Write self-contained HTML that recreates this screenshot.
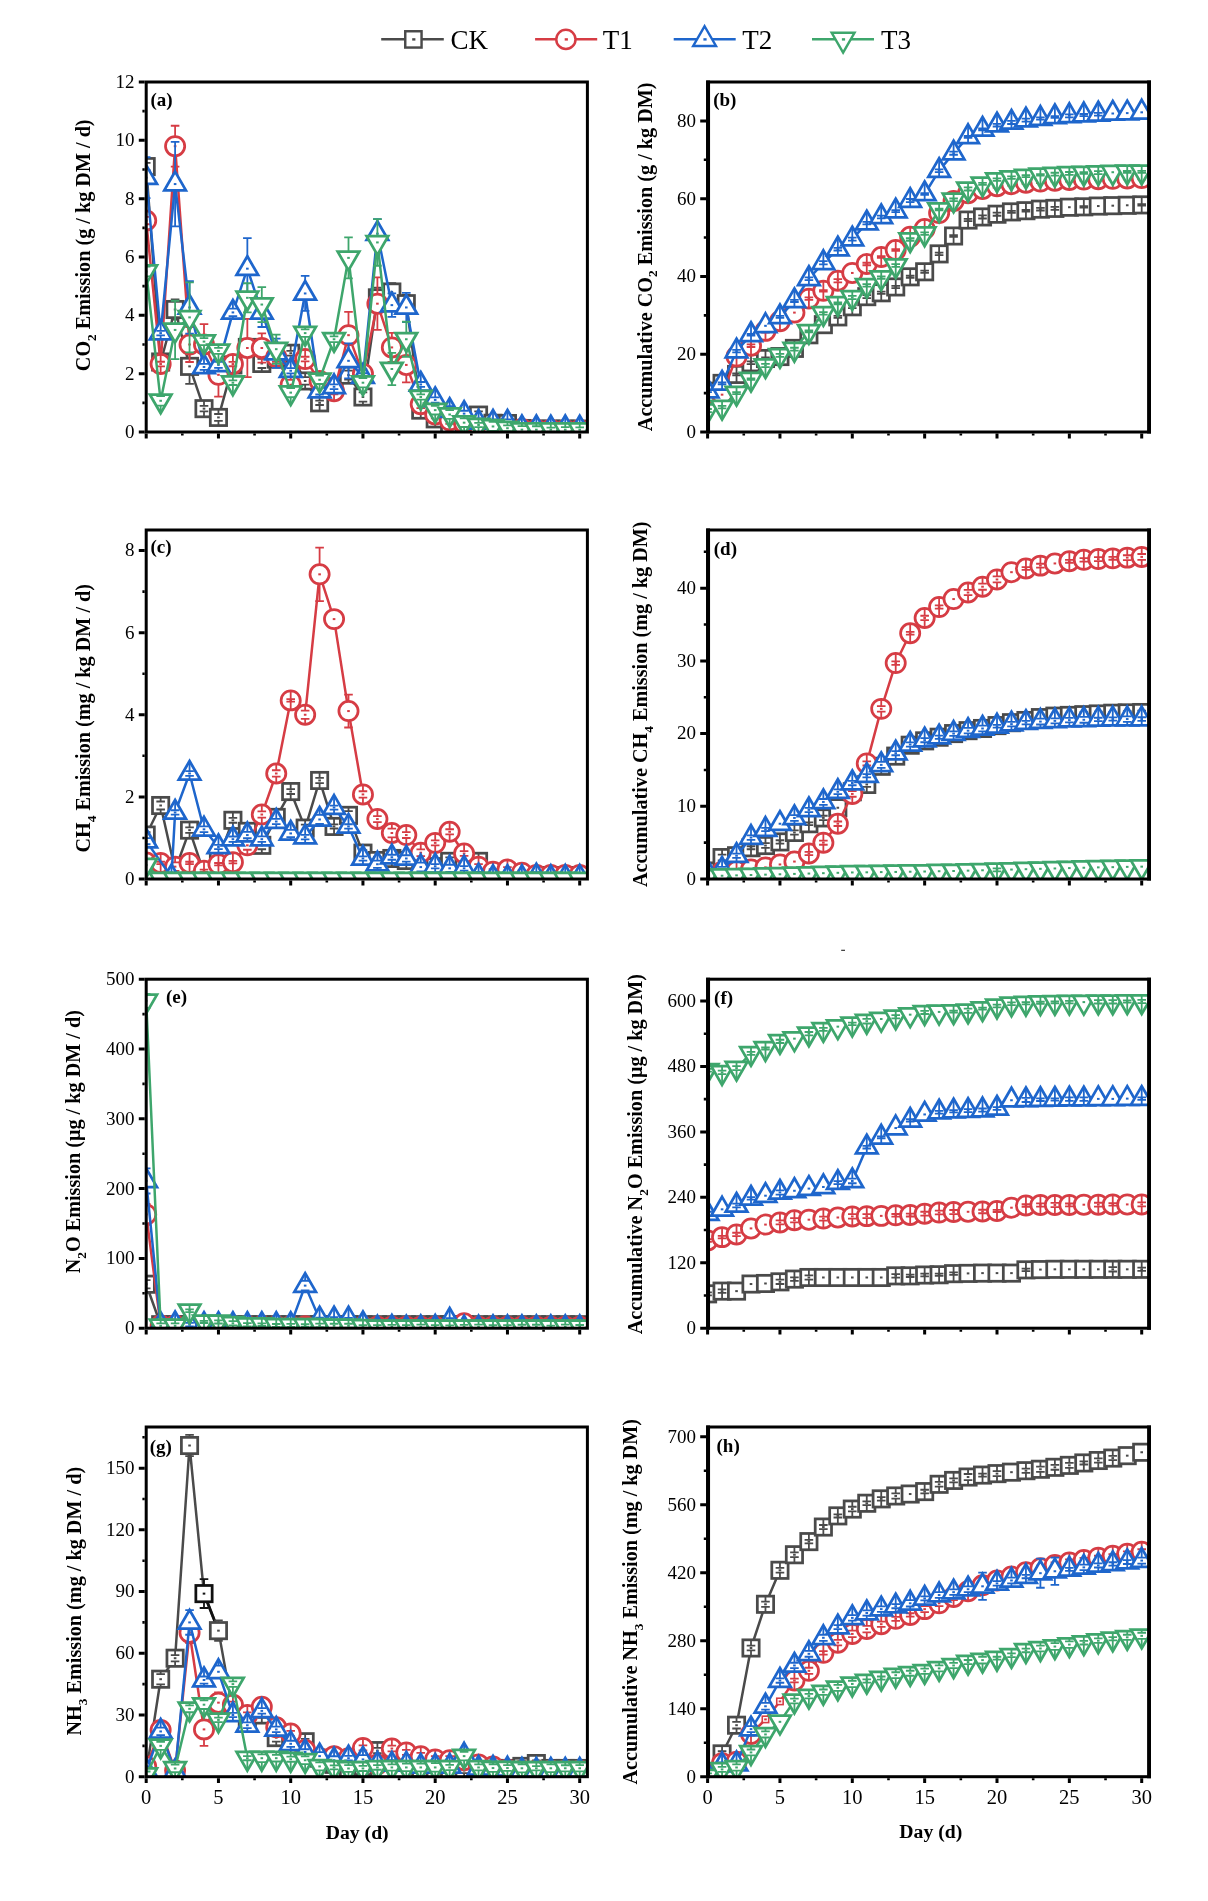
<!DOCTYPE html>
<html><head><meta charset="utf-8"><title>Gas emissions</title>
<style>html,body{margin:0;padding:0;background:#fff}svg{display:block;will-change:transform}text{font-family:"Liberation Serif",serif;fill:#000}</style></head><body>
<svg width="1208" height="1901" viewBox="0 0 1208 1901">
<rect width="1208" height="1901" fill="#fff"/>
<path d="M381.2 39.2H443.8" stroke="#4a4a4a" stroke-width="2.4"/>
<rect x="405.25" y="31.25" width="16.3" height="16.3" fill="#fff" stroke="#4a4a4a" stroke-width="2.45"/>
<rect x="412.2" y="38.2" width="3.2" height="2.4" fill="#4a4a4a"/>
<text x="450.5" y="48.8" font-size="27">CK</text>
<path d="M535.1 39.2H597.2" stroke="#d63c44" stroke-width="2.4"/>
<circle cx="565.9" cy="39.4" r="9.6" fill="#fff" stroke="#d63c44" stroke-width="2.45"/>
<rect x="564.7" y="38.2" width="3.2" height="2.4" fill="#d63c44"/>
<text x="602.7" y="48.8" font-size="27">T1</text>
<path d="M673.7 39.2H735.7" stroke="#1e66cc" stroke-width="2.4"/>
<polygon points="704.6,26.24 716,45.98 693.2,45.98" fill="#fff" stroke="#1e66cc" stroke-width="2.45" stroke-linejoin="miter"/>
<rect x="703.4" y="38.2" width="3.2" height="2.4" fill="#1e66cc"/>
<text x="742.2" y="48.8" font-size="27">T2</text>
<path d="M812.0 39.2H874.0" stroke="#3ea66c" stroke-width="2.4"/>
<polygon points="843.1,52.56 854.5,32.82 831.7,32.82" fill="#fff" stroke="#3ea66c" stroke-width="2.45" stroke-linejoin="miter"/>
<rect x="841.9" y="38.2" width="3.2" height="2.4" fill="#3ea66c"/>
<text x="880.9" y="48.8" font-size="27">T3</text>
<rect x="841.2" y="949.7" width="3.8" height="1.3" fill="#444"/>
<clipPath id="clipa"><rect x="146.2" y="82" width="441.2" height="350"/></clipPath>
<g clip-path="url(#clipa)">
<path d="M146.2 166.58L160.65 362L175.1 309.5L189.55 366.38L204 408.67L218.45 417.42L232.9 364.92L247.35 347.42L261.8 363.46L276.25 359.08L290.7 353.25L305.15 380.96L319.6 402.83L334.05 386.79L348.5 375.12L362.95 397L377.4 297.83L391.85 292L406.3 303.67L420.75 410.12L435.2 418.88L449.65 428.5L464.1 429.08L478.55 415.08L493 423.25L507.45 423.54L521.9 428.5L536.35 429.08L550.8 429.08L565.25 429.08L579.7 429.08" fill="none" stroke="#4a4a4a" stroke-width="2.5" stroke-linejoin="round"/>
<rect x="138.05" y="158.43" width="16.3" height="16.3" fill="#fff" stroke="#4a4a4a" stroke-width="2.75"/>
<path d="M146.2 158.43V162.96M141.9 162.96H150.5M146.2 174.73V170.21M141.9 170.21H150.5" stroke="#4a4a4a" stroke-width="1.8" fill="none"/>
<rect x="144.9" y="165.58" width="2.6" height="2" fill="#4a4a4a"/>
<rect x="152.5" y="353.85" width="16.3" height="16.3" fill="#fff" stroke="#4a4a4a" stroke-width="2.75"/>
<path d="M160.65 353.85V358.21M156.35 358.21H164.95M160.65 370.15V365.79M156.35 365.79H164.95" stroke="#4a4a4a" stroke-width="1.8" fill="none"/>
<rect x="159.35" y="361" width="2.6" height="2" fill="#4a4a4a"/>
<rect x="166.95" y="301.35" width="16.3" height="16.3" fill="#fff" stroke="#4a4a4a" stroke-width="2.75"/>
<path d="M175.1 301.35V299.29M170.8 299.29H179.4M175.1 317.65V319.71M170.8 319.71H179.4" stroke="#4a4a4a" stroke-width="1.8" fill="none"/>
<rect x="173.8" y="308.5" width="2.6" height="2" fill="#4a4a4a"/>
<rect x="181.4" y="358.23" width="16.3" height="16.3" fill="#fff" stroke="#4a4a4a" stroke-width="2.75"/>
<path d="M189.55 358.23V348.88M185.25 348.88H193.85M189.55 374.52V383.88M185.25 383.88H193.85" stroke="#4a4a4a" stroke-width="1.8" fill="none"/>
<rect x="188.25" y="365.38" width="2.6" height="2" fill="#4a4a4a"/>
<rect x="195.85" y="400.52" width="16.3" height="16.3" fill="#fff" stroke="#4a4a4a" stroke-width="2.75"/>
<path d="M204 400.52V405.91M199.7 405.91H208.3M204 416.82V411.42M199.7 411.42H208.3" stroke="#4a4a4a" stroke-width="1.8" fill="none"/>
<rect x="202.7" y="407.67" width="2.6" height="2" fill="#4a4a4a"/>
<rect x="210.3" y="409.27" width="16.3" height="16.3" fill="#fff" stroke="#4a4a4a" stroke-width="2.75"/>
<path d="M218.45 409.27V414M214.15 414H222.75M218.45 425.57V420.83M214.15 420.83H222.75" stroke="#4a4a4a" stroke-width="1.8" fill="none"/>
<rect x="217.15" y="416.42" width="2.6" height="2" fill="#4a4a4a"/>
<rect x="224.75" y="356.77" width="16.3" height="16.3" fill="#fff" stroke="#4a4a4a" stroke-width="2.75"/>
<path d="M232.9 356.77V361.48M228.6 361.48H237.2M232.9 373.07V368.35M228.6 368.35H237.2" stroke="#4a4a4a" stroke-width="1.8" fill="none"/>
<rect x="231.6" y="363.92" width="2.6" height="2" fill="#4a4a4a"/>
<rect x="239.2" y="339.27" width="16.3" height="16.3" fill="#fff" stroke="#4a4a4a" stroke-width="2.75"/>
<path d="M247.35 339.27V344.89M243.05 344.89H251.65M247.35 355.57V349.94M243.05 349.94H251.65" stroke="#4a4a4a" stroke-width="1.8" fill="none"/>
<rect x="246.05" y="346.42" width="2.6" height="2" fill="#4a4a4a"/>
<rect x="253.65" y="355.31" width="16.3" height="16.3" fill="#fff" stroke="#4a4a4a" stroke-width="2.75"/>
<path d="M261.8 355.31V358.93M257.5 358.93H266.1M261.8 371.61V367.99M257.5 367.99H266.1" stroke="#4a4a4a" stroke-width="1.8" fill="none"/>
<rect x="260.5" y="362.46" width="2.6" height="2" fill="#4a4a4a"/>
<rect x="268.1" y="350.93" width="16.3" height="16.3" fill="#fff" stroke="#4a4a4a" stroke-width="2.75"/>
<path d="M276.25 350.93V354.91M271.95 354.91H280.55M276.25 367.23V363.26M271.95 363.26H280.55" stroke="#4a4a4a" stroke-width="1.8" fill="none"/>
<rect x="274.95" y="358.08" width="2.6" height="2" fill="#4a4a4a"/>
<rect x="282.55" y="345.1" width="16.3" height="16.3" fill="#fff" stroke="#4a4a4a" stroke-width="2.75"/>
<path d="M290.7 345.1V350.97M286.4 350.97H295M290.7 361.4V355.53M286.4 355.53H295" stroke="#4a4a4a" stroke-width="1.8" fill="none"/>
<rect x="289.4" y="352.25" width="2.6" height="2" fill="#4a4a4a"/>
<rect x="297" y="372.81" width="16.3" height="16.3" fill="#fff" stroke="#4a4a4a" stroke-width="2.75"/>
<path d="M305.15 372.81V377.2M300.85 377.2H309.45M305.15 389.11V384.71M300.85 384.71H309.45" stroke="#4a4a4a" stroke-width="1.8" fill="none"/>
<rect x="303.85" y="379.96" width="2.6" height="2" fill="#4a4a4a"/>
<rect x="311.45" y="394.68" width="16.3" height="16.3" fill="#fff" stroke="#4a4a4a" stroke-width="2.75"/>
<path d="M319.6 394.68V400.65M315.3 400.65H323.9M319.6 410.98V405.02M315.3 405.02H323.9" stroke="#4a4a4a" stroke-width="1.8" fill="none"/>
<rect x="318.3" y="401.83" width="2.6" height="2" fill="#4a4a4a"/>
<rect x="325.9" y="378.64" width="16.3" height="16.3" fill="#fff" stroke="#4a4a4a" stroke-width="2.75"/>
<path d="M334.05 378.64V383.37M329.75 383.37H338.35M334.05 394.94V390.22M329.75 390.22H338.35" stroke="#4a4a4a" stroke-width="1.8" fill="none"/>
<rect x="332.75" y="385.79" width="2.6" height="2" fill="#4a4a4a"/>
<rect x="340.35" y="366.98" width="16.3" height="16.3" fill="#fff" stroke="#4a4a4a" stroke-width="2.75"/>
<path d="M348.5 366.98V370.56M344.2 370.56H352.8M348.5 383.27V379.69M344.2 379.69H352.8" stroke="#4a4a4a" stroke-width="1.8" fill="none"/>
<rect x="347.2" y="374.12" width="2.6" height="2" fill="#4a4a4a"/>
<rect x="354.8" y="388.85" width="16.3" height="16.3" fill="#fff" stroke="#4a4a4a" stroke-width="2.75"/>
<path d="M362.95 388.85V392.32M358.65 392.32H367.25M362.95 405.15V401.68M358.65 401.68H367.25" stroke="#4a4a4a" stroke-width="1.8" fill="none"/>
<rect x="361.65" y="396" width="2.6" height="2" fill="#4a4a4a"/>
<rect x="369.25" y="289.68" width="16.3" height="16.3" fill="#fff" stroke="#4a4a4a" stroke-width="2.75"/>
<path d="M377.4 289.68V287.63M373.1 287.63H381.7M377.4 305.98V308.04M373.1 308.04H381.7" stroke="#4a4a4a" stroke-width="1.8" fill="none"/>
<rect x="376.1" y="296.83" width="2.6" height="2" fill="#4a4a4a"/>
<rect x="383.7" y="283.85" width="16.3" height="16.3" fill="#fff" stroke="#4a4a4a" stroke-width="2.75"/>
<path d="M391.85 283.85V283.25M387.55 283.25H396.15M391.85 300.15V300.75M387.55 300.75H396.15" stroke="#4a4a4a" stroke-width="1.8" fill="none"/>
<rect x="390.55" y="291" width="2.6" height="2" fill="#4a4a4a"/>
<rect x="398.15" y="295.52" width="16.3" height="16.3" fill="#fff" stroke="#4a4a4a" stroke-width="2.75"/>
<path d="M406.3 295.52V294.92M402 294.92H410.6M406.3 311.82V312.42M402 312.42H410.6" stroke="#4a4a4a" stroke-width="1.8" fill="none"/>
<rect x="405" y="302.67" width="2.6" height="2" fill="#4a4a4a"/>
<rect x="412.6" y="401.98" width="16.3" height="16.3" fill="#fff" stroke="#4a4a4a" stroke-width="2.75"/>
<path d="M420.75 401.98V407.42M416.45 407.42H425.05M420.75 418.27V412.83M416.45 412.83H425.05" stroke="#4a4a4a" stroke-width="1.8" fill="none"/>
<rect x="419.45" y="409.12" width="2.6" height="2" fill="#4a4a4a"/>
<rect x="427.05" y="410.73" width="16.3" height="16.3" fill="#fff" stroke="#4a4a4a" stroke-width="2.75"/>
<path d="M435.2 410.73V415.55M430.9 415.55H439.5M435.2 427.02V422.2M430.9 422.2H439.5" stroke="#4a4a4a" stroke-width="1.8" fill="none"/>
<rect x="433.9" y="417.88" width="2.6" height="2" fill="#4a4a4a"/>
<rect x="441.5" y="420.35" width="16.3" height="16.3" fill="#fff" stroke="#4a4a4a" stroke-width="2.75"/>
<path d="M449.65 420.35V425.56M445.35 425.56H453.95M449.65 436.65V431.44M445.35 431.44H453.95" stroke="#4a4a4a" stroke-width="1.8" fill="none"/>
<rect x="448.35" y="427.5" width="2.6" height="2" fill="#4a4a4a"/>
<rect x="455.95" y="420.93" width="16.3" height="16.3" fill="#fff" stroke="#4a4a4a" stroke-width="2.75"/>
<path d="M464.1 420.93V425.9M459.8 425.9H468.4M464.1 437.23V432.26M459.8 432.26H468.4" stroke="#4a4a4a" stroke-width="1.8" fill="none"/>
<rect x="462.8" y="428.08" width="2.6" height="2" fill="#4a4a4a"/>
<rect x="470.4" y="406.93" width="16.3" height="16.3" fill="#fff" stroke="#4a4a4a" stroke-width="2.75"/>
<path d="M478.55 406.93V411.35M474.25 411.35H482.85M478.55 423.23V418.82M474.25 418.82H482.85" stroke="#4a4a4a" stroke-width="1.8" fill="none"/>
<rect x="477.25" y="414.08" width="2.6" height="2" fill="#4a4a4a"/>
<rect x="484.85" y="415.1" width="16.3" height="16.3" fill="#fff" stroke="#4a4a4a" stroke-width="2.75"/>
<path d="M493 415.1V418.62M488.7 418.62H497.3M493 431.4V427.88M488.7 427.88H497.3" stroke="#4a4a4a" stroke-width="1.8" fill="none"/>
<rect x="491.7" y="422.25" width="2.6" height="2" fill="#4a4a4a"/>
<rect x="499.3" y="415.39" width="16.3" height="16.3" fill="#fff" stroke="#4a4a4a" stroke-width="2.75"/>
<path d="M507.45 415.39V418.84M503.15 418.84H511.75M507.45 431.69V428.24M503.15 428.24H511.75" stroke="#4a4a4a" stroke-width="1.8" fill="none"/>
<rect x="506.15" y="422.54" width="2.6" height="2" fill="#4a4a4a"/>
<rect x="513.75" y="420.35" width="16.3" height="16.3" fill="#fff" stroke="#4a4a4a" stroke-width="2.75"/>
<path d="M521.9 420.35V423.63M517.6 423.63H526.2M521.9 436.65V433.37M517.6 433.37H526.2" stroke="#4a4a4a" stroke-width="1.8" fill="none"/>
<rect x="520.6" y="427.5" width="2.6" height="2" fill="#4a4a4a"/>
<rect x="528.2" y="420.93" width="16.3" height="16.3" fill="#fff" stroke="#4a4a4a" stroke-width="2.75"/>
<path d="M536.35 420.93V426.53M532.05 426.53H540.65M536.35 437.23V431.64M532.05 431.64H540.65" stroke="#4a4a4a" stroke-width="1.8" fill="none"/>
<rect x="535.05" y="428.08" width="2.6" height="2" fill="#4a4a4a"/>
<rect x="542.65" y="420.93" width="16.3" height="16.3" fill="#fff" stroke="#4a4a4a" stroke-width="2.75"/>
<path d="M550.8 420.93V424.28M546.5 424.28H555.1M550.8 437.23V433.88M546.5 433.88H555.1" stroke="#4a4a4a" stroke-width="1.8" fill="none"/>
<rect x="549.5" y="428.08" width="2.6" height="2" fill="#4a4a4a"/>
<rect x="557.1" y="420.93" width="16.3" height="16.3" fill="#fff" stroke="#4a4a4a" stroke-width="2.75"/>
<path d="M565.25 420.93V425.39M560.95 425.39H569.55M565.25 437.23V432.78M560.95 432.78H569.55" stroke="#4a4a4a" stroke-width="1.8" fill="none"/>
<rect x="563.95" y="428.08" width="2.6" height="2" fill="#4a4a4a"/>
<rect x="571.55" y="420.93" width="16.3" height="16.3" fill="#fff" stroke="#4a4a4a" stroke-width="2.75"/>
<path d="M579.7 420.93V426.39M575.4 426.39H584M579.7 437.23V431.77M575.4 431.77H584" stroke="#4a4a4a" stroke-width="1.8" fill="none"/>
<rect x="578.4" y="428.08" width="2.6" height="2" fill="#4a4a4a"/>
<path d="M146.2 220.54L160.65 364.04L175.1 146.17L189.55 344.5L204 344.5L218.45 374.83L232.9 364.04L247.35 348L261.8 348L276.25 357.04L290.7 384.75L305.15 359.08L319.6 380.96L334.05 391.17L348.5 335.17L362.95 373.67L377.4 303.67L391.85 347.42L406.3 364.92L420.75 404.29L435.2 414.5L449.65 420.33L464.1 423.25L478.55 426.17L493 427.62L507.45 428.5L521.9 429.08L536.35 429.67L550.8 429.67L565.25 429.96L579.7 429.96" fill="none" stroke="#d63c44" stroke-width="2.5" stroke-linejoin="round"/>
<circle cx="146.2" cy="220.54" r="9.6" fill="#fff" stroke="#d63c44" stroke-width="2.75"/>
<path d="M146.2 210.94V216.84M141.9 216.84H150.5M146.2 230.14V224.25M141.9 224.25H150.5" stroke="#d63c44" stroke-width="1.8" fill="none"/>
<rect x="144.9" y="219.54" width="2.6" height="2" fill="#d63c44"/>
<circle cx="160.65" cy="364.04" r="9.6" fill="#fff" stroke="#d63c44" stroke-width="2.75"/>
<path d="M160.65 354.44V361.76M156.35 361.76H164.95M160.65 373.64V366.32M156.35 366.32H164.95" stroke="#d63c44" stroke-width="1.8" fill="none"/>
<rect x="159.35" y="363.04" width="2.6" height="2" fill="#d63c44"/>
<circle cx="175.1" cy="146.17" r="9.6" fill="#fff" stroke="#d63c44" stroke-width="2.75"/>
<path d="M175.1 136.57V125.75M170.8 125.75H179.4M175.1 155.77V166.58M170.8 166.58H179.4" stroke="#d63c44" stroke-width="1.8" fill="none"/>
<rect x="173.8" y="145.17" width="2.6" height="2" fill="#d63c44"/>
<circle cx="189.55" cy="344.5" r="9.6" fill="#fff" stroke="#d63c44" stroke-width="2.75"/>
<path d="M189.55 334.9V327M185.25 327H193.85M189.55 354.1V362M185.25 362H193.85" stroke="#d63c44" stroke-width="1.8" fill="none"/>
<rect x="188.25" y="343.5" width="2.6" height="2" fill="#d63c44"/>
<circle cx="204" cy="344.5" r="9.6" fill="#fff" stroke="#d63c44" stroke-width="2.75"/>
<path d="M204 334.9V324.08M199.7 324.08H208.3M204 354.1V364.92M199.7 364.92H208.3" stroke="#d63c44" stroke-width="1.8" fill="none"/>
<rect x="202.7" y="343.5" width="2.6" height="2" fill="#d63c44"/>
<circle cx="218.45" cy="374.83" r="9.6" fill="#fff" stroke="#d63c44" stroke-width="2.75"/>
<path d="M218.45 365.23V352.96M214.15 352.96H222.75M218.45 384.43V396.71M214.15 396.71H222.75" stroke="#d63c44" stroke-width="1.8" fill="none"/>
<rect x="217.15" y="373.83" width="2.6" height="2" fill="#d63c44"/>
<circle cx="232.9" cy="364.04" r="9.6" fill="#fff" stroke="#d63c44" stroke-width="2.75"/>
<path d="M232.9 354.44V361.82M228.6 361.82H237.2M232.9 373.64V366.27M228.6 366.27H237.2" stroke="#d63c44" stroke-width="1.8" fill="none"/>
<rect x="231.6" y="363.04" width="2.6" height="2" fill="#d63c44"/>
<circle cx="247.35" cy="348" r="9.6" fill="#fff" stroke="#d63c44" stroke-width="2.75"/>
<path d="M247.35 338.4V318.83M243.05 318.83H251.65M247.35 357.6V377.17M243.05 377.17H251.65" stroke="#d63c44" stroke-width="1.8" fill="none"/>
<rect x="246.05" y="347" width="2.6" height="2" fill="#d63c44"/>
<circle cx="261.8" cy="348" r="9.6" fill="#fff" stroke="#d63c44" stroke-width="2.75"/>
<path d="M261.8 338.4V333.42M257.5 333.42H266.1M261.8 357.6V362.58M257.5 362.58H266.1" stroke="#d63c44" stroke-width="1.8" fill="none"/>
<rect x="260.5" y="347" width="2.6" height="2" fill="#d63c44"/>
<circle cx="276.25" cy="357.04" r="9.6" fill="#fff" stroke="#d63c44" stroke-width="2.75"/>
<path d="M276.25 347.44V352.2M271.95 352.2H280.55M276.25 366.64V361.89M271.95 361.89H280.55" stroke="#d63c44" stroke-width="1.8" fill="none"/>
<rect x="274.95" y="356.04" width="2.6" height="2" fill="#d63c44"/>
<circle cx="290.7" cy="384.75" r="9.6" fill="#fff" stroke="#d63c44" stroke-width="2.75"/>
<path d="M290.7 375.15V379.85M286.4 379.85H295M290.7 394.35V389.65M286.4 389.65H295" stroke="#d63c44" stroke-width="1.8" fill="none"/>
<rect x="289.4" y="383.75" width="2.6" height="2" fill="#d63c44"/>
<circle cx="305.15" cy="359.08" r="9.6" fill="#fff" stroke="#d63c44" stroke-width="2.75"/>
<path d="M305.15 349.48V356.77M300.85 356.77H309.45M305.15 368.68V361.4M300.85 361.4H309.45" stroke="#d63c44" stroke-width="1.8" fill="none"/>
<rect x="303.85" y="358.08" width="2.6" height="2" fill="#d63c44"/>
<circle cx="319.6" cy="380.96" r="9.6" fill="#fff" stroke="#d63c44" stroke-width="2.75"/>
<path d="M319.6 371.36V378.77M315.3 378.77H323.9M319.6 390.56V383.15M315.3 383.15H323.9" stroke="#d63c44" stroke-width="1.8" fill="none"/>
<rect x="318.3" y="379.96" width="2.6" height="2" fill="#d63c44"/>
<circle cx="334.05" cy="391.17" r="9.6" fill="#fff" stroke="#d63c44" stroke-width="2.75"/>
<path d="M334.05 381.57V387.92M329.75 387.92H338.35M334.05 400.77V394.41M329.75 394.41H338.35" stroke="#d63c44" stroke-width="1.8" fill="none"/>
<rect x="332.75" y="390.17" width="2.6" height="2" fill="#d63c44"/>
<circle cx="348.5" cy="335.17" r="9.6" fill="#fff" stroke="#d63c44" stroke-width="2.75"/>
<path d="M348.5 325.57V311.83M344.2 311.83H352.8M348.5 344.77V358.5M344.2 358.5H352.8" stroke="#d63c44" stroke-width="1.8" fill="none"/>
<rect x="347.2" y="334.17" width="2.6" height="2" fill="#d63c44"/>
<circle cx="362.95" cy="373.67" r="9.6" fill="#fff" stroke="#d63c44" stroke-width="2.75"/>
<path d="M362.95 364.07V369.14M358.65 369.14H367.25M362.95 383.27V378.2M358.65 378.2H367.25" stroke="#d63c44" stroke-width="1.8" fill="none"/>
<rect x="361.65" y="372.67" width="2.6" height="2" fill="#d63c44"/>
<circle cx="377.4" cy="303.67" r="9.6" fill="#fff" stroke="#d63c44" stroke-width="2.75"/>
<path d="M377.4 294.07V277.42M373.1 277.42H381.7M377.4 313.27V329.92M373.1 329.92H381.7" stroke="#d63c44" stroke-width="1.8" fill="none"/>
<rect x="376.1" y="302.67" width="2.6" height="2" fill="#d63c44"/>
<circle cx="391.85" cy="347.42" r="9.6" fill="#fff" stroke="#d63c44" stroke-width="2.75"/>
<path d="M391.85 337.82V332.83M387.55 332.83H396.15M391.85 357.02V362M387.55 362H396.15" stroke="#d63c44" stroke-width="1.8" fill="none"/>
<rect x="390.55" y="346.42" width="2.6" height="2" fill="#d63c44"/>
<circle cx="406.3" cy="364.92" r="9.6" fill="#fff" stroke="#d63c44" stroke-width="2.75"/>
<path d="M406.3 355.32V347.42M402 347.42H410.6M406.3 374.52V382.42M402 382.42H410.6" stroke="#d63c44" stroke-width="1.8" fill="none"/>
<rect x="405" y="363.92" width="2.6" height="2" fill="#d63c44"/>
<circle cx="420.75" cy="404.29" r="9.6" fill="#fff" stroke="#d63c44" stroke-width="2.75"/>
<path d="M420.75 394.69V400.52M416.45 400.52H425.05M420.75 413.89V408.06M416.45 408.06H425.05" stroke="#d63c44" stroke-width="1.8" fill="none"/>
<rect x="419.45" y="403.29" width="2.6" height="2" fill="#d63c44"/>
<circle cx="435.2" cy="414.5" r="9.6" fill="#fff" stroke="#d63c44" stroke-width="2.75"/>
<path d="M435.2 404.9V410.66M430.9 410.66H439.5M435.2 424.1V418.34M430.9 418.34H439.5" stroke="#d63c44" stroke-width="1.8" fill="none"/>
<rect x="433.9" y="413.5" width="2.6" height="2" fill="#d63c44"/>
<circle cx="449.65" cy="420.33" r="9.6" fill="#fff" stroke="#d63c44" stroke-width="2.75"/>
<path d="M449.65 410.73V416.81M445.35 416.81H453.95M449.65 429.93V423.85M445.35 423.85H453.95" stroke="#d63c44" stroke-width="1.8" fill="none"/>
<rect x="448.35" y="419.33" width="2.6" height="2" fill="#d63c44"/>
<circle cx="464.1" cy="423.25" r="9.6" fill="#fff" stroke="#d63c44" stroke-width="2.75"/>
<path d="M464.1 413.65V419.13M459.8 419.13H468.4M464.1 432.85V427.37M459.8 427.37H468.4" stroke="#d63c44" stroke-width="1.8" fill="none"/>
<rect x="462.8" y="422.25" width="2.6" height="2" fill="#d63c44"/>
<circle cx="478.55" cy="426.17" r="9.6" fill="#fff" stroke="#d63c44" stroke-width="2.75"/>
<path d="M478.55 416.57V423.22M474.25 423.22H482.85M478.55 435.77V429.11M474.25 429.11H482.85" stroke="#d63c44" stroke-width="1.8" fill="none"/>
<rect x="477.25" y="425.17" width="2.6" height="2" fill="#d63c44"/>
<circle cx="493" cy="427.62" r="9.6" fill="#fff" stroke="#d63c44" stroke-width="2.75"/>
<path d="M493 418.02V424.07M488.7 424.07H497.3M493 437.23V431.18M488.7 431.18H497.3" stroke="#d63c44" stroke-width="1.8" fill="none"/>
<rect x="491.7" y="426.62" width="2.6" height="2" fill="#d63c44"/>
<circle cx="507.45" cy="428.5" r="9.6" fill="#fff" stroke="#d63c44" stroke-width="2.75"/>
<path d="M507.45 418.9V426.37M503.15 426.37H511.75M507.45 438.1V430.63M503.15 430.63H511.75" stroke="#d63c44" stroke-width="1.8" fill="none"/>
<rect x="506.15" y="427.5" width="2.6" height="2" fill="#d63c44"/>
<circle cx="521.9" cy="429.08" r="9.6" fill="#fff" stroke="#d63c44" stroke-width="2.75"/>
<path d="M521.9 419.48V425.36M517.6 425.36H526.2M521.9 438.68V432.81M517.6 432.81H526.2" stroke="#d63c44" stroke-width="1.8" fill="none"/>
<rect x="520.6" y="428.08" width="2.6" height="2" fill="#d63c44"/>
<circle cx="536.35" cy="429.67" r="9.6" fill="#fff" stroke="#d63c44" stroke-width="2.75"/>
<path d="M536.35 420.07V425.84M532.05 425.84H540.65M536.35 439.27V433.49M532.05 433.49H540.65" stroke="#d63c44" stroke-width="1.8" fill="none"/>
<rect x="535.05" y="428.67" width="2.6" height="2" fill="#d63c44"/>
<circle cx="550.8" cy="429.67" r="9.6" fill="#fff" stroke="#d63c44" stroke-width="2.75"/>
<path d="M550.8 420.07V427.4M546.5 427.4H555.1M550.8 439.27V431.93M546.5 431.93H555.1" stroke="#d63c44" stroke-width="1.8" fill="none"/>
<rect x="549.5" y="428.67" width="2.6" height="2" fill="#d63c44"/>
<circle cx="565.25" cy="429.96" r="9.6" fill="#fff" stroke="#d63c44" stroke-width="2.75"/>
<path d="M565.25 420.36V426.55M560.95 426.55H569.55M565.25 439.56V433.36M560.95 433.36H569.55" stroke="#d63c44" stroke-width="1.8" fill="none"/>
<rect x="563.95" y="428.96" width="2.6" height="2" fill="#d63c44"/>
<circle cx="579.7" cy="429.96" r="9.6" fill="#fff" stroke="#d63c44" stroke-width="2.75"/>
<path d="M579.7 420.36V426.87M575.4 426.87H584M579.7 439.56V433.05M575.4 433.05H584" stroke="#d63c44" stroke-width="1.8" fill="none"/>
<rect x="578.4" y="428.96" width="2.6" height="2" fill="#d63c44"/>
<path d="M146.2 177.67L160.65 333.12L175.1 184.08L189.55 307.46L204 366.96L218.45 364.92L232.9 312.42L247.35 268.67L261.8 312.42L276.25 353.25L290.7 370.75L305.15 293.46L319.6 391.17L334.05 386.79L348.5 360.83L362.95 376.58L377.4 233.67L391.85 305.12L406.3 307.46L420.75 384.46L435.2 399.92L449.65 410.71L464.1 413.62L478.55 422.38L493 422.38L507.45 422.38L521.9 427.92L536.35 427.92L550.8 428.21L565.25 427.92L579.7 428.21" fill="none" stroke="#1e66cc" stroke-width="2.5" stroke-linejoin="round"/>
<polygon points="146.2,165.2 157,183.9 135.4,183.9" fill="#fff" stroke="#1e66cc" stroke-width="2.75" stroke-linejoin="miter"/>
<path d="M146.2 165.2V157.25M141.9 157.25H150.5M146.2 183.9V198.08M141.9 198.08H150.5" stroke="#1e66cc" stroke-width="1.8" fill="none"/>
<rect x="144.9" y="176.67" width="2.6" height="2" fill="#1e66cc"/>
<polygon points="160.65,320.65 171.45,339.36 149.85,339.36" fill="#fff" stroke="#1e66cc" stroke-width="2.75" stroke-linejoin="miter"/>
<path d="M160.65 320.65V330.86M156.35 330.86H164.95M160.65 339.36V335.39M156.35 335.39H164.95" stroke="#1e66cc" stroke-width="1.8" fill="none"/>
<rect x="159.35" y="332.12" width="2.6" height="2" fill="#1e66cc"/>
<polygon points="175.1,171.61 185.9,190.32 164.3,190.32" fill="#fff" stroke="#1e66cc" stroke-width="2.75" stroke-linejoin="miter"/>
<path d="M175.1 171.61V141.79M170.8 141.79H179.4M175.1 190.32V226.37M170.8 226.37H179.4" stroke="#1e66cc" stroke-width="1.8" fill="none"/>
<rect x="173.8" y="183.08" width="2.6" height="2" fill="#1e66cc"/>
<polygon points="189.55,294.99 200.35,313.69 178.75,313.69" fill="#fff" stroke="#1e66cc" stroke-width="2.75" stroke-linejoin="miter"/>
<path d="M189.55 294.99V281.21M185.25 281.21H193.85M189.55 313.69V333.71M185.25 333.71H193.85" stroke="#1e66cc" stroke-width="1.8" fill="none"/>
<rect x="188.25" y="306.46" width="2.6" height="2" fill="#1e66cc"/>
<polygon points="204,354.49 214.8,373.19 193.2,373.19" fill="#fff" stroke="#1e66cc" stroke-width="2.75" stroke-linejoin="miter"/>
<path d="M204 354.49V363.96M199.7 363.96H208.3M204 373.19V369.95M199.7 369.95H208.3" stroke="#1e66cc" stroke-width="1.8" fill="none"/>
<rect x="202.7" y="365.96" width="2.6" height="2" fill="#1e66cc"/>
<polygon points="218.45,352.45 229.25,371.15 207.65,371.15" fill="#fff" stroke="#1e66cc" stroke-width="2.75" stroke-linejoin="miter"/>
<path d="M218.45 352.45V361.94M214.15 361.94H222.75M218.45 371.15V367.89M214.15 367.89H222.75" stroke="#1e66cc" stroke-width="1.8" fill="none"/>
<rect x="217.15" y="363.92" width="2.6" height="2" fill="#1e66cc"/>
<polygon points="232.9,299.95 243.7,318.65 222.1,318.65" fill="#fff" stroke="#1e66cc" stroke-width="2.75" stroke-linejoin="miter"/>
<path d="M232.9 299.95V308.65M228.6 308.65H237.2M232.9 318.65V316.18M228.6 316.18H237.2" stroke="#1e66cc" stroke-width="1.8" fill="none"/>
<rect x="231.6" y="311.42" width="2.6" height="2" fill="#1e66cc"/>
<polygon points="247.35,256.2 258.15,274.9 236.55,274.9" fill="#fff" stroke="#1e66cc" stroke-width="2.75" stroke-linejoin="miter"/>
<path d="M247.35 256.2V238.04M243.05 238.04H251.65M247.35 274.9V299.29M243.05 299.29H251.65" stroke="#1e66cc" stroke-width="1.8" fill="none"/>
<rect x="246.05" y="267.67" width="2.6" height="2" fill="#1e66cc"/>
<polygon points="261.8,299.95 272.6,318.65 251,318.65" fill="#fff" stroke="#1e66cc" stroke-width="2.75" stroke-linejoin="miter"/>
<path d="M261.8 299.95V297.83M257.5 297.83H266.1M261.8 318.65V327M257.5 327H266.1" stroke="#1e66cc" stroke-width="1.8" fill="none"/>
<rect x="260.5" y="311.42" width="2.6" height="2" fill="#1e66cc"/>
<polygon points="276.25,340.78 287.05,359.49 265.45,359.49" fill="#fff" stroke="#1e66cc" stroke-width="2.75" stroke-linejoin="miter"/>
<path d="M276.25 340.78V338.67M271.95 338.67H280.55M276.25 359.49V367.83M271.95 367.83H280.55" stroke="#1e66cc" stroke-width="1.8" fill="none"/>
<rect x="274.95" y="352.25" width="2.6" height="2" fill="#1e66cc"/>
<polygon points="290.7,358.28 301.5,376.99 279.9,376.99" fill="#fff" stroke="#1e66cc" stroke-width="2.75" stroke-linejoin="miter"/>
<path d="M290.7 358.28V368.03M286.4 368.03H295M290.7 376.99V373.47M286.4 373.47H295" stroke="#1e66cc" stroke-width="1.8" fill="none"/>
<rect x="289.4" y="369.75" width="2.6" height="2" fill="#1e66cc"/>
<polygon points="305.15,280.99 315.95,299.69 294.35,299.69" fill="#fff" stroke="#1e66cc" stroke-width="2.75" stroke-linejoin="miter"/>
<path d="M305.15 280.99V275.96M300.85 275.96H309.45M305.15 299.69V310.96M300.85 310.96H309.45" stroke="#1e66cc" stroke-width="1.8" fill="none"/>
<rect x="303.85" y="292.46" width="2.6" height="2" fill="#1e66cc"/>
<polygon points="319.6,378.7 330.4,397.4 308.8,397.4" fill="#fff" stroke="#1e66cc" stroke-width="2.75" stroke-linejoin="miter"/>
<path d="M319.6 378.7V387.85M315.3 387.85H323.9M319.6 397.4V394.49M315.3 394.49H323.9" stroke="#1e66cc" stroke-width="1.8" fill="none"/>
<rect x="318.3" y="390.17" width="2.6" height="2" fill="#1e66cc"/>
<polygon points="334.05,374.32 344.85,393.03 323.25,393.03" fill="#fff" stroke="#1e66cc" stroke-width="2.75" stroke-linejoin="miter"/>
<path d="M334.05 374.32V384.41M329.75 384.41H338.35M334.05 393.03V389.18M329.75 389.18H338.35" stroke="#1e66cc" stroke-width="1.8" fill="none"/>
<rect x="332.75" y="385.79" width="2.6" height="2" fill="#1e66cc"/>
<polygon points="348.5,348.36 359.3,367.07 337.7,367.07" fill="#fff" stroke="#1e66cc" stroke-width="2.75" stroke-linejoin="miter"/>
<path d="M348.5 348.36V343.33M344.2 343.33H352.8M348.5 367.07V378.33M344.2 378.33H352.8" stroke="#1e66cc" stroke-width="1.8" fill="none"/>
<rect x="347.2" y="359.83" width="2.6" height="2" fill="#1e66cc"/>
<polygon points="362.95,364.11 373.75,382.82 352.15,382.82" fill="#fff" stroke="#1e66cc" stroke-width="2.75" stroke-linejoin="miter"/>
<path d="M362.95 364.11V373.26M358.65 373.26H367.25M362.95 382.82V379.91M358.65 379.91H367.25" stroke="#1e66cc" stroke-width="1.8" fill="none"/>
<rect x="361.65" y="375.58" width="2.6" height="2" fill="#1e66cc"/>
<polygon points="377.4,221.2 388.2,239.9 366.6,239.9" fill="#fff" stroke="#1e66cc" stroke-width="2.75" stroke-linejoin="miter"/>
<path d="M377.4 221.2V219.08M373.1 219.08H381.7M377.4 239.9V248.25M373.1 248.25H381.7" stroke="#1e66cc" stroke-width="1.8" fill="none"/>
<rect x="376.1" y="232.67" width="2.6" height="2" fill="#1e66cc"/>
<polygon points="391.85,292.65 402.65,311.36 381.05,311.36" fill="#fff" stroke="#1e66cc" stroke-width="2.75" stroke-linejoin="miter"/>
<path d="M391.85 292.65V293.46M387.55 293.46H396.15M391.85 311.36V316.79M387.55 316.79H396.15" stroke="#1e66cc" stroke-width="1.8" fill="none"/>
<rect x="390.55" y="304.12" width="2.6" height="2" fill="#1e66cc"/>
<polygon points="406.3,294.99 417.1,313.69 395.5,313.69" fill="#fff" stroke="#1e66cc" stroke-width="2.75" stroke-linejoin="miter"/>
<path d="M406.3 294.99V292.88M402 292.88H410.6M406.3 313.69V322.04M402 322.04H410.6" stroke="#1e66cc" stroke-width="1.8" fill="none"/>
<rect x="405" y="306.46" width="2.6" height="2" fill="#1e66cc"/>
<polygon points="420.75,371.99 431.55,390.69 409.95,390.69" fill="#fff" stroke="#1e66cc" stroke-width="2.75" stroke-linejoin="miter"/>
<path d="M420.75 371.99V382.02M416.45 382.02H425.05M420.75 390.69V386.9M416.45 386.9H425.05" stroke="#1e66cc" stroke-width="1.8" fill="none"/>
<rect x="419.45" y="383.46" width="2.6" height="2" fill="#1e66cc"/>
<polygon points="435.2,387.45 446,406.15 424.4,406.15" fill="#fff" stroke="#1e66cc" stroke-width="2.75" stroke-linejoin="miter"/>
<path d="M435.2 387.45V397.28M430.9 397.28H439.5M435.2 406.15V402.55M430.9 402.55H439.5" stroke="#1e66cc" stroke-width="1.8" fill="none"/>
<rect x="433.9" y="398.92" width="2.6" height="2" fill="#1e66cc"/>
<polygon points="449.65,398.24 460.45,416.94 438.85,416.94" fill="#fff" stroke="#1e66cc" stroke-width="2.75" stroke-linejoin="miter"/>
<path d="M449.65 398.24V406.26M445.35 406.26H453.95M449.65 416.94V415.16M445.35 415.16H453.95" stroke="#1e66cc" stroke-width="1.8" fill="none"/>
<rect x="448.35" y="409.71" width="2.6" height="2" fill="#1e66cc"/>
<polygon points="464.1,401.15 474.9,419.86 453.3,419.86" fill="#fff" stroke="#1e66cc" stroke-width="2.75" stroke-linejoin="miter"/>
<path d="M464.1 401.15V410.74M459.8 410.74H468.4M464.1 419.86V416.51M459.8 416.51H468.4" stroke="#1e66cc" stroke-width="1.8" fill="none"/>
<rect x="462.8" y="412.62" width="2.6" height="2" fill="#1e66cc"/>
<polygon points="478.55,409.9 489.35,428.61 467.75,428.61" fill="#fff" stroke="#1e66cc" stroke-width="2.75" stroke-linejoin="miter"/>
<path d="M478.55 409.9V418.48M474.25 418.48H482.85M478.55 428.61V426.27M474.25 426.27H482.85" stroke="#1e66cc" stroke-width="1.8" fill="none"/>
<rect x="477.25" y="421.38" width="2.6" height="2" fill="#1e66cc"/>
<polygon points="493,409.9 503.8,428.61 482.2,428.61" fill="#fff" stroke="#1e66cc" stroke-width="2.75" stroke-linejoin="miter"/>
<path d="M493 409.9V419.31M488.7 419.31H497.3M493 428.61V425.44M488.7 425.44H497.3" stroke="#1e66cc" stroke-width="1.8" fill="none"/>
<rect x="491.7" y="421.38" width="2.6" height="2" fill="#1e66cc"/>
<polygon points="507.45,409.9 518.25,428.61 496.65,428.61" fill="#fff" stroke="#1e66cc" stroke-width="2.75" stroke-linejoin="miter"/>
<path d="M507.45 409.9V419.46M503.15 419.46H511.75M507.45 428.61V425.29M503.15 425.29H511.75" stroke="#1e66cc" stroke-width="1.8" fill="none"/>
<rect x="506.15" y="421.38" width="2.6" height="2" fill="#1e66cc"/>
<polygon points="521.9,415.45 532.7,434.15 511.1,434.15" fill="#fff" stroke="#1e66cc" stroke-width="2.75" stroke-linejoin="miter"/>
<path d="M521.9 415.45V425.06M517.6 425.06H526.2M521.9 434.15V430.78M517.6 430.78H526.2" stroke="#1e66cc" stroke-width="1.8" fill="none"/>
<rect x="520.6" y="426.92" width="2.6" height="2" fill="#1e66cc"/>
<polygon points="536.35,415.45 547.15,434.15 525.55,434.15" fill="#fff" stroke="#1e66cc" stroke-width="2.75" stroke-linejoin="miter"/>
<path d="M536.35 415.45V424.65M532.05 424.65H540.65M536.35 434.15V431.18M532.05 431.18H540.65" stroke="#1e66cc" stroke-width="1.8" fill="none"/>
<rect x="535.05" y="426.92" width="2.6" height="2" fill="#1e66cc"/>
<polygon points="550.8,415.74 561.6,434.44 540,434.44" fill="#fff" stroke="#1e66cc" stroke-width="2.75" stroke-linejoin="miter"/>
<path d="M550.8 415.74V424.96M546.5 424.96H555.1M550.8 434.44V431.45M546.5 431.45H555.1" stroke="#1e66cc" stroke-width="1.8" fill="none"/>
<rect x="549.5" y="427.21" width="2.6" height="2" fill="#1e66cc"/>
<polygon points="565.25,415.45 576.05,434.15 554.45,434.15" fill="#fff" stroke="#1e66cc" stroke-width="2.75" stroke-linejoin="miter"/>
<path d="M565.25 415.45V425.38M560.95 425.38H569.55M565.25 434.15V430.45M560.95 430.45H569.55" stroke="#1e66cc" stroke-width="1.8" fill="none"/>
<rect x="563.95" y="426.92" width="2.6" height="2" fill="#1e66cc"/>
<polygon points="579.7,415.74 590.5,434.44 568.9,434.44" fill="#fff" stroke="#1e66cc" stroke-width="2.75" stroke-linejoin="miter"/>
<path d="M579.7 415.74V423.47M575.4 423.47H584M579.7 434.44V432.95M575.4 432.95H584" stroke="#1e66cc" stroke-width="1.8" fill="none"/>
<rect x="578.4" y="427.21" width="2.6" height="2" fill="#1e66cc"/>
<path d="M146.2 271.58L160.65 400.79L175.1 329.92L189.55 317.38L204 341.58L218.45 350.92L232.9 382.71L247.35 297.83L261.8 304.54L276.25 349.17L290.7 392.62L305.15 333.12L319.6 379.79L334.05 339.25L348.5 257.88L362.95 382.71L377.4 242.42L391.85 369L406.3 339.25L420.75 397L435.2 410.12L449.65 414.5L464.1 422.67L478.55 425L493 426.46L507.45 428.21L521.9 429.67L536.35 429.67L550.8 429.67L565.25 429.67L579.7 429.67" fill="none" stroke="#3ea66c" stroke-width="2.5" stroke-linejoin="round"/>
<polygon points="146.2,284.05 157,265.35 135.4,265.35" fill="#fff" stroke="#3ea66c" stroke-width="2.75" stroke-linejoin="miter"/>
<path d="M146.2 265.35V266.72M141.9 266.72H150.5M146.2 284.05V276.45M141.9 276.45H150.5" stroke="#3ea66c" stroke-width="1.8" fill="none"/>
<rect x="144.9" y="270.58" width="2.6" height="2" fill="#3ea66c"/>
<polygon points="160.65,413.26 171.45,394.56 149.85,394.56" fill="#fff" stroke="#3ea66c" stroke-width="2.75" stroke-linejoin="miter"/>
<path d="M160.65 394.56V396.03M156.35 396.03H164.95M160.65 413.26V405.55M156.35 405.55H164.95" stroke="#3ea66c" stroke-width="1.8" fill="none"/>
<rect x="159.35" y="399.79" width="2.6" height="2" fill="#3ea66c"/>
<polygon points="175.1,342.39 185.9,323.68 164.3,323.68" fill="#fff" stroke="#3ea66c" stroke-width="2.75" stroke-linejoin="miter"/>
<path d="M175.1 323.68V300.75M170.8 300.75H179.4M175.1 342.39V359.08M170.8 359.08H179.4" stroke="#3ea66c" stroke-width="1.8" fill="none"/>
<rect x="173.8" y="328.92" width="2.6" height="2" fill="#3ea66c"/>
<polygon points="189.55,329.85 200.35,311.14 178.75,311.14" fill="#fff" stroke="#3ea66c" stroke-width="2.75" stroke-linejoin="miter"/>
<path d="M189.55 311.14V282.38M185.25 282.38H193.85M189.55 329.85V352.38M185.25 352.38H193.85" stroke="#3ea66c" stroke-width="1.8" fill="none"/>
<rect x="188.25" y="316.38" width="2.6" height="2" fill="#3ea66c"/>
<polygon points="204,354.05 214.8,335.35 193.2,335.35" fill="#fff" stroke="#3ea66c" stroke-width="2.75" stroke-linejoin="miter"/>
<path d="M204 335.35V338.03M199.7 338.03H208.3M204 354.05V345.14M199.7 345.14H208.3" stroke="#3ea66c" stroke-width="1.8" fill="none"/>
<rect x="202.7" y="340.58" width="2.6" height="2" fill="#3ea66c"/>
<polygon points="218.45,363.39 229.25,344.68 207.65,344.68" fill="#fff" stroke="#3ea66c" stroke-width="2.75" stroke-linejoin="miter"/>
<path d="M218.45 344.68V347.86M214.15 347.86H222.75M218.45 363.39V353.97M214.15 353.97H222.75" stroke="#3ea66c" stroke-width="1.8" fill="none"/>
<rect x="217.15" y="349.92" width="2.6" height="2" fill="#3ea66c"/>
<polygon points="232.9,395.18 243.7,376.47 222.1,376.47" fill="#fff" stroke="#3ea66c" stroke-width="2.75" stroke-linejoin="miter"/>
<path d="M232.9 376.47V380.42M228.6 380.42H237.2M232.9 395.18V385M228.6 385H237.2" stroke="#3ea66c" stroke-width="1.8" fill="none"/>
<rect x="231.6" y="381.71" width="2.6" height="2" fill="#3ea66c"/>
<polygon points="247.35,310.3 258.15,291.6 236.55,291.6" fill="#fff" stroke="#3ea66c" stroke-width="2.75" stroke-linejoin="miter"/>
<path d="M247.35 291.6V283.25M243.05 283.25H251.65M247.35 310.3V312.42M243.05 312.42H251.65" stroke="#3ea66c" stroke-width="1.8" fill="none"/>
<rect x="246.05" y="296.83" width="2.6" height="2" fill="#3ea66c"/>
<polygon points="261.8,317.01 272.6,298.31 251,298.31" fill="#fff" stroke="#3ea66c" stroke-width="2.75" stroke-linejoin="miter"/>
<path d="M261.8 298.31V287.04M257.5 287.04H266.1M261.8 317.01V322.04M257.5 322.04H266.1" stroke="#3ea66c" stroke-width="1.8" fill="none"/>
<rect x="260.5" y="303.54" width="2.6" height="2" fill="#3ea66c"/>
<polygon points="276.25,361.64 287.05,342.93 265.45,342.93" fill="#fff" stroke="#3ea66c" stroke-width="2.75" stroke-linejoin="miter"/>
<path d="M276.25 342.93V334.58M271.95 334.58H280.55M276.25 361.64V363.75M271.95 363.75H280.55" stroke="#3ea66c" stroke-width="1.8" fill="none"/>
<rect x="274.95" y="348.17" width="2.6" height="2" fill="#3ea66c"/>
<polygon points="290.7,405.1 301.5,386.39 279.9,386.39" fill="#fff" stroke="#3ea66c" stroke-width="2.75" stroke-linejoin="miter"/>
<path d="M290.7 386.39V388.01M286.4 388.01H295M290.7 405.1V397.24M286.4 397.24H295" stroke="#3ea66c" stroke-width="1.8" fill="none"/>
<rect x="289.4" y="391.62" width="2.6" height="2" fill="#3ea66c"/>
<polygon points="305.15,345.6 315.95,326.89 294.35,326.89" fill="#fff" stroke="#3ea66c" stroke-width="2.75" stroke-linejoin="miter"/>
<path d="M305.15 326.89V329.41M300.85 329.41H309.45M305.15 345.6V336.84M300.85 336.84H309.45" stroke="#3ea66c" stroke-width="1.8" fill="none"/>
<rect x="303.85" y="332.12" width="2.6" height="2" fill="#3ea66c"/>
<polygon points="319.6,392.26 330.4,373.56 308.8,373.56" fill="#fff" stroke="#3ea66c" stroke-width="2.75" stroke-linejoin="miter"/>
<path d="M319.6 373.56V375.6M315.3 375.6H323.9M319.6 392.26V383.98M315.3 383.98H323.9" stroke="#3ea66c" stroke-width="1.8" fill="none"/>
<rect x="318.3" y="378.79" width="2.6" height="2" fill="#3ea66c"/>
<polygon points="334.05,351.72 344.85,333.01 323.25,333.01" fill="#fff" stroke="#3ea66c" stroke-width="2.75" stroke-linejoin="miter"/>
<path d="M334.05 333.01V336.31M329.75 336.31H338.35M334.05 351.72V342.19M329.75 342.19H338.35" stroke="#3ea66c" stroke-width="1.8" fill="none"/>
<rect x="332.75" y="338.25" width="2.6" height="2" fill="#3ea66c"/>
<polygon points="348.5,270.35 359.3,251.64 337.7,251.64" fill="#fff" stroke="#3ea66c" stroke-width="2.75" stroke-linejoin="miter"/>
<path d="M348.5 251.64V237.46M344.2 237.46H352.8M348.5 270.35V278.29M344.2 278.29H352.8" stroke="#3ea66c" stroke-width="1.8" fill="none"/>
<rect x="347.2" y="256.88" width="2.6" height="2" fill="#3ea66c"/>
<polygon points="362.95,395.18 373.75,376.47 352.15,376.47" fill="#fff" stroke="#3ea66c" stroke-width="2.75" stroke-linejoin="miter"/>
<path d="M362.95 376.47V377.98M358.65 377.98H367.25M362.95 395.18V387.44M358.65 387.44H367.25" stroke="#3ea66c" stroke-width="1.8" fill="none"/>
<rect x="361.65" y="381.71" width="2.6" height="2" fill="#3ea66c"/>
<polygon points="377.4,254.89 388.2,236.18 366.6,236.18" fill="#fff" stroke="#3ea66c" stroke-width="2.75" stroke-linejoin="miter"/>
<path d="M377.4 236.18V219.08M373.1 219.08H381.7M377.4 254.89V265.75M373.1 265.75H381.7" stroke="#3ea66c" stroke-width="1.8" fill="none"/>
<rect x="376.1" y="241.42" width="2.6" height="2" fill="#3ea66c"/>
<polygon points="391.85,381.47 402.65,362.76 381.05,362.76" fill="#fff" stroke="#3ea66c" stroke-width="2.75" stroke-linejoin="miter"/>
<path d="M391.85 362.76V352.96M387.55 352.96H396.15M391.85 381.47V385.04M387.55 385.04H396.15" stroke="#3ea66c" stroke-width="1.8" fill="none"/>
<rect x="390.55" y="368" width="2.6" height="2" fill="#3ea66c"/>
<polygon points="406.3,351.72 417.1,333.01 395.5,333.01" fill="#fff" stroke="#3ea66c" stroke-width="2.75" stroke-linejoin="miter"/>
<path d="M406.3 333.01V321.75M402 321.75H410.6M406.3 351.72V356.75M402 356.75H410.6" stroke="#3ea66c" stroke-width="1.8" fill="none"/>
<rect x="405" y="338.25" width="2.6" height="2" fill="#3ea66c"/>
<polygon points="420.75,409.47 431.55,390.76 409.95,390.76" fill="#fff" stroke="#3ea66c" stroke-width="2.75" stroke-linejoin="miter"/>
<path d="M420.75 390.76V394.35M416.45 394.35H425.05M420.75 409.47V399.65M416.45 399.65H425.05" stroke="#3ea66c" stroke-width="1.8" fill="none"/>
<rect x="419.45" y="396" width="2.6" height="2" fill="#3ea66c"/>
<polygon points="435.2,422.6 446,403.89 424.4,403.89" fill="#fff" stroke="#3ea66c" stroke-width="2.75" stroke-linejoin="miter"/>
<path d="M435.2 403.89V405.74M430.9 405.74H439.5M435.2 422.6V414.51M430.9 414.51H439.5" stroke="#3ea66c" stroke-width="1.8" fill="none"/>
<rect x="433.9" y="409.12" width="2.6" height="2" fill="#3ea66c"/>
<polygon points="449.65,426.97 460.45,408.26 438.85,408.26" fill="#fff" stroke="#3ea66c" stroke-width="2.75" stroke-linejoin="miter"/>
<path d="M449.65 408.26V410.18M445.35 410.18H453.95M449.65 426.97V418.82M445.35 418.82H453.95" stroke="#3ea66c" stroke-width="1.8" fill="none"/>
<rect x="448.35" y="413.5" width="2.6" height="2" fill="#3ea66c"/>
<polygon points="464.1,435.14 474.9,416.43 453.3,416.43" fill="#fff" stroke="#3ea66c" stroke-width="2.75" stroke-linejoin="miter"/>
<path d="M464.1 416.43V418.31M459.8 418.31H468.4M464.1 435.14V427.02M459.8 427.02H468.4" stroke="#3ea66c" stroke-width="1.8" fill="none"/>
<rect x="462.8" y="421.67" width="2.6" height="2" fill="#3ea66c"/>
<polygon points="478.55,437.47 489.35,418.76 467.75,418.76" fill="#fff" stroke="#3ea66c" stroke-width="2.75" stroke-linejoin="miter"/>
<path d="M478.55 418.76V422.88M474.25 422.88H482.85M478.55 437.47V427.12M474.25 427.12H482.85" stroke="#3ea66c" stroke-width="1.8" fill="none"/>
<rect x="477.25" y="424" width="2.6" height="2" fill="#3ea66c"/>
<polygon points="493,438.93 503.8,420.22 482.2,420.22" fill="#fff" stroke="#3ea66c" stroke-width="2.75" stroke-linejoin="miter"/>
<path d="M493 420.22V421.94M488.7 421.94H497.3M493 438.93V430.97M488.7 430.97H497.3" stroke="#3ea66c" stroke-width="1.8" fill="none"/>
<rect x="491.7" y="425.46" width="2.6" height="2" fill="#3ea66c"/>
<polygon points="507.45,440.68 518.25,421.97 496.65,421.97" fill="#fff" stroke="#3ea66c" stroke-width="2.75" stroke-linejoin="miter"/>
<path d="M507.45 421.97V425.35M503.15 425.35H511.75M507.45 440.68V431.07M503.15 431.07H511.75" stroke="#3ea66c" stroke-width="1.8" fill="none"/>
<rect x="506.15" y="427.21" width="2.6" height="2" fill="#3ea66c"/>
<polygon points="521.9,442.14 532.7,423.43 511.1,423.43" fill="#fff" stroke="#3ea66c" stroke-width="2.75" stroke-linejoin="miter"/>
<path d="M521.9 423.43V426.09M517.6 426.09H526.2M521.9 442.14V433.24M517.6 433.24H526.2" stroke="#3ea66c" stroke-width="1.8" fill="none"/>
<rect x="520.6" y="428.67" width="2.6" height="2" fill="#3ea66c"/>
<polygon points="536.35,442.14 547.15,423.43 525.55,423.43" fill="#fff" stroke="#3ea66c" stroke-width="2.75" stroke-linejoin="miter"/>
<path d="M536.35 423.43V426.24M532.05 426.24H540.65M536.35 442.14V433.09M532.05 433.09H540.65" stroke="#3ea66c" stroke-width="1.8" fill="none"/>
<rect x="535.05" y="428.67" width="2.6" height="2" fill="#3ea66c"/>
<polygon points="550.8,442.14 561.6,423.43 540,423.43" fill="#fff" stroke="#3ea66c" stroke-width="2.75" stroke-linejoin="miter"/>
<path d="M550.8 423.43V427.56M546.5 427.56H555.1M550.8 442.14V431.77M546.5 431.77H555.1" stroke="#3ea66c" stroke-width="1.8" fill="none"/>
<rect x="549.5" y="428.67" width="2.6" height="2" fill="#3ea66c"/>
<polygon points="565.25,442.14 576.05,423.43 554.45,423.43" fill="#fff" stroke="#3ea66c" stroke-width="2.75" stroke-linejoin="miter"/>
<path d="M565.25 423.43V427.21M560.95 427.21H569.55M565.25 442.14V432.12M560.95 432.12H569.55" stroke="#3ea66c" stroke-width="1.8" fill="none"/>
<rect x="563.95" y="428.67" width="2.6" height="2" fill="#3ea66c"/>
<polygon points="579.7,442.14 590.5,423.43 568.9,423.43" fill="#fff" stroke="#3ea66c" stroke-width="2.75" stroke-linejoin="miter"/>
<path d="M579.7 423.43V427.38M575.4 427.38H584M579.7 442.14V431.96M575.4 431.96H584" stroke="#3ea66c" stroke-width="1.8" fill="none"/>
<rect x="578.4" y="428.67" width="2.6" height="2" fill="#3ea66c"/>
</g>
<rect x="146.2" y="82" width="441.2" height="350" fill="none" stroke="#000" stroke-width="3.0"/>
<path d="M144.7 432h-5.9M144.7 373.67h-5.9M144.7 315.33h-5.9M144.7 257h-5.9M144.7 198.67h-5.9M144.7 140.33h-5.9M144.7 82h-5.9M146.2 433.5v4.9M218.45 433.5v4.9M290.7 433.5v4.9M362.95 433.5v4.9M435.2 433.5v4.9M507.45 433.5v4.9M579.7 433.5v4.9" stroke="#000" stroke-width="3" fill="none"/>
<path d="M144.7 402.83h-2.3M144.7 344.5h-2.3M144.7 286.17h-2.3M144.7 227.83h-2.3M144.7 169.5h-2.3M144.7 111.17h-2.3M182.32 433.5v2.1M254.57 433.5v2.1M326.82 433.5v2.1M399.07 433.5v2.1M471.32 433.5v2.1M543.58 433.5v2.1" stroke="#000" stroke-width="2.6" fill="none"/>
<text x="134.6" y="437.9" text-anchor="end" font-size="19">0</text>
<text x="134.6" y="379.57" text-anchor="end" font-size="19">2</text>
<text x="134.6" y="321.23" text-anchor="end" font-size="19">4</text>
<text x="134.6" y="262.9" text-anchor="end" font-size="19">6</text>
<text x="134.6" y="204.57" text-anchor="end" font-size="19">8</text>
<text x="134.6" y="146.23" text-anchor="end" font-size="19">10</text>
<text x="134.6" y="87.9" text-anchor="end" font-size="19">12</text>
<text x="150.4" y="106.3" font-size="19" font-weight="bold">(a)</text>
<text transform="translate(90.2,245.3) rotate(-90)" text-anchor="middle" font-size="20.2" font-weight="bold">CO<tspan font-size="13.4" dy="5.6">2</tspan><tspan dy="-5.6">&#8203;</tspan> Emission (g / kg DM / d)</text>
<clipPath id="clipb"><rect x="707.6" y="82" width="441.9" height="350"/></clipPath>
<g clip-path="url(#clipb)">
<path d="M707.6 391.17L722.07 383.39L736.54 374.44L751.01 362.78L765.48 358.5L779.95 356.56L794.42 348.39L808.89 334.78L823.36 324.67L837.83 316.89L852.3 306.78L866.77 296.67L881.24 292.78L895.71 286.94L910.18 276.83L924.65 271.78L939.12 253.89L953.59 236L968.06 220.06L982.53 216.94L997 214.22L1011.47 211.89L1025.94 210.72L1040.41 209.17L1054.88 208.39L1069.35 207.22L1083.82 206.83L1098.29 206.06L1112.76 205.67L1127.23 205.28L1141.7 204.89" fill="none" stroke="#4a4a4a" stroke-width="2.5" stroke-linejoin="round"/>
<rect x="699.45" y="383.02" width="16.3" height="16.3" fill="#fff" stroke="#4a4a4a" stroke-width="2.75"/>
<path d="M707.6 383.02V389.67M703.3 389.67H711.9M707.6 399.32V392.66M703.3 392.66H711.9" stroke="#4a4a4a" stroke-width="1.8" fill="none"/>
<rect x="706.3" y="390.17" width="2.6" height="2" fill="#4a4a4a"/>
<rect x="713.92" y="375.24" width="16.3" height="16.3" fill="#fff" stroke="#4a4a4a" stroke-width="2.75"/>
<path d="M722.07 375.24V382.22M717.77 382.22H726.37M722.07 391.54V384.56M717.77 384.56H726.37" stroke="#4a4a4a" stroke-width="1.8" fill="none"/>
<rect x="720.77" y="382.39" width="2.6" height="2" fill="#4a4a4a"/>
<rect x="728.39" y="366.29" width="16.3" height="16.3" fill="#fff" stroke="#4a4a4a" stroke-width="2.75"/>
<path d="M736.54 366.29V373.45M732.24 373.45H740.84M736.54 382.59V375.44M732.24 375.44H740.84" stroke="#4a4a4a" stroke-width="1.8" fill="none"/>
<rect x="735.24" y="373.44" width="2.6" height="2" fill="#4a4a4a"/>
<rect x="742.86" y="354.63" width="16.3" height="16.3" fill="#fff" stroke="#4a4a4a" stroke-width="2.75"/>
<path d="M751.01 354.63V361.47M746.71 361.47H755.31M751.01 370.93V364.08M746.71 364.08H755.31" stroke="#4a4a4a" stroke-width="1.8" fill="none"/>
<rect x="749.71" y="361.78" width="2.6" height="2" fill="#4a4a4a"/>
<rect x="757.33" y="350.35" width="16.3" height="16.3" fill="#fff" stroke="#4a4a4a" stroke-width="2.75"/>
<path d="M765.48 350.35V357.46M761.18 357.46H769.78M765.48 366.65V359.54M761.18 359.54H769.78" stroke="#4a4a4a" stroke-width="1.8" fill="none"/>
<rect x="764.18" y="357.5" width="2.6" height="2" fill="#4a4a4a"/>
<rect x="771.8" y="348.41" width="16.3" height="16.3" fill="#fff" stroke="#4a4a4a" stroke-width="2.75"/>
<path d="M779.95 348.41V355.55M775.65 355.55H784.25M779.95 364.71V357.56M775.65 357.56H784.25" stroke="#4a4a4a" stroke-width="1.8" fill="none"/>
<rect x="778.65" y="355.56" width="2.6" height="2" fill="#4a4a4a"/>
<rect x="786.27" y="340.24" width="16.3" height="16.3" fill="#fff" stroke="#4a4a4a" stroke-width="2.75"/>
<path d="M794.42 340.24V347.17M790.12 347.17H798.72M794.42 356.54V349.61M790.12 349.61H798.72" stroke="#4a4a4a" stroke-width="1.8" fill="none"/>
<rect x="793.12" y="347.39" width="2.6" height="2" fill="#4a4a4a"/>
<rect x="800.74" y="326.63" width="16.3" height="16.3" fill="#fff" stroke="#4a4a4a" stroke-width="2.75"/>
<path d="M808.89 326.63V333.72M804.59 333.72H813.19M808.89 342.93V335.83M804.59 335.83H813.19" stroke="#4a4a4a" stroke-width="1.8" fill="none"/>
<rect x="807.59" y="333.78" width="2.6" height="2" fill="#4a4a4a"/>
<rect x="815.21" y="316.52" width="16.3" height="16.3" fill="#fff" stroke="#4a4a4a" stroke-width="2.75"/>

<rect x="822.06" y="323.67" width="2.6" height="2" fill="#4a4a4a"/>
<rect x="829.68" y="308.74" width="16.3" height="16.3" fill="#fff" stroke="#4a4a4a" stroke-width="2.75"/>
<path d="M837.83 308.74V315.84M833.53 315.84H842.13M837.83 325.04V317.94M833.53 317.94H842.13" stroke="#4a4a4a" stroke-width="1.8" fill="none"/>
<rect x="836.53" y="315.89" width="2.6" height="2" fill="#4a4a4a"/>
<rect x="844.15" y="298.63" width="16.3" height="16.3" fill="#fff" stroke="#4a4a4a" stroke-width="2.75"/>
<path d="M852.3 298.63V305.35M848 305.35H856.6M852.3 314.93V308.21M848 308.21H856.6" stroke="#4a4a4a" stroke-width="1.8" fill="none"/>
<rect x="851" y="305.78" width="2.6" height="2" fill="#4a4a4a"/>
<rect x="858.62" y="288.52" width="16.3" height="16.3" fill="#fff" stroke="#4a4a4a" stroke-width="2.75"/>
<path d="M866.77 288.52V295.22M862.47 295.22H871.07M866.77 304.82V298.11M862.47 298.11H871.07" stroke="#4a4a4a" stroke-width="1.8" fill="none"/>
<rect x="865.47" y="295.67" width="2.6" height="2" fill="#4a4a4a"/>
<rect x="873.09" y="284.63" width="16.3" height="16.3" fill="#fff" stroke="#4a4a4a" stroke-width="2.75"/>
<path d="M881.24 284.63V291.67M876.94 291.67H885.54M881.24 300.93V293.88M876.94 293.88H885.54" stroke="#4a4a4a" stroke-width="1.8" fill="none"/>
<rect x="879.94" y="291.78" width="2.6" height="2" fill="#4a4a4a"/>
<rect x="887.56" y="278.79" width="16.3" height="16.3" fill="#fff" stroke="#4a4a4a" stroke-width="2.75"/>
<path d="M895.71 278.79V285.78M891.41 285.78H900.01M895.71 295.09V288.11M891.41 288.11H900.01" stroke="#4a4a4a" stroke-width="1.8" fill="none"/>
<rect x="894.41" y="285.94" width="2.6" height="2" fill="#4a4a4a"/>
<rect x="902.03" y="268.68" width="16.3" height="16.3" fill="#fff" stroke="#4a4a4a" stroke-width="2.75"/>
<path d="M910.18 268.68V275.74M905.88 275.74H914.48M910.18 284.98V277.93M905.88 277.93H914.48" stroke="#4a4a4a" stroke-width="1.8" fill="none"/>
<rect x="908.88" y="275.83" width="2.6" height="2" fill="#4a4a4a"/>
<rect x="916.5" y="263.63" width="16.3" height="16.3" fill="#fff" stroke="#4a4a4a" stroke-width="2.75"/>
<path d="M924.65 263.63V270.65M920.35 270.65H928.95M924.65 279.93V272.91M920.35 272.91H928.95" stroke="#4a4a4a" stroke-width="1.8" fill="none"/>
<rect x="923.35" y="270.78" width="2.6" height="2" fill="#4a4a4a"/>
<rect x="930.97" y="245.74" width="16.3" height="16.3" fill="#fff" stroke="#4a4a4a" stroke-width="2.75"/>
<path d="M939.12 245.74V252.69M934.82 252.69H943.42M939.12 262.04V255.09M934.82 255.09H943.42" stroke="#4a4a4a" stroke-width="1.8" fill="none"/>
<rect x="937.82" y="252.89" width="2.6" height="2" fill="#4a4a4a"/>
<rect x="945.44" y="227.85" width="16.3" height="16.3" fill="#fff" stroke="#4a4a4a" stroke-width="2.75"/>
<path d="M953.59 227.85V235.23M949.29 235.23H957.89M953.59 244.15V236.77M949.29 236.77H957.89" stroke="#4a4a4a" stroke-width="1.8" fill="none"/>
<rect x="952.29" y="235" width="2.6" height="2" fill="#4a4a4a"/>
<rect x="959.91" y="211.91" width="16.3" height="16.3" fill="#fff" stroke="#4a4a4a" stroke-width="2.75"/>
<path d="M968.06 211.91V218.96M963.76 218.96H972.36M968.06 228.21V221.15M963.76 221.15H972.36" stroke="#4a4a4a" stroke-width="1.8" fill="none"/>
<rect x="966.76" y="219.06" width="2.6" height="2" fill="#4a4a4a"/>
<rect x="974.38" y="208.79" width="16.3" height="16.3" fill="#fff" stroke="#4a4a4a" stroke-width="2.75"/>
<path d="M982.53 208.79V215.37M978.23 215.37H986.83M982.53 225.09V218.52M978.23 218.52H986.83" stroke="#4a4a4a" stroke-width="1.8" fill="none"/>
<rect x="981.23" y="215.94" width="2.6" height="2" fill="#4a4a4a"/>
<rect x="988.85" y="206.07" width="16.3" height="16.3" fill="#fff" stroke="#4a4a4a" stroke-width="2.75"/>
<path d="M997 206.07V212.68M992.7 212.68H1001.3M997 222.37V215.76M992.7 215.76H1001.3" stroke="#4a4a4a" stroke-width="1.8" fill="none"/>
<rect x="995.7" y="213.22" width="2.6" height="2" fill="#4a4a4a"/>
<rect x="1003.32" y="203.74" width="16.3" height="16.3" fill="#fff" stroke="#4a4a4a" stroke-width="2.75"/>
<path d="M1011.47 203.74V210.94M1007.17 210.94H1015.77M1011.47 220.04V212.83M1007.17 212.83H1015.77" stroke="#4a4a4a" stroke-width="1.8" fill="none"/>
<rect x="1010.17" y="210.89" width="2.6" height="2" fill="#4a4a4a"/>
<rect x="1017.79" y="202.57" width="16.3" height="16.3" fill="#fff" stroke="#4a4a4a" stroke-width="2.75"/>
<path d="M1025.94 202.57V209.91M1021.64 209.91H1030.24M1025.94 218.87V211.54M1021.64 211.54H1030.24" stroke="#4a4a4a" stroke-width="1.8" fill="none"/>
<rect x="1024.64" y="209.72" width="2.6" height="2" fill="#4a4a4a"/>
<rect x="1032.26" y="201.02" width="16.3" height="16.3" fill="#fff" stroke="#4a4a4a" stroke-width="2.75"/>
<path d="M1040.41 201.02V207.85M1036.11 207.85H1044.71M1040.41 217.32V210.48M1036.11 210.48H1044.71" stroke="#4a4a4a" stroke-width="1.8" fill="none"/>
<rect x="1039.11" y="208.17" width="2.6" height="2" fill="#4a4a4a"/>
<rect x="1046.73" y="200.24" width="16.3" height="16.3" fill="#fff" stroke="#4a4a4a" stroke-width="2.75"/>
<path d="M1054.88 200.24V206.95M1050.58 206.95H1059.18M1054.88 216.54V209.83M1050.58 209.83H1059.18" stroke="#4a4a4a" stroke-width="1.8" fill="none"/>
<rect x="1053.58" y="207.39" width="2.6" height="2" fill="#4a4a4a"/>
<rect x="1061.2" y="199.07" width="16.3" height="16.3" fill="#fff" stroke="#4a4a4a" stroke-width="2.75"/>

<rect x="1068.05" y="206.22" width="2.6" height="2" fill="#4a4a4a"/>
<rect x="1075.67" y="198.68" width="16.3" height="16.3" fill="#fff" stroke="#4a4a4a" stroke-width="2.75"/>
<path d="M1083.82 198.68V206.04M1079.52 206.04H1088.12M1083.82 214.98V207.63M1079.52 207.63H1088.12" stroke="#4a4a4a" stroke-width="1.8" fill="none"/>
<rect x="1082.52" y="205.83" width="2.6" height="2" fill="#4a4a4a"/>
<rect x="1090.14" y="197.91" width="16.3" height="16.3" fill="#fff" stroke="#4a4a4a" stroke-width="2.75"/>

<rect x="1096.99" y="205.06" width="2.6" height="2" fill="#4a4a4a"/>
<rect x="1104.61" y="197.52" width="16.3" height="16.3" fill="#fff" stroke="#4a4a4a" stroke-width="2.75"/>

<rect x="1111.46" y="204.67" width="2.6" height="2" fill="#4a4a4a"/>
<rect x="1119.08" y="197.13" width="16.3" height="16.3" fill="#fff" stroke="#4a4a4a" stroke-width="2.75"/>

<rect x="1125.93" y="204.28" width="2.6" height="2" fill="#4a4a4a"/>
<rect x="1133.55" y="196.74" width="16.3" height="16.3" fill="#fff" stroke="#4a4a4a" stroke-width="2.75"/>
<path d="M1141.7 196.74V204.1M1137.4 204.1H1146M1141.7 213.04V205.68M1137.4 205.68H1146" stroke="#4a4a4a" stroke-width="1.8" fill="none"/>
<rect x="1140.4" y="203.89" width="2.6" height="2" fill="#4a4a4a"/>
<path d="M707.6 403.61L722.07 394.67L736.54 356.56L751.01 345.67L765.48 330.89L779.95 321.17L794.42 312.61L808.89 298.61L823.36 290.83L837.83 280.72L852.3 272.94L866.77 264L881.24 257L895.71 250L910.18 236.78L924.65 229L939.12 213.06L953.59 201L968.06 193.22L982.53 188.94L997 186.22L1011.47 184.28L1025.94 182.72L1040.41 181.56L1054.88 180.78L1069.35 180L1083.82 179.61L1098.29 179.22L1112.76 178.83L1127.23 178.44L1141.7 178.06" fill="none" stroke="#d63c44" stroke-width="2.5" stroke-linejoin="round"/>
<circle cx="707.6" cy="403.61" r="9.6" fill="#fff" stroke="#d63c44" stroke-width="2.75"/>
<path d="M707.6 394.01V402.74M703.3 402.74H711.9M707.6 413.21V404.48M703.3 404.48H711.9" stroke="#d63c44" stroke-width="1.8" fill="none"/>
<rect x="706.3" y="402.61" width="2.6" height="2" fill="#d63c44"/>
<circle cx="722.07" cy="394.67" r="9.6" fill="#fff" stroke="#d63c44" stroke-width="2.75"/>

<rect x="720.77" y="393.67" width="2.6" height="2" fill="#d63c44"/>
<circle cx="736.54" cy="356.56" r="9.6" fill="#fff" stroke="#d63c44" stroke-width="2.75"/>
<path d="M736.54 346.96V355.74M732.24 355.74H740.84M736.54 366.16V357.37M732.24 357.37H740.84" stroke="#d63c44" stroke-width="1.8" fill="none"/>
<rect x="735.24" y="355.56" width="2.6" height="2" fill="#d63c44"/>
<circle cx="751.01" cy="345.67" r="9.6" fill="#fff" stroke="#d63c44" stroke-width="2.75"/>
<path d="M751.01 336.07V344.34M746.71 344.34H755.31M751.01 355.27V347M746.71 347H755.31" stroke="#d63c44" stroke-width="1.8" fill="none"/>
<rect x="749.71" y="344.67" width="2.6" height="2" fill="#d63c44"/>
<circle cx="765.48" cy="330.89" r="9.6" fill="#fff" stroke="#d63c44" stroke-width="2.75"/>
<path d="M765.48 321.29V329.3M761.18 329.3H769.78M765.48 340.49V332.48M761.18 332.48H769.78" stroke="#d63c44" stroke-width="1.8" fill="none"/>
<rect x="764.18" y="329.89" width="2.6" height="2" fill="#d63c44"/>
<circle cx="779.95" cy="321.17" r="9.6" fill="#fff" stroke="#d63c44" stroke-width="2.75"/>
<path d="M779.95 311.57V319.72M775.65 319.72H784.25M779.95 330.77V322.61M775.65 322.61H784.25" stroke="#d63c44" stroke-width="1.8" fill="none"/>
<rect x="778.65" y="320.17" width="2.6" height="2" fill="#d63c44"/>
<circle cx="794.42" cy="312.61" r="9.6" fill="#fff" stroke="#d63c44" stroke-width="2.75"/>

<rect x="793.12" y="311.61" width="2.6" height="2" fill="#d63c44"/>
<circle cx="808.89" cy="298.61" r="9.6" fill="#fff" stroke="#d63c44" stroke-width="2.75"/>
<path d="M808.89 289.01V297.43M804.59 297.43H813.19M808.89 308.21V299.79M804.59 299.79H813.19" stroke="#d63c44" stroke-width="1.8" fill="none"/>
<rect x="807.59" y="297.61" width="2.6" height="2" fill="#d63c44"/>
<circle cx="823.36" cy="290.83" r="9.6" fill="#fff" stroke="#d63c44" stroke-width="2.75"/>
<path d="M823.36 281.23V290.03M819.06 290.03H827.66M823.36 300.43V291.63M819.06 291.63H827.66" stroke="#d63c44" stroke-width="1.8" fill="none"/>
<rect x="822.06" y="289.83" width="2.6" height="2" fill="#d63c44"/>
<circle cx="837.83" cy="280.72" r="9.6" fill="#fff" stroke="#d63c44" stroke-width="2.75"/>
<path d="M837.83 271.12V279.15M833.53 279.15H842.13M837.83 290.32V282.29M833.53 282.29H842.13" stroke="#d63c44" stroke-width="1.8" fill="none"/>
<rect x="836.53" y="279.72" width="2.6" height="2" fill="#d63c44"/>
<circle cx="852.3" cy="272.94" r="9.6" fill="#fff" stroke="#d63c44" stroke-width="2.75"/>

<rect x="851" y="271.94" width="2.6" height="2" fill="#d63c44"/>
<circle cx="866.77" cy="264" r="9.6" fill="#fff" stroke="#d63c44" stroke-width="2.75"/>
<path d="M866.77 254.4V262.77M862.47 262.77H871.07M866.77 273.6V265.23M862.47 265.23H871.07" stroke="#d63c44" stroke-width="1.8" fill="none"/>
<rect x="865.47" y="263" width="2.6" height="2" fill="#d63c44"/>
<circle cx="881.24" cy="257" r="9.6" fill="#fff" stroke="#d63c44" stroke-width="2.75"/>
<path d="M881.24 247.4V256.07M876.94 256.07H885.54M881.24 266.6V257.93M876.94 257.93H885.54" stroke="#d63c44" stroke-width="1.8" fill="none"/>
<rect x="879.94" y="256" width="2.6" height="2" fill="#d63c44"/>
<circle cx="895.71" cy="250" r="9.6" fill="#fff" stroke="#d63c44" stroke-width="2.75"/>
<path d="M895.71 240.4V249.07M891.41 249.07H900.01M895.71 259.6V250.93M891.41 250.93H900.01" stroke="#d63c44" stroke-width="1.8" fill="none"/>
<rect x="894.41" y="249" width="2.6" height="2" fill="#d63c44"/>
<circle cx="910.18" cy="236.78" r="9.6" fill="#fff" stroke="#d63c44" stroke-width="2.75"/>
<path d="M910.18 227.18V235.37M905.88 235.37H914.48M910.18 246.38V238.18M905.88 238.18H914.48" stroke="#d63c44" stroke-width="1.8" fill="none"/>
<rect x="908.88" y="235.78" width="2.6" height="2" fill="#d63c44"/>
<circle cx="924.65" cy="229" r="9.6" fill="#fff" stroke="#d63c44" stroke-width="2.75"/>
<path d="M924.65 219.4V227.96M920.35 227.96H928.95M924.65 238.6V230.04M920.35 230.04H928.95" stroke="#d63c44" stroke-width="1.8" fill="none"/>
<rect x="923.35" y="228" width="2.6" height="2" fill="#d63c44"/>
<circle cx="939.12" cy="213.06" r="9.6" fill="#fff" stroke="#d63c44" stroke-width="2.75"/>
<path d="M939.12 203.46V212.03M934.82 212.03H943.42M939.12 222.66V214.08M934.82 214.08H943.42" stroke="#d63c44" stroke-width="1.8" fill="none"/>
<rect x="937.82" y="212.06" width="2.6" height="2" fill="#d63c44"/>
<circle cx="953.59" cy="201" r="9.6" fill="#fff" stroke="#d63c44" stroke-width="2.75"/>
<path d="M953.59 191.4V200.22M949.29 200.22H957.89M953.59 210.6V201.78M949.29 201.78H957.89" stroke="#d63c44" stroke-width="1.8" fill="none"/>
<rect x="952.29" y="200" width="2.6" height="2" fill="#d63c44"/>
<circle cx="968.06" cy="193.22" r="9.6" fill="#fff" stroke="#d63c44" stroke-width="2.75"/>
<path d="M968.06 183.62V191.61M963.76 191.61H972.36M968.06 202.82V194.83M963.76 194.83H972.36" stroke="#d63c44" stroke-width="1.8" fill="none"/>
<rect x="966.76" y="192.22" width="2.6" height="2" fill="#d63c44"/>
<circle cx="982.53" cy="188.94" r="9.6" fill="#fff" stroke="#d63c44" stroke-width="2.75"/>
<path d="M982.53 179.34V187.55M978.23 187.55H986.83M982.53 198.54V190.34M978.23 190.34H986.83" stroke="#d63c44" stroke-width="1.8" fill="none"/>
<rect x="981.23" y="187.94" width="2.6" height="2" fill="#d63c44"/>
<circle cx="997" cy="186.22" r="9.6" fill="#fff" stroke="#d63c44" stroke-width="2.75"/>
<path d="M997 176.62V184.88M992.7 184.88H1001.3M997 195.82V187.57M992.7 187.57H1001.3" stroke="#d63c44" stroke-width="1.8" fill="none"/>
<rect x="995.7" y="185.22" width="2.6" height="2" fill="#d63c44"/>
<circle cx="1011.47" cy="184.28" r="9.6" fill="#fff" stroke="#d63c44" stroke-width="2.75"/>
<path d="M1011.47 174.68V182.95M1007.17 182.95H1015.77M1011.47 193.88V185.61M1007.17 185.61H1015.77" stroke="#d63c44" stroke-width="1.8" fill="none"/>
<rect x="1010.17" y="183.28" width="2.6" height="2" fill="#d63c44"/>
<circle cx="1025.94" cy="182.72" r="9.6" fill="#fff" stroke="#d63c44" stroke-width="2.75"/>
<path d="M1025.94 173.12V181.57M1021.64 181.57H1030.24M1025.94 192.32V183.87M1021.64 183.87H1030.24" stroke="#d63c44" stroke-width="1.8" fill="none"/>
<rect x="1024.64" y="181.72" width="2.6" height="2" fill="#d63c44"/>
<circle cx="1040.41" cy="181.56" r="9.6" fill="#fff" stroke="#d63c44" stroke-width="2.75"/>
<path d="M1040.41 171.96V180.02M1036.11 180.02H1044.71M1040.41 191.16V183.09M1036.11 183.09H1044.71" stroke="#d63c44" stroke-width="1.8" fill="none"/>
<rect x="1039.11" y="180.56" width="2.6" height="2" fill="#d63c44"/>
<circle cx="1054.88" cy="180.78" r="9.6" fill="#fff" stroke="#d63c44" stroke-width="2.75"/>
<path d="M1054.88 171.18V179.99M1050.58 179.99H1059.18M1054.88 190.38V181.57M1050.58 181.57H1059.18" stroke="#d63c44" stroke-width="1.8" fill="none"/>
<rect x="1053.58" y="179.78" width="2.6" height="2" fill="#d63c44"/>
<circle cx="1069.35" cy="180" r="9.6" fill="#fff" stroke="#d63c44" stroke-width="2.75"/>
<path d="M1069.35 170.4V178.44M1065.05 178.44H1073.65M1069.35 189.6V181.56M1065.05 181.56H1073.65" stroke="#d63c44" stroke-width="1.8" fill="none"/>
<rect x="1068.05" y="179" width="2.6" height="2" fill="#d63c44"/>
<circle cx="1083.82" cy="179.61" r="9.6" fill="#fff" stroke="#d63c44" stroke-width="2.75"/>
<path d="M1083.82 170.01V178.5M1079.52 178.5H1088.12M1083.82 189.21V180.72M1079.52 180.72H1088.12" stroke="#d63c44" stroke-width="1.8" fill="none"/>
<rect x="1082.52" y="178.61" width="2.6" height="2" fill="#d63c44"/>
<circle cx="1098.29" cy="179.22" r="9.6" fill="#fff" stroke="#d63c44" stroke-width="2.75"/>
<path d="M1098.29 169.62V178.35M1093.99 178.35H1102.59M1098.29 188.82V180.1M1093.99 180.1H1102.59" stroke="#d63c44" stroke-width="1.8" fill="none"/>
<rect x="1096.99" y="178.22" width="2.6" height="2" fill="#d63c44"/>
<circle cx="1112.76" cy="178.83" r="9.6" fill="#fff" stroke="#d63c44" stroke-width="2.75"/>
<path d="M1112.76 169.23V177.95M1108.46 177.95H1117.06M1112.76 188.43V179.72M1108.46 179.72H1117.06" stroke="#d63c44" stroke-width="1.8" fill="none"/>
<rect x="1111.46" y="177.83" width="2.6" height="2" fill="#d63c44"/>
<circle cx="1127.23" cy="178.44" r="9.6" fill="#fff" stroke="#d63c44" stroke-width="2.75"/>
<path d="M1127.23 168.84V177.45M1122.93 177.45H1131.53M1127.23 188.04V179.44M1122.93 179.44H1131.53" stroke="#d63c44" stroke-width="1.8" fill="none"/>
<rect x="1125.93" y="177.44" width="2.6" height="2" fill="#d63c44"/>
<circle cx="1141.7" cy="178.06" r="9.6" fill="#fff" stroke="#d63c44" stroke-width="2.75"/>
<path d="M1141.7 168.46V176.71M1137.4 176.71H1146M1141.7 187.66V179.4M1137.4 179.4H1146" stroke="#d63c44" stroke-width="1.8" fill="none"/>
<rect x="1140.4" y="177.06" width="2.6" height="2" fill="#d63c44"/>
<path d="M707.6 391.17L722.07 383.39L736.54 351.11L751.01 334.78L765.48 325.83L779.95 316.89L794.42 300.94L808.89 278.78L823.36 262.83L837.83 249.22L852.3 239.11L866.77 223.17L881.24 216.94L895.71 211.11L910.18 200.61L924.65 194L939.12 170.67L953.59 153.17L968.06 136.83L982.53 129.44L997 125.17L1011.47 122.44L1025.94 120.11L1040.41 118.56L1054.88 117L1069.35 115.83L1083.82 115.06L1098.29 114.28L1112.76 113.5L1127.23 113.11L1141.7 112.33" fill="none" stroke="#1e66cc" stroke-width="2.5" stroke-linejoin="round"/>
<polygon points="707.6,378.7 718.4,397.4 696.8,397.4" fill="#fff" stroke="#1e66cc" stroke-width="2.75" stroke-linejoin="miter"/>
<path d="M707.6 378.7V390.19M703.3 390.19H711.9M707.6 397.4V392.14M703.3 392.14H711.9" stroke="#1e66cc" stroke-width="1.8" fill="none"/>
<rect x="706.3" y="390.17" width="2.6" height="2" fill="#1e66cc"/>
<polygon points="722.07,370.92 732.87,389.62 711.27,389.62" fill="#fff" stroke="#1e66cc" stroke-width="2.75" stroke-linejoin="miter"/>
<path d="M722.07 370.92V382.3M717.77 382.3H726.37M722.07 389.62V384.47M717.77 384.47H726.37" stroke="#1e66cc" stroke-width="1.8" fill="none"/>
<rect x="720.77" y="382.39" width="2.6" height="2" fill="#1e66cc"/>
<polygon points="736.54,338.64 747.34,357.35 725.74,357.35" fill="#fff" stroke="#1e66cc" stroke-width="2.75" stroke-linejoin="miter"/>
<path d="M736.54 338.64V349.87M732.24 349.87H740.84M736.54 357.35V352.36M732.24 352.36H740.84" stroke="#1e66cc" stroke-width="1.8" fill="none"/>
<rect x="735.24" y="350.11" width="2.6" height="2" fill="#1e66cc"/>
<polygon points="751.01,322.31 761.81,341.01 740.21,341.01" fill="#fff" stroke="#1e66cc" stroke-width="2.75" stroke-linejoin="miter"/>
<path d="M751.01 322.31V333.87M746.71 333.87H755.31M751.01 341.01V335.68M746.71 335.68H755.31" stroke="#1e66cc" stroke-width="1.8" fill="none"/>
<rect x="749.71" y="333.78" width="2.6" height="2" fill="#1e66cc"/>
<polygon points="765.48,313.36 776.28,332.07 754.68,332.07" fill="#fff" stroke="#1e66cc" stroke-width="2.75" stroke-linejoin="miter"/>

<rect x="764.18" y="324.83" width="2.6" height="2" fill="#1e66cc"/>
<polygon points="779.95,304.42 790.75,323.12 769.15,323.12" fill="#fff" stroke="#1e66cc" stroke-width="2.75" stroke-linejoin="miter"/>
<path d="M779.95 304.42V315.83M775.65 315.83H784.25M779.95 323.12V317.95M775.65 317.95H784.25" stroke="#1e66cc" stroke-width="1.8" fill="none"/>
<rect x="778.65" y="315.89" width="2.6" height="2" fill="#1e66cc"/>
<polygon points="794.42,288.47 805.22,307.18 783.62,307.18" fill="#fff" stroke="#1e66cc" stroke-width="2.75" stroke-linejoin="miter"/>
<path d="M794.42 288.47V299.91M790.12 299.91H798.72M794.42 307.18V301.98M790.12 301.98H798.72" stroke="#1e66cc" stroke-width="1.8" fill="none"/>
<rect x="793.12" y="299.94" width="2.6" height="2" fill="#1e66cc"/>
<polygon points="808.89,266.31 819.69,285.01 798.09,285.01" fill="#fff" stroke="#1e66cc" stroke-width="2.75" stroke-linejoin="miter"/>
<path d="M808.89 266.31V277.36M804.59 277.36H813.19M808.89 285.01V280.2M804.59 280.2H813.19" stroke="#1e66cc" stroke-width="1.8" fill="none"/>
<rect x="807.59" y="277.78" width="2.6" height="2" fill="#1e66cc"/>
<polygon points="823.36,250.36 834.16,269.07 812.56,269.07" fill="#fff" stroke="#1e66cc" stroke-width="2.75" stroke-linejoin="miter"/>
<path d="M823.36 250.36V261.21M819.06 261.21H827.66M823.36 269.07V264.46M819.06 264.46H827.66" stroke="#1e66cc" stroke-width="1.8" fill="none"/>
<rect x="822.06" y="261.83" width="2.6" height="2" fill="#1e66cc"/>
<polygon points="837.83,236.75 848.63,255.46 827.03,255.46" fill="#fff" stroke="#1e66cc" stroke-width="2.75" stroke-linejoin="miter"/>
<path d="M837.83 236.75V247.96M833.53 247.96H842.13M837.83 255.46V250.48M833.53 250.48H842.13" stroke="#1e66cc" stroke-width="1.8" fill="none"/>
<rect x="836.53" y="248.22" width="2.6" height="2" fill="#1e66cc"/>
<polygon points="852.3,226.64 863.1,245.35 841.5,245.35" fill="#fff" stroke="#1e66cc" stroke-width="2.75" stroke-linejoin="miter"/>
<path d="M852.3 226.64V237.63M848 237.63H856.6M852.3 245.35V240.59M848 240.59H856.6" stroke="#1e66cc" stroke-width="1.8" fill="none"/>
<rect x="851" y="238.11" width="2.6" height="2" fill="#1e66cc"/>
<polygon points="866.77,210.7 877.57,229.4 855.97,229.4" fill="#fff" stroke="#1e66cc" stroke-width="2.75" stroke-linejoin="miter"/>
<path d="M866.77 210.7V221.95M862.47 221.95H871.07M866.77 229.4V224.39M862.47 224.39H871.07" stroke="#1e66cc" stroke-width="1.8" fill="none"/>
<rect x="865.47" y="222.17" width="2.6" height="2" fill="#1e66cc"/>
<polygon points="881.24,204.47 892.04,223.18 870.44,223.18" fill="#fff" stroke="#1e66cc" stroke-width="2.75" stroke-linejoin="miter"/>
<path d="M881.24 204.47V215.57M876.94 215.57H885.54M881.24 223.18V218.32M876.94 218.32H885.54" stroke="#1e66cc" stroke-width="1.8" fill="none"/>
<rect x="879.94" y="215.94" width="2.6" height="2" fill="#1e66cc"/>
<polygon points="895.71,198.64 906.51,217.35 884.91,217.35" fill="#fff" stroke="#1e66cc" stroke-width="2.75" stroke-linejoin="miter"/>
<path d="M895.71 198.64V210.04M891.41 210.04H900.01M895.71 217.35V212.18M891.41 212.18H900.01" stroke="#1e66cc" stroke-width="1.8" fill="none"/>
<rect x="894.41" y="210.11" width="2.6" height="2" fill="#1e66cc"/>
<polygon points="910.18,188.14 920.98,206.85 899.38,206.85" fill="#fff" stroke="#1e66cc" stroke-width="2.75" stroke-linejoin="miter"/>
<path d="M910.18 188.14V199.01M905.88 199.01H914.48M910.18 206.85V202.21M905.88 202.21H914.48" stroke="#1e66cc" stroke-width="1.8" fill="none"/>
<rect x="908.88" y="199.61" width="2.6" height="2" fill="#1e66cc"/>
<polygon points="924.65,181.53 935.45,200.24 913.85,200.24" fill="#fff" stroke="#1e66cc" stroke-width="2.75" stroke-linejoin="miter"/>
<path d="M924.65 181.53V193.09M920.35 193.09H928.95M924.65 200.24V194.91M920.35 194.91H928.95" stroke="#1e66cc" stroke-width="1.8" fill="none"/>
<rect x="923.35" y="193" width="2.6" height="2" fill="#1e66cc"/>
<polygon points="939.12,158.2 949.92,176.9 928.32,176.9" fill="#fff" stroke="#1e66cc" stroke-width="2.75" stroke-linejoin="miter"/>
<path d="M939.12 158.2V169.3M934.82 169.3H943.42M939.12 176.9V172.04M934.82 172.04H943.42" stroke="#1e66cc" stroke-width="1.8" fill="none"/>
<rect x="937.82" y="169.67" width="2.6" height="2" fill="#1e66cc"/>
<polygon points="953.59,140.7 964.39,159.4 942.79,159.4" fill="#fff" stroke="#1e66cc" stroke-width="2.75" stroke-linejoin="miter"/>
<path d="M953.59 140.7V151.57M949.29 151.57H957.89M953.59 159.4V154.76M949.29 154.76H957.89" stroke="#1e66cc" stroke-width="1.8" fill="none"/>
<rect x="952.29" y="152.17" width="2.6" height="2" fill="#1e66cc"/>
<polygon points="968.06,124.36 978.86,143.07 957.26,143.07" fill="#fff" stroke="#1e66cc" stroke-width="2.75" stroke-linejoin="miter"/>
<path d="M968.06 124.36V135.91M963.76 135.91H972.36M968.06 143.07V137.76M963.76 137.76H972.36" stroke="#1e66cc" stroke-width="1.8" fill="none"/>
<rect x="966.76" y="135.83" width="2.6" height="2" fill="#1e66cc"/>
<polygon points="982.53,116.97 993.33,135.68 971.73,135.68" fill="#fff" stroke="#1e66cc" stroke-width="2.75" stroke-linejoin="miter"/>
<path d="M982.53 116.97V128.5M978.23 128.5H986.83M982.53 135.68V130.39M978.23 130.39H986.83" stroke="#1e66cc" stroke-width="1.8" fill="none"/>
<rect x="981.23" y="128.44" width="2.6" height="2" fill="#1e66cc"/>
<polygon points="997,112.7 1007.8,131.4 986.2,131.4" fill="#fff" stroke="#1e66cc" stroke-width="2.75" stroke-linejoin="miter"/>
<path d="M997 112.7V123.81M992.7 123.81H1001.3M997 131.4V126.52M992.7 126.52H1001.3" stroke="#1e66cc" stroke-width="1.8" fill="none"/>
<rect x="995.7" y="124.17" width="2.6" height="2" fill="#1e66cc"/>
<polygon points="1011.47,109.97 1022.27,128.68 1000.67,128.68" fill="#fff" stroke="#1e66cc" stroke-width="2.75" stroke-linejoin="miter"/>
<path d="M1011.47 109.97V120.9M1007.17 120.9H1015.77M1011.47 128.68V123.98M1007.17 123.98H1015.77" stroke="#1e66cc" stroke-width="1.8" fill="none"/>
<rect x="1010.17" y="121.44" width="2.6" height="2" fill="#1e66cc"/>
<polygon points="1025.94,107.64 1036.74,126.35 1015.14,126.35" fill="#fff" stroke="#1e66cc" stroke-width="2.75" stroke-linejoin="miter"/>
<path d="M1025.94 107.64V118.6M1021.64 118.6H1030.24M1025.94 126.35V121.62M1021.64 121.62H1030.24" stroke="#1e66cc" stroke-width="1.8" fill="none"/>
<rect x="1024.64" y="119.11" width="2.6" height="2" fill="#1e66cc"/>
<polygon points="1040.41,106.08 1051.21,124.79 1029.61,124.79" fill="#fff" stroke="#1e66cc" stroke-width="2.75" stroke-linejoin="miter"/>
<path d="M1040.41 106.08V117.46M1036.11 117.46H1044.71M1040.41 124.79V119.65M1036.11 119.65H1044.71" stroke="#1e66cc" stroke-width="1.8" fill="none"/>
<rect x="1039.11" y="117.56" width="2.6" height="2" fill="#1e66cc"/>
<polygon points="1054.88,104.53 1065.68,123.24 1044.08,123.24" fill="#fff" stroke="#1e66cc" stroke-width="2.75" stroke-linejoin="miter"/>
<path d="M1054.88 104.53V116.22M1050.58 116.22H1059.18M1054.88 123.24V117.78M1050.58 117.78H1059.18" stroke="#1e66cc" stroke-width="1.8" fill="none"/>
<rect x="1053.58" y="116" width="2.6" height="2" fill="#1e66cc"/>
<polygon points="1069.35,103.36 1080.15,122.07 1058.55,122.07" fill="#fff" stroke="#1e66cc" stroke-width="2.75" stroke-linejoin="miter"/>
<path d="M1069.35 103.36V114.35M1065.05 114.35H1073.65M1069.35 122.07V117.31M1065.05 117.31H1073.65" stroke="#1e66cc" stroke-width="1.8" fill="none"/>
<rect x="1068.05" y="114.83" width="2.6" height="2" fill="#1e66cc"/>
<polygon points="1083.82,102.58 1094.62,121.29 1073.02,121.29" fill="#fff" stroke="#1e66cc" stroke-width="2.75" stroke-linejoin="miter"/>
<path d="M1083.82 102.58V114.02M1079.52 114.02H1088.12M1083.82 121.29V116.09M1079.52 116.09H1088.12" stroke="#1e66cc" stroke-width="1.8" fill="none"/>
<rect x="1082.52" y="114.06" width="2.6" height="2" fill="#1e66cc"/>
<polygon points="1098.29,101.81 1109.09,120.51 1087.49,120.51" fill="#fff" stroke="#1e66cc" stroke-width="2.75" stroke-linejoin="miter"/>
<path d="M1098.29 101.81V112.95M1093.99 112.95H1102.59M1098.29 120.51V115.61M1093.99 115.61H1102.59" stroke="#1e66cc" stroke-width="1.8" fill="none"/>
<rect x="1096.99" y="113.28" width="2.6" height="2" fill="#1e66cc"/>
<polygon points="1112.76,101.03 1123.56,119.74 1101.96,119.74" fill="#fff" stroke="#1e66cc" stroke-width="2.75" stroke-linejoin="miter"/>

<rect x="1111.46" y="112.5" width="2.6" height="2" fill="#1e66cc"/>
<polygon points="1127.23,100.64 1138.03,119.35 1116.43,119.35" fill="#fff" stroke="#1e66cc" stroke-width="2.75" stroke-linejoin="miter"/>

<rect x="1125.93" y="112.11" width="2.6" height="2" fill="#1e66cc"/>
<polygon points="1141.7,99.86 1152.5,118.57 1130.9,118.57" fill="#fff" stroke="#1e66cc" stroke-width="2.75" stroke-linejoin="miter"/>

<rect x="1140.4" y="111.33" width="2.6" height="2" fill="#1e66cc"/>
<path d="M707.6 410.61L722.07 407.11L736.54 393.11L751.01 379.11L765.48 365.5L779.95 355.39L794.42 349.17L808.89 331.28L823.36 313.39L837.83 303.28L852.3 297.44L866.77 285.39L881.24 277.61L895.71 265.56L910.18 239.5L924.65 233.67L939.12 209.56L953.59 199.83L968.06 188.94L982.53 183.89L997 179.61L1011.47 177.67L1025.94 176.11L1040.41 174.94L1054.88 174.17L1069.35 173.39L1083.82 173L1098.29 172.61L1112.76 172.22L1127.23 171.83L1141.7 171.83" fill="none" stroke="#3ea66c" stroke-width="2.5" stroke-linejoin="round"/>
<polygon points="707.6,423.08 718.4,404.38 696.8,404.38" fill="#fff" stroke="#3ea66c" stroke-width="2.75" stroke-linejoin="miter"/>
<path d="M707.6 404.38V409.02M703.3 409.02H711.9M707.6 423.08V412.2M703.3 412.2H711.9" stroke="#3ea66c" stroke-width="1.8" fill="none"/>
<rect x="706.3" y="409.61" width="2.6" height="2" fill="#3ea66c"/>
<polygon points="722.07,419.58 732.87,400.88 711.27,400.88" fill="#fff" stroke="#3ea66c" stroke-width="2.75" stroke-linejoin="miter"/>
<path d="M722.07 400.88V405.9M717.77 405.9H726.37M722.07 419.58V408.32M717.77 408.32H726.37" stroke="#3ea66c" stroke-width="1.8" fill="none"/>
<rect x="720.77" y="406.11" width="2.6" height="2" fill="#3ea66c"/>
<polygon points="736.54,405.58 747.34,386.88 725.74,386.88" fill="#fff" stroke="#3ea66c" stroke-width="2.75" stroke-linejoin="miter"/>
<path d="M736.54 386.88V392.15M732.24 392.15H740.84M736.54 405.58V394.07M732.24 394.07H740.84" stroke="#3ea66c" stroke-width="1.8" fill="none"/>
<rect x="735.24" y="392.11" width="2.6" height="2" fill="#3ea66c"/>
<polygon points="751.01,391.58 761.81,372.88 740.21,372.88" fill="#fff" stroke="#3ea66c" stroke-width="2.75" stroke-linejoin="miter"/>
<path d="M751.01 372.88V378.31M746.71 378.31H755.31M751.01 391.58V379.92M746.71 379.92H755.31" stroke="#3ea66c" stroke-width="1.8" fill="none"/>
<rect x="749.71" y="378.11" width="2.6" height="2" fill="#3ea66c"/>
<polygon points="765.48,377.97 776.28,359.26 754.68,359.26" fill="#fff" stroke="#3ea66c" stroke-width="2.75" stroke-linejoin="miter"/>
<path d="M765.48 359.26V363.95M761.18 363.95H769.78M765.48 377.97V367.05M761.18 367.05H769.78" stroke="#3ea66c" stroke-width="1.8" fill="none"/>
<rect x="764.18" y="364.5" width="2.6" height="2" fill="#3ea66c"/>
<polygon points="779.95,367.86 790.75,349.15 769.15,349.15" fill="#fff" stroke="#3ea66c" stroke-width="2.75" stroke-linejoin="miter"/>
<path d="M779.95 349.15V353.81M775.65 353.81H784.25M779.95 367.86V356.97M775.65 356.97H784.25" stroke="#3ea66c" stroke-width="1.8" fill="none"/>
<rect x="778.65" y="354.39" width="2.6" height="2" fill="#3ea66c"/>
<polygon points="794.42,361.64 805.22,342.93 783.62,342.93" fill="#fff" stroke="#3ea66c" stroke-width="2.75" stroke-linejoin="miter"/>
<path d="M794.42 342.93V347.75M790.12 347.75H798.72M794.42 361.64V350.59M790.12 350.59H798.72" stroke="#3ea66c" stroke-width="1.8" fill="none"/>
<rect x="793.12" y="348.17" width="2.6" height="2" fill="#3ea66c"/>
<polygon points="808.89,343.75 819.69,325.04 798.09,325.04" fill="#fff" stroke="#3ea66c" stroke-width="2.75" stroke-linejoin="miter"/>
<path d="M808.89 325.04V330.3M804.59 330.3H813.19M808.89 343.75V332.25M804.59 332.25H813.19" stroke="#3ea66c" stroke-width="1.8" fill="none"/>
<rect x="807.59" y="330.28" width="2.6" height="2" fill="#3ea66c"/>
<polygon points="823.36,325.86 834.16,307.15 812.56,307.15" fill="#fff" stroke="#3ea66c" stroke-width="2.75" stroke-linejoin="miter"/>
<path d="M823.36 307.15V312.08M819.06 312.08H827.66M823.36 325.86V314.7M819.06 314.7H827.66" stroke="#3ea66c" stroke-width="1.8" fill="none"/>
<rect x="822.06" y="312.39" width="2.6" height="2" fill="#3ea66c"/>
<polygon points="837.83,315.75 848.63,297.04 827.03,297.04" fill="#fff" stroke="#3ea66c" stroke-width="2.75" stroke-linejoin="miter"/>
<path d="M837.83 297.04V302.33M833.53 302.33H842.13M837.83 315.75V304.23M833.53 304.23H842.13" stroke="#3ea66c" stroke-width="1.8" fill="none"/>
<rect x="836.53" y="302.28" width="2.6" height="2" fill="#3ea66c"/>
<polygon points="852.3,309.92 863.1,291.21 841.5,291.21" fill="#fff" stroke="#3ea66c" stroke-width="2.75" stroke-linejoin="miter"/>
<path d="M852.3 291.21V295.85M848 295.85H856.6M852.3 309.92V299.04M848 299.04H856.6" stroke="#3ea66c" stroke-width="1.8" fill="none"/>
<rect x="851" y="296.44" width="2.6" height="2" fill="#3ea66c"/>
<polygon points="866.77,297.86 877.57,279.15 855.97,279.15" fill="#fff" stroke="#3ea66c" stroke-width="2.75" stroke-linejoin="miter"/>
<path d="M866.77 279.15V284.19M862.47 284.19H871.07M866.77 297.86V286.59M862.47 286.59H871.07" stroke="#3ea66c" stroke-width="1.8" fill="none"/>
<rect x="865.47" y="284.39" width="2.6" height="2" fill="#3ea66c"/>
<polygon points="881.24,290.08 892.04,271.38 870.44,271.38" fill="#fff" stroke="#3ea66c" stroke-width="2.75" stroke-linejoin="miter"/>
<path d="M881.24 271.38V276.45M876.94 276.45H885.54M881.24 290.08V278.77M876.94 278.77H885.54" stroke="#3ea66c" stroke-width="1.8" fill="none"/>
<rect x="879.94" y="276.61" width="2.6" height="2" fill="#3ea66c"/>
<polygon points="895.71,278.03 906.51,259.32 884.91,259.32" fill="#fff" stroke="#3ea66c" stroke-width="2.75" stroke-linejoin="miter"/>
<path d="M895.71 259.32V264.19M891.41 264.19H900.01M895.71 278.03V266.93M891.41 266.93H900.01" stroke="#3ea66c" stroke-width="1.8" fill="none"/>
<rect x="894.41" y="264.56" width="2.6" height="2" fill="#3ea66c"/>
<polygon points="910.18,251.97 920.98,233.26 899.38,233.26" fill="#fff" stroke="#3ea66c" stroke-width="2.75" stroke-linejoin="miter"/>
<path d="M910.18 233.26V238.27M905.88 238.27H914.48M910.18 251.97V240.73M905.88 240.73H914.48" stroke="#3ea66c" stroke-width="1.8" fill="none"/>
<rect x="908.88" y="238.5" width="2.6" height="2" fill="#3ea66c"/>
<polygon points="924.65,246.14 935.45,227.43 913.85,227.43" fill="#fff" stroke="#3ea66c" stroke-width="2.75" stroke-linejoin="miter"/>
<path d="M924.65 227.43V232.36M920.35 232.36H928.95M924.65 246.14V234.97M920.35 234.97H928.95" stroke="#3ea66c" stroke-width="1.8" fill="none"/>
<rect x="923.35" y="232.67" width="2.6" height="2" fill="#3ea66c"/>
<polygon points="939.12,222.03 949.92,203.32 928.32,203.32" fill="#fff" stroke="#3ea66c" stroke-width="2.75" stroke-linejoin="miter"/>
<path d="M939.12 203.32V208.69M934.82 208.69H943.42M939.12 222.03V210.42M934.82 210.42H943.42" stroke="#3ea66c" stroke-width="1.8" fill="none"/>
<rect x="937.82" y="208.56" width="2.6" height="2" fill="#3ea66c"/>
<polygon points="953.59,212.3 964.39,193.6 942.79,193.6" fill="#fff" stroke="#3ea66c" stroke-width="2.75" stroke-linejoin="miter"/>
<path d="M953.59 193.6V198.52M949.29 198.52H957.89M953.59 212.3V201.15M949.29 201.15H957.89" stroke="#3ea66c" stroke-width="1.8" fill="none"/>
<rect x="952.29" y="198.83" width="2.6" height="2" fill="#3ea66c"/>
<polygon points="968.06,201.42 978.86,182.71 957.26,182.71" fill="#fff" stroke="#3ea66c" stroke-width="2.75" stroke-linejoin="miter"/>
<path d="M968.06 182.71V187.37M963.76 187.37H972.36M968.06 201.42V190.51M963.76 190.51H972.36" stroke="#3ea66c" stroke-width="1.8" fill="none"/>
<rect x="966.76" y="187.94" width="2.6" height="2" fill="#3ea66c"/>
<polygon points="982.53,196.36 993.33,177.65 971.73,177.65" fill="#fff" stroke="#3ea66c" stroke-width="2.75" stroke-linejoin="miter"/>
<path d="M982.53 177.65V182.88M978.23 182.88H986.83M982.53 196.36V184.9M978.23 184.9H986.83" stroke="#3ea66c" stroke-width="1.8" fill="none"/>
<rect x="981.23" y="182.89" width="2.6" height="2" fill="#3ea66c"/>
<polygon points="997,192.08 1007.8,173.38 986.2,173.38" fill="#fff" stroke="#3ea66c" stroke-width="2.75" stroke-linejoin="miter"/>
<path d="M997 173.38V178.35M992.7 178.35H1001.3M997 192.08V180.87M992.7 180.87H1001.3" stroke="#3ea66c" stroke-width="1.8" fill="none"/>
<rect x="995.7" y="178.61" width="2.6" height="2" fill="#3ea66c"/>
<polygon points="1011.47,190.14 1022.27,171.43 1000.67,171.43" fill="#fff" stroke="#3ea66c" stroke-width="2.75" stroke-linejoin="miter"/>
<path d="M1011.47 171.43V176.36M1007.17 176.36H1015.77M1011.47 190.14V178.97M1007.17 178.97H1015.77" stroke="#3ea66c" stroke-width="1.8" fill="none"/>
<rect x="1010.17" y="176.67" width="2.6" height="2" fill="#3ea66c"/>
<polygon points="1025.94,188.58 1036.74,169.88 1015.14,169.88" fill="#fff" stroke="#3ea66c" stroke-width="2.75" stroke-linejoin="miter"/>
<path d="M1025.94 169.88V175.12M1021.64 175.12H1030.24M1025.94 188.58V177.1M1021.64 177.1H1030.24" stroke="#3ea66c" stroke-width="1.8" fill="none"/>
<rect x="1024.64" y="175.11" width="2.6" height="2" fill="#3ea66c"/>
<polygon points="1040.41,187.42 1051.21,168.71 1029.61,168.71" fill="#fff" stroke="#3ea66c" stroke-width="2.75" stroke-linejoin="miter"/>
<path d="M1040.41 168.71V174.18M1036.11 174.18H1044.71M1040.41 187.42V175.71M1036.11 175.71H1044.71" stroke="#3ea66c" stroke-width="1.8" fill="none"/>
<rect x="1039.11" y="173.94" width="2.6" height="2" fill="#3ea66c"/>
<polygon points="1054.88,186.64 1065.68,167.93 1044.08,167.93" fill="#fff" stroke="#3ea66c" stroke-width="2.75" stroke-linejoin="miter"/>
<path d="M1054.88 167.93V172.76M1050.58 172.76H1059.18M1054.88 186.64V175.57M1050.58 175.57H1059.18" stroke="#3ea66c" stroke-width="1.8" fill="none"/>
<rect x="1053.58" y="173.17" width="2.6" height="2" fill="#3ea66c"/>
<polygon points="1069.35,185.86 1080.15,167.15 1058.55,167.15" fill="#fff" stroke="#3ea66c" stroke-width="2.75" stroke-linejoin="miter"/>
<path d="M1069.35 167.15V172M1065.05 172H1073.65M1069.35 185.86V174.78M1065.05 174.78H1073.65" stroke="#3ea66c" stroke-width="1.8" fill="none"/>
<rect x="1068.05" y="172.39" width="2.6" height="2" fill="#3ea66c"/>
<polygon points="1083.82,185.47 1094.62,166.76 1073.02,166.76" fill="#fff" stroke="#3ea66c" stroke-width="2.75" stroke-linejoin="miter"/>
<path d="M1083.82 166.76V172.05M1079.52 172.05H1088.12M1083.82 185.47V173.95M1079.52 173.95H1088.12" stroke="#3ea66c" stroke-width="1.8" fill="none"/>
<rect x="1082.52" y="172" width="2.6" height="2" fill="#3ea66c"/>
<polygon points="1098.29,185.08 1109.09,166.38 1087.49,166.38" fill="#fff" stroke="#3ea66c" stroke-width="2.75" stroke-linejoin="miter"/>
<path d="M1098.29 166.38V171.1M1093.99 171.1H1102.59M1098.29 185.08V174.13M1093.99 174.13H1102.59" stroke="#3ea66c" stroke-width="1.8" fill="none"/>
<rect x="1096.99" y="171.61" width="2.6" height="2" fill="#3ea66c"/>
<polygon points="1112.76,184.69 1123.56,165.99 1101.96,165.99" fill="#fff" stroke="#3ea66c" stroke-width="2.75" stroke-linejoin="miter"/>

<rect x="1111.46" y="171.22" width="2.6" height="2" fill="#3ea66c"/>
<polygon points="1127.23,184.3 1138.03,165.6 1116.43,165.6" fill="#fff" stroke="#3ea66c" stroke-width="2.75" stroke-linejoin="miter"/>
<path d="M1127.23 165.6V170.9M1122.93 170.9H1131.53M1127.23 184.3V172.76M1122.93 172.76H1131.53" stroke="#3ea66c" stroke-width="1.8" fill="none"/>
<rect x="1125.93" y="170.83" width="2.6" height="2" fill="#3ea66c"/>
<polygon points="1141.7,184.3 1152.5,165.6 1130.9,165.6" fill="#fff" stroke="#3ea66c" stroke-width="2.75" stroke-linejoin="miter"/>
<path d="M1141.7 165.6V170.8M1137.4 170.8H1146M1141.7 184.3V172.86M1137.4 172.86H1146" stroke="#3ea66c" stroke-width="1.8" fill="none"/>
<rect x="1140.4" y="170.83" width="2.6" height="2" fill="#3ea66c"/>
</g>
<rect x="707.6" y="82" width="441.9" height="350" fill="none" stroke="#000" stroke-width="3.0"/>
<path d="M708.1 80.5V433.5M1149.05 80.5V433.5" stroke="#000" stroke-width="3.9"/>
<path d="M706.1 432h-5.9M706.1 354.22h-5.9M706.1 276.44h-5.9M706.1 198.67h-5.9M706.1 120.89h-5.9M707.6 433.5v4.9M779.95 433.5v4.9M852.3 433.5v4.9M924.65 433.5v4.9M997 433.5v4.9M1069.35 433.5v4.9M1141.7 433.5v4.9" stroke="#000" stroke-width="3" fill="none"/>
<path d="M706.1 393.11h-2.3M706.1 315.33h-2.3M706.1 237.56h-2.3M706.1 159.78h-2.3M743.77 433.5v2.1M816.12 433.5v2.1M888.48 433.5v2.1M960.83 433.5v2.1M1033.17 433.5v2.1M1105.53 433.5v2.1" stroke="#000" stroke-width="2.6" fill="none"/>
<text x="696" y="437.9" text-anchor="end" font-size="19">0</text>
<text x="696" y="360.12" text-anchor="end" font-size="19">20</text>
<text x="696" y="282.34" text-anchor="end" font-size="19">40</text>
<text x="696" y="204.57" text-anchor="end" font-size="19">60</text>
<text x="696" y="126.79" text-anchor="end" font-size="19">80</text>
<text x="713.2" y="106.3" font-size="19" font-weight="bold">(b)</text>
<text transform="translate(651.5,256.8) rotate(-90)" text-anchor="middle" font-size="20.2" font-weight="bold">Accumulative CO<tspan font-size="13.4" dy="5.6">2</tspan><tspan dy="-5.6">&#8203;</tspan> Emission (g / kg DM)</text>
<clipPath id="clipc"><rect x="146.2" y="530" width="441.2" height="349"/></clipPath>
<g clip-path="url(#clipc)">
<path d="M146.2 835.07L160.65 805.5L175.1 869.97L189.55 830.14L204 872.84L218.45 858.47L232.9 820.29L247.35 831.37L261.8 845.33L276.25 817.41L290.7 791.54L305.15 828.09L319.6 780.46L334.05 826.44L348.5 815.36L362.95 853.13L377.4 860.52L391.85 858.47L406.3 860.52L420.75 868.74L435.2 866.68L449.65 861.34L464.1 866.68L478.55 861.34L493 875.72L507.45 875.72L521.9 875.72L536.35 875.72L550.8 875.72L565.25 875.72L579.7 875.72" fill="none" stroke="#4a4a4a" stroke-width="2.5" stroke-linejoin="round"/>
<rect x="138.05" y="826.92" width="16.3" height="16.3" fill="#fff" stroke="#4a4a4a" stroke-width="2.75"/>
<path d="M146.2 826.92V832.04M141.9 832.04H150.5M146.2 843.22V838.1M141.9 838.1H150.5" stroke="#4a4a4a" stroke-width="1.8" fill="none"/>
<rect x="144.9" y="834.07" width="2.6" height="2" fill="#4a4a4a"/>
<rect x="152.5" y="797.35" width="16.3" height="16.3" fill="#fff" stroke="#4a4a4a" stroke-width="2.75"/>
<path d="M160.65 797.35V801.51M156.35 801.51H164.95M160.65 813.65V809.5M156.35 809.5H164.95" stroke="#4a4a4a" stroke-width="1.8" fill="none"/>
<rect x="159.35" y="804.5" width="2.6" height="2" fill="#4a4a4a"/>
<rect x="166.95" y="861.82" width="16.3" height="16.3" fill="#fff" stroke="#4a4a4a" stroke-width="2.75"/>
<path d="M175.1 861.82V865.77M170.8 865.77H179.4M175.1 878.12V874.16M170.8 874.16H179.4" stroke="#4a4a4a" stroke-width="1.8" fill="none"/>
<rect x="173.8" y="868.97" width="2.6" height="2" fill="#4a4a4a"/>
<rect x="181.4" y="821.99" width="16.3" height="16.3" fill="#fff" stroke="#4a4a4a" stroke-width="2.75"/>
<path d="M189.55 821.99V827.46M185.25 827.46H193.85M189.55 838.29V832.82M185.25 832.82H193.85" stroke="#4a4a4a" stroke-width="1.8" fill="none"/>
<rect x="188.25" y="829.14" width="2.6" height="2" fill="#4a4a4a"/>
<rect x="195.85" y="864.69" width="16.3" height="16.3" fill="#fff" stroke="#4a4a4a" stroke-width="2.75"/>
<path d="M204 864.69V870.57M199.7 870.57H208.3M204 880.99V875.11M199.7 875.11H208.3" stroke="#4a4a4a" stroke-width="1.8" fill="none"/>
<rect x="202.7" y="871.84" width="2.6" height="2" fill="#4a4a4a"/>
<rect x="210.3" y="850.32" width="16.3" height="16.3" fill="#fff" stroke="#4a4a4a" stroke-width="2.75"/>
<path d="M218.45 850.32V854.59M214.15 854.59H222.75M218.45 866.62V862.35M214.15 862.35H222.75" stroke="#4a4a4a" stroke-width="1.8" fill="none"/>
<rect x="217.15" y="857.47" width="2.6" height="2" fill="#4a4a4a"/>
<rect x="224.75" y="812.14" width="16.3" height="16.3" fill="#fff" stroke="#4a4a4a" stroke-width="2.75"/>
<path d="M232.9 812.14V817.82M228.6 817.82H237.2M232.9 828.44V822.75M228.6 822.75H237.2" stroke="#4a4a4a" stroke-width="1.8" fill="none"/>
<rect x="231.6" y="819.29" width="2.6" height="2" fill="#4a4a4a"/>
<rect x="239.2" y="823.22" width="16.3" height="16.3" fill="#fff" stroke="#4a4a4a" stroke-width="2.75"/>
<path d="M247.35 823.22V827.45M243.05 827.45H251.65M247.35 839.52V835.3M243.05 835.3H251.65" stroke="#4a4a4a" stroke-width="1.8" fill="none"/>
<rect x="246.05" y="830.37" width="2.6" height="2" fill="#4a4a4a"/>
<rect x="253.65" y="837.18" width="16.3" height="16.3" fill="#fff" stroke="#4a4a4a" stroke-width="2.75"/>
<path d="M261.8 837.18V841.39M257.5 841.39H266.1M261.8 853.48V849.27M257.5 849.27H266.1" stroke="#4a4a4a" stroke-width="1.8" fill="none"/>
<rect x="260.5" y="844.33" width="2.6" height="2" fill="#4a4a4a"/>
<rect x="268.1" y="809.26" width="16.3" height="16.3" fill="#fff" stroke="#4a4a4a" stroke-width="2.75"/>
<path d="M276.25 809.26V815.06M271.95 815.06H280.55M276.25 825.56V819.77M271.95 819.77H280.55" stroke="#4a4a4a" stroke-width="1.8" fill="none"/>
<rect x="274.95" y="816.41" width="2.6" height="2" fill="#4a4a4a"/>
<rect x="282.55" y="783.39" width="16.3" height="16.3" fill="#fff" stroke="#4a4a4a" stroke-width="2.75"/>
<path d="M290.7 783.39V789.07M286.4 789.07H295M290.7 799.69V794.02M286.4 794.02H295" stroke="#4a4a4a" stroke-width="1.8" fill="none"/>
<rect x="289.4" y="790.54" width="2.6" height="2" fill="#4a4a4a"/>
<rect x="297" y="819.94" width="16.3" height="16.3" fill="#fff" stroke="#4a4a4a" stroke-width="2.75"/>
<path d="M305.15 819.94V824.62M300.85 824.62H309.45M305.15 836.24V831.55M300.85 831.55H309.45" stroke="#4a4a4a" stroke-width="1.8" fill="none"/>
<rect x="303.85" y="827.09" width="2.6" height="2" fill="#4a4a4a"/>
<rect x="311.45" y="772.31" width="16.3" height="16.3" fill="#fff" stroke="#4a4a4a" stroke-width="2.75"/>
<path d="M319.6 772.31V777.83M315.3 777.83H323.9M319.6 788.61V783.09M315.3 783.09H323.9" stroke="#4a4a4a" stroke-width="1.8" fill="none"/>
<rect x="318.3" y="779.46" width="2.6" height="2" fill="#4a4a4a"/>
<rect x="325.9" y="818.29" width="16.3" height="16.3" fill="#fff" stroke="#4a4a4a" stroke-width="2.75"/>
<path d="M334.05 818.29V824.39M329.75 824.39H338.35M334.05 834.59V828.49M329.75 828.49H338.35" stroke="#4a4a4a" stroke-width="1.8" fill="none"/>
<rect x="332.75" y="825.44" width="2.6" height="2" fill="#4a4a4a"/>
<rect x="340.35" y="807.21" width="16.3" height="16.3" fill="#fff" stroke="#4a4a4a" stroke-width="2.75"/>
<path d="M348.5 807.21V811.05M344.2 811.05H352.8M348.5 823.51V819.67M344.2 819.67H352.8" stroke="#4a4a4a" stroke-width="1.8" fill="none"/>
<rect x="347.2" y="814.36" width="2.6" height="2" fill="#4a4a4a"/>
<rect x="354.8" y="844.98" width="16.3" height="16.3" fill="#fff" stroke="#4a4a4a" stroke-width="2.75"/>
<path d="M362.95 844.98V850.16M358.65 850.16H367.25M362.95 861.28V856.11M358.65 856.11H367.25" stroke="#4a4a4a" stroke-width="1.8" fill="none"/>
<rect x="361.65" y="852.13" width="2.6" height="2" fill="#4a4a4a"/>
<rect x="369.25" y="852.37" width="16.3" height="16.3" fill="#fff" stroke="#4a4a4a" stroke-width="2.75"/>
<path d="M377.4 852.37V857.02M373.1 857.02H381.7M377.4 868.67V864.03M373.1 864.03H381.7" stroke="#4a4a4a" stroke-width="1.8" fill="none"/>
<rect x="376.1" y="859.52" width="2.6" height="2" fill="#4a4a4a"/>
<rect x="383.7" y="850.32" width="16.3" height="16.3" fill="#fff" stroke="#4a4a4a" stroke-width="2.75"/>
<path d="M391.85 850.32V853.93M387.55 853.93H396.15M391.85 866.62V863.01M387.55 863.01H396.15" stroke="#4a4a4a" stroke-width="1.8" fill="none"/>
<rect x="390.55" y="857.47" width="2.6" height="2" fill="#4a4a4a"/>
<rect x="398.15" y="852.37" width="16.3" height="16.3" fill="#fff" stroke="#4a4a4a" stroke-width="2.75"/>
<path d="M406.3 852.37V857.77M402 857.77H410.6M406.3 868.67V863.28M402 863.28H410.6" stroke="#4a4a4a" stroke-width="1.8" fill="none"/>
<rect x="405" y="859.52" width="2.6" height="2" fill="#4a4a4a"/>
<rect x="412.6" y="860.59" width="16.3" height="16.3" fill="#fff" stroke="#4a4a4a" stroke-width="2.75"/>
<path d="M420.75 860.59V865.49M416.45 865.49H425.05M420.75 876.89V871.98M416.45 871.98H425.05" stroke="#4a4a4a" stroke-width="1.8" fill="none"/>
<rect x="419.45" y="867.74" width="2.6" height="2" fill="#4a4a4a"/>
<rect x="427.05" y="858.53" width="16.3" height="16.3" fill="#fff" stroke="#4a4a4a" stroke-width="2.75"/>
<path d="M435.2 858.53V862.8M430.9 862.8H439.5M435.2 874.83V870.56M430.9 870.56H439.5" stroke="#4a4a4a" stroke-width="1.8" fill="none"/>
<rect x="433.9" y="865.68" width="2.6" height="2" fill="#4a4a4a"/>
<rect x="441.5" y="853.19" width="16.3" height="16.3" fill="#fff" stroke="#4a4a4a" stroke-width="2.75"/>
<path d="M449.65 853.19V857.35M445.35 857.35H453.95M449.65 869.49V865.34M445.35 865.34H453.95" stroke="#4a4a4a" stroke-width="1.8" fill="none"/>
<rect x="448.35" y="860.34" width="2.6" height="2" fill="#4a4a4a"/>
<rect x="455.95" y="858.53" width="16.3" height="16.3" fill="#fff" stroke="#4a4a4a" stroke-width="2.75"/>
<path d="M464.1 858.53V863.42M459.8 863.42H468.4M464.1 874.83V869.95M459.8 869.95H468.4" stroke="#4a4a4a" stroke-width="1.8" fill="none"/>
<rect x="462.8" y="865.68" width="2.6" height="2" fill="#4a4a4a"/>
<rect x="470.4" y="853.19" width="16.3" height="16.3" fill="#fff" stroke="#4a4a4a" stroke-width="2.75"/>
<path d="M478.55 853.19V858.16M474.25 858.16H482.85M478.55 869.49V864.53M474.25 864.53H482.85" stroke="#4a4a4a" stroke-width="1.8" fill="none"/>
<rect x="477.25" y="860.34" width="2.6" height="2" fill="#4a4a4a"/>
<rect x="484.85" y="867.57" width="16.3" height="16.3" fill="#fff" stroke="#4a4a4a" stroke-width="2.75"/>
<path d="M493 867.57V872.35M488.7 872.35H497.3M493 883.87V879.08M488.7 879.08H497.3" stroke="#4a4a4a" stroke-width="1.8" fill="none"/>
<rect x="491.7" y="874.72" width="2.6" height="2" fill="#4a4a4a"/>
<rect x="499.3" y="867.57" width="16.3" height="16.3" fill="#fff" stroke="#4a4a4a" stroke-width="2.75"/>
<path d="M507.45 867.57V872.43M503.15 872.43H511.75M507.45 883.87V879M503.15 879H511.75" stroke="#4a4a4a" stroke-width="1.8" fill="none"/>
<rect x="506.15" y="874.72" width="2.6" height="2" fill="#4a4a4a"/>
<rect x="513.75" y="867.57" width="16.3" height="16.3" fill="#fff" stroke="#4a4a4a" stroke-width="2.75"/>
<path d="M521.9 867.57V872.58M517.6 872.58H526.2M521.9 883.87V878.85M517.6 878.85H526.2" stroke="#4a4a4a" stroke-width="1.8" fill="none"/>
<rect x="520.6" y="874.72" width="2.6" height="2" fill="#4a4a4a"/>
<rect x="528.2" y="867.57" width="16.3" height="16.3" fill="#fff" stroke="#4a4a4a" stroke-width="2.75"/>
<path d="M536.35 867.57V871.22M532.05 871.22H540.65M536.35 883.87V880.21M532.05 880.21H540.65" stroke="#4a4a4a" stroke-width="1.8" fill="none"/>
<rect x="535.05" y="874.72" width="2.6" height="2" fill="#4a4a4a"/>
<rect x="542.65" y="867.57" width="16.3" height="16.3" fill="#fff" stroke="#4a4a4a" stroke-width="2.75"/>
<path d="M550.8 867.57V873.39M546.5 873.39H555.1M550.8 883.87V878.04M546.5 878.04H555.1" stroke="#4a4a4a" stroke-width="1.8" fill="none"/>
<rect x="549.5" y="874.72" width="2.6" height="2" fill="#4a4a4a"/>
<rect x="557.1" y="867.57" width="16.3" height="16.3" fill="#fff" stroke="#4a4a4a" stroke-width="2.75"/>
<path d="M565.25 867.57V872.11M560.95 872.11H569.55M565.25 883.87V879.32M560.95 879.32H569.55" stroke="#4a4a4a" stroke-width="1.8" fill="none"/>
<rect x="563.95" y="874.72" width="2.6" height="2" fill="#4a4a4a"/>
<rect x="571.55" y="867.57" width="16.3" height="16.3" fill="#fff" stroke="#4a4a4a" stroke-width="2.75"/>
<path d="M579.7 867.57V872.8M575.4 872.8H584M579.7 883.87V878.63M575.4 878.63H584" stroke="#4a4a4a" stroke-width="1.8" fill="none"/>
<rect x="578.4" y="874.72" width="2.6" height="2" fill="#4a4a4a"/>
<path d="M146.2 862.58L160.65 862.99L175.1 866.68L189.55 862.99L204 870.79L218.45 864.22L232.9 862.17L247.35 845.33L261.8 814.54L276.25 773.48L290.7 700.39L305.15 714.76L319.6 574.34L334.05 619.1L348.5 711.07L362.95 794.42L377.4 819.05L391.85 833.01L406.3 835.07L420.75 852.72L435.2 842.87L449.65 831.78L464.1 853.54L478.55 866.68L493 871.61L507.45 869.56L521.9 872.64L536.35 874.89L550.8 874.89L565.25 874.89L579.7 874.89" fill="none" stroke="#d63c44" stroke-width="2.5" stroke-linejoin="round"/>
<circle cx="146.2" cy="862.58" r="9.6" fill="#fff" stroke="#d63c44" stroke-width="2.75"/>
<path d="M146.2 852.98V860.4M141.9 860.4H150.5M146.2 872.18V864.75M141.9 864.75H150.5" stroke="#d63c44" stroke-width="1.8" fill="none"/>
<rect x="144.9" y="861.58" width="2.6" height="2" fill="#d63c44"/>
<circle cx="160.65" cy="862.99" r="9.6" fill="#fff" stroke="#d63c44" stroke-width="2.75"/>
<path d="M160.65 853.39V861.76M156.35 861.76H164.95M160.65 872.59V864.22M156.35 864.22H164.95" stroke="#d63c44" stroke-width="1.8" fill="none"/>
<rect x="159.35" y="861.99" width="2.6" height="2" fill="#d63c44"/>
<circle cx="175.1" cy="866.68" r="9.6" fill="#fff" stroke="#d63c44" stroke-width="2.75"/>
<path d="M175.1 857.08V862.42M170.8 862.42H179.4M175.1 876.28V870.94M170.8 870.94H179.4" stroke="#d63c44" stroke-width="1.8" fill="none"/>
<rect x="173.8" y="865.68" width="2.6" height="2" fill="#d63c44"/>
<circle cx="189.55" cy="862.99" r="9.6" fill="#fff" stroke="#d63c44" stroke-width="2.75"/>
<path d="M189.55 853.39V861.76M185.25 861.76H193.85M189.55 872.59V864.22M185.25 864.22H193.85" stroke="#d63c44" stroke-width="1.8" fill="none"/>
<rect x="188.25" y="861.99" width="2.6" height="2" fill="#d63c44"/>
<circle cx="204" cy="870.79" r="9.6" fill="#fff" stroke="#d63c44" stroke-width="2.75"/>
<path d="M204 861.19V869.56M199.7 869.56H208.3M204 880.39V872.02M199.7 872.02H208.3" stroke="#d63c44" stroke-width="1.8" fill="none"/>
<rect x="202.7" y="869.79" width="2.6" height="2" fill="#d63c44"/>
<circle cx="218.45" cy="864.22" r="9.6" fill="#fff" stroke="#d63c44" stroke-width="2.75"/>
<path d="M218.45 854.62V862.99M214.15 862.99H222.75M218.45 873.82V865.45M214.15 865.45H222.75" stroke="#d63c44" stroke-width="1.8" fill="none"/>
<rect x="217.15" y="863.22" width="2.6" height="2" fill="#d63c44"/>
<circle cx="232.9" cy="862.17" r="9.6" fill="#fff" stroke="#d63c44" stroke-width="2.75"/>
<path d="M232.9 852.57V860.93M228.6 860.93H237.2M232.9 871.77V863.4M228.6 863.4H237.2" stroke="#d63c44" stroke-width="1.8" fill="none"/>
<rect x="231.6" y="861.17" width="2.6" height="2" fill="#d63c44"/>
<circle cx="247.35" cy="845.33" r="9.6" fill="#fff" stroke="#d63c44" stroke-width="2.75"/>
<path d="M247.35 835.73V840.91M243.05 840.91H251.65M247.35 854.93V849.75M243.05 849.75H251.65" stroke="#d63c44" stroke-width="1.8" fill="none"/>
<rect x="246.05" y="844.33" width="2.6" height="2" fill="#d63c44"/>
<circle cx="261.8" cy="814.54" r="9.6" fill="#fff" stroke="#d63c44" stroke-width="2.75"/>
<path d="M261.8 804.94V811.42M257.5 811.42H266.1M261.8 824.14V817.66M257.5 817.66H266.1" stroke="#d63c44" stroke-width="1.8" fill="none"/>
<rect x="260.5" y="813.54" width="2.6" height="2" fill="#d63c44"/>
<circle cx="276.25" cy="773.48" r="9.6" fill="#fff" stroke="#d63c44" stroke-width="2.75"/>
<path d="M276.25 763.88V770.23M271.95 770.23H280.55M276.25 783.08V776.72M271.95 776.72H280.55" stroke="#d63c44" stroke-width="1.8" fill="none"/>
<rect x="274.95" y="772.48" width="2.6" height="2" fill="#d63c44"/>
<circle cx="290.7" cy="700.39" r="9.6" fill="#fff" stroke="#d63c44" stroke-width="2.75"/>
<path d="M290.7 690.79V699.16M286.4 699.16H295M290.7 709.99V701.63M286.4 701.63H295" stroke="#d63c44" stroke-width="1.8" fill="none"/>
<rect x="289.4" y="699.39" width="2.6" height="2" fill="#d63c44"/>
<circle cx="305.15" cy="714.76" r="9.6" fill="#fff" stroke="#d63c44" stroke-width="2.75"/>
<path d="M305.15 705.16V710.66M300.85 710.66H309.45M305.15 724.36V718.87M300.85 718.87H309.45" stroke="#d63c44" stroke-width="1.8" fill="none"/>
<rect x="303.85" y="713.76" width="2.6" height="2" fill="#d63c44"/>
<circle cx="319.6" cy="574.34" r="9.6" fill="#fff" stroke="#d63c44" stroke-width="2.75"/>
<path d="M319.6 564.74V547.66M315.3 547.66H323.9M319.6 583.94V601.03M315.3 601.03H323.9" stroke="#d63c44" stroke-width="1.8" fill="none"/>
<rect x="318.3" y="573.34" width="2.6" height="2" fill="#d63c44"/>
<circle cx="334.05" cy="619.1" r="9.6" fill="#fff" stroke="#d63c44" stroke-width="2.75"/>

<rect x="332.75" y="618.1" width="2.6" height="2" fill="#d63c44"/>
<circle cx="348.5" cy="711.07" r="9.6" fill="#fff" stroke="#d63c44" stroke-width="2.75"/>
<path d="M348.5 701.47V694.65M344.2 694.65H352.8M348.5 720.67V727.49M344.2 727.49H352.8" stroke="#d63c44" stroke-width="1.8" fill="none"/>
<rect x="347.2" y="710.07" width="2.6" height="2" fill="#d63c44"/>
<circle cx="362.95" cy="794.42" r="9.6" fill="#fff" stroke="#d63c44" stroke-width="2.75"/>
<path d="M362.95 784.82V791.23M358.65 791.23H367.25M362.95 804.02V797.61M358.65 797.61H367.25" stroke="#d63c44" stroke-width="1.8" fill="none"/>
<rect x="361.65" y="793.42" width="2.6" height="2" fill="#d63c44"/>
<circle cx="377.4" cy="819.05" r="9.6" fill="#fff" stroke="#d63c44" stroke-width="2.75"/>
<path d="M377.4 809.45V816.03M373.1 816.03H381.7M377.4 828.65V822.08M373.1 822.08H381.7" stroke="#d63c44" stroke-width="1.8" fill="none"/>
<rect x="376.1" y="818.05" width="2.6" height="2" fill="#d63c44"/>
<circle cx="391.85" cy="833.01" r="9.6" fill="#fff" stroke="#d63c44" stroke-width="2.75"/>
<path d="M391.85 823.41V828.68M387.55 828.68H396.15M391.85 842.61V837.35M387.55 837.35H396.15" stroke="#d63c44" stroke-width="1.8" fill="none"/>
<rect x="390.55" y="832.01" width="2.6" height="2" fill="#d63c44"/>
<circle cx="406.3" cy="835.07" r="9.6" fill="#fff" stroke="#d63c44" stroke-width="2.75"/>
<path d="M406.3 825.47V832.13M402 832.13H410.6M406.3 844.67V838M402 838H410.6" stroke="#d63c44" stroke-width="1.8" fill="none"/>
<rect x="405" y="834.07" width="2.6" height="2" fill="#d63c44"/>
<circle cx="420.75" cy="852.72" r="9.6" fill="#fff" stroke="#d63c44" stroke-width="2.75"/>
<path d="M420.75 843.12V849.36M416.45 849.36H425.05M420.75 862.32V856.08M416.45 856.08H425.05" stroke="#d63c44" stroke-width="1.8" fill="none"/>
<rect x="419.45" y="851.72" width="2.6" height="2" fill="#d63c44"/>
<circle cx="435.2" cy="842.87" r="9.6" fill="#fff" stroke="#d63c44" stroke-width="2.75"/>
<path d="M435.2 833.27V840.31M430.9 840.31H439.5M435.2 852.47V845.43M430.9 845.43H439.5" stroke="#d63c44" stroke-width="1.8" fill="none"/>
<rect x="433.9" y="841.87" width="2.6" height="2" fill="#d63c44"/>
<circle cx="449.65" cy="831.78" r="9.6" fill="#fff" stroke="#d63c44" stroke-width="2.75"/>
<path d="M449.65 822.18V829.26M445.35 829.26H453.95M449.65 841.38V834.3M445.35 834.3H453.95" stroke="#d63c44" stroke-width="1.8" fill="none"/>
<rect x="448.35" y="830.78" width="2.6" height="2" fill="#d63c44"/>
<circle cx="464.1" cy="853.54" r="9.6" fill="#fff" stroke="#d63c44" stroke-width="2.75"/>
<path d="M464.1 843.94V851.2M459.8 851.2H468.4M464.1 863.14V855.89M459.8 855.89H468.4" stroke="#d63c44" stroke-width="1.8" fill="none"/>
<rect x="462.8" y="852.54" width="2.6" height="2" fill="#d63c44"/>
<circle cx="478.55" cy="866.68" r="9.6" fill="#fff" stroke="#d63c44" stroke-width="2.75"/>
<path d="M478.55 857.08V864.2M474.25 864.2H482.85M478.55 876.28V869.17M474.25 869.17H482.85" stroke="#d63c44" stroke-width="1.8" fill="none"/>
<rect x="477.25" y="865.68" width="2.6" height="2" fill="#d63c44"/>
<circle cx="493" cy="871.61" r="9.6" fill="#fff" stroke="#d63c44" stroke-width="2.75"/>
<path d="M493 862.01V869.19M488.7 869.19H497.3M493 881.21V874.03M488.7 874.03H497.3" stroke="#d63c44" stroke-width="1.8" fill="none"/>
<rect x="491.7" y="870.61" width="2.6" height="2" fill="#d63c44"/>
<circle cx="507.45" cy="869.56" r="9.6" fill="#fff" stroke="#d63c44" stroke-width="2.75"/>
<path d="M507.45 859.96V867.14M503.15 867.14H511.75M507.45 879.16V871.97M503.15 871.97H511.75" stroke="#d63c44" stroke-width="1.8" fill="none"/>
<rect x="506.15" y="868.56" width="2.6" height="2" fill="#d63c44"/>
<circle cx="521.9" cy="872.64" r="9.6" fill="#fff" stroke="#d63c44" stroke-width="2.75"/>
<path d="M521.9 863.04V870.38M517.6 870.38H526.2M521.9 882.24V874.9M517.6 874.9H526.2" stroke="#d63c44" stroke-width="1.8" fill="none"/>
<rect x="520.6" y="871.64" width="2.6" height="2" fill="#d63c44"/>
<circle cx="536.35" cy="874.89" r="9.6" fill="#fff" stroke="#d63c44" stroke-width="2.75"/>
<path d="M536.35 865.29V871.63M532.05 871.63H540.65M536.35 884.49V878.15M532.05 878.15H540.65" stroke="#d63c44" stroke-width="1.8" fill="none"/>
<rect x="535.05" y="873.89" width="2.6" height="2" fill="#d63c44"/>
<circle cx="550.8" cy="874.89" r="9.6" fill="#fff" stroke="#d63c44" stroke-width="2.75"/>
<path d="M550.8 865.29V872.86M546.5 872.86H555.1M550.8 884.49V876.92M546.5 876.92H555.1" stroke="#d63c44" stroke-width="1.8" fill="none"/>
<rect x="549.5" y="873.89" width="2.6" height="2" fill="#d63c44"/>
<circle cx="565.25" cy="874.89" r="9.6" fill="#fff" stroke="#d63c44" stroke-width="2.75"/>
<path d="M565.25 865.29V871.85M560.95 871.85H569.55M565.25 884.49V877.94M560.95 877.94H569.55" stroke="#d63c44" stroke-width="1.8" fill="none"/>
<rect x="563.95" y="873.89" width="2.6" height="2" fill="#d63c44"/>
<circle cx="579.7" cy="874.89" r="9.6" fill="#fff" stroke="#d63c44" stroke-width="2.75"/>
<path d="M579.7 865.29V872.79M575.4 872.79H584M579.7 884.49V877M575.4 877H584" stroke="#d63c44" stroke-width="1.8" fill="none"/>
<rect x="578.4" y="873.89" width="2.6" height="2" fill="#d63c44"/>
<path d="M146.2 841.23L171.49 876.95L175.1 812.48L189.55 773.48L204 829.32L218.45 846.97L232.9 839.17L247.35 835.07L261.8 839.17L276.25 821.52L290.7 833.42L305.15 837.12L319.6 819.46L334.05 807.56L348.5 826.44L362.95 858.47L377.4 864.22L391.85 857.24L406.3 858.47L420.75 867.09L435.2 866.27L449.65 868.32L464.1 868.32L478.55 876.13L493 877.77L507.45 877.77L521.9 877.77L536.35 876.13L550.8 877.77L565.25 877.36L579.7 877.36" fill="none" stroke="#1e66cc" stroke-width="2.5" stroke-linejoin="round"/>
<polygon points="146.2,828.76 157,847.46 135.4,847.46" fill="#fff" stroke="#1e66cc" stroke-width="2.75" stroke-linejoin="miter"/>
<path d="M146.2 828.76V838.21M141.9 838.21H150.5M146.2 847.46V844.24M141.9 844.24H150.5" stroke="#1e66cc" stroke-width="1.8" fill="none"/>
<rect x="144.9" y="840.23" width="2.6" height="2" fill="#1e66cc"/>
<polygon points="171.49,864.48 182.29,883.18 160.69,883.18" fill="#fff" stroke="#1e66cc" stroke-width="2.75" stroke-linejoin="miter"/>
<path d="M171.49 864.48V872.44M167.19 872.44H175.79M171.49 883.18V881.46M167.19 881.46H175.79" stroke="#1e66cc" stroke-width="1.8" fill="none"/>
<rect x="170.19" y="875.95" width="2.6" height="2" fill="#1e66cc"/>
<polygon points="175.1,800.01 185.9,818.72 164.3,818.72" fill="#fff" stroke="#1e66cc" stroke-width="2.75" stroke-linejoin="miter"/>
<path d="M175.1 800.01V810.27M170.8 810.27H179.4M175.1 818.72V814.7M170.8 814.7H179.4" stroke="#1e66cc" stroke-width="1.8" fill="none"/>
<rect x="173.8" y="811.48" width="2.6" height="2" fill="#1e66cc"/>
<polygon points="189.55,761.01 200.35,779.71 178.75,779.71" fill="#fff" stroke="#1e66cc" stroke-width="2.75" stroke-linejoin="miter"/>
<path d="M189.55 761.01V771.08M185.25 771.08H193.85M189.55 779.71V775.88M185.25 775.88H193.85" stroke="#1e66cc" stroke-width="1.8" fill="none"/>
<rect x="188.25" y="772.48" width="2.6" height="2" fill="#1e66cc"/>
<polygon points="204,816.85 214.8,835.55 193.2,835.55" fill="#fff" stroke="#1e66cc" stroke-width="2.75" stroke-linejoin="miter"/>
<path d="M204 816.85V826.44M199.7 826.44H208.3M204 835.55V832.2M199.7 832.2H208.3" stroke="#1e66cc" stroke-width="1.8" fill="none"/>
<rect x="202.7" y="828.32" width="2.6" height="2" fill="#1e66cc"/>
<polygon points="218.45,834.5 229.25,853.21 207.65,853.21" fill="#fff" stroke="#1e66cc" stroke-width="2.75" stroke-linejoin="miter"/>
<path d="M218.45 834.5V844.87M214.15 844.87H222.75M218.45 853.21V849.08M214.15 849.08H222.75" stroke="#1e66cc" stroke-width="1.8" fill="none"/>
<rect x="217.15" y="845.97" width="2.6" height="2" fill="#1e66cc"/>
<polygon points="232.9,826.7 243.7,845.41 222.1,845.41" fill="#fff" stroke="#1e66cc" stroke-width="2.75" stroke-linejoin="miter"/>
<path d="M232.9 826.7V836.48M228.6 836.48H237.2M232.9 845.41V841.87M228.6 841.87H237.2" stroke="#1e66cc" stroke-width="1.8" fill="none"/>
<rect x="231.6" y="838.17" width="2.6" height="2" fill="#1e66cc"/>
<polygon points="247.35,822.6 258.15,841.3 236.55,841.3" fill="#fff" stroke="#1e66cc" stroke-width="2.75" stroke-linejoin="miter"/>
<path d="M247.35 822.6V831.87M243.05 831.87H251.65M247.35 841.3V838.26M243.05 838.26H251.65" stroke="#1e66cc" stroke-width="1.8" fill="none"/>
<rect x="246.05" y="834.07" width="2.6" height="2" fill="#1e66cc"/>
<polygon points="261.8,826.7 272.6,845.41 251,845.41" fill="#fff" stroke="#1e66cc" stroke-width="2.75" stroke-linejoin="miter"/>
<path d="M261.8 826.7V836.41M257.5 836.41H266.1M261.8 845.41V841.93M257.5 841.93H266.1" stroke="#1e66cc" stroke-width="1.8" fill="none"/>
<rect x="260.5" y="838.17" width="2.6" height="2" fill="#1e66cc"/>
<polygon points="276.25,809.05 287.05,827.75 265.45,827.75" fill="#fff" stroke="#1e66cc" stroke-width="2.75" stroke-linejoin="miter"/>
<path d="M276.25 809.05V818.85M271.95 818.85H280.55M276.25 827.75V824.19M271.95 824.19H280.55" stroke="#1e66cc" stroke-width="1.8" fill="none"/>
<rect x="274.95" y="820.52" width="2.6" height="2" fill="#1e66cc"/>
<polygon points="290.7,820.95 301.5,839.66 279.9,839.66" fill="#fff" stroke="#1e66cc" stroke-width="2.75" stroke-linejoin="miter"/>
<path d="M290.7 820.95V829.8M286.4 829.8H295M290.7 839.66V837.05M286.4 837.05H295" stroke="#1e66cc" stroke-width="1.8" fill="none"/>
<rect x="289.4" y="832.42" width="2.6" height="2" fill="#1e66cc"/>
<polygon points="305.15,824.65 315.95,843.36 294.35,843.36" fill="#fff" stroke="#1e66cc" stroke-width="2.75" stroke-linejoin="miter"/>
<path d="M305.15 824.65V834.9M300.85 834.9H309.45M305.15 843.36V839.34M300.85 839.34H309.45" stroke="#1e66cc" stroke-width="1.8" fill="none"/>
<rect x="303.85" y="836.12" width="2.6" height="2" fill="#1e66cc"/>
<polygon points="319.6,806.99 330.4,825.7 308.8,825.7" fill="#fff" stroke="#1e66cc" stroke-width="2.75" stroke-linejoin="miter"/>
<path d="M319.6 806.99V814.95M315.3 814.95H323.9M319.6 825.7V823.98M315.3 823.98H323.9" stroke="#1e66cc" stroke-width="1.8" fill="none"/>
<rect x="318.3" y="818.46" width="2.6" height="2" fill="#1e66cc"/>
<polygon points="334.05,795.09 344.85,813.79 323.25,813.79" fill="#fff" stroke="#1e66cc" stroke-width="2.75" stroke-linejoin="miter"/>
<path d="M334.05 795.09V805.58M329.75 805.58H338.35M334.05 813.79V809.54M329.75 809.54H338.35" stroke="#1e66cc" stroke-width="1.8" fill="none"/>
<rect x="332.75" y="806.56" width="2.6" height="2" fill="#1e66cc"/>
<polygon points="348.5,813.97 359.3,832.68 337.7,832.68" fill="#fff" stroke="#1e66cc" stroke-width="2.75" stroke-linejoin="miter"/>
<path d="M348.5 813.97V824.24M344.2 824.24H352.8M348.5 832.68V828.65M344.2 828.65H352.8" stroke="#1e66cc" stroke-width="1.8" fill="none"/>
<rect x="347.2" y="825.44" width="2.6" height="2" fill="#1e66cc"/>
<polygon points="362.95,846 373.75,864.71 352.15,864.71" fill="#fff" stroke="#1e66cc" stroke-width="2.75" stroke-linejoin="miter"/>
<path d="M362.95 846V856.4M358.65 856.4H367.25M362.95 864.71V860.54M358.65 860.54H367.25" stroke="#1e66cc" stroke-width="1.8" fill="none"/>
<rect x="361.65" y="857.47" width="2.6" height="2" fill="#1e66cc"/>
<polygon points="377.4,851.75 388.2,870.45 366.6,870.45" fill="#fff" stroke="#1e66cc" stroke-width="2.75" stroke-linejoin="miter"/>
<path d="M377.4 851.75V860.53M373.1 860.53H381.7M377.4 870.45V867.91M373.1 867.91H381.7" stroke="#1e66cc" stroke-width="1.8" fill="none"/>
<rect x="376.1" y="863.22" width="2.6" height="2" fill="#1e66cc"/>
<polygon points="391.85,844.77 402.65,863.47 381.05,863.47" fill="#fff" stroke="#1e66cc" stroke-width="2.75" stroke-linejoin="miter"/>
<path d="M391.85 844.77V854.74M387.55 854.74H396.15M391.85 863.47V859.74M387.55 859.74H396.15" stroke="#1e66cc" stroke-width="1.8" fill="none"/>
<rect x="390.55" y="856.24" width="2.6" height="2" fill="#1e66cc"/>
<polygon points="406.3,846 417.1,864.71 395.5,864.71" fill="#fff" stroke="#1e66cc" stroke-width="2.75" stroke-linejoin="miter"/>
<path d="M406.3 846V855.25M402 855.25H410.6M406.3 864.71V861.69M402 861.69H410.6" stroke="#1e66cc" stroke-width="1.8" fill="none"/>
<rect x="405" y="857.47" width="2.6" height="2" fill="#1e66cc"/>
<polygon points="420.75,854.62 431.55,873.33 409.95,873.33" fill="#fff" stroke="#1e66cc" stroke-width="2.75" stroke-linejoin="miter"/>
<path d="M420.75 854.62V862.71M416.45 862.71H425.05M420.75 873.33V871.47M416.45 871.47H425.05" stroke="#1e66cc" stroke-width="1.8" fill="none"/>
<rect x="419.45" y="866.09" width="2.6" height="2" fill="#1e66cc"/>
<polygon points="435.2,853.8 446,872.51 424.4,872.51" fill="#fff" stroke="#1e66cc" stroke-width="2.75" stroke-linejoin="miter"/>
<path d="M435.2 853.8V864.21M430.9 864.21H439.5M435.2 872.51V868.33M430.9 868.33H439.5" stroke="#1e66cc" stroke-width="1.8" fill="none"/>
<rect x="433.9" y="865.27" width="2.6" height="2" fill="#1e66cc"/>
<polygon points="449.65,855.85 460.45,874.56 438.85,874.56" fill="#fff" stroke="#1e66cc" stroke-width="2.75" stroke-linejoin="miter"/>
<path d="M449.65 855.85V864.76M445.35 864.76H453.95M449.65 874.56V871.89M445.35 871.89H453.95" stroke="#1e66cc" stroke-width="1.8" fill="none"/>
<rect x="448.35" y="867.32" width="2.6" height="2" fill="#1e66cc"/>
<polygon points="464.1,855.85 474.9,874.56 453.3,874.56" fill="#fff" stroke="#1e66cc" stroke-width="2.75" stroke-linejoin="miter"/>
<path d="M464.1 855.85V866.12M459.8 866.12H468.4M464.1 874.56V870.53M459.8 870.53H468.4" stroke="#1e66cc" stroke-width="1.8" fill="none"/>
<rect x="462.8" y="867.32" width="2.6" height="2" fill="#1e66cc"/>
<polygon points="478.55,863.66 489.35,882.36 467.75,882.36" fill="#fff" stroke="#1e66cc" stroke-width="2.75" stroke-linejoin="miter"/>
<path d="M478.55 863.66V871.92M474.25 871.92H482.85M478.55 882.36V880.33M474.25 880.33H482.85" stroke="#1e66cc" stroke-width="1.8" fill="none"/>
<rect x="477.25" y="875.13" width="2.6" height="2" fill="#1e66cc"/>
<polygon points="493,865.3 503.8,884 482.2,884" fill="#fff" stroke="#1e66cc" stroke-width="2.75" stroke-linejoin="miter"/>
<path d="M493 865.3V874.77M488.7 874.77H497.3M493 884V880.76M488.7 880.76H497.3" stroke="#1e66cc" stroke-width="1.8" fill="none"/>
<rect x="491.7" y="876.77" width="2.6" height="2" fill="#1e66cc"/>
<polygon points="507.45,865.3 518.25,884 496.65,884" fill="#fff" stroke="#1e66cc" stroke-width="2.75" stroke-linejoin="miter"/>
<path d="M507.45 865.3V874.01M503.15 874.01H511.75M507.45 884V881.53M503.15 881.53H511.75" stroke="#1e66cc" stroke-width="1.8" fill="none"/>
<rect x="506.15" y="876.77" width="2.6" height="2" fill="#1e66cc"/>
<polygon points="521.9,865.3 532.7,884 511.1,884" fill="#fff" stroke="#1e66cc" stroke-width="2.75" stroke-linejoin="miter"/>
<path d="M521.9 865.3V875.34M517.6 875.34H526.2M521.9 884V880.2M517.6 880.2H526.2" stroke="#1e66cc" stroke-width="1.8" fill="none"/>
<rect x="520.6" y="876.77" width="2.6" height="2" fill="#1e66cc"/>
<polygon points="536.35,863.66 547.15,882.36 525.55,882.36" fill="#fff" stroke="#1e66cc" stroke-width="2.75" stroke-linejoin="miter"/>
<path d="M536.35 863.66V872.23M532.05 872.23H540.65M536.35 882.36V880.03M532.05 880.03H540.65" stroke="#1e66cc" stroke-width="1.8" fill="none"/>
<rect x="535.05" y="875.13" width="2.6" height="2" fill="#1e66cc"/>
<polygon points="550.8,865.3 561.6,884 540,884" fill="#fff" stroke="#1e66cc" stroke-width="2.75" stroke-linejoin="miter"/>
<path d="M550.8 865.3V874.34M546.5 874.34H555.1M550.8 884V881.19M546.5 881.19H555.1" stroke="#1e66cc" stroke-width="1.8" fill="none"/>
<rect x="549.5" y="876.77" width="2.6" height="2" fill="#1e66cc"/>
<polygon points="565.25,864.89 576.05,883.59 554.45,883.59" fill="#fff" stroke="#1e66cc" stroke-width="2.75" stroke-linejoin="miter"/>
<path d="M565.25 864.89V874.43M560.95 874.43H569.55M565.25 883.59V880.28M560.95 880.28H569.55" stroke="#1e66cc" stroke-width="1.8" fill="none"/>
<rect x="563.95" y="876.36" width="2.6" height="2" fill="#1e66cc"/>
<polygon points="579.7,864.89 590.5,883.59 568.9,883.59" fill="#fff" stroke="#1e66cc" stroke-width="2.75" stroke-linejoin="miter"/>
<path d="M579.7 864.89V874.78M575.4 874.78H584M579.7 883.59V879.93M575.4 879.93H584" stroke="#1e66cc" stroke-width="1.8" fill="none"/>
<rect x="578.4" y="876.36" width="2.6" height="2" fill="#1e66cc"/>
<path d="M146.2 865.04L160.65 879L175.1 879L189.55 879L204 879L218.45 879L232.9 879L247.35 879L261.8 879L276.25 879L290.7 879L305.15 879L319.6 879L334.05 879L348.5 879L362.95 879L377.4 879L391.85 879L406.3 879L420.75 879L435.2 879L449.65 879L464.1 879L478.55 879L493 879L507.45 879L521.9 879L536.35 879L550.8 879L565.25 879L579.7 879" fill="none" stroke="#3ea66c" stroke-width="2.5" stroke-linejoin="round"/>
<polygon points="146.2,877.51 157,858.8 135.4,858.8" fill="#fff" stroke="#3ea66c" stroke-width="2.75" stroke-linejoin="miter"/>

<rect x="144.9" y="864.04" width="2.6" height="2" fill="#3ea66c"/>
<polygon points="160.65,891.47 171.45,872.76 149.85,872.76" fill="#fff" stroke="#3ea66c" stroke-width="2.75" stroke-linejoin="miter"/>

<rect x="159.35" y="878" width="2.6" height="2" fill="#3ea66c"/>
<polygon points="175.1,891.47 185.9,872.76 164.3,872.76" fill="#fff" stroke="#3ea66c" stroke-width="2.75" stroke-linejoin="miter"/>

<rect x="173.8" y="878" width="2.6" height="2" fill="#3ea66c"/>
<polygon points="189.55,891.47 200.35,872.76 178.75,872.76" fill="#fff" stroke="#3ea66c" stroke-width="2.75" stroke-linejoin="miter"/>

<rect x="188.25" y="878" width="2.6" height="2" fill="#3ea66c"/>
<polygon points="204,891.47 214.8,872.76 193.2,872.76" fill="#fff" stroke="#3ea66c" stroke-width="2.75" stroke-linejoin="miter"/>

<rect x="202.7" y="878" width="2.6" height="2" fill="#3ea66c"/>
<polygon points="218.45,891.47 229.25,872.76 207.65,872.76" fill="#fff" stroke="#3ea66c" stroke-width="2.75" stroke-linejoin="miter"/>

<rect x="217.15" y="878" width="2.6" height="2" fill="#3ea66c"/>
<polygon points="232.9,891.47 243.7,872.76 222.1,872.76" fill="#fff" stroke="#3ea66c" stroke-width="2.75" stroke-linejoin="miter"/>

<rect x="231.6" y="878" width="2.6" height="2" fill="#3ea66c"/>
<polygon points="247.35,891.47 258.15,872.76 236.55,872.76" fill="#fff" stroke="#3ea66c" stroke-width="2.75" stroke-linejoin="miter"/>

<rect x="246.05" y="878" width="2.6" height="2" fill="#3ea66c"/>
<polygon points="261.8,891.47 272.6,872.76 251,872.76" fill="#fff" stroke="#3ea66c" stroke-width="2.75" stroke-linejoin="miter"/>

<rect x="260.5" y="878" width="2.6" height="2" fill="#3ea66c"/>
<polygon points="276.25,891.47 287.05,872.76 265.45,872.76" fill="#fff" stroke="#3ea66c" stroke-width="2.75" stroke-linejoin="miter"/>

<rect x="274.95" y="878" width="2.6" height="2" fill="#3ea66c"/>
<polygon points="290.7,891.47 301.5,872.76 279.9,872.76" fill="#fff" stroke="#3ea66c" stroke-width="2.75" stroke-linejoin="miter"/>

<rect x="289.4" y="878" width="2.6" height="2" fill="#3ea66c"/>
<polygon points="305.15,891.47 315.95,872.76 294.35,872.76" fill="#fff" stroke="#3ea66c" stroke-width="2.75" stroke-linejoin="miter"/>

<rect x="303.85" y="878" width="2.6" height="2" fill="#3ea66c"/>
<polygon points="319.6,891.47 330.4,872.76 308.8,872.76" fill="#fff" stroke="#3ea66c" stroke-width="2.75" stroke-linejoin="miter"/>

<rect x="318.3" y="878" width="2.6" height="2" fill="#3ea66c"/>
<polygon points="334.05,891.47 344.85,872.76 323.25,872.76" fill="#fff" stroke="#3ea66c" stroke-width="2.75" stroke-linejoin="miter"/>

<rect x="332.75" y="878" width="2.6" height="2" fill="#3ea66c"/>
<polygon points="348.5,891.47 359.3,872.76 337.7,872.76" fill="#fff" stroke="#3ea66c" stroke-width="2.75" stroke-linejoin="miter"/>

<rect x="347.2" y="878" width="2.6" height="2" fill="#3ea66c"/>
<polygon points="362.95,891.47 373.75,872.76 352.15,872.76" fill="#fff" stroke="#3ea66c" stroke-width="2.75" stroke-linejoin="miter"/>

<rect x="361.65" y="878" width="2.6" height="2" fill="#3ea66c"/>
<polygon points="377.4,891.47 388.2,872.76 366.6,872.76" fill="#fff" stroke="#3ea66c" stroke-width="2.75" stroke-linejoin="miter"/>

<rect x="376.1" y="878" width="2.6" height="2" fill="#3ea66c"/>
<polygon points="391.85,891.47 402.65,872.76 381.05,872.76" fill="#fff" stroke="#3ea66c" stroke-width="2.75" stroke-linejoin="miter"/>

<rect x="390.55" y="878" width="2.6" height="2" fill="#3ea66c"/>
<polygon points="406.3,891.47 417.1,872.76 395.5,872.76" fill="#fff" stroke="#3ea66c" stroke-width="2.75" stroke-linejoin="miter"/>

<rect x="405" y="878" width="2.6" height="2" fill="#3ea66c"/>
<polygon points="420.75,891.47 431.55,872.76 409.95,872.76" fill="#fff" stroke="#3ea66c" stroke-width="2.75" stroke-linejoin="miter"/>

<rect x="419.45" y="878" width="2.6" height="2" fill="#3ea66c"/>
<polygon points="435.2,891.47 446,872.76 424.4,872.76" fill="#fff" stroke="#3ea66c" stroke-width="2.75" stroke-linejoin="miter"/>

<rect x="433.9" y="878" width="2.6" height="2" fill="#3ea66c"/>
<polygon points="449.65,891.47 460.45,872.76 438.85,872.76" fill="#fff" stroke="#3ea66c" stroke-width="2.75" stroke-linejoin="miter"/>

<rect x="448.35" y="878" width="2.6" height="2" fill="#3ea66c"/>
<polygon points="464.1,891.47 474.9,872.76 453.3,872.76" fill="#fff" stroke="#3ea66c" stroke-width="2.75" stroke-linejoin="miter"/>

<rect x="462.8" y="878" width="2.6" height="2" fill="#3ea66c"/>
<polygon points="478.55,891.47 489.35,872.76 467.75,872.76" fill="#fff" stroke="#3ea66c" stroke-width="2.75" stroke-linejoin="miter"/>

<rect x="477.25" y="878" width="2.6" height="2" fill="#3ea66c"/>
<polygon points="493,891.47 503.8,872.76 482.2,872.76" fill="#fff" stroke="#3ea66c" stroke-width="2.75" stroke-linejoin="miter"/>

<rect x="491.7" y="878" width="2.6" height="2" fill="#3ea66c"/>
<polygon points="507.45,891.47 518.25,872.76 496.65,872.76" fill="#fff" stroke="#3ea66c" stroke-width="2.75" stroke-linejoin="miter"/>

<rect x="506.15" y="878" width="2.6" height="2" fill="#3ea66c"/>
<polygon points="521.9,891.47 532.7,872.76 511.1,872.76" fill="#fff" stroke="#3ea66c" stroke-width="2.75" stroke-linejoin="miter"/>

<rect x="520.6" y="878" width="2.6" height="2" fill="#3ea66c"/>
<polygon points="536.35,891.47 547.15,872.76 525.55,872.76" fill="#fff" stroke="#3ea66c" stroke-width="2.75" stroke-linejoin="miter"/>

<rect x="535.05" y="878" width="2.6" height="2" fill="#3ea66c"/>
<polygon points="550.8,891.47 561.6,872.76 540,872.76" fill="#fff" stroke="#3ea66c" stroke-width="2.75" stroke-linejoin="miter"/>

<rect x="549.5" y="878" width="2.6" height="2" fill="#3ea66c"/>
<polygon points="565.25,891.47 576.05,872.76 554.45,872.76" fill="#fff" stroke="#3ea66c" stroke-width="2.75" stroke-linejoin="miter"/>

<rect x="563.95" y="878" width="2.6" height="2" fill="#3ea66c"/>
<polygon points="579.7,891.47 590.5,872.76 568.9,872.76" fill="#fff" stroke="#3ea66c" stroke-width="2.75" stroke-linejoin="miter"/>

<rect x="578.4" y="878" width="2.6" height="2" fill="#3ea66c"/>
</g>
<rect x="146.2" y="530" width="441.2" height="349" fill="none" stroke="#000" stroke-width="3.0"/>
<path d="M144.7 879h-5.9M144.7 796.88h-5.9M144.7 714.76h-5.9M144.7 632.65h-5.9M144.7 550.53h-5.9M146.2 880.5v4.9M218.45 880.5v4.9M290.7 880.5v4.9M362.95 880.5v4.9M435.2 880.5v4.9M507.45 880.5v4.9M579.7 880.5v4.9" stroke="#000" stroke-width="3" fill="none"/>
<path d="M144.7 837.94h-2.3M144.7 755.82h-2.3M144.7 673.71h-2.3M144.7 591.59h-2.3M182.32 880.5v2.1M254.57 880.5v2.1M326.82 880.5v2.1M399.07 880.5v2.1M471.32 880.5v2.1M543.58 880.5v2.1" stroke="#000" stroke-width="2.6" fill="none"/>
<text x="134.6" y="884.9" text-anchor="end" font-size="19">0</text>
<text x="134.6" y="802.78" text-anchor="end" font-size="19">2</text>
<text x="134.6" y="720.66" text-anchor="end" font-size="19">4</text>
<text x="134.6" y="638.55" text-anchor="end" font-size="19">6</text>
<text x="134.6" y="556.43" text-anchor="end" font-size="19">8</text>
<text x="150.4" y="553" font-size="19" font-weight="bold">(c)</text>
<text transform="translate(90.2,718.3) rotate(-90)" text-anchor="middle" font-size="20.2" font-weight="bold">CH<tspan font-size="13.4" dy="5.6">4</tspan><tspan dy="-5.6">&#8203;</tspan> Emission (mg / kg DM / d)</text>
<clipPath id="clipd"><rect x="707.6" y="530" width="441.9" height="349"/></clipPath>
<g clip-path="url(#clipd)">
<path d="M707.6 871L722.07 857.55L736.54 855.73L751.01 847.74L765.48 845.55L779.95 841.92L794.42 832.47L808.89 823.74L823.36 817.92L837.83 807.75L852.3 791.75L866.77 784.48L881.24 766.3L895.71 756.12L910.18 745.22L924.65 740.85L939.12 737.22L953.59 733.58L968.06 730.67L982.53 728.49L997 725.59L1011.47 722.68L1025.94 720.5L1040.41 717.59L1054.88 716.13L1069.35 715.41L1083.82 714.68L1098.29 713.95L1112.76 713.23L1127.23 712.86L1141.7 712.5" fill="none" stroke="#4a4a4a" stroke-width="2.5" stroke-linejoin="round"/>
<rect x="699.45" y="862.85" width="16.3" height="16.3" fill="#fff" stroke="#4a4a4a" stroke-width="2.75"/>
<path d="M707.6 862.85V868.57M703.3 868.57H711.9M707.6 879.15V873.43M703.3 873.43H711.9" stroke="#4a4a4a" stroke-width="1.8" fill="none"/>
<rect x="706.3" y="870" width="2.6" height="2" fill="#4a4a4a"/>
<rect x="713.92" y="849.4" width="16.3" height="16.3" fill="#fff" stroke="#4a4a4a" stroke-width="2.75"/>
<path d="M722.07 849.4V854.72M717.77 854.72H726.37M722.07 865.7V860.38M717.77 860.38H726.37" stroke="#4a4a4a" stroke-width="1.8" fill="none"/>
<rect x="720.77" y="856.55" width="2.6" height="2" fill="#4a4a4a"/>
<rect x="728.39" y="847.58" width="16.3" height="16.3" fill="#fff" stroke="#4a4a4a" stroke-width="2.75"/>
<path d="M736.54 847.58V853.37M732.24 853.37H740.84M736.54 863.88V858.09M732.24 858.09H740.84" stroke="#4a4a4a" stroke-width="1.8" fill="none"/>
<rect x="735.24" y="854.73" width="2.6" height="2" fill="#4a4a4a"/>
<rect x="742.86" y="839.59" width="16.3" height="16.3" fill="#fff" stroke="#4a4a4a" stroke-width="2.75"/>
<path d="M751.01 839.59V846.23M746.71 846.23H755.31M751.01 855.89V849.24M746.71 849.24H755.31" stroke="#4a4a4a" stroke-width="1.8" fill="none"/>
<rect x="749.71" y="846.74" width="2.6" height="2" fill="#4a4a4a"/>
<rect x="757.33" y="837.4" width="16.3" height="16.3" fill="#fff" stroke="#4a4a4a" stroke-width="2.75"/>
<path d="M765.48 837.4V843.21M761.18 843.21H769.78M765.48 853.7V847.9M761.18 847.9H769.78" stroke="#4a4a4a" stroke-width="1.8" fill="none"/>
<rect x="764.18" y="844.55" width="2.6" height="2" fill="#4a4a4a"/>
<rect x="771.8" y="833.77" width="16.3" height="16.3" fill="#fff" stroke="#4a4a4a" stroke-width="2.75"/>
<path d="M779.95 833.77V840.25M775.65 840.25H784.25M779.95 850.07V843.59M775.65 843.59H784.25" stroke="#4a4a4a" stroke-width="1.8" fill="none"/>
<rect x="778.65" y="840.92" width="2.6" height="2" fill="#4a4a4a"/>
<rect x="786.27" y="824.32" width="16.3" height="16.3" fill="#fff" stroke="#4a4a4a" stroke-width="2.75"/>
<path d="M794.42 824.32V830.35M790.12 830.35H798.72M794.42 840.62V834.59M790.12 834.59H798.72" stroke="#4a4a4a" stroke-width="1.8" fill="none"/>
<rect x="793.12" y="831.47" width="2.6" height="2" fill="#4a4a4a"/>
<rect x="800.74" y="815.59" width="16.3" height="16.3" fill="#fff" stroke="#4a4a4a" stroke-width="2.75"/>
<path d="M808.89 815.59V822.3M804.59 822.3H813.19M808.89 831.89V825.19M804.59 825.19H813.19" stroke="#4a4a4a" stroke-width="1.8" fill="none"/>
<rect x="807.59" y="822.74" width="2.6" height="2" fill="#4a4a4a"/>
<rect x="815.21" y="809.77" width="16.3" height="16.3" fill="#fff" stroke="#4a4a4a" stroke-width="2.75"/>
<path d="M823.36 809.77V815.77M819.06 815.77H827.66M823.36 826.07V820.08M819.06 820.08H827.66" stroke="#4a4a4a" stroke-width="1.8" fill="none"/>
<rect x="822.06" y="816.92" width="2.6" height="2" fill="#4a4a4a"/>
<rect x="829.68" y="799.6" width="16.3" height="16.3" fill="#fff" stroke="#4a4a4a" stroke-width="2.75"/>

<rect x="836.53" y="806.75" width="2.6" height="2" fill="#4a4a4a"/>
<rect x="844.15" y="783.6" width="16.3" height="16.3" fill="#fff" stroke="#4a4a4a" stroke-width="2.75"/>
<path d="M852.3 783.6V789.16M848 789.16H856.6M852.3 799.9V794.34M848 794.34H856.6" stroke="#4a4a4a" stroke-width="1.8" fill="none"/>
<rect x="851" y="790.75" width="2.6" height="2" fill="#4a4a4a"/>
<rect x="858.62" y="776.33" width="16.3" height="16.3" fill="#fff" stroke="#4a4a4a" stroke-width="2.75"/>
<path d="M866.77 776.33V782.04M862.47 782.04H871.07M866.77 792.63V786.92M862.47 786.92H871.07" stroke="#4a4a4a" stroke-width="1.8" fill="none"/>
<rect x="865.47" y="783.48" width="2.6" height="2" fill="#4a4a4a"/>
<rect x="873.09" y="758.15" width="16.3" height="16.3" fill="#fff" stroke="#4a4a4a" stroke-width="2.75"/>
<path d="M881.24 758.15V764.62M876.94 764.62H885.54M881.24 774.45V767.98M876.94 767.98H885.54" stroke="#4a4a4a" stroke-width="1.8" fill="none"/>
<rect x="879.94" y="765.3" width="2.6" height="2" fill="#4a4a4a"/>
<rect x="887.56" y="747.97" width="16.3" height="16.3" fill="#fff" stroke="#4a4a4a" stroke-width="2.75"/>
<path d="M895.71 747.97V753.08M891.41 753.08H900.01M895.71 764.27V759.17M891.41 759.17H900.01" stroke="#4a4a4a" stroke-width="1.8" fill="none"/>
<rect x="894.41" y="755.12" width="2.6" height="2" fill="#4a4a4a"/>
<rect x="902.03" y="737.07" width="16.3" height="16.3" fill="#fff" stroke="#4a4a4a" stroke-width="2.75"/>
<path d="M910.18 737.07V743.16M905.88 743.16H914.48M910.18 753.37V747.28M905.88 747.28H914.48" stroke="#4a4a4a" stroke-width="1.8" fill="none"/>
<rect x="908.88" y="744.22" width="2.6" height="2" fill="#4a4a4a"/>
<rect x="916.5" y="732.7" width="16.3" height="16.3" fill="#fff" stroke="#4a4a4a" stroke-width="2.75"/>
<path d="M924.65 732.7V739.17M920.35 739.17H928.95M924.65 749V742.54M920.35 742.54H928.95" stroke="#4a4a4a" stroke-width="1.8" fill="none"/>
<rect x="923.35" y="739.85" width="2.6" height="2" fill="#4a4a4a"/>
<rect x="930.97" y="729.07" width="16.3" height="16.3" fill="#fff" stroke="#4a4a4a" stroke-width="2.75"/>
<path d="M939.12 729.07V734.29M934.82 734.29H943.42M939.12 745.37V740.15M934.82 740.15H943.42" stroke="#4a4a4a" stroke-width="1.8" fill="none"/>
<rect x="937.82" y="736.22" width="2.6" height="2" fill="#4a4a4a"/>
<rect x="945.44" y="725.43" width="16.3" height="16.3" fill="#fff" stroke="#4a4a4a" stroke-width="2.75"/>
<path d="M953.59 725.43V730.75M949.29 730.75H957.89M953.59 741.73V736.42M949.29 736.42H957.89" stroke="#4a4a4a" stroke-width="1.8" fill="none"/>
<rect x="952.29" y="732.58" width="2.6" height="2" fill="#4a4a4a"/>
<rect x="959.91" y="722.52" width="16.3" height="16.3" fill="#fff" stroke="#4a4a4a" stroke-width="2.75"/>
<path d="M968.06 722.52V728.3M963.76 728.3H972.36M968.06 738.82V733.05M963.76 733.05H972.36" stroke="#4a4a4a" stroke-width="1.8" fill="none"/>
<rect x="966.76" y="729.67" width="2.6" height="2" fill="#4a4a4a"/>
<rect x="974.38" y="720.34" width="16.3" height="16.3" fill="#fff" stroke="#4a4a4a" stroke-width="2.75"/>
<path d="M982.53 720.34V726.25M978.23 726.25H986.83M982.53 736.64V730.74M978.23 730.74H986.83" stroke="#4a4a4a" stroke-width="1.8" fill="none"/>
<rect x="981.23" y="727.49" width="2.6" height="2" fill="#4a4a4a"/>
<rect x="988.85" y="717.44" width="16.3" height="16.3" fill="#fff" stroke="#4a4a4a" stroke-width="2.75"/>
<path d="M997 717.44V722.62M992.7 722.62H1001.3M997 733.74V728.55M992.7 728.55H1001.3" stroke="#4a4a4a" stroke-width="1.8" fill="none"/>
<rect x="995.7" y="724.59" width="2.6" height="2" fill="#4a4a4a"/>
<rect x="1003.32" y="714.53" width="16.3" height="16.3" fill="#fff" stroke="#4a4a4a" stroke-width="2.75"/>
<path d="M1011.47 714.53V719.71M1007.17 719.71H1015.77M1011.47 730.83V725.64M1007.17 725.64H1015.77" stroke="#4a4a4a" stroke-width="1.8" fill="none"/>
<rect x="1010.17" y="721.68" width="2.6" height="2" fill="#4a4a4a"/>
<rect x="1017.79" y="712.35" width="16.3" height="16.3" fill="#fff" stroke="#4a4a4a" stroke-width="2.75"/>
<path d="M1025.94 712.35V717.84M1021.64 717.84H1030.24M1025.94 728.65V723.15M1021.64 723.15H1030.24" stroke="#4a4a4a" stroke-width="1.8" fill="none"/>
<rect x="1024.64" y="719.5" width="2.6" height="2" fill="#4a4a4a"/>
<rect x="1032.26" y="709.44" width="16.3" height="16.3" fill="#fff" stroke="#4a4a4a" stroke-width="2.75"/>
<path d="M1040.41 709.44V714.54M1036.11 714.54H1044.71M1040.41 725.74V720.64M1036.11 720.64H1044.71" stroke="#4a4a4a" stroke-width="1.8" fill="none"/>
<rect x="1039.11" y="716.59" width="2.6" height="2" fill="#4a4a4a"/>
<rect x="1046.73" y="707.98" width="16.3" height="16.3" fill="#fff" stroke="#4a4a4a" stroke-width="2.75"/>
<path d="M1054.88 707.98V714.31M1050.58 714.31H1059.18M1054.88 724.28V717.95M1050.58 717.95H1059.18" stroke="#4a4a4a" stroke-width="1.8" fill="none"/>
<rect x="1053.58" y="715.13" width="2.6" height="2" fill="#4a4a4a"/>
<rect x="1061.2" y="707.26" width="16.3" height="16.3" fill="#fff" stroke="#4a4a4a" stroke-width="2.75"/>
<path d="M1069.35 707.26V713.78M1065.05 713.78H1073.65M1069.35 723.56V717.04M1065.05 717.04H1073.65" stroke="#4a4a4a" stroke-width="1.8" fill="none"/>
<rect x="1068.05" y="714.41" width="2.6" height="2" fill="#4a4a4a"/>
<rect x="1075.67" y="706.53" width="16.3" height="16.3" fill="#fff" stroke="#4a4a4a" stroke-width="2.75"/>
<path d="M1083.82 706.53V712.11M1079.52 712.11H1088.12M1083.82 722.83V717.25M1079.52 717.25H1088.12" stroke="#4a4a4a" stroke-width="1.8" fill="none"/>
<rect x="1082.52" y="713.68" width="2.6" height="2" fill="#4a4a4a"/>
<rect x="1090.14" y="705.8" width="16.3" height="16.3" fill="#fff" stroke="#4a4a4a" stroke-width="2.75"/>
<path d="M1098.29 705.8V711.74M1093.99 711.74H1102.59M1098.29 722.1V716.17M1093.99 716.17H1102.59" stroke="#4a4a4a" stroke-width="1.8" fill="none"/>
<rect x="1096.99" y="712.95" width="2.6" height="2" fill="#4a4a4a"/>
<rect x="1104.61" y="705.08" width="16.3" height="16.3" fill="#fff" stroke="#4a4a4a" stroke-width="2.75"/>
<path d="M1112.76 705.08V711.85M1108.46 711.85H1117.06M1112.76 721.38V714.6M1108.46 714.6H1117.06" stroke="#4a4a4a" stroke-width="1.8" fill="none"/>
<rect x="1111.46" y="712.23" width="2.6" height="2" fill="#4a4a4a"/>
<rect x="1119.08" y="704.71" width="16.3" height="16.3" fill="#fff" stroke="#4a4a4a" stroke-width="2.75"/>
<path d="M1127.23 704.71V711.07M1122.93 711.07H1131.53M1127.23 721.01V714.65M1122.93 714.65H1131.53" stroke="#4a4a4a" stroke-width="1.8" fill="none"/>
<rect x="1125.93" y="711.86" width="2.6" height="2" fill="#4a4a4a"/>
<rect x="1133.55" y="704.35" width="16.3" height="16.3" fill="#fff" stroke="#4a4a4a" stroke-width="2.75"/>
<path d="M1141.7 704.35V710.59M1137.4 710.59H1146M1141.7 720.65V714.41M1137.4 714.41H1146" stroke="#4a4a4a" stroke-width="1.8" fill="none"/>
<rect x="1140.4" y="711.5" width="2.6" height="2" fill="#4a4a4a"/>
<path d="M707.6 876.09L722.07 871.73L736.54 871L751.01 869.55L765.48 867.37L779.95 864.46L794.42 861.55L808.89 853.55L823.36 842.65L837.83 823.74L852.3 793.93L866.77 763.39L881.24 708.86L895.71 663.06L910.18 633.25L924.65 617.98L939.12 607.07L953.59 599.07L968.06 592.53L982.53 586.71L997 579.44L1011.47 572.17L1025.94 568.54L1040.41 565.63L1054.88 563.45L1069.35 561.26L1083.82 559.81L1098.29 559.08L1112.76 558.36L1127.23 557.63L1141.7 556.9" fill="none" stroke="#d63c44" stroke-width="2.5" stroke-linejoin="round"/>
<circle cx="707.6" cy="876.09" r="9.6" fill="#fff" stroke="#d63c44" stroke-width="2.75"/>
<path d="M707.6 866.49V873.48M703.3 873.48H711.9M707.6 885.69V878.7M703.3 878.7H711.9" stroke="#d63c44" stroke-width="1.8" fill="none"/>
<rect x="706.3" y="875.09" width="2.6" height="2" fill="#d63c44"/>
<circle cx="722.07" cy="871.73" r="9.6" fill="#fff" stroke="#d63c44" stroke-width="2.75"/>
<path d="M722.07 862.13V865.19M717.77 865.19H726.37M722.07 881.33V878.27M717.77 878.27H726.37" stroke="#d63c44" stroke-width="1.8" fill="none"/>
<rect x="720.77" y="870.73" width="2.6" height="2" fill="#d63c44"/>
<circle cx="736.54" cy="871" r="9.6" fill="#fff" stroke="#d63c44" stroke-width="2.75"/>
<path d="M736.54 861.4V868.98M732.24 868.98H740.84M736.54 880.6V873.03M732.24 873.03H740.84" stroke="#d63c44" stroke-width="1.8" fill="none"/>
<rect x="735.24" y="870" width="2.6" height="2" fill="#d63c44"/>
<circle cx="751.01" cy="869.55" r="9.6" fill="#fff" stroke="#d63c44" stroke-width="2.75"/>
<path d="M751.01 859.95V860.1M746.71 860.1H755.31M751.01 879.15V879M746.71 879H755.31" stroke="#d63c44" stroke-width="1.8" fill="none"/>
<rect x="749.71" y="868.55" width="2.6" height="2" fill="#d63c44"/>
<circle cx="765.48" cy="867.37" r="9.6" fill="#fff" stroke="#d63c44" stroke-width="2.75"/>
<path d="M765.48 857.77V857.91M761.18 857.91H769.78M765.48 876.97V876.82M761.18 876.82H769.78" stroke="#d63c44" stroke-width="1.8" fill="none"/>
<rect x="764.18" y="866.37" width="2.6" height="2" fill="#d63c44"/>
<circle cx="779.95" cy="864.46" r="9.6" fill="#fff" stroke="#d63c44" stroke-width="2.75"/>
<path d="M779.95 854.86V855.01M775.65 855.01H784.25M779.95 874.06V873.91M775.65 873.91H784.25" stroke="#d63c44" stroke-width="1.8" fill="none"/>
<rect x="778.65" y="863.46" width="2.6" height="2" fill="#d63c44"/>
<circle cx="794.42" cy="861.55" r="9.6" fill="#fff" stroke="#d63c44" stroke-width="2.75"/>
<path d="M794.42 851.95V852.1M790.12 852.1H798.72M794.42 871.15V871M790.12 871H798.72" stroke="#d63c44" stroke-width="1.8" fill="none"/>
<rect x="793.12" y="860.55" width="2.6" height="2" fill="#d63c44"/>
<circle cx="808.89" cy="853.55" r="9.6" fill="#fff" stroke="#d63c44" stroke-width="2.75"/>
<path d="M808.89 843.95V851.96M804.59 851.96H813.19M808.89 863.15V855.14M804.59 855.14H813.19" stroke="#d63c44" stroke-width="1.8" fill="none"/>
<rect x="807.59" y="852.55" width="2.6" height="2" fill="#d63c44"/>
<circle cx="823.36" cy="842.65" r="9.6" fill="#fff" stroke="#d63c44" stroke-width="2.75"/>
<path d="M823.36 833.05V840.53M819.06 840.53H827.66M823.36 852.25V844.76M819.06 844.76H827.66" stroke="#d63c44" stroke-width="1.8" fill="none"/>
<rect x="822.06" y="841.65" width="2.6" height="2" fill="#d63c44"/>
<circle cx="837.83" cy="823.74" r="9.6" fill="#fff" stroke="#d63c44" stroke-width="2.75"/>
<path d="M837.83 814.14V821.49M833.53 821.49H842.13M837.83 833.34V826M833.53 826H842.13" stroke="#d63c44" stroke-width="1.8" fill="none"/>
<rect x="836.53" y="822.74" width="2.6" height="2" fill="#d63c44"/>
<circle cx="852.3" cy="793.93" r="9.6" fill="#fff" stroke="#d63c44" stroke-width="2.75"/>
<path d="M852.3 784.33V791.13M848 791.13H856.6M852.3 803.53V796.73M848 796.73H856.6" stroke="#d63c44" stroke-width="1.8" fill="none"/>
<rect x="851" y="792.93" width="2.6" height="2" fill="#d63c44"/>
<circle cx="866.77" cy="763.39" r="9.6" fill="#fff" stroke="#d63c44" stroke-width="2.75"/>
<path d="M866.77 753.79V761.28M862.47 761.28H871.07M866.77 772.99V765.51M862.47 765.51H871.07" stroke="#d63c44" stroke-width="1.8" fill="none"/>
<rect x="865.47" y="762.39" width="2.6" height="2" fill="#d63c44"/>
<circle cx="881.24" cy="708.86" r="9.6" fill="#fff" stroke="#d63c44" stroke-width="2.75"/>
<path d="M881.24 699.26V706.15M876.94 706.15H885.54M881.24 718.46V711.58M876.94 711.58H885.54" stroke="#d63c44" stroke-width="1.8" fill="none"/>
<rect x="879.94" y="707.86" width="2.6" height="2" fill="#d63c44"/>
<circle cx="895.71" cy="663.06" r="9.6" fill="#fff" stroke="#d63c44" stroke-width="2.75"/>
<path d="M895.71 653.46V661.32M891.41 661.32H900.01M895.71 672.66V664.79M891.41 664.79H900.01" stroke="#d63c44" stroke-width="1.8" fill="none"/>
<rect x="894.41" y="662.06" width="2.6" height="2" fill="#d63c44"/>
<circle cx="910.18" cy="633.25" r="9.6" fill="#fff" stroke="#d63c44" stroke-width="2.75"/>
<path d="M910.18 623.65V631.92M905.88 631.92H914.48M910.18 642.85V634.57M905.88 634.57H914.48" stroke="#d63c44" stroke-width="1.8" fill="none"/>
<rect x="908.88" y="632.25" width="2.6" height="2" fill="#d63c44"/>
<circle cx="924.65" cy="617.98" r="9.6" fill="#fff" stroke="#d63c44" stroke-width="2.75"/>
<path d="M924.65 608.38V615.74M920.35 615.74H928.95M924.65 627.58V620.21M920.35 620.21H928.95" stroke="#d63c44" stroke-width="1.8" fill="none"/>
<rect x="923.35" y="616.98" width="2.6" height="2" fill="#d63c44"/>
<circle cx="939.12" cy="607.07" r="9.6" fill="#fff" stroke="#d63c44" stroke-width="2.75"/>
<path d="M939.12 597.47V605.47M934.82 605.47H943.42M939.12 616.67V608.67M934.82 608.67H943.42" stroke="#d63c44" stroke-width="1.8" fill="none"/>
<rect x="937.82" y="606.07" width="2.6" height="2" fill="#d63c44"/>
<circle cx="953.59" cy="599.07" r="9.6" fill="#fff" stroke="#d63c44" stroke-width="2.75"/>

<rect x="952.29" y="598.07" width="2.6" height="2" fill="#d63c44"/>
<circle cx="968.06" cy="592.53" r="9.6" fill="#fff" stroke="#d63c44" stroke-width="2.75"/>
<path d="M968.06 582.93V589.88M963.76 589.88H972.36M968.06 602.13V595.18M963.76 595.18H972.36" stroke="#d63c44" stroke-width="1.8" fill="none"/>
<rect x="966.76" y="591.53" width="2.6" height="2" fill="#d63c44"/>
<circle cx="982.53" cy="586.71" r="9.6" fill="#fff" stroke="#d63c44" stroke-width="2.75"/>
<path d="M982.53 577.11V583.69M978.23 583.69H986.83M982.53 596.31V589.73M978.23 589.73H986.83" stroke="#d63c44" stroke-width="1.8" fill="none"/>
<rect x="981.23" y="585.71" width="2.6" height="2" fill="#d63c44"/>
<circle cx="997" cy="579.44" r="9.6" fill="#fff" stroke="#d63c44" stroke-width="2.75"/>
<path d="M997 569.84V576.42M992.7 576.42H1001.3M997 589.04V582.46M992.7 582.46H1001.3" stroke="#d63c44" stroke-width="1.8" fill="none"/>
<rect x="995.7" y="578.44" width="2.6" height="2" fill="#d63c44"/>
<circle cx="1011.47" cy="572.17" r="9.6" fill="#fff" stroke="#d63c44" stroke-width="2.75"/>

<rect x="1010.17" y="571.17" width="2.6" height="2" fill="#d63c44"/>
<circle cx="1025.94" cy="568.54" r="9.6" fill="#fff" stroke="#d63c44" stroke-width="2.75"/>
<path d="M1025.94 558.94V567.2M1021.64 567.2H1030.24M1025.94 578.14V569.87M1021.64 569.87H1030.24" stroke="#d63c44" stroke-width="1.8" fill="none"/>
<rect x="1024.64" y="567.54" width="2.6" height="2" fill="#d63c44"/>
<circle cx="1040.41" cy="565.63" r="9.6" fill="#fff" stroke="#d63c44" stroke-width="2.75"/>
<path d="M1040.41 556.03V563.73M1036.11 563.73H1044.71M1040.41 575.23V567.53M1036.11 567.53H1044.71" stroke="#d63c44" stroke-width="1.8" fill="none"/>
<rect x="1039.11" y="564.63" width="2.6" height="2" fill="#d63c44"/>
<circle cx="1054.88" cy="563.45" r="9.6" fill="#fff" stroke="#d63c44" stroke-width="2.75"/>

<rect x="1053.58" y="562.45" width="2.6" height="2" fill="#d63c44"/>
<circle cx="1069.35" cy="561.26" r="9.6" fill="#fff" stroke="#d63c44" stroke-width="2.75"/>
<path d="M1069.35 551.66V559.79M1065.05 559.79H1073.65M1069.35 570.86V562.74M1065.05 562.74H1073.65" stroke="#d63c44" stroke-width="1.8" fill="none"/>
<rect x="1068.05" y="560.26" width="2.6" height="2" fill="#d63c44"/>
<circle cx="1083.82" cy="559.81" r="9.6" fill="#fff" stroke="#d63c44" stroke-width="2.75"/>
<path d="M1083.82 550.21V558.07M1079.52 558.07H1088.12M1083.82 569.41V561.55M1079.52 561.55H1088.12" stroke="#d63c44" stroke-width="1.8" fill="none"/>
<rect x="1082.52" y="558.81" width="2.6" height="2" fill="#d63c44"/>
<circle cx="1098.29" cy="559.08" r="9.6" fill="#fff" stroke="#d63c44" stroke-width="2.75"/>
<path d="M1098.29 549.48V557.04M1093.99 557.04H1102.59M1098.29 568.68V561.12M1093.99 561.12H1102.59" stroke="#d63c44" stroke-width="1.8" fill="none"/>
<rect x="1096.99" y="558.08" width="2.6" height="2" fill="#d63c44"/>
<circle cx="1112.76" cy="558.36" r="9.6" fill="#fff" stroke="#d63c44" stroke-width="2.75"/>
<path d="M1112.76 548.76V556.97M1108.46 556.97H1117.06M1112.76 567.96V559.74M1108.46 559.74H1117.06" stroke="#d63c44" stroke-width="1.8" fill="none"/>
<rect x="1111.46" y="557.36" width="2.6" height="2" fill="#d63c44"/>
<circle cx="1127.23" cy="557.63" r="9.6" fill="#fff" stroke="#d63c44" stroke-width="2.75"/>
<path d="M1127.23 548.03V555.23M1122.93 555.23H1131.53M1127.23 567.23V560.03M1122.93 560.03H1131.53" stroke="#d63c44" stroke-width="1.8" fill="none"/>
<rect x="1125.93" y="556.63" width="2.6" height="2" fill="#d63c44"/>
<circle cx="1141.7" cy="556.9" r="9.6" fill="#fff" stroke="#d63c44" stroke-width="2.75"/>
<path d="M1141.7 547.3V554M1137.4 554H1146M1141.7 566.5V559.8M1137.4 559.8H1146" stroke="#d63c44" stroke-width="1.8" fill="none"/>
<rect x="1140.4" y="555.9" width="2.6" height="2" fill="#d63c44"/>
<path d="M707.6 872.46L722.07 869.55L736.54 855.73L751.01 837.56L765.48 829.56L779.95 823.74L794.42 817.92L808.89 809.93L823.36 801.93L837.83 791.75L852.3 783.02L866.77 775.75L881.24 764.85L895.71 753.21L910.18 744.49L924.65 740.13L939.12 737.22L953.59 733.58L968.06 730.67L982.53 728.49L997 726.31L1011.47 724.13L1025.94 722.68L1040.41 721.59L1054.88 720.86L1069.35 720.13L1083.82 719.77L1098.29 719.41L1112.76 719.04L1127.23 719.04L1141.7 719.04" fill="none" stroke="#1e66cc" stroke-width="2.5" stroke-linejoin="round"/>
<polygon points="707.6,859.99 718.4,878.69 696.8,878.69" fill="#fff" stroke="#1e66cc" stroke-width="2.75" stroke-linejoin="miter"/>
<path d="M707.6 859.99V870.72M703.3 870.72H711.9M707.6 878.69V874.2M703.3 874.2H711.9" stroke="#1e66cc" stroke-width="1.8" fill="none"/>
<rect x="706.3" y="871.46" width="2.6" height="2" fill="#1e66cc"/>
<polygon points="722.07,857.08 732.87,875.78 711.27,875.78" fill="#fff" stroke="#1e66cc" stroke-width="2.75" stroke-linejoin="miter"/>
<path d="M722.07 857.08V866.92M717.77 866.92H726.37M722.07 875.78V872.18M717.77 872.18H726.37" stroke="#1e66cc" stroke-width="1.8" fill="none"/>
<rect x="720.77" y="868.55" width="2.6" height="2" fill="#1e66cc"/>
<polygon points="736.54,843.26 747.34,861.97 725.74,861.97" fill="#fff" stroke="#1e66cc" stroke-width="2.75" stroke-linejoin="miter"/>
<path d="M736.54 843.26V853.54M732.24 853.54H740.84M736.54 861.97V857.93M732.24 857.93H740.84" stroke="#1e66cc" stroke-width="1.8" fill="none"/>
<rect x="735.24" y="854.73" width="2.6" height="2" fill="#1e66cc"/>
<polygon points="751.01,825.09 761.81,843.79 740.21,843.79" fill="#fff" stroke="#1e66cc" stroke-width="2.75" stroke-linejoin="miter"/>
<path d="M751.01 825.09V835.28M746.71 835.28H755.31M751.01 843.79V839.83M746.71 839.83H755.31" stroke="#1e66cc" stroke-width="1.8" fill="none"/>
<rect x="749.71" y="836.56" width="2.6" height="2" fill="#1e66cc"/>
<polygon points="765.48,817.09 776.28,835.79 754.68,835.79" fill="#fff" stroke="#1e66cc" stroke-width="2.75" stroke-linejoin="miter"/>
<path d="M765.48 817.09V827.96M761.18 827.96H769.78M765.48 835.79V831.16M761.18 831.16H769.78" stroke="#1e66cc" stroke-width="1.8" fill="none"/>
<rect x="764.18" y="828.56" width="2.6" height="2" fill="#1e66cc"/>
<polygon points="779.95,811.27 790.75,829.98 769.15,829.98" fill="#fff" stroke="#1e66cc" stroke-width="2.75" stroke-linejoin="miter"/>

<rect x="778.65" y="822.74" width="2.6" height="2" fill="#1e66cc"/>
<polygon points="794.42,805.45 805.22,824.16 783.62,824.16" fill="#fff" stroke="#1e66cc" stroke-width="2.75" stroke-linejoin="miter"/>
<path d="M794.42 805.45V815.05M790.12 815.05H798.72M794.42 824.16V820.8M790.12 820.8H798.72" stroke="#1e66cc" stroke-width="1.8" fill="none"/>
<rect x="793.12" y="816.92" width="2.6" height="2" fill="#1e66cc"/>
<polygon points="808.89,797.46 819.69,816.16 798.09,816.16" fill="#fff" stroke="#1e66cc" stroke-width="2.75" stroke-linejoin="miter"/>
<path d="M808.89 797.46V807.8M804.59 807.8H813.19M808.89 816.16V812.05M804.59 812.05H813.19" stroke="#1e66cc" stroke-width="1.8" fill="none"/>
<rect x="807.59" y="808.93" width="2.6" height="2" fill="#1e66cc"/>
<polygon points="823.36,789.46 834.16,808.16 812.56,808.16" fill="#fff" stroke="#1e66cc" stroke-width="2.75" stroke-linejoin="miter"/>
<path d="M823.36 789.46V799M819.06 799H827.66M823.36 808.16V804.86M819.06 804.86H827.66" stroke="#1e66cc" stroke-width="1.8" fill="none"/>
<rect x="822.06" y="800.93" width="2.6" height="2" fill="#1e66cc"/>
<polygon points="837.83,779.28 848.63,797.99 827.03,797.99" fill="#fff" stroke="#1e66cc" stroke-width="2.75" stroke-linejoin="miter"/>
<path d="M837.83 779.28V789.39M833.53 789.39H842.13M837.83 797.99V794.11M833.53 794.11H842.13" stroke="#1e66cc" stroke-width="1.8" fill="none"/>
<rect x="836.53" y="790.75" width="2.6" height="2" fill="#1e66cc"/>
<polygon points="852.3,770.55 863.1,789.26 841.5,789.26" fill="#fff" stroke="#1e66cc" stroke-width="2.75" stroke-linejoin="miter"/>
<path d="M852.3 770.55V780.81M848 780.81H856.6M852.3 789.26V785.24M848 785.24H856.6" stroke="#1e66cc" stroke-width="1.8" fill="none"/>
<rect x="851" y="782.02" width="2.6" height="2" fill="#1e66cc"/>
<polygon points="866.77,763.28 877.57,781.99 855.97,781.99" fill="#fff" stroke="#1e66cc" stroke-width="2.75" stroke-linejoin="miter"/>
<path d="M866.77 763.28V774.13M862.47 774.13H871.07M866.77 781.99V777.38M862.47 777.38H871.07" stroke="#1e66cc" stroke-width="1.8" fill="none"/>
<rect x="865.47" y="774.75" width="2.6" height="2" fill="#1e66cc"/>
<polygon points="881.24,752.38 892.04,771.08 870.44,771.08" fill="#fff" stroke="#1e66cc" stroke-width="2.75" stroke-linejoin="miter"/>
<path d="M881.24 752.38V761.81M876.94 761.81H885.54M881.24 771.08V767.89M876.94 767.89H885.54" stroke="#1e66cc" stroke-width="1.8" fill="none"/>
<rect x="879.94" y="763.85" width="2.6" height="2" fill="#1e66cc"/>
<polygon points="895.71,740.74 906.51,759.45 884.91,759.45" fill="#fff" stroke="#1e66cc" stroke-width="2.75" stroke-linejoin="miter"/>
<path d="M895.71 740.74V751.19M891.41 751.19H900.01M895.71 759.45V755.24M891.41 755.24H900.01" stroke="#1e66cc" stroke-width="1.8" fill="none"/>
<rect x="894.41" y="752.21" width="2.6" height="2" fill="#1e66cc"/>
<polygon points="910.18,732.02 920.98,750.72 899.38,750.72" fill="#fff" stroke="#1e66cc" stroke-width="2.75" stroke-linejoin="miter"/>
<path d="M910.18 732.02V742.39M905.88 742.39H914.48M910.18 750.72V746.59M905.88 746.59H914.48" stroke="#1e66cc" stroke-width="1.8" fill="none"/>
<rect x="908.88" y="743.49" width="2.6" height="2" fill="#1e66cc"/>
<polygon points="924.65,727.66 935.45,746.36 913.85,746.36" fill="#fff" stroke="#1e66cc" stroke-width="2.75" stroke-linejoin="miter"/>
<path d="M924.65 727.66V738.03M920.35 738.03H928.95M924.65 746.36V742.23M920.35 742.23H928.95" stroke="#1e66cc" stroke-width="1.8" fill="none"/>
<rect x="923.35" y="739.13" width="2.6" height="2" fill="#1e66cc"/>
<polygon points="939.12,724.75 949.92,743.45 928.32,743.45" fill="#fff" stroke="#1e66cc" stroke-width="2.75" stroke-linejoin="miter"/>
<path d="M939.12 724.75V735.64M934.82 735.64H943.42M939.12 743.45V738.8M934.82 738.8H943.42" stroke="#1e66cc" stroke-width="1.8" fill="none"/>
<rect x="937.82" y="736.22" width="2.6" height="2" fill="#1e66cc"/>
<polygon points="953.59,721.11 964.39,739.82 942.79,739.82" fill="#fff" stroke="#1e66cc" stroke-width="2.75" stroke-linejoin="miter"/>
<path d="M953.59 721.11V731.36M949.29 731.36H957.89M953.59 739.82V735.8M949.29 735.8H957.89" stroke="#1e66cc" stroke-width="1.8" fill="none"/>
<rect x="952.29" y="732.58" width="2.6" height="2" fill="#1e66cc"/>
<polygon points="968.06,718.2 978.86,736.91 957.26,736.91" fill="#fff" stroke="#1e66cc" stroke-width="2.75" stroke-linejoin="miter"/>
<path d="M968.06 718.2V727.88M963.76 727.88H972.36M968.06 736.91V733.47M963.76 733.47H972.36" stroke="#1e66cc" stroke-width="1.8" fill="none"/>
<rect x="966.76" y="729.67" width="2.6" height="2" fill="#1e66cc"/>
<polygon points="982.53,716.02 993.33,734.73 971.73,734.73" fill="#fff" stroke="#1e66cc" stroke-width="2.75" stroke-linejoin="miter"/>
<path d="M982.53 716.02V725.56M978.23 725.56H986.83M982.53 734.73V731.43M978.23 731.43H986.83" stroke="#1e66cc" stroke-width="1.8" fill="none"/>
<rect x="981.23" y="727.49" width="2.6" height="2" fill="#1e66cc"/>
<polygon points="997,713.84 1007.8,732.55 986.2,732.55" fill="#fff" stroke="#1e66cc" stroke-width="2.75" stroke-linejoin="miter"/>
<path d="M997 713.84V724.95M992.7 724.95H1001.3M997 732.55V727.67M992.7 727.67H1001.3" stroke="#1e66cc" stroke-width="1.8" fill="none"/>
<rect x="995.7" y="725.31" width="2.6" height="2" fill="#1e66cc"/>
<polygon points="1011.47,711.66 1022.27,730.37 1000.67,730.37" fill="#fff" stroke="#1e66cc" stroke-width="2.75" stroke-linejoin="miter"/>
<path d="M1011.47 711.66V721.86M1007.17 721.86H1015.77M1011.47 730.37V726.4M1007.17 726.4H1015.77" stroke="#1e66cc" stroke-width="1.8" fill="none"/>
<rect x="1010.17" y="723.13" width="2.6" height="2" fill="#1e66cc"/>
<polygon points="1025.94,710.21 1036.74,728.91 1015.14,728.91" fill="#fff" stroke="#1e66cc" stroke-width="2.75" stroke-linejoin="miter"/>
<path d="M1025.94 710.21V720.88M1021.64 720.88H1030.24M1025.94 728.91V724.47M1021.64 724.47H1030.24" stroke="#1e66cc" stroke-width="1.8" fill="none"/>
<rect x="1024.64" y="721.68" width="2.6" height="2" fill="#1e66cc"/>
<polygon points="1040.41,709.12 1051.21,727.82 1029.61,727.82" fill="#fff" stroke="#1e66cc" stroke-width="2.75" stroke-linejoin="miter"/>
<path d="M1040.41 709.12V718.69M1036.11 718.69H1044.71M1040.41 727.82V724.49M1036.11 724.49H1044.71" stroke="#1e66cc" stroke-width="1.8" fill="none"/>
<rect x="1039.11" y="720.59" width="2.6" height="2" fill="#1e66cc"/>
<polygon points="1054.88,708.39 1065.68,727.09 1044.08,727.09" fill="#fff" stroke="#1e66cc" stroke-width="2.75" stroke-linejoin="miter"/>
<path d="M1054.88 708.39V718.38M1050.58 718.38H1059.18M1054.88 727.09V723.33M1050.58 723.33H1059.18" stroke="#1e66cc" stroke-width="1.8" fill="none"/>
<rect x="1053.58" y="719.86" width="2.6" height="2" fill="#1e66cc"/>
<polygon points="1069.35,707.66 1080.15,726.37 1058.55,726.37" fill="#fff" stroke="#1e66cc" stroke-width="2.75" stroke-linejoin="miter"/>
<path d="M1069.35 707.66V717.93M1065.05 717.93H1073.65M1069.35 726.37V722.34M1065.05 722.34H1073.65" stroke="#1e66cc" stroke-width="1.8" fill="none"/>
<rect x="1068.05" y="719.13" width="2.6" height="2" fill="#1e66cc"/>
<polygon points="1083.82,707.3 1094.62,726 1073.02,726" fill="#fff" stroke="#1e66cc" stroke-width="2.75" stroke-linejoin="miter"/>
<path d="M1083.82 707.3V716.78M1079.52 716.78H1088.12M1083.82 726V722.75M1079.52 722.75H1088.12" stroke="#1e66cc" stroke-width="1.8" fill="none"/>
<rect x="1082.52" y="718.77" width="2.6" height="2" fill="#1e66cc"/>
<polygon points="1098.29,706.93 1109.09,725.64 1087.49,725.64" fill="#fff" stroke="#1e66cc" stroke-width="2.75" stroke-linejoin="miter"/>
<path d="M1098.29 706.93V717.76M1093.99 717.76H1102.59M1098.29 725.64V721.05M1093.99 721.05H1102.59" stroke="#1e66cc" stroke-width="1.8" fill="none"/>
<rect x="1096.99" y="718.41" width="2.6" height="2" fill="#1e66cc"/>
<polygon points="1112.76,706.57 1123.56,725.28 1101.96,725.28" fill="#fff" stroke="#1e66cc" stroke-width="2.75" stroke-linejoin="miter"/>
<path d="M1112.76 706.57V717.42M1108.46 717.42H1117.06M1112.76 725.28V720.67M1108.46 720.67H1117.06" stroke="#1e66cc" stroke-width="1.8" fill="none"/>
<rect x="1111.46" y="718.04" width="2.6" height="2" fill="#1e66cc"/>
<polygon points="1127.23,706.57 1138.03,725.28 1116.43,725.28" fill="#fff" stroke="#1e66cc" stroke-width="2.75" stroke-linejoin="miter"/>
<path d="M1127.23 706.57V716.29M1122.93 716.29H1131.53M1127.23 725.28V721.8M1122.93 721.8H1131.53" stroke="#1e66cc" stroke-width="1.8" fill="none"/>
<rect x="1125.93" y="718.04" width="2.6" height="2" fill="#1e66cc"/>
<polygon points="1141.7,706.57 1152.5,725.28 1130.9,725.28" fill="#fff" stroke="#1e66cc" stroke-width="2.75" stroke-linejoin="miter"/>
<path d="M1141.7 706.57V717.26M1137.4 717.26H1146M1141.7 725.28V720.82M1137.4 720.82H1146" stroke="#1e66cc" stroke-width="1.8" fill="none"/>
<rect x="1140.4" y="718.04" width="2.6" height="2" fill="#1e66cc"/>
<path d="M707.6 876.46L722.07 875.73L736.54 875.36L751.01 875L765.48 874.64L779.95 874.27L794.42 873.91L808.89 873.55L823.36 873.18L837.83 872.82L852.3 872.46L866.77 872.31L881.24 872.09L895.71 871.95L910.18 871.73L924.65 871.51L939.12 871.22L953.59 871L968.06 870.64L982.53 870.27L997 869.91L1011.47 869.55L1025.94 869.18L1040.41 868.82L1054.88 868.46L1069.35 868.09L1083.82 867.73L1098.29 867.37L1112.76 867.15L1127.23 866.86L1141.7 866.64" fill="none" stroke="#3ea66c" stroke-width="2.5" stroke-linejoin="round"/>
<polygon points="707.6,888.93 718.4,870.22 696.8,870.22" fill="#fff" stroke="#3ea66c" stroke-width="2.75" stroke-linejoin="miter"/>

<rect x="706.3" y="875.46" width="2.6" height="2" fill="#3ea66c"/>
<polygon points="722.07,888.2 732.87,869.49 711.27,869.49" fill="#fff" stroke="#3ea66c" stroke-width="2.75" stroke-linejoin="miter"/>

<rect x="720.77" y="874.73" width="2.6" height="2" fill="#3ea66c"/>
<polygon points="736.54,887.84 747.34,869.13 725.74,869.13" fill="#fff" stroke="#3ea66c" stroke-width="2.75" stroke-linejoin="miter"/>

<rect x="735.24" y="874.36" width="2.6" height="2" fill="#3ea66c"/>
<polygon points="751.01,887.47 761.81,868.77 740.21,868.77" fill="#fff" stroke="#3ea66c" stroke-width="2.75" stroke-linejoin="miter"/>

<rect x="749.71" y="874" width="2.6" height="2" fill="#3ea66c"/>
<polygon points="765.48,887.11 776.28,868.4 754.68,868.4" fill="#fff" stroke="#3ea66c" stroke-width="2.75" stroke-linejoin="miter"/>

<rect x="764.18" y="873.64" width="2.6" height="2" fill="#3ea66c"/>
<polygon points="779.95,886.74 790.75,868.04 769.15,868.04" fill="#fff" stroke="#3ea66c" stroke-width="2.75" stroke-linejoin="miter"/>

<rect x="778.65" y="873.27" width="2.6" height="2" fill="#3ea66c"/>
<polygon points="794.42,886.38 805.22,867.68 783.62,867.68" fill="#fff" stroke="#3ea66c" stroke-width="2.75" stroke-linejoin="miter"/>

<rect x="793.12" y="872.91" width="2.6" height="2" fill="#3ea66c"/>
<polygon points="808.89,886.02 819.69,867.31 798.09,867.31" fill="#fff" stroke="#3ea66c" stroke-width="2.75" stroke-linejoin="miter"/>

<rect x="807.59" y="872.55" width="2.6" height="2" fill="#3ea66c"/>
<polygon points="823.36,885.65 834.16,866.95 812.56,866.95" fill="#fff" stroke="#3ea66c" stroke-width="2.75" stroke-linejoin="miter"/>

<rect x="822.06" y="872.18" width="2.6" height="2" fill="#3ea66c"/>
<polygon points="837.83,885.29 848.63,866.58 827.03,866.58" fill="#fff" stroke="#3ea66c" stroke-width="2.75" stroke-linejoin="miter"/>

<rect x="836.53" y="871.82" width="2.6" height="2" fill="#3ea66c"/>
<polygon points="852.3,884.93 863.1,866.22 841.5,866.22" fill="#fff" stroke="#3ea66c" stroke-width="2.75" stroke-linejoin="miter"/>

<rect x="851" y="871.46" width="2.6" height="2" fill="#3ea66c"/>
<polygon points="866.77,884.78 877.57,866.08 855.97,866.08" fill="#fff" stroke="#3ea66c" stroke-width="2.75" stroke-linejoin="miter"/>

<rect x="865.47" y="871.31" width="2.6" height="2" fill="#3ea66c"/>
<polygon points="881.24,884.56 892.04,865.86 870.44,865.86" fill="#fff" stroke="#3ea66c" stroke-width="2.75" stroke-linejoin="miter"/>

<rect x="879.94" y="871.09" width="2.6" height="2" fill="#3ea66c"/>
<polygon points="895.71,884.42 906.51,865.71 884.91,865.71" fill="#fff" stroke="#3ea66c" stroke-width="2.75" stroke-linejoin="miter"/>

<rect x="894.41" y="870.95" width="2.6" height="2" fill="#3ea66c"/>
<polygon points="910.18,884.2 920.98,865.49 899.38,865.49" fill="#fff" stroke="#3ea66c" stroke-width="2.75" stroke-linejoin="miter"/>

<rect x="908.88" y="870.73" width="2.6" height="2" fill="#3ea66c"/>
<polygon points="924.65,883.98 935.45,865.28 913.85,865.28" fill="#fff" stroke="#3ea66c" stroke-width="2.75" stroke-linejoin="miter"/>

<rect x="923.35" y="870.51" width="2.6" height="2" fill="#3ea66c"/>
<polygon points="939.12,883.69 949.92,864.98 928.32,864.98" fill="#fff" stroke="#3ea66c" stroke-width="2.75" stroke-linejoin="miter"/>

<rect x="937.82" y="870.22" width="2.6" height="2" fill="#3ea66c"/>
<polygon points="953.59,883.47 964.39,864.77 942.79,864.77" fill="#fff" stroke="#3ea66c" stroke-width="2.75" stroke-linejoin="miter"/>

<rect x="952.29" y="870" width="2.6" height="2" fill="#3ea66c"/>
<polygon points="968.06,883.11 978.86,864.4 957.26,864.4" fill="#fff" stroke="#3ea66c" stroke-width="2.75" stroke-linejoin="miter"/>

<rect x="966.76" y="869.64" width="2.6" height="2" fill="#3ea66c"/>
<polygon points="982.53,882.75 993.33,864.04 971.73,864.04" fill="#fff" stroke="#3ea66c" stroke-width="2.75" stroke-linejoin="miter"/>

<rect x="981.23" y="869.27" width="2.6" height="2" fill="#3ea66c"/>
<polygon points="997,882.38 1007.8,863.68 986.2,863.68" fill="#fff" stroke="#3ea66c" stroke-width="2.75" stroke-linejoin="miter"/>
<path d="M997 863.68V868.46M992.7 868.46H1001.3M997 882.38V871.37M992.7 871.37H1001.3" stroke="#3ea66c" stroke-width="1.8" fill="none"/>
<rect x="995.7" y="868.91" width="2.6" height="2" fill="#3ea66c"/>
<polygon points="1011.47,882.02 1022.27,863.31 1000.67,863.31" fill="#fff" stroke="#3ea66c" stroke-width="2.75" stroke-linejoin="miter"/>

<rect x="1010.17" y="868.55" width="2.6" height="2" fill="#3ea66c"/>
<polygon points="1025.94,881.66 1036.74,862.95 1015.14,862.95" fill="#fff" stroke="#3ea66c" stroke-width="2.75" stroke-linejoin="miter"/>

<rect x="1024.64" y="868.18" width="2.6" height="2" fill="#3ea66c"/>
<polygon points="1040.41,881.29 1051.21,862.59 1029.61,862.59" fill="#fff" stroke="#3ea66c" stroke-width="2.75" stroke-linejoin="miter"/>

<rect x="1039.11" y="867.82" width="2.6" height="2" fill="#3ea66c"/>
<polygon points="1054.88,880.93 1065.68,862.22 1044.08,862.22" fill="#fff" stroke="#3ea66c" stroke-width="2.75" stroke-linejoin="miter"/>

<rect x="1053.58" y="867.46" width="2.6" height="2" fill="#3ea66c"/>
<polygon points="1069.35,880.56 1080.15,861.86 1058.55,861.86" fill="#fff" stroke="#3ea66c" stroke-width="2.75" stroke-linejoin="miter"/>

<rect x="1068.05" y="867.09" width="2.6" height="2" fill="#3ea66c"/>
<polygon points="1083.82,880.2 1094.62,861.49 1073.02,861.49" fill="#fff" stroke="#3ea66c" stroke-width="2.75" stroke-linejoin="miter"/>

<rect x="1082.52" y="866.73" width="2.6" height="2" fill="#3ea66c"/>
<polygon points="1098.29,879.84 1109.09,861.13 1087.49,861.13" fill="#fff" stroke="#3ea66c" stroke-width="2.75" stroke-linejoin="miter"/>

<rect x="1096.99" y="866.37" width="2.6" height="2" fill="#3ea66c"/>
<polygon points="1112.76,879.62 1123.56,860.91 1101.96,860.91" fill="#fff" stroke="#3ea66c" stroke-width="2.75" stroke-linejoin="miter"/>

<rect x="1111.46" y="866.15" width="2.6" height="2" fill="#3ea66c"/>
<polygon points="1127.23,879.33 1138.03,860.62 1116.43,860.62" fill="#fff" stroke="#3ea66c" stroke-width="2.75" stroke-linejoin="miter"/>

<rect x="1125.93" y="865.86" width="2.6" height="2" fill="#3ea66c"/>
<polygon points="1141.7,879.11 1152.5,860.4 1130.9,860.4" fill="#fff" stroke="#3ea66c" stroke-width="2.75" stroke-linejoin="miter"/>

<rect x="1140.4" y="865.64" width="2.6" height="2" fill="#3ea66c"/>
</g>
<rect x="707.6" y="530" width="441.9" height="349" fill="none" stroke="#000" stroke-width="3.0"/>
<path d="M708.1 528.5V880.5M1149.05 528.5V880.5" stroke="#000" stroke-width="3.9"/>
<path d="M706.1 879h-5.9M706.1 806.29h-5.9M706.1 733.58h-5.9M706.1 660.88h-5.9M706.1 588.17h-5.9M707.6 880.5v4.9M779.95 880.5v4.9M852.3 880.5v4.9M924.65 880.5v4.9M997 880.5v4.9M1069.35 880.5v4.9M1141.7 880.5v4.9" stroke="#000" stroke-width="3" fill="none"/>
<path d="M706.1 842.65h-2.3M706.1 769.94h-2.3M706.1 697.23h-2.3M706.1 624.52h-2.3M706.1 551.81h-2.3M743.77 880.5v2.1M816.12 880.5v2.1M888.48 880.5v2.1M960.83 880.5v2.1M1033.17 880.5v2.1M1105.53 880.5v2.1" stroke="#000" stroke-width="2.6" fill="none"/>
<text x="696" y="884.9" text-anchor="end" font-size="19">0</text>
<text x="696" y="812.19" text-anchor="end" font-size="19">10</text>
<text x="696" y="739.48" text-anchor="end" font-size="19">20</text>
<text x="696" y="666.77" text-anchor="end" font-size="19">30</text>
<text x="696" y="594.07" text-anchor="end" font-size="19">40</text>
<text x="713.8" y="554.8" font-size="19" font-weight="bold">(d)</text>
<text transform="translate(647.2,704.2) rotate(-90)" text-anchor="middle" font-size="20.2" font-weight="bold">Accumulative CH<tspan font-size="13.4" dy="5.6">4</tspan><tspan dy="-5.6">&#8203;</tspan> Emission (mg / kg DM)</text>
<clipPath id="clipe"><rect x="146.2" y="979.2" width="441.2" height="349"/></clipPath>
<g clip-path="url(#clipe)">
<path d="M146.2 1284.23L160.65 1324.71L175.1 1324.71L189.55 1324.71L204 1324.71L218.45 1324.71L232.9 1324.71L247.35 1324.71L261.8 1324.71L276.25 1324.71L290.7 1324.71L305.15 1324.71L319.6 1324.71L334.05 1324.71L348.5 1324.71L362.95 1324.71L377.4 1324.71L391.85 1324.71L406.3 1324.71L420.75 1324.71L435.2 1324.71L449.65 1324.71L464.1 1324.71L478.55 1324.71L493 1324.71L507.45 1324.71L521.9 1324.71L536.35 1324.71L550.8 1324.71L565.25 1324.71L579.7 1324.71" fill="none" stroke="#4a4a4a" stroke-width="2.5" stroke-linejoin="round"/>
<rect x="138.05" y="1276.08" width="16.3" height="16.3" fill="#fff" stroke="#4a4a4a" stroke-width="2.75"/>
<path d="M146.2 1276.08V1280.04M141.9 1280.04H150.5M146.2 1292.38V1288.41M141.9 1288.41H150.5" stroke="#4a4a4a" stroke-width="1.8" fill="none"/>
<rect x="144.9" y="1283.23" width="2.6" height="2" fill="#4a4a4a"/>
<rect x="152.5" y="1316.56" width="16.3" height="16.3" fill="#fff" stroke="#4a4a4a" stroke-width="2.75"/>
<path d="M160.65 1316.56V1323.17M156.35 1323.17H164.95M160.65 1332.86V1326.25M156.35 1326.25H164.95" stroke="#4a4a4a" stroke-width="1.8" fill="none"/>
<rect x="159.35" y="1323.71" width="2.6" height="2" fill="#4a4a4a"/>
<rect x="166.95" y="1316.56" width="16.3" height="16.3" fill="#fff" stroke="#4a4a4a" stroke-width="2.75"/>
<path d="M175.1 1316.56V1322.99M170.8 1322.99H179.4M175.1 1332.86V1326.43M170.8 1326.43H179.4" stroke="#4a4a4a" stroke-width="1.8" fill="none"/>
<rect x="173.8" y="1323.71" width="2.6" height="2" fill="#4a4a4a"/>
<rect x="181.4" y="1316.56" width="16.3" height="16.3" fill="#fff" stroke="#4a4a4a" stroke-width="2.75"/>
<path d="M189.55 1316.56V1323.23M185.25 1323.23H193.85M189.55 1332.86V1326.19M185.25 1326.19H193.85" stroke="#4a4a4a" stroke-width="1.8" fill="none"/>
<rect x="188.25" y="1323.71" width="2.6" height="2" fill="#4a4a4a"/>
<rect x="195.85" y="1316.56" width="16.3" height="16.3" fill="#fff" stroke="#4a4a4a" stroke-width="2.75"/>
<path d="M204 1316.56V1323.18M199.7 1323.18H208.3M204 1332.86V1326.24M199.7 1326.24H208.3" stroke="#4a4a4a" stroke-width="1.8" fill="none"/>
<rect x="202.7" y="1323.71" width="2.6" height="2" fill="#4a4a4a"/>
<rect x="210.3" y="1316.56" width="16.3" height="16.3" fill="#fff" stroke="#4a4a4a" stroke-width="2.75"/>
<path d="M218.45 1316.56V1322.57M214.15 1322.57H222.75M218.45 1332.86V1326.85M214.15 1326.85H222.75" stroke="#4a4a4a" stroke-width="1.8" fill="none"/>
<rect x="217.15" y="1323.71" width="2.6" height="2" fill="#4a4a4a"/>
<rect x="224.75" y="1316.56" width="16.3" height="16.3" fill="#fff" stroke="#4a4a4a" stroke-width="2.75"/>
<path d="M232.9 1316.56V1323.02M228.6 1323.02H237.2M232.9 1332.86V1326.4M228.6 1326.4H237.2" stroke="#4a4a4a" stroke-width="1.8" fill="none"/>
<rect x="231.6" y="1323.71" width="2.6" height="2" fill="#4a4a4a"/>
<rect x="239.2" y="1316.56" width="16.3" height="16.3" fill="#fff" stroke="#4a4a4a" stroke-width="2.75"/>
<path d="M247.35 1316.56V1323.05M243.05 1323.05H251.65M247.35 1332.86V1326.37M243.05 1326.37H251.65" stroke="#4a4a4a" stroke-width="1.8" fill="none"/>
<rect x="246.05" y="1323.71" width="2.6" height="2" fill="#4a4a4a"/>
<rect x="253.65" y="1316.56" width="16.3" height="16.3" fill="#fff" stroke="#4a4a4a" stroke-width="2.75"/>
<path d="M261.8 1316.56V1322.5M257.5 1322.5H266.1M261.8 1332.86V1326.92M257.5 1326.92H266.1" stroke="#4a4a4a" stroke-width="1.8" fill="none"/>
<rect x="260.5" y="1323.71" width="2.6" height="2" fill="#4a4a4a"/>
<rect x="268.1" y="1316.56" width="16.3" height="16.3" fill="#fff" stroke="#4a4a4a" stroke-width="2.75"/>
<path d="M276.25 1316.56V1322.83M271.95 1322.83H280.55M276.25 1332.86V1326.59M271.95 1326.59H280.55" stroke="#4a4a4a" stroke-width="1.8" fill="none"/>
<rect x="274.95" y="1323.71" width="2.6" height="2" fill="#4a4a4a"/>
<rect x="282.55" y="1316.56" width="16.3" height="16.3" fill="#fff" stroke="#4a4a4a" stroke-width="2.75"/>
<path d="M290.7 1316.56V1322.48M286.4 1322.48H295M290.7 1332.86V1326.94M286.4 1326.94H295" stroke="#4a4a4a" stroke-width="1.8" fill="none"/>
<rect x="289.4" y="1323.71" width="2.6" height="2" fill="#4a4a4a"/>
<rect x="297" y="1316.56" width="16.3" height="16.3" fill="#fff" stroke="#4a4a4a" stroke-width="2.75"/>
<path d="M305.15 1316.56V1322.32M300.85 1322.32H309.45M305.15 1332.86V1327.1M300.85 1327.1H309.45" stroke="#4a4a4a" stroke-width="1.8" fill="none"/>
<rect x="303.85" y="1323.71" width="2.6" height="2" fill="#4a4a4a"/>
<rect x="311.45" y="1316.56" width="16.3" height="16.3" fill="#fff" stroke="#4a4a4a" stroke-width="2.75"/>
<path d="M319.6 1316.56V1323.43M315.3 1323.43H323.9M319.6 1332.86V1325.99M315.3 1325.99H323.9" stroke="#4a4a4a" stroke-width="1.8" fill="none"/>
<rect x="318.3" y="1323.71" width="2.6" height="2" fill="#4a4a4a"/>
<rect x="325.9" y="1316.56" width="16.3" height="16.3" fill="#fff" stroke="#4a4a4a" stroke-width="2.75"/>
<path d="M334.05 1316.56V1323.38M329.75 1323.38H338.35M334.05 1332.86V1326.04M329.75 1326.04H338.35" stroke="#4a4a4a" stroke-width="1.8" fill="none"/>
<rect x="332.75" y="1323.71" width="2.6" height="2" fill="#4a4a4a"/>
<rect x="340.35" y="1316.56" width="16.3" height="16.3" fill="#fff" stroke="#4a4a4a" stroke-width="2.75"/>
<path d="M348.5 1316.56V1322.3M344.2 1322.3H352.8M348.5 1332.86V1327.12M344.2 1327.12H352.8" stroke="#4a4a4a" stroke-width="1.8" fill="none"/>
<rect x="347.2" y="1323.71" width="2.6" height="2" fill="#4a4a4a"/>
<rect x="354.8" y="1316.56" width="16.3" height="16.3" fill="#fff" stroke="#4a4a4a" stroke-width="2.75"/>
<path d="M362.95 1316.56V1322.44M358.65 1322.44H367.25M362.95 1332.86V1326.98M358.65 1326.98H367.25" stroke="#4a4a4a" stroke-width="1.8" fill="none"/>
<rect x="361.65" y="1323.71" width="2.6" height="2" fill="#4a4a4a"/>
<rect x="369.25" y="1316.56" width="16.3" height="16.3" fill="#fff" stroke="#4a4a4a" stroke-width="2.75"/>
<path d="M377.4 1316.56V1323.64M373.1 1323.64H381.7M377.4 1332.86V1325.78M373.1 1325.78H381.7" stroke="#4a4a4a" stroke-width="1.8" fill="none"/>
<rect x="376.1" y="1323.71" width="2.6" height="2" fill="#4a4a4a"/>
<rect x="383.7" y="1316.56" width="16.3" height="16.3" fill="#fff" stroke="#4a4a4a" stroke-width="2.75"/>
<path d="M391.85 1316.56V1322.55M387.55 1322.55H396.15M391.85 1332.86V1326.87M387.55 1326.87H396.15" stroke="#4a4a4a" stroke-width="1.8" fill="none"/>
<rect x="390.55" y="1323.71" width="2.6" height="2" fill="#4a4a4a"/>
<rect x="398.15" y="1316.56" width="16.3" height="16.3" fill="#fff" stroke="#4a4a4a" stroke-width="2.75"/>
<path d="M406.3 1316.56V1322.71M402 1322.71H410.6M406.3 1332.86V1326.71M402 1326.71H410.6" stroke="#4a4a4a" stroke-width="1.8" fill="none"/>
<rect x="405" y="1323.71" width="2.6" height="2" fill="#4a4a4a"/>
<rect x="412.6" y="1316.56" width="16.3" height="16.3" fill="#fff" stroke="#4a4a4a" stroke-width="2.75"/>
<path d="M420.75 1316.56V1322.59M416.45 1322.59H425.05M420.75 1332.86V1326.83M416.45 1326.83H425.05" stroke="#4a4a4a" stroke-width="1.8" fill="none"/>
<rect x="419.45" y="1323.71" width="2.6" height="2" fill="#4a4a4a"/>
<rect x="427.05" y="1316.56" width="16.3" height="16.3" fill="#fff" stroke="#4a4a4a" stroke-width="2.75"/>
<path d="M435.2 1316.56V1322.91M430.9 1322.91H439.5M435.2 1332.86V1326.51M430.9 1326.51H439.5" stroke="#4a4a4a" stroke-width="1.8" fill="none"/>
<rect x="433.9" y="1323.71" width="2.6" height="2" fill="#4a4a4a"/>
<rect x="441.5" y="1316.56" width="16.3" height="16.3" fill="#fff" stroke="#4a4a4a" stroke-width="2.75"/>
<path d="M449.65 1316.56V1323.46M445.35 1323.46H453.95M449.65 1332.86V1325.96M445.35 1325.96H453.95" stroke="#4a4a4a" stroke-width="1.8" fill="none"/>
<rect x="448.35" y="1323.71" width="2.6" height="2" fill="#4a4a4a"/>
<rect x="455.95" y="1316.56" width="16.3" height="16.3" fill="#fff" stroke="#4a4a4a" stroke-width="2.75"/>
<path d="M464.1 1316.56V1323.21M459.8 1323.21H468.4M464.1 1332.86V1326.21M459.8 1326.21H468.4" stroke="#4a4a4a" stroke-width="1.8" fill="none"/>
<rect x="462.8" y="1323.71" width="2.6" height="2" fill="#4a4a4a"/>
<rect x="470.4" y="1316.56" width="16.3" height="16.3" fill="#fff" stroke="#4a4a4a" stroke-width="2.75"/>
<path d="M478.55 1316.56V1323.14M474.25 1323.14H482.85M478.55 1332.86V1326.28M474.25 1326.28H482.85" stroke="#4a4a4a" stroke-width="1.8" fill="none"/>
<rect x="477.25" y="1323.71" width="2.6" height="2" fill="#4a4a4a"/>
<rect x="484.85" y="1316.56" width="16.3" height="16.3" fill="#fff" stroke="#4a4a4a" stroke-width="2.75"/>
<path d="M493 1316.56V1323.16M488.7 1323.16H497.3M493 1332.86V1326.26M488.7 1326.26H497.3" stroke="#4a4a4a" stroke-width="1.8" fill="none"/>
<rect x="491.7" y="1323.71" width="2.6" height="2" fill="#4a4a4a"/>
<rect x="499.3" y="1316.56" width="16.3" height="16.3" fill="#fff" stroke="#4a4a4a" stroke-width="2.75"/>
<path d="M507.45 1316.56V1322.29M503.15 1322.29H511.75M507.45 1332.86V1327.13M503.15 1327.13H511.75" stroke="#4a4a4a" stroke-width="1.8" fill="none"/>
<rect x="506.15" y="1323.71" width="2.6" height="2" fill="#4a4a4a"/>
<rect x="513.75" y="1316.56" width="16.3" height="16.3" fill="#fff" stroke="#4a4a4a" stroke-width="2.75"/>
<path d="M521.9 1316.56V1322.46M517.6 1322.46H526.2M521.9 1332.86V1326.96M517.6 1326.96H526.2" stroke="#4a4a4a" stroke-width="1.8" fill="none"/>
<rect x="520.6" y="1323.71" width="2.6" height="2" fill="#4a4a4a"/>
<rect x="528.2" y="1316.56" width="16.3" height="16.3" fill="#fff" stroke="#4a4a4a" stroke-width="2.75"/>
<path d="M536.35 1316.56V1323.26M532.05 1323.26H540.65M536.35 1332.86V1326.16M532.05 1326.16H540.65" stroke="#4a4a4a" stroke-width="1.8" fill="none"/>
<rect x="535.05" y="1323.71" width="2.6" height="2" fill="#4a4a4a"/>
<rect x="542.65" y="1316.56" width="16.3" height="16.3" fill="#fff" stroke="#4a4a4a" stroke-width="2.75"/>
<path d="M550.8 1316.56V1323.29M546.5 1323.29H555.1M550.8 1332.86V1326.13M546.5 1326.13H555.1" stroke="#4a4a4a" stroke-width="1.8" fill="none"/>
<rect x="549.5" y="1323.71" width="2.6" height="2" fill="#4a4a4a"/>
<rect x="557.1" y="1316.56" width="16.3" height="16.3" fill="#fff" stroke="#4a4a4a" stroke-width="2.75"/>
<path d="M565.25 1316.56V1322.96M560.95 1322.96H569.55M565.25 1332.86V1326.46M560.95 1326.46H569.55" stroke="#4a4a4a" stroke-width="1.8" fill="none"/>
<rect x="563.95" y="1323.71" width="2.6" height="2" fill="#4a4a4a"/>
<rect x="571.55" y="1316.56" width="16.3" height="16.3" fill="#fff" stroke="#4a4a4a" stroke-width="2.75"/>
<path d="M579.7 1316.56V1323.19M575.4 1323.19H584M579.7 1332.86V1326.23M575.4 1326.23H584" stroke="#4a4a4a" stroke-width="1.8" fill="none"/>
<rect x="578.4" y="1323.71" width="2.6" height="2" fill="#4a4a4a"/>
<path d="M146.2 1214.43L160.65 1325.41L175.1 1325.41L189.55 1325.41L204 1325.41L218.45 1326.11L232.9 1326.11L247.35 1326.11L261.8 1326.11L276.25 1326.11L290.7 1326.11L305.15 1326.11L319.6 1326.11L334.05 1326.11L348.5 1326.11L362.95 1326.8L377.4 1326.8L391.85 1326.8L406.3 1326.8L420.75 1326.8L435.2 1326.8L449.65 1326.8L464.1 1323.31L478.55 1326.8L493 1326.8L507.45 1326.8L521.9 1326.8L536.35 1326.8L550.8 1326.8L565.25 1326.8L579.7 1326.8" fill="none" stroke="#d63c44" stroke-width="2.5" stroke-linejoin="round"/>
<circle cx="146.2" cy="1214.43" r="9.6" fill="#fff" stroke="#d63c44" stroke-width="2.75"/>
<path d="M146.2 1204.83V1203.96M141.9 1203.96H150.5M146.2 1224.03V1224.9M141.9 1224.9H150.5" stroke="#d63c44" stroke-width="1.8" fill="none"/>
<rect x="144.9" y="1213.43" width="2.6" height="2" fill="#d63c44"/>
<circle cx="160.65" cy="1325.41" r="9.6" fill="#fff" stroke="#d63c44" stroke-width="2.75"/>
<path d="M160.65 1315.81V1323.73M156.35 1323.73H164.95M160.65 1335.01V1327.09M156.35 1327.09H164.95" stroke="#d63c44" stroke-width="1.8" fill="none"/>
<rect x="159.35" y="1324.41" width="2.6" height="2" fill="#d63c44"/>
<circle cx="175.1" cy="1325.41" r="9.6" fill="#fff" stroke="#d63c44" stroke-width="2.75"/>
<path d="M175.1 1315.81V1323.62M170.8 1323.62H179.4M175.1 1335.01V1327.2M170.8 1327.2H179.4" stroke="#d63c44" stroke-width="1.8" fill="none"/>
<rect x="173.8" y="1324.41" width="2.6" height="2" fill="#d63c44"/>
<circle cx="189.55" cy="1325.41" r="9.6" fill="#fff" stroke="#d63c44" stroke-width="2.75"/>
<path d="M189.55 1315.81V1322.98M185.25 1322.98H193.85M189.55 1335.01V1327.83M185.25 1327.83H193.85" stroke="#d63c44" stroke-width="1.8" fill="none"/>
<rect x="188.25" y="1324.41" width="2.6" height="2" fill="#d63c44"/>
<circle cx="204" cy="1325.41" r="9.6" fill="#fff" stroke="#d63c44" stroke-width="2.75"/>
<path d="M204 1315.81V1323.74M199.7 1323.74H208.3M204 1335.01V1327.07M199.7 1327.07H208.3" stroke="#d63c44" stroke-width="1.8" fill="none"/>
<rect x="202.7" y="1324.41" width="2.6" height="2" fill="#d63c44"/>
<circle cx="218.45" cy="1326.11" r="9.6" fill="#fff" stroke="#d63c44" stroke-width="2.75"/>
<path d="M218.45 1316.51V1324.96M214.15 1324.96H222.75M218.45 1335.71V1327.25M214.15 1327.25H222.75" stroke="#d63c44" stroke-width="1.8" fill="none"/>
<rect x="217.15" y="1325.11" width="2.6" height="2" fill="#d63c44"/>
<circle cx="232.9" cy="1326.11" r="9.6" fill="#fff" stroke="#d63c44" stroke-width="2.75"/>
<path d="M232.9 1316.51V1323.88M228.6 1323.88H237.2M232.9 1335.71V1328.34M228.6 1328.34H237.2" stroke="#d63c44" stroke-width="1.8" fill="none"/>
<rect x="231.6" y="1325.11" width="2.6" height="2" fill="#d63c44"/>
<circle cx="247.35" cy="1326.11" r="9.6" fill="#fff" stroke="#d63c44" stroke-width="2.75"/>
<path d="M247.35 1316.51V1324.98M243.05 1324.98H251.65M247.35 1335.71V1327.24M243.05 1327.24H251.65" stroke="#d63c44" stroke-width="1.8" fill="none"/>
<rect x="246.05" y="1325.11" width="2.6" height="2" fill="#d63c44"/>
<circle cx="261.8" cy="1326.11" r="9.6" fill="#fff" stroke="#d63c44" stroke-width="2.75"/>
<path d="M261.8 1316.51V1324.52M257.5 1324.52H266.1M261.8 1335.71V1327.69M257.5 1327.69H266.1" stroke="#d63c44" stroke-width="1.8" fill="none"/>
<rect x="260.5" y="1325.11" width="2.6" height="2" fill="#d63c44"/>
<circle cx="276.25" cy="1326.11" r="9.6" fill="#fff" stroke="#d63c44" stroke-width="2.75"/>
<path d="M276.25 1316.51V1324.55M271.95 1324.55H280.55M276.25 1335.71V1327.66M271.95 1327.66H280.55" stroke="#d63c44" stroke-width="1.8" fill="none"/>
<rect x="274.95" y="1325.11" width="2.6" height="2" fill="#d63c44"/>
<circle cx="290.7" cy="1326.11" r="9.6" fill="#fff" stroke="#d63c44" stroke-width="2.75"/>
<path d="M290.7 1316.51V1324.29M286.4 1324.29H295M290.7 1335.71V1327.92M286.4 1327.92H295" stroke="#d63c44" stroke-width="1.8" fill="none"/>
<rect x="289.4" y="1325.11" width="2.6" height="2" fill="#d63c44"/>
<circle cx="305.15" cy="1326.11" r="9.6" fill="#fff" stroke="#d63c44" stroke-width="2.75"/>
<path d="M305.15 1316.51V1324.46M300.85 1324.46H309.45M305.15 1335.71V1327.75M300.85 1327.75H309.45" stroke="#d63c44" stroke-width="1.8" fill="none"/>
<rect x="303.85" y="1325.11" width="2.6" height="2" fill="#d63c44"/>
<circle cx="319.6" cy="1326.11" r="9.6" fill="#fff" stroke="#d63c44" stroke-width="2.75"/>
<path d="M319.6 1316.51V1324.07M315.3 1324.07H323.9M319.6 1335.71V1328.15M315.3 1328.15H323.9" stroke="#d63c44" stroke-width="1.8" fill="none"/>
<rect x="318.3" y="1325.11" width="2.6" height="2" fill="#d63c44"/>
<circle cx="334.05" cy="1326.11" r="9.6" fill="#fff" stroke="#d63c44" stroke-width="2.75"/>
<path d="M334.05 1316.51V1324.64M329.75 1324.64H338.35M334.05 1335.71V1327.57M329.75 1327.57H338.35" stroke="#d63c44" stroke-width="1.8" fill="none"/>
<rect x="332.75" y="1325.11" width="2.6" height="2" fill="#d63c44"/>
<circle cx="348.5" cy="1326.11" r="9.6" fill="#fff" stroke="#d63c44" stroke-width="2.75"/>
<path d="M348.5 1316.51V1324.5M344.2 1324.5H352.8M348.5 1335.71V1327.71M344.2 1327.71H352.8" stroke="#d63c44" stroke-width="1.8" fill="none"/>
<rect x="347.2" y="1325.11" width="2.6" height="2" fill="#d63c44"/>
<circle cx="362.95" cy="1326.8" r="9.6" fill="#fff" stroke="#d63c44" stroke-width="2.75"/>
<path d="M362.95 1317.2V1324.85M358.65 1324.85H367.25M362.95 1336.4V1328.76M358.65 1328.76H367.25" stroke="#d63c44" stroke-width="1.8" fill="none"/>
<rect x="361.65" y="1325.8" width="2.6" height="2" fill="#d63c44"/>
<circle cx="377.4" cy="1326.8" r="9.6" fill="#fff" stroke="#d63c44" stroke-width="2.75"/>
<path d="M377.4 1317.2V1324.94M373.1 1324.94H381.7M377.4 1336.4V1328.67M373.1 1328.67H381.7" stroke="#d63c44" stroke-width="1.8" fill="none"/>
<rect x="376.1" y="1325.8" width="2.6" height="2" fill="#d63c44"/>
<circle cx="391.85" cy="1326.8" r="9.6" fill="#fff" stroke="#d63c44" stroke-width="2.75"/>
<path d="M391.85 1317.2V1325.45M387.55 1325.45H396.15M391.85 1336.4V1328.16M387.55 1328.16H396.15" stroke="#d63c44" stroke-width="1.8" fill="none"/>
<rect x="390.55" y="1325.8" width="2.6" height="2" fill="#d63c44"/>
<circle cx="406.3" cy="1326.8" r="9.6" fill="#fff" stroke="#d63c44" stroke-width="2.75"/>
<path d="M406.3 1317.2V1324.9M402 1324.9H410.6M406.3 1336.4V1328.71M402 1328.71H410.6" stroke="#d63c44" stroke-width="1.8" fill="none"/>
<rect x="405" y="1325.8" width="2.6" height="2" fill="#d63c44"/>
<circle cx="420.75" cy="1326.8" r="9.6" fill="#fff" stroke="#d63c44" stroke-width="2.75"/>
<path d="M420.75 1317.2V1325.64M416.45 1325.64H425.05M420.75 1336.4V1327.96M416.45 1327.96H425.05" stroke="#d63c44" stroke-width="1.8" fill="none"/>
<rect x="419.45" y="1325.8" width="2.6" height="2" fill="#d63c44"/>
<circle cx="435.2" cy="1326.8" r="9.6" fill="#fff" stroke="#d63c44" stroke-width="2.75"/>
<path d="M435.2 1317.2V1325.36M430.9 1325.36H439.5M435.2 1336.4V1328.25M430.9 1328.25H439.5" stroke="#d63c44" stroke-width="1.8" fill="none"/>
<rect x="433.9" y="1325.8" width="2.6" height="2" fill="#d63c44"/>
<circle cx="449.65" cy="1326.8" r="9.6" fill="#fff" stroke="#d63c44" stroke-width="2.75"/>
<path d="M449.65 1317.2V1325M445.35 1325H453.95M449.65 1336.4V1328.6M445.35 1328.6H453.95" stroke="#d63c44" stroke-width="1.8" fill="none"/>
<rect x="448.35" y="1325.8" width="2.6" height="2" fill="#d63c44"/>
<circle cx="464.1" cy="1323.31" r="9.6" fill="#fff" stroke="#d63c44" stroke-width="2.75"/>
<path d="M464.1 1313.71V1321.52M459.8 1321.52H468.4M464.1 1332.91V1325.11M459.8 1325.11H468.4" stroke="#d63c44" stroke-width="1.8" fill="none"/>
<rect x="462.8" y="1322.31" width="2.6" height="2" fill="#d63c44"/>
<circle cx="478.55" cy="1326.8" r="9.6" fill="#fff" stroke="#d63c44" stroke-width="2.75"/>
<path d="M478.55 1317.2V1324.6M474.25 1324.6H482.85M478.55 1336.4V1329.01M474.25 1329.01H482.85" stroke="#d63c44" stroke-width="1.8" fill="none"/>
<rect x="477.25" y="1325.8" width="2.6" height="2" fill="#d63c44"/>
<circle cx="493" cy="1326.8" r="9.6" fill="#fff" stroke="#d63c44" stroke-width="2.75"/>
<path d="M493 1317.2V1324.48M488.7 1324.48H497.3M493 1336.4V1329.13M488.7 1329.13H497.3" stroke="#d63c44" stroke-width="1.8" fill="none"/>
<rect x="491.7" y="1325.8" width="2.6" height="2" fill="#d63c44"/>
<circle cx="507.45" cy="1326.8" r="9.6" fill="#fff" stroke="#d63c44" stroke-width="2.75"/>
<path d="M507.45 1317.2V1324.8M503.15 1324.8H511.75M507.45 1336.4V1328.8M503.15 1328.8H511.75" stroke="#d63c44" stroke-width="1.8" fill="none"/>
<rect x="506.15" y="1325.8" width="2.6" height="2" fill="#d63c44"/>
<circle cx="521.9" cy="1326.8" r="9.6" fill="#fff" stroke="#d63c44" stroke-width="2.75"/>
<path d="M521.9 1317.2V1324.53M517.6 1324.53H526.2M521.9 1336.4V1329.08M517.6 1329.08H526.2" stroke="#d63c44" stroke-width="1.8" fill="none"/>
<rect x="520.6" y="1325.8" width="2.6" height="2" fill="#d63c44"/>
<circle cx="536.35" cy="1326.8" r="9.6" fill="#fff" stroke="#d63c44" stroke-width="2.75"/>
<path d="M536.35 1317.2V1325.09M532.05 1325.09H540.65M536.35 1336.4V1328.51M532.05 1328.51H540.65" stroke="#d63c44" stroke-width="1.8" fill="none"/>
<rect x="535.05" y="1325.8" width="2.6" height="2" fill="#d63c44"/>
<circle cx="550.8" cy="1326.8" r="9.6" fill="#fff" stroke="#d63c44" stroke-width="2.75"/>
<path d="M550.8 1317.2V1325.36M546.5 1325.36H555.1M550.8 1336.4V1328.25M546.5 1328.25H555.1" stroke="#d63c44" stroke-width="1.8" fill="none"/>
<rect x="549.5" y="1325.8" width="2.6" height="2" fill="#d63c44"/>
<circle cx="565.25" cy="1326.8" r="9.6" fill="#fff" stroke="#d63c44" stroke-width="2.75"/>
<path d="M565.25 1317.2V1324.61M560.95 1324.61H569.55M565.25 1336.4V1329M560.95 1329H569.55" stroke="#d63c44" stroke-width="1.8" fill="none"/>
<rect x="563.95" y="1325.8" width="2.6" height="2" fill="#d63c44"/>
<circle cx="579.7" cy="1326.8" r="9.6" fill="#fff" stroke="#d63c44" stroke-width="2.75"/>
<path d="M579.7 1317.2V1325.64M575.4 1325.64H584M579.7 1336.4V1327.97M575.4 1327.97H584" stroke="#d63c44" stroke-width="1.8" fill="none"/>
<rect x="578.4" y="1325.8" width="2.6" height="2" fill="#d63c44"/>
<path d="M146.2 1180.92L160.65 1324.71L175.1 1324.01L189.55 1324.71L204 1324.71L218.45 1324.71L232.9 1324.71L247.35 1324.71L261.8 1324.71L276.25 1324.71L290.7 1324.71L305.15 1285.62L319.6 1319.13L334.05 1319.13L348.5 1319.13L362.95 1324.01L377.4 1328.2L391.85 1327.5L406.3 1328.2L420.75 1327.85L435.2 1327.5L449.65 1320.52L464.1 1328.2L478.55 1328.2L493 1327.85L507.45 1327.85L521.9 1327.85L536.35 1327.85L550.8 1327.85L565.25 1327.85L579.7 1327.85" fill="none" stroke="#1e66cc" stroke-width="2.5" stroke-linejoin="round"/>
<polygon points="146.2,1168.45 157,1187.16 135.4,1187.16" fill="#fff" stroke="#1e66cc" stroke-width="2.75" stroke-linejoin="miter"/>
<path d="M146.2 1168.45V1168.36M141.9 1168.36H150.5M146.2 1187.16V1193.49M141.9 1193.49H150.5" stroke="#1e66cc" stroke-width="1.8" fill="none"/>
<rect x="144.9" y="1179.92" width="2.6" height="2" fill="#1e66cc"/>
<polygon points="160.65,1312.24 171.45,1330.95 149.85,1330.95" fill="#fff" stroke="#1e66cc" stroke-width="2.75" stroke-linejoin="miter"/>
<path d="M160.65 1312.24V1322.5M156.35 1322.5H164.95M160.65 1330.95V1326.92M156.35 1326.92H164.95" stroke="#1e66cc" stroke-width="1.8" fill="none"/>
<rect x="159.35" y="1323.71" width="2.6" height="2" fill="#1e66cc"/>
<polygon points="175.1,1311.54 185.9,1330.25 164.3,1330.25" fill="#fff" stroke="#1e66cc" stroke-width="2.75" stroke-linejoin="miter"/>
<path d="M175.1 1311.54V1322.58M170.8 1322.58H179.4M175.1 1330.25V1325.44M170.8 1325.44H179.4" stroke="#1e66cc" stroke-width="1.8" fill="none"/>
<rect x="173.8" y="1323.01" width="2.6" height="2" fill="#1e66cc"/>
<polygon points="189.55,1312.24 200.35,1330.95 178.75,1330.95" fill="#fff" stroke="#1e66cc" stroke-width="2.75" stroke-linejoin="miter"/>
<path d="M189.55 1312.24V1322.95M185.25 1322.95H193.85M189.55 1330.95V1326.47M185.25 1326.47H193.85" stroke="#1e66cc" stroke-width="1.8" fill="none"/>
<rect x="188.25" y="1323.71" width="2.6" height="2" fill="#1e66cc"/>
<polygon points="204,1312.24 214.8,1330.95 193.2,1330.95" fill="#fff" stroke="#1e66cc" stroke-width="2.75" stroke-linejoin="miter"/>
<path d="M204 1312.24V1322.79M199.7 1322.79H208.3M204 1330.95V1326.63M199.7 1326.63H208.3" stroke="#1e66cc" stroke-width="1.8" fill="none"/>
<rect x="202.7" y="1323.71" width="2.6" height="2" fill="#1e66cc"/>
<polygon points="218.45,1312.24 229.25,1330.95 207.65,1330.95" fill="#fff" stroke="#1e66cc" stroke-width="2.75" stroke-linejoin="miter"/>
<path d="M218.45 1312.24V1323.05M214.15 1323.05H222.75M218.45 1330.95V1326.37M214.15 1326.37H222.75" stroke="#1e66cc" stroke-width="1.8" fill="none"/>
<rect x="217.15" y="1323.71" width="2.6" height="2" fill="#1e66cc"/>
<polygon points="232.9,1312.24 243.7,1330.95 222.1,1330.95" fill="#fff" stroke="#1e66cc" stroke-width="2.75" stroke-linejoin="miter"/>
<path d="M232.9 1312.24V1322.3M228.6 1322.3H237.2M232.9 1330.95V1327.12M228.6 1327.12H237.2" stroke="#1e66cc" stroke-width="1.8" fill="none"/>
<rect x="231.6" y="1323.71" width="2.6" height="2" fill="#1e66cc"/>
<polygon points="247.35,1312.24 258.15,1330.95 236.55,1330.95" fill="#fff" stroke="#1e66cc" stroke-width="2.75" stroke-linejoin="miter"/>
<path d="M247.35 1312.24V1323.55M243.05 1323.55H251.65M247.35 1330.95V1325.87M243.05 1325.87H251.65" stroke="#1e66cc" stroke-width="1.8" fill="none"/>
<rect x="246.05" y="1323.71" width="2.6" height="2" fill="#1e66cc"/>
<polygon points="261.8,1312.24 272.6,1330.95 251,1330.95" fill="#fff" stroke="#1e66cc" stroke-width="2.75" stroke-linejoin="miter"/>
<path d="M261.8 1312.24V1322.61M257.5 1322.61H266.1M261.8 1330.95V1326.81M257.5 1326.81H266.1" stroke="#1e66cc" stroke-width="1.8" fill="none"/>
<rect x="260.5" y="1323.71" width="2.6" height="2" fill="#1e66cc"/>
<polygon points="276.25,1312.24 287.05,1330.95 265.45,1330.95" fill="#fff" stroke="#1e66cc" stroke-width="2.75" stroke-linejoin="miter"/>
<path d="M276.25 1312.24V1323.57M271.95 1323.57H280.55M276.25 1330.95V1325.85M271.95 1325.85H280.55" stroke="#1e66cc" stroke-width="1.8" fill="none"/>
<rect x="274.95" y="1323.71" width="2.6" height="2" fill="#1e66cc"/>
<polygon points="290.7,1312.24 301.5,1330.95 279.9,1330.95" fill="#fff" stroke="#1e66cc" stroke-width="2.75" stroke-linejoin="miter"/>
<path d="M290.7 1312.24V1322.99M286.4 1322.99H295M290.7 1330.95V1326.43M286.4 1326.43H295" stroke="#1e66cc" stroke-width="1.8" fill="none"/>
<rect x="289.4" y="1323.71" width="2.6" height="2" fill="#1e66cc"/>
<polygon points="305.15,1273.15 315.95,1291.86 294.35,1291.86" fill="#fff" stroke="#1e66cc" stroke-width="2.75" stroke-linejoin="miter"/>
<path d="M305.15 1273.15V1280.74M300.85 1280.74H309.45M305.15 1291.86V1290.51M300.85 1290.51H309.45" stroke="#1e66cc" stroke-width="1.8" fill="none"/>
<rect x="303.85" y="1284.62" width="2.6" height="2" fill="#1e66cc"/>
<polygon points="319.6,1306.66 330.4,1325.36 308.8,1325.36" fill="#fff" stroke="#1e66cc" stroke-width="2.75" stroke-linejoin="miter"/>
<path d="M319.6 1306.66V1317.62M315.3 1317.62H323.9M319.6 1325.36V1320.64M315.3 1320.64H323.9" stroke="#1e66cc" stroke-width="1.8" fill="none"/>
<rect x="318.3" y="1318.13" width="2.6" height="2" fill="#1e66cc"/>
<polygon points="334.05,1306.66 344.85,1325.36 323.25,1325.36" fill="#fff" stroke="#1e66cc" stroke-width="2.75" stroke-linejoin="miter"/>
<path d="M334.05 1306.66V1317.27M329.75 1317.27H338.35M334.05 1325.36V1320.99M329.75 1320.99H338.35" stroke="#1e66cc" stroke-width="1.8" fill="none"/>
<rect x="332.75" y="1318.13" width="2.6" height="2" fill="#1e66cc"/>
<polygon points="348.5,1306.66 359.3,1325.36 337.7,1325.36" fill="#fff" stroke="#1e66cc" stroke-width="2.75" stroke-linejoin="miter"/>
<path d="M348.5 1306.66V1317.8M344.2 1317.8H352.8M348.5 1325.36V1320.45M344.2 1320.45H352.8" stroke="#1e66cc" stroke-width="1.8" fill="none"/>
<rect x="347.2" y="1318.13" width="2.6" height="2" fill="#1e66cc"/>
<polygon points="362.95,1311.54 373.75,1330.25 352.15,1330.25" fill="#fff" stroke="#1e66cc" stroke-width="2.75" stroke-linejoin="miter"/>
<path d="M362.95 1311.54V1322.84M358.65 1322.84H367.25M362.95 1330.25V1325.18M358.65 1325.18H367.25" stroke="#1e66cc" stroke-width="1.8" fill="none"/>
<rect x="361.65" y="1323.01" width="2.6" height="2" fill="#1e66cc"/>
<polygon points="377.4,1315.73 388.2,1334.44 366.6,1334.44" fill="#fff" stroke="#1e66cc" stroke-width="2.75" stroke-linejoin="miter"/>
<path d="M377.4 1315.73V1327.12M373.1 1327.12H381.7M377.4 1334.44V1329.28M373.1 1329.28H381.7" stroke="#1e66cc" stroke-width="1.8" fill="none"/>
<rect x="376.1" y="1327.2" width="2.6" height="2" fill="#1e66cc"/>
<polygon points="391.85,1315.03 402.65,1333.74 381.05,1333.74" fill="#fff" stroke="#1e66cc" stroke-width="2.75" stroke-linejoin="miter"/>
<path d="M391.85 1315.03V1325.72M387.55 1325.72H396.15M391.85 1333.74V1329.28M387.55 1329.28H396.15" stroke="#1e66cc" stroke-width="1.8" fill="none"/>
<rect x="390.55" y="1326.5" width="2.6" height="2" fill="#1e66cc"/>
<polygon points="406.3,1315.73 417.1,1334.44 395.5,1334.44" fill="#fff" stroke="#1e66cc" stroke-width="2.75" stroke-linejoin="miter"/>
<path d="M406.3 1315.73V1327.03M402 1327.03H410.6M406.3 1334.44V1329.37M402 1329.37H410.6" stroke="#1e66cc" stroke-width="1.8" fill="none"/>
<rect x="405" y="1327.2" width="2.6" height="2" fill="#1e66cc"/>
<polygon points="420.75,1315.38 431.55,1334.09 409.95,1334.09" fill="#fff" stroke="#1e66cc" stroke-width="2.75" stroke-linejoin="miter"/>
<path d="M420.75 1315.38V1326.15M416.45 1326.15H425.05M420.75 1334.09V1329.55M416.45 1329.55H425.05" stroke="#1e66cc" stroke-width="1.8" fill="none"/>
<rect x="419.45" y="1326.85" width="2.6" height="2" fill="#1e66cc"/>
<polygon points="435.2,1315.03 446,1333.74 424.4,1333.74" fill="#fff" stroke="#1e66cc" stroke-width="2.75" stroke-linejoin="miter"/>
<path d="M435.2 1315.03V1325.7M430.9 1325.7H439.5M435.2 1333.74V1329.3M430.9 1329.3H439.5" stroke="#1e66cc" stroke-width="1.8" fill="none"/>
<rect x="433.9" y="1326.5" width="2.6" height="2" fill="#1e66cc"/>
<polygon points="449.65,1308.05 460.45,1326.76 438.85,1326.76" fill="#fff" stroke="#1e66cc" stroke-width="2.75" stroke-linejoin="miter"/>
<path d="M449.65 1308.05V1318.1M445.35 1318.1H453.95M449.65 1326.76V1322.94M445.35 1322.94H453.95" stroke="#1e66cc" stroke-width="1.8" fill="none"/>
<rect x="448.35" y="1319.52" width="2.6" height="2" fill="#1e66cc"/>
<polygon points="464.1,1315.73 474.9,1334.44 453.3,1334.44" fill="#fff" stroke="#1e66cc" stroke-width="2.75" stroke-linejoin="miter"/>
<path d="M464.1 1315.73V1326.42M459.8 1326.42H468.4M464.1 1334.44V1329.98M459.8 1329.98H468.4" stroke="#1e66cc" stroke-width="1.8" fill="none"/>
<rect x="462.8" y="1327.2" width="2.6" height="2" fill="#1e66cc"/>
<polygon points="478.55,1315.73 489.35,1334.44 467.75,1334.44" fill="#fff" stroke="#1e66cc" stroke-width="2.75" stroke-linejoin="miter"/>
<path d="M478.55 1315.73V1326.74M474.25 1326.74H482.85M478.55 1334.44V1329.66M474.25 1329.66H482.85" stroke="#1e66cc" stroke-width="1.8" fill="none"/>
<rect x="477.25" y="1327.2" width="2.6" height="2" fill="#1e66cc"/>
<polygon points="493,1315.38 503.8,1334.09 482.2,1334.09" fill="#fff" stroke="#1e66cc" stroke-width="2.75" stroke-linejoin="miter"/>
<path d="M493 1315.38V1326.62M488.7 1326.62H497.3M493 1334.09V1329.08M488.7 1329.08H497.3" stroke="#1e66cc" stroke-width="1.8" fill="none"/>
<rect x="491.7" y="1326.85" width="2.6" height="2" fill="#1e66cc"/>
<polygon points="507.45,1315.38 518.25,1334.09 496.65,1334.09" fill="#fff" stroke="#1e66cc" stroke-width="2.75" stroke-linejoin="miter"/>
<path d="M507.45 1315.38V1325.94M503.15 1325.94H511.75M507.45 1334.09V1329.76M503.15 1329.76H511.75" stroke="#1e66cc" stroke-width="1.8" fill="none"/>
<rect x="506.15" y="1326.85" width="2.6" height="2" fill="#1e66cc"/>
<polygon points="521.9,1315.38 532.7,1334.09 511.1,1334.09" fill="#fff" stroke="#1e66cc" stroke-width="2.75" stroke-linejoin="miter"/>
<path d="M521.9 1315.38V1325.73M517.6 1325.73H526.2M521.9 1334.09V1329.97M517.6 1329.97H526.2" stroke="#1e66cc" stroke-width="1.8" fill="none"/>
<rect x="520.6" y="1326.85" width="2.6" height="2" fill="#1e66cc"/>
<polygon points="536.35,1315.38 547.15,1334.09 525.55,1334.09" fill="#fff" stroke="#1e66cc" stroke-width="2.75" stroke-linejoin="miter"/>
<path d="M536.35 1315.38V1325.61M532.05 1325.61H540.65M536.35 1334.09V1330.1M532.05 1330.1H540.65" stroke="#1e66cc" stroke-width="1.8" fill="none"/>
<rect x="535.05" y="1326.85" width="2.6" height="2" fill="#1e66cc"/>
<polygon points="550.8,1315.38 561.6,1334.09 540,1334.09" fill="#fff" stroke="#1e66cc" stroke-width="2.75" stroke-linejoin="miter"/>
<path d="M550.8 1315.38V1326.52M546.5 1326.52H555.1M550.8 1334.09V1329.18M546.5 1329.18H555.1" stroke="#1e66cc" stroke-width="1.8" fill="none"/>
<rect x="549.5" y="1326.85" width="2.6" height="2" fill="#1e66cc"/>
<polygon points="565.25,1315.38 576.05,1334.09 554.45,1334.09" fill="#fff" stroke="#1e66cc" stroke-width="2.75" stroke-linejoin="miter"/>
<path d="M565.25 1315.38V1326.2M560.95 1326.2H569.55M565.25 1334.09V1329.5M560.95 1329.5H569.55" stroke="#1e66cc" stroke-width="1.8" fill="none"/>
<rect x="563.95" y="1326.85" width="2.6" height="2" fill="#1e66cc"/>
<polygon points="579.7,1315.38 590.5,1334.09 568.9,1334.09" fill="#fff" stroke="#1e66cc" stroke-width="2.75" stroke-linejoin="miter"/>
<path d="M579.7 1315.38V1326.53M575.4 1326.53H584M579.7 1334.09V1329.17M575.4 1329.17H584" stroke="#1e66cc" stroke-width="1.8" fill="none"/>
<rect x="578.4" y="1326.85" width="2.6" height="2" fill="#1e66cc"/>
<path d="M146.2 1000.84L160.65 1325.76L175.1 1325.76L189.55 1310.75L204 1321.92L218.45 1321.92L232.9 1323.31L247.35 1324.71L261.8 1324.71L276.25 1325.41L290.7 1325.41L305.15 1325.41L319.6 1325.41L334.05 1325.76L348.5 1325.76L362.95 1326.46L377.4 1326.8L391.85 1326.8L406.3 1326.8L420.75 1326.8L435.2 1326.8L449.65 1326.8L464.1 1326.8L478.55 1326.8L493 1326.8L507.45 1326.8L521.9 1326.8L536.35 1326.8L550.8 1326.8L565.25 1326.8L579.7 1326.8" fill="none" stroke="#3ea66c" stroke-width="2.5" stroke-linejoin="round"/>
<polygon points="146.2,1013.31 157,994.6 135.4,994.6" fill="#fff" stroke="#3ea66c" stroke-width="2.75" stroke-linejoin="miter"/>
<path d="M146.2 994.6V993.86M141.9 993.86H150.5M146.2 1013.31V1007.82M141.9 1007.82H150.5" stroke="#3ea66c" stroke-width="1.8" fill="none"/>
<rect x="144.9" y="999.84" width="2.6" height="2" fill="#3ea66c"/>
<polygon points="160.65,1338.23 171.45,1319.52 149.85,1319.52" fill="#fff" stroke="#3ea66c" stroke-width="2.75" stroke-linejoin="miter"/>
<path d="M160.65 1319.52V1323.4M156.35 1323.4H164.95M160.65 1338.23V1328.11M156.35 1328.11H164.95" stroke="#3ea66c" stroke-width="1.8" fill="none"/>
<rect x="159.35" y="1324.76" width="2.6" height="2" fill="#3ea66c"/>
<polygon points="175.1,1338.23 185.9,1319.52 164.3,1319.52" fill="#fff" stroke="#3ea66c" stroke-width="2.75" stroke-linejoin="miter"/>
<path d="M175.1 1319.52V1323.43M170.8 1323.43H179.4M175.1 1338.23V1328.08M170.8 1328.08H179.4" stroke="#3ea66c" stroke-width="1.8" fill="none"/>
<rect x="173.8" y="1324.76" width="2.6" height="2" fill="#3ea66c"/>
<polygon points="189.55,1323.22 200.35,1304.51 178.75,1304.51" fill="#fff" stroke="#3ea66c" stroke-width="2.75" stroke-linejoin="miter"/>
<path d="M189.55 1304.51V1309.41M185.25 1309.41H193.85M189.55 1323.22V1312.09M185.25 1312.09H193.85" stroke="#3ea66c" stroke-width="1.8" fill="none"/>
<rect x="188.25" y="1309.75" width="2.6" height="2" fill="#3ea66c"/>
<polygon points="204,1334.39 214.8,1315.68 193.2,1315.68" fill="#fff" stroke="#3ea66c" stroke-width="2.75" stroke-linejoin="miter"/>
<path d="M204 1315.68V1320.82M199.7 1320.82H208.3M204 1334.39V1323.02M199.7 1323.02H208.3" stroke="#3ea66c" stroke-width="1.8" fill="none"/>
<rect x="202.7" y="1320.92" width="2.6" height="2" fill="#3ea66c"/>
<polygon points="218.45,1334.39 229.25,1315.68 207.65,1315.68" fill="#fff" stroke="#3ea66c" stroke-width="2.75" stroke-linejoin="miter"/>
<path d="M218.45 1315.68V1320.33M214.15 1320.33H222.75M218.45 1334.39V1323.5M214.15 1323.5H222.75" stroke="#3ea66c" stroke-width="1.8" fill="none"/>
<rect x="217.15" y="1320.92" width="2.6" height="2" fill="#3ea66c"/>
<polygon points="232.9,1335.78 243.7,1317.08 222.1,1317.08" fill="#fff" stroke="#3ea66c" stroke-width="2.75" stroke-linejoin="miter"/>
<path d="M232.9 1317.08V1321.1M228.6 1321.1H237.2M232.9 1335.78V1325.52M228.6 1325.52H237.2" stroke="#3ea66c" stroke-width="1.8" fill="none"/>
<rect x="231.6" y="1322.31" width="2.6" height="2" fill="#3ea66c"/>
<polygon points="247.35,1337.18 258.15,1318.47 236.55,1318.47" fill="#fff" stroke="#3ea66c" stroke-width="2.75" stroke-linejoin="miter"/>
<path d="M247.35 1318.47V1323.1M243.05 1323.1H251.65M247.35 1337.18V1326.32M243.05 1326.32H251.65" stroke="#3ea66c" stroke-width="1.8" fill="none"/>
<rect x="246.05" y="1323.71" width="2.6" height="2" fill="#3ea66c"/>
<polygon points="261.8,1337.18 272.6,1318.47 251,1318.47" fill="#fff" stroke="#3ea66c" stroke-width="2.75" stroke-linejoin="miter"/>
<path d="M261.8 1318.47V1323.42M257.5 1323.42H266.1M261.8 1337.18V1326M257.5 1326H266.1" stroke="#3ea66c" stroke-width="1.8" fill="none"/>
<rect x="260.5" y="1323.71" width="2.6" height="2" fill="#3ea66c"/>
<polygon points="276.25,1337.88 287.05,1319.17 265.45,1319.17" fill="#fff" stroke="#3ea66c" stroke-width="2.75" stroke-linejoin="miter"/>
<path d="M276.25 1319.17V1323.99M271.95 1323.99H280.55M276.25 1337.88V1326.82M271.95 1326.82H280.55" stroke="#3ea66c" stroke-width="1.8" fill="none"/>
<rect x="274.95" y="1324.41" width="2.6" height="2" fill="#3ea66c"/>
<polygon points="290.7,1337.88 301.5,1319.17 279.9,1319.17" fill="#fff" stroke="#3ea66c" stroke-width="2.75" stroke-linejoin="miter"/>
<path d="M290.7 1319.17V1323.89M286.4 1323.89H295M290.7 1337.88V1326.93M286.4 1326.93H295" stroke="#3ea66c" stroke-width="1.8" fill="none"/>
<rect x="289.4" y="1324.41" width="2.6" height="2" fill="#3ea66c"/>
<polygon points="305.15,1337.88 315.95,1319.17 294.35,1319.17" fill="#fff" stroke="#3ea66c" stroke-width="2.75" stroke-linejoin="miter"/>
<path d="M305.15 1319.17V1324.05M300.85 1324.05H309.45M305.15 1337.88V1326.76M300.85 1326.76H309.45" stroke="#3ea66c" stroke-width="1.8" fill="none"/>
<rect x="303.85" y="1324.41" width="2.6" height="2" fill="#3ea66c"/>
<polygon points="319.6,1337.88 330.4,1319.17 308.8,1319.17" fill="#fff" stroke="#3ea66c" stroke-width="2.75" stroke-linejoin="miter"/>
<path d="M319.6 1319.17V1323.57M315.3 1323.57H323.9M319.6 1337.88V1327.24M315.3 1327.24H323.9" stroke="#3ea66c" stroke-width="1.8" fill="none"/>
<rect x="318.3" y="1324.41" width="2.6" height="2" fill="#3ea66c"/>
<polygon points="334.05,1338.23 344.85,1319.52 323.25,1319.52" fill="#fff" stroke="#3ea66c" stroke-width="2.75" stroke-linejoin="miter"/>
<path d="M334.05 1319.52V1323.73M329.75 1323.73H338.35M334.05 1338.23V1327.78M329.75 1327.78H338.35" stroke="#3ea66c" stroke-width="1.8" fill="none"/>
<rect x="332.75" y="1324.76" width="2.6" height="2" fill="#3ea66c"/>
<polygon points="348.5,1338.23 359.3,1319.52 337.7,1319.52" fill="#fff" stroke="#3ea66c" stroke-width="2.75" stroke-linejoin="miter"/>
<path d="M348.5 1319.52V1323.77M344.2 1323.77H352.8M348.5 1338.23V1327.74M344.2 1327.74H352.8" stroke="#3ea66c" stroke-width="1.8" fill="none"/>
<rect x="347.2" y="1324.76" width="2.6" height="2" fill="#3ea66c"/>
<polygon points="362.95,1338.93 373.75,1320.22 352.15,1320.22" fill="#fff" stroke="#3ea66c" stroke-width="2.75" stroke-linejoin="miter"/>
<path d="M362.95 1320.22V1325.16M358.65 1325.16H367.25M362.95 1338.93V1327.75M358.65 1327.75H367.25" stroke="#3ea66c" stroke-width="1.8" fill="none"/>
<rect x="361.65" y="1325.46" width="2.6" height="2" fill="#3ea66c"/>
<polygon points="377.4,1339.27 388.2,1320.57 366.6,1320.57" fill="#fff" stroke="#3ea66c" stroke-width="2.75" stroke-linejoin="miter"/>
<path d="M377.4 1320.57V1325.21M373.1 1325.21H381.7M377.4 1339.27V1328.4M373.1 1328.4H381.7" stroke="#3ea66c" stroke-width="1.8" fill="none"/>
<rect x="376.1" y="1325.8" width="2.6" height="2" fill="#3ea66c"/>
<polygon points="391.85,1339.27 402.65,1320.57 381.05,1320.57" fill="#fff" stroke="#3ea66c" stroke-width="2.75" stroke-linejoin="miter"/>
<path d="M391.85 1320.57V1324.92M387.55 1324.92H396.15M391.85 1339.27V1328.69M387.55 1328.69H396.15" stroke="#3ea66c" stroke-width="1.8" fill="none"/>
<rect x="390.55" y="1325.8" width="2.6" height="2" fill="#3ea66c"/>
<polygon points="406.3,1339.27 417.1,1320.57 395.5,1320.57" fill="#fff" stroke="#3ea66c" stroke-width="2.75" stroke-linejoin="miter"/>
<path d="M406.3 1320.57V1325.14M402 1325.14H410.6M406.3 1339.27V1328.47M402 1328.47H410.6" stroke="#3ea66c" stroke-width="1.8" fill="none"/>
<rect x="405" y="1325.8" width="2.6" height="2" fill="#3ea66c"/>
<polygon points="420.75,1339.27 431.55,1320.57 409.95,1320.57" fill="#fff" stroke="#3ea66c" stroke-width="2.75" stroke-linejoin="miter"/>
<path d="M420.75 1320.57V1324.66M416.45 1324.66H425.05M420.75 1339.27V1328.95M416.45 1328.95H425.05" stroke="#3ea66c" stroke-width="1.8" fill="none"/>
<rect x="419.45" y="1325.8" width="2.6" height="2" fill="#3ea66c"/>
<polygon points="435.2,1339.27 446,1320.57 424.4,1320.57" fill="#fff" stroke="#3ea66c" stroke-width="2.75" stroke-linejoin="miter"/>
<path d="M435.2 1320.57V1325.07M430.9 1325.07H439.5M435.2 1339.27V1328.54M430.9 1328.54H439.5" stroke="#3ea66c" stroke-width="1.8" fill="none"/>
<rect x="433.9" y="1325.8" width="2.6" height="2" fill="#3ea66c"/>
<polygon points="449.65,1339.27 460.45,1320.57 438.85,1320.57" fill="#fff" stroke="#3ea66c" stroke-width="2.75" stroke-linejoin="miter"/>
<path d="M449.65 1320.57V1325.38M445.35 1325.38H453.95M449.65 1339.27V1328.23M445.35 1328.23H453.95" stroke="#3ea66c" stroke-width="1.8" fill="none"/>
<rect x="448.35" y="1325.8" width="2.6" height="2" fill="#3ea66c"/>
<polygon points="464.1,1339.27 474.9,1320.57 453.3,1320.57" fill="#fff" stroke="#3ea66c" stroke-width="2.75" stroke-linejoin="miter"/>
<path d="M464.1 1320.57V1324.8M459.8 1324.8H468.4M464.1 1339.27V1328.81M459.8 1328.81H468.4" stroke="#3ea66c" stroke-width="1.8" fill="none"/>
<rect x="462.8" y="1325.8" width="2.6" height="2" fill="#3ea66c"/>
<polygon points="478.55,1339.27 489.35,1320.57 467.75,1320.57" fill="#fff" stroke="#3ea66c" stroke-width="2.75" stroke-linejoin="miter"/>
<path d="M478.55 1320.57V1324.62M474.25 1324.62H482.85M478.55 1339.27V1328.99M474.25 1328.99H482.85" stroke="#3ea66c" stroke-width="1.8" fill="none"/>
<rect x="477.25" y="1325.8" width="2.6" height="2" fill="#3ea66c"/>
<polygon points="493,1339.27 503.8,1320.57 482.2,1320.57" fill="#fff" stroke="#3ea66c" stroke-width="2.75" stroke-linejoin="miter"/>
<path d="M493 1320.57V1325.27M488.7 1325.27H497.3M493 1339.27V1328.33M488.7 1328.33H497.3" stroke="#3ea66c" stroke-width="1.8" fill="none"/>
<rect x="491.7" y="1325.8" width="2.6" height="2" fill="#3ea66c"/>
<polygon points="507.45,1339.27 518.25,1320.57 496.65,1320.57" fill="#fff" stroke="#3ea66c" stroke-width="2.75" stroke-linejoin="miter"/>
<path d="M507.45 1320.57V1325.08M503.15 1325.08H511.75M507.45 1339.27V1328.53M503.15 1328.53H511.75" stroke="#3ea66c" stroke-width="1.8" fill="none"/>
<rect x="506.15" y="1325.8" width="2.6" height="2" fill="#3ea66c"/>
<polygon points="521.9,1339.27 532.7,1320.57 511.1,1320.57" fill="#fff" stroke="#3ea66c" stroke-width="2.75" stroke-linejoin="miter"/>
<path d="M521.9 1320.57V1324.76M517.6 1324.76H526.2M521.9 1339.27V1328.85M517.6 1328.85H526.2" stroke="#3ea66c" stroke-width="1.8" fill="none"/>
<rect x="520.6" y="1325.8" width="2.6" height="2" fill="#3ea66c"/>
<polygon points="536.35,1339.27 547.15,1320.57 525.55,1320.57" fill="#fff" stroke="#3ea66c" stroke-width="2.75" stroke-linejoin="miter"/>
<path d="M536.35 1320.57V1324.73M532.05 1324.73H540.65M536.35 1339.27V1328.87M532.05 1328.87H540.65" stroke="#3ea66c" stroke-width="1.8" fill="none"/>
<rect x="535.05" y="1325.8" width="2.6" height="2" fill="#3ea66c"/>
<polygon points="550.8,1339.27 561.6,1320.57 540,1320.57" fill="#fff" stroke="#3ea66c" stroke-width="2.75" stroke-linejoin="miter"/>
<path d="M550.8 1320.57V1325.61M546.5 1325.61H555.1M550.8 1339.27V1328M546.5 1328H555.1" stroke="#3ea66c" stroke-width="1.8" fill="none"/>
<rect x="549.5" y="1325.8" width="2.6" height="2" fill="#3ea66c"/>
<polygon points="565.25,1339.27 576.05,1320.57 554.45,1320.57" fill="#fff" stroke="#3ea66c" stroke-width="2.75" stroke-linejoin="miter"/>
<path d="M565.25 1320.57V1324.57M560.95 1324.57H569.55M565.25 1339.27V1329.04M560.95 1329.04H569.55" stroke="#3ea66c" stroke-width="1.8" fill="none"/>
<rect x="563.95" y="1325.8" width="2.6" height="2" fill="#3ea66c"/>
<polygon points="579.7,1339.27 590.5,1320.57 568.9,1320.57" fill="#fff" stroke="#3ea66c" stroke-width="2.75" stroke-linejoin="miter"/>
<path d="M579.7 1320.57V1325M575.4 1325H584M579.7 1339.27V1328.6M575.4 1328.6H584" stroke="#3ea66c" stroke-width="1.8" fill="none"/>
<rect x="578.4" y="1325.8" width="2.6" height="2" fill="#3ea66c"/>
</g>
<rect x="146.2" y="979.2" width="441.2" height="349" fill="none" stroke="#000" stroke-width="3.0"/>
<path d="M144.7 1328.2h-5.9M144.7 1258.4h-5.9M144.7 1188.6h-5.9M144.7 1118.8h-5.9M144.7 1049h-5.9M144.7 979.2h-5.9M146.2 1329.7v4.9M218.45 1329.7v4.9M290.7 1329.7v4.9M362.95 1329.7v4.9M435.2 1329.7v4.9M507.45 1329.7v4.9M579.7 1329.7v4.9" stroke="#000" stroke-width="3" fill="none"/>
<path d="M144.7 1293.3h-2.3M144.7 1223.5h-2.3M144.7 1153.7h-2.3M144.7 1083.9h-2.3M144.7 1014.1h-2.3M182.32 1329.7v2.1M254.57 1329.7v2.1M326.82 1329.7v2.1M399.07 1329.7v2.1M471.32 1329.7v2.1M543.58 1329.7v2.1" stroke="#000" stroke-width="2.6" fill="none"/>
<text x="134.6" y="1334.1" text-anchor="end" font-size="19">0</text>
<text x="134.6" y="1264.3" text-anchor="end" font-size="19">100</text>
<text x="134.6" y="1194.5" text-anchor="end" font-size="19">200</text>
<text x="134.6" y="1124.7" text-anchor="end" font-size="19">300</text>
<text x="134.6" y="1054.9" text-anchor="end" font-size="19">400</text>
<text x="134.6" y="985.1" text-anchor="end" font-size="19">500</text>
<text x="166" y="1003.3" font-size="19" font-weight="bold">(e)</text>
<text transform="translate(80.3,1141.7) rotate(-90)" text-anchor="middle" font-size="20.2" font-weight="bold">N<tspan font-size="13.4" dy="5.6">2</tspan><tspan dy="-5.6">&#8203;</tspan>O Emission (&#956;g / kg DM / d)</text>
<clipPath id="clipf"><rect x="707.6" y="979.2" width="441.9" height="349"/></clipPath>
<g clip-path="url(#clipf)">
<path d="M707.6 1293.85L722.07 1291.12L736.54 1291.12L751.01 1284.03L765.48 1283.48L779.95 1281.85L794.42 1279.12L808.89 1277.49L823.36 1277.49L837.83 1277.49L852.3 1277.49L866.77 1277.49L881.24 1277.49L895.71 1275.85L910.18 1275.85L924.65 1275.03L939.12 1274.76L953.59 1273.67L968.06 1273.4L982.53 1273.12L997 1273.12L1011.47 1273.12L1025.94 1269.85L1040.41 1269.58L1054.88 1269.31L1069.35 1269.31L1083.82 1269.31L1098.29 1269.31L1112.76 1269.31L1127.23 1269.31L1141.7 1269.31" fill="none" stroke="#4a4a4a" stroke-width="2.5" stroke-linejoin="round"/>
<rect x="699.45" y="1285.7" width="16.3" height="16.3" fill="#fff" stroke="#4a4a4a" stroke-width="2.75"/>
<path d="M707.6 1285.7V1292.28M703.3 1292.28H711.9M707.6 1302V1295.41M703.3 1295.41H711.9" stroke="#4a4a4a" stroke-width="1.8" fill="none"/>
<rect x="706.3" y="1292.85" width="2.6" height="2" fill="#4a4a4a"/>
<rect x="713.92" y="1282.97" width="16.3" height="16.3" fill="#fff" stroke="#4a4a4a" stroke-width="2.75"/>
<path d="M722.07 1282.97V1289.37M717.77 1289.37H726.37M722.07 1299.27V1292.86M717.77 1292.86H726.37" stroke="#4a4a4a" stroke-width="1.8" fill="none"/>
<rect x="720.77" y="1290.12" width="2.6" height="2" fill="#4a4a4a"/>
<rect x="728.39" y="1282.97" width="16.3" height="16.3" fill="#fff" stroke="#4a4a4a" stroke-width="2.75"/>

<rect x="735.24" y="1290.12" width="2.6" height="2" fill="#4a4a4a"/>
<rect x="742.86" y="1275.88" width="16.3" height="16.3" fill="#fff" stroke="#4a4a4a" stroke-width="2.75"/>

<rect x="749.71" y="1283.03" width="2.6" height="2" fill="#4a4a4a"/>
<rect x="757.33" y="1275.33" width="16.3" height="16.3" fill="#fff" stroke="#4a4a4a" stroke-width="2.75"/>

<rect x="764.18" y="1282.48" width="2.6" height="2" fill="#4a4a4a"/>
<rect x="771.8" y="1273.7" width="16.3" height="16.3" fill="#fff" stroke="#4a4a4a" stroke-width="2.75"/>
<path d="M779.95 1273.7V1279.7M775.65 1279.7H784.25M779.95 1290V1284M775.65 1284H784.25" stroke="#4a4a4a" stroke-width="1.8" fill="none"/>
<rect x="778.65" y="1280.85" width="2.6" height="2" fill="#4a4a4a"/>
<rect x="786.27" y="1270.97" width="16.3" height="16.3" fill="#fff" stroke="#4a4a4a" stroke-width="2.75"/>
<path d="M794.42 1270.97V1277.43M790.12 1277.43H798.72M794.42 1287.27V1280.81M790.12 1280.81H798.72" stroke="#4a4a4a" stroke-width="1.8" fill="none"/>
<rect x="793.12" y="1278.12" width="2.6" height="2" fill="#4a4a4a"/>
<rect x="800.74" y="1269.34" width="16.3" height="16.3" fill="#fff" stroke="#4a4a4a" stroke-width="2.75"/>
<path d="M808.89 1269.34V1275.41M804.59 1275.41H813.19M808.89 1285.64V1279.56M804.59 1279.56H813.19" stroke="#4a4a4a" stroke-width="1.8" fill="none"/>
<rect x="807.59" y="1276.49" width="2.6" height="2" fill="#4a4a4a"/>
<rect x="815.21" y="1269.34" width="16.3" height="16.3" fill="#fff" stroke="#4a4a4a" stroke-width="2.75"/>

<rect x="822.06" y="1276.49" width="2.6" height="2" fill="#4a4a4a"/>
<rect x="829.68" y="1269.34" width="16.3" height="16.3" fill="#fff" stroke="#4a4a4a" stroke-width="2.75"/>

<rect x="836.53" y="1276.49" width="2.6" height="2" fill="#4a4a4a"/>
<rect x="844.15" y="1269.34" width="16.3" height="16.3" fill="#fff" stroke="#4a4a4a" stroke-width="2.75"/>

<rect x="851" y="1276.49" width="2.6" height="2" fill="#4a4a4a"/>
<rect x="858.62" y="1269.34" width="16.3" height="16.3" fill="#fff" stroke="#4a4a4a" stroke-width="2.75"/>

<rect x="865.47" y="1276.49" width="2.6" height="2" fill="#4a4a4a"/>
<rect x="873.09" y="1269.34" width="16.3" height="16.3" fill="#fff" stroke="#4a4a4a" stroke-width="2.75"/>

<rect x="879.94" y="1276.49" width="2.6" height="2" fill="#4a4a4a"/>
<rect x="887.56" y="1267.7" width="16.3" height="16.3" fill="#fff" stroke="#4a4a4a" stroke-width="2.75"/>
<path d="M895.71 1267.7V1274.13M891.41 1274.13H900.01M895.71 1284V1277.57M891.41 1277.57H900.01" stroke="#4a4a4a" stroke-width="1.8" fill="none"/>
<rect x="894.41" y="1274.85" width="2.6" height="2" fill="#4a4a4a"/>
<rect x="902.03" y="1267.7" width="16.3" height="16.3" fill="#fff" stroke="#4a4a4a" stroke-width="2.75"/>
<path d="M910.18 1267.7V1274.72M905.88 1274.72H914.48M910.18 1284V1276.98M905.88 1276.98H914.48" stroke="#4a4a4a" stroke-width="1.8" fill="none"/>
<rect x="908.88" y="1274.85" width="2.6" height="2" fill="#4a4a4a"/>
<rect x="916.5" y="1266.88" width="16.3" height="16.3" fill="#fff" stroke="#4a4a4a" stroke-width="2.75"/>
<path d="M924.65 1266.88V1273.63M920.35 1273.63H928.95M924.65 1283.18V1276.43M920.35 1276.43H928.95" stroke="#4a4a4a" stroke-width="1.8" fill="none"/>
<rect x="923.35" y="1274.03" width="2.6" height="2" fill="#4a4a4a"/>
<rect x="930.97" y="1266.61" width="16.3" height="16.3" fill="#fff" stroke="#4a4a4a" stroke-width="2.75"/>
<path d="M939.12 1266.61V1273.55M934.82 1273.55H943.42M939.12 1282.91V1275.97M934.82 1275.97H943.42" stroke="#4a4a4a" stroke-width="1.8" fill="none"/>
<rect x="937.82" y="1273.76" width="2.6" height="2" fill="#4a4a4a"/>
<rect x="945.44" y="1265.52" width="16.3" height="16.3" fill="#fff" stroke="#4a4a4a" stroke-width="2.75"/>
<path d="M953.59 1265.52V1272.43M949.29 1272.43H957.89M953.59 1281.82V1274.91M949.29 1274.91H957.89" stroke="#4a4a4a" stroke-width="1.8" fill="none"/>
<rect x="952.29" y="1272.67" width="2.6" height="2" fill="#4a4a4a"/>
<rect x="959.91" y="1265.25" width="16.3" height="16.3" fill="#fff" stroke="#4a4a4a" stroke-width="2.75"/>

<rect x="966.76" y="1272.4" width="2.6" height="2" fill="#4a4a4a"/>
<rect x="974.38" y="1264.97" width="16.3" height="16.3" fill="#fff" stroke="#4a4a4a" stroke-width="2.75"/>

<rect x="981.23" y="1272.12" width="2.6" height="2" fill="#4a4a4a"/>
<rect x="988.85" y="1264.97" width="16.3" height="16.3" fill="#fff" stroke="#4a4a4a" stroke-width="2.75"/>

<rect x="995.7" y="1272.12" width="2.6" height="2" fill="#4a4a4a"/>
<rect x="1003.32" y="1264.97" width="16.3" height="16.3" fill="#fff" stroke="#4a4a4a" stroke-width="2.75"/>

<rect x="1010.17" y="1272.12" width="2.6" height="2" fill="#4a4a4a"/>
<rect x="1017.79" y="1261.7" width="16.3" height="16.3" fill="#fff" stroke="#4a4a4a" stroke-width="2.75"/>
<path d="M1025.94 1261.7V1268.65M1021.64 1268.65H1030.24M1025.94 1278V1271.05M1021.64 1271.05H1030.24" stroke="#4a4a4a" stroke-width="1.8" fill="none"/>
<rect x="1024.64" y="1268.85" width="2.6" height="2" fill="#4a4a4a"/>
<rect x="1032.26" y="1261.43" width="16.3" height="16.3" fill="#fff" stroke="#4a4a4a" stroke-width="2.75"/>

<rect x="1039.11" y="1268.58" width="2.6" height="2" fill="#4a4a4a"/>
<rect x="1046.73" y="1261.16" width="16.3" height="16.3" fill="#fff" stroke="#4a4a4a" stroke-width="2.75"/>

<rect x="1053.58" y="1268.31" width="2.6" height="2" fill="#4a4a4a"/>
<rect x="1061.2" y="1261.16" width="16.3" height="16.3" fill="#fff" stroke="#4a4a4a" stroke-width="2.75"/>

<rect x="1068.05" y="1268.31" width="2.6" height="2" fill="#4a4a4a"/>
<rect x="1075.67" y="1261.16" width="16.3" height="16.3" fill="#fff" stroke="#4a4a4a" stroke-width="2.75"/>

<rect x="1082.52" y="1268.31" width="2.6" height="2" fill="#4a4a4a"/>
<rect x="1090.14" y="1261.16" width="16.3" height="16.3" fill="#fff" stroke="#4a4a4a" stroke-width="2.75"/>

<rect x="1096.99" y="1268.31" width="2.6" height="2" fill="#4a4a4a"/>
<rect x="1104.61" y="1261.16" width="16.3" height="16.3" fill="#fff" stroke="#4a4a4a" stroke-width="2.75"/>
<path d="M1112.76 1261.16V1267.09M1108.46 1267.09H1117.06M1112.76 1277.46V1271.52M1108.46 1271.52H1117.06" stroke="#4a4a4a" stroke-width="1.8" fill="none"/>
<rect x="1111.46" y="1268.31" width="2.6" height="2" fill="#4a4a4a"/>
<rect x="1119.08" y="1261.16" width="16.3" height="16.3" fill="#fff" stroke="#4a4a4a" stroke-width="2.75"/>

<rect x="1125.93" y="1268.31" width="2.6" height="2" fill="#4a4a4a"/>
<rect x="1133.55" y="1261.16" width="16.3" height="16.3" fill="#fff" stroke="#4a4a4a" stroke-width="2.75"/>
<path d="M1141.7 1261.16V1267.7M1137.4 1267.7H1146M1141.7 1277.46V1270.91M1137.4 1270.91H1146" stroke="#4a4a4a" stroke-width="1.8" fill="none"/>
<rect x="1140.4" y="1268.31" width="2.6" height="2" fill="#4a4a4a"/>
<path d="M707.6 1240.4L722.07 1237.13L736.54 1234.41L751.01 1228.41L765.48 1224.59L779.95 1222.41L794.42 1220.23L808.89 1219.68L823.36 1218.59L837.83 1217.5L852.3 1216.41L866.77 1216.14L881.24 1215.87L895.71 1215.32L910.18 1215.05L924.65 1213.68L939.12 1212.59L953.59 1212.05L968.06 1211.78L982.53 1211.5L997 1210.96L1011.47 1207.69L1025.94 1205.5L1040.41 1204.96L1054.88 1204.96L1069.35 1204.96L1083.82 1204.69L1098.29 1204.69L1112.76 1204.41L1127.23 1204.41L1141.7 1204.41" fill="none" stroke="#d63c44" stroke-width="2.5" stroke-linejoin="round"/>
<circle cx="707.6" cy="1240.4" r="9.6" fill="#fff" stroke="#d63c44" stroke-width="2.75"/>
<path d="M707.6 1230.8V1239.08M703.3 1239.08H711.9M707.6 1250V1241.73M703.3 1241.73H711.9" stroke="#d63c44" stroke-width="1.8" fill="none"/>
<rect x="706.3" y="1239.4" width="2.6" height="2" fill="#d63c44"/>
<circle cx="722.07" cy="1237.13" r="9.6" fill="#fff" stroke="#d63c44" stroke-width="2.75"/>
<path d="M722.07 1227.53V1235.91M717.77 1235.91H726.37M722.07 1246.73V1238.36M717.77 1238.36H726.37" stroke="#d63c44" stroke-width="1.8" fill="none"/>
<rect x="720.77" y="1236.13" width="2.6" height="2" fill="#d63c44"/>
<circle cx="736.54" cy="1234.41" r="9.6" fill="#fff" stroke="#d63c44" stroke-width="2.75"/>
<path d="M736.54 1224.81V1232.76M732.24 1232.76H740.84M736.54 1244.01V1236.06M732.24 1236.06H740.84" stroke="#d63c44" stroke-width="1.8" fill="none"/>
<rect x="735.24" y="1233.41" width="2.6" height="2" fill="#d63c44"/>
<circle cx="751.01" cy="1228.41" r="9.6" fill="#fff" stroke="#d63c44" stroke-width="2.75"/>

<rect x="749.71" y="1227.41" width="2.6" height="2" fill="#d63c44"/>
<circle cx="765.48" cy="1224.59" r="9.6" fill="#fff" stroke="#d63c44" stroke-width="2.75"/>

<rect x="764.18" y="1223.59" width="2.6" height="2" fill="#d63c44"/>
<circle cx="779.95" cy="1222.41" r="9.6" fill="#fff" stroke="#d63c44" stroke-width="2.75"/>
<path d="M779.95 1212.81V1220.39M775.65 1220.39H784.25M779.95 1232.01V1224.43M775.65 1224.43H784.25" stroke="#d63c44" stroke-width="1.8" fill="none"/>
<rect x="778.65" y="1221.41" width="2.6" height="2" fill="#d63c44"/>
<circle cx="794.42" cy="1220.23" r="9.6" fill="#fff" stroke="#d63c44" stroke-width="2.75"/>
<path d="M794.42 1210.63V1218.06M790.12 1218.06H798.72M794.42 1229.83V1222.39M790.12 1222.39H798.72" stroke="#d63c44" stroke-width="1.8" fill="none"/>
<rect x="793.12" y="1219.23" width="2.6" height="2" fill="#d63c44"/>
<circle cx="808.89" cy="1219.68" r="9.6" fill="#fff" stroke="#d63c44" stroke-width="2.75"/>

<rect x="807.59" y="1218.68" width="2.6" height="2" fill="#d63c44"/>
<circle cx="823.36" cy="1218.59" r="9.6" fill="#fff" stroke="#d63c44" stroke-width="2.75"/>
<path d="M823.36 1208.99V1216.63M819.06 1216.63H827.66M823.36 1228.19V1220.56M819.06 1220.56H827.66" stroke="#d63c44" stroke-width="1.8" fill="none"/>
<rect x="822.06" y="1217.59" width="2.6" height="2" fill="#d63c44"/>
<circle cx="837.83" cy="1217.5" r="9.6" fill="#fff" stroke="#d63c44" stroke-width="2.75"/>

<rect x="836.53" y="1216.5" width="2.6" height="2" fill="#d63c44"/>
<circle cx="852.3" cy="1216.41" r="9.6" fill="#fff" stroke="#d63c44" stroke-width="2.75"/>
<path d="M852.3 1206.81V1214.15M848 1214.15H856.6M852.3 1226.01V1218.67M848 1218.67H856.6" stroke="#d63c44" stroke-width="1.8" fill="none"/>
<rect x="851" y="1215.41" width="2.6" height="2" fill="#d63c44"/>
<circle cx="866.77" cy="1216.14" r="9.6" fill="#fff" stroke="#d63c44" stroke-width="2.75"/>
<path d="M866.77 1206.54V1214.16M862.47 1214.16H871.07M866.77 1225.74V1218.12M862.47 1218.12H871.07" stroke="#d63c44" stroke-width="1.8" fill="none"/>
<rect x="865.47" y="1215.14" width="2.6" height="2" fill="#d63c44"/>
<circle cx="881.24" cy="1215.87" r="9.6" fill="#fff" stroke="#d63c44" stroke-width="2.75"/>

<rect x="879.94" y="1214.87" width="2.6" height="2" fill="#d63c44"/>
<circle cx="895.71" cy="1215.32" r="9.6" fill="#fff" stroke="#d63c44" stroke-width="2.75"/>
<path d="M895.71 1205.72V1213.99M891.41 1213.99H900.01M895.71 1224.92V1216.65M891.41 1216.65H900.01" stroke="#d63c44" stroke-width="1.8" fill="none"/>
<rect x="894.41" y="1214.32" width="2.6" height="2" fill="#d63c44"/>
<circle cx="910.18" cy="1215.05" r="9.6" fill="#fff" stroke="#d63c44" stroke-width="2.75"/>
<path d="M910.18 1205.45V1213.58M905.88 1213.58H914.48M910.18 1224.65V1216.52M905.88 1216.52H914.48" stroke="#d63c44" stroke-width="1.8" fill="none"/>
<rect x="908.88" y="1214.05" width="2.6" height="2" fill="#d63c44"/>
<circle cx="924.65" cy="1213.68" r="9.6" fill="#fff" stroke="#d63c44" stroke-width="2.75"/>
<path d="M924.65 1204.08V1211.73M920.35 1211.73H928.95M924.65 1223.28V1215.64M920.35 1215.64H928.95" stroke="#d63c44" stroke-width="1.8" fill="none"/>
<rect x="923.35" y="1212.68" width="2.6" height="2" fill="#d63c44"/>
<circle cx="939.12" cy="1212.59" r="9.6" fill="#fff" stroke="#d63c44" stroke-width="2.75"/>
<path d="M939.12 1202.99V1210.71M934.82 1210.71H943.42M939.12 1222.19V1214.47M934.82 1214.47H943.42" stroke="#d63c44" stroke-width="1.8" fill="none"/>
<rect x="937.82" y="1211.59" width="2.6" height="2" fill="#d63c44"/>
<circle cx="953.59" cy="1212.05" r="9.6" fill="#fff" stroke="#d63c44" stroke-width="2.75"/>
<path d="M953.59 1202.45V1210.01M949.29 1210.01H957.89M953.59 1221.65V1214.08M949.29 1214.08H957.89" stroke="#d63c44" stroke-width="1.8" fill="none"/>
<rect x="952.29" y="1211.05" width="2.6" height="2" fill="#d63c44"/>
<circle cx="968.06" cy="1211.78" r="9.6" fill="#fff" stroke="#d63c44" stroke-width="2.75"/>

<rect x="966.76" y="1210.78" width="2.6" height="2" fill="#d63c44"/>
<circle cx="982.53" cy="1211.5" r="9.6" fill="#fff" stroke="#d63c44" stroke-width="2.75"/>
<path d="M982.53 1201.9V1209.76M978.23 1209.76H986.83M982.53 1221.1V1213.25M978.23 1213.25H986.83" stroke="#d63c44" stroke-width="1.8" fill="none"/>
<rect x="981.23" y="1210.5" width="2.6" height="2" fill="#d63c44"/>
<circle cx="997" cy="1210.96" r="9.6" fill="#fff" stroke="#d63c44" stroke-width="2.75"/>
<path d="M997 1201.36V1209.92M992.7 1209.92H1001.3M997 1220.56V1212M992.7 1212H1001.3" stroke="#d63c44" stroke-width="1.8" fill="none"/>
<rect x="995.7" y="1209.96" width="2.6" height="2" fill="#d63c44"/>
<circle cx="1011.47" cy="1207.69" r="9.6" fill="#fff" stroke="#d63c44" stroke-width="2.75"/>

<rect x="1010.17" y="1206.69" width="2.6" height="2" fill="#d63c44"/>
<circle cx="1025.94" cy="1205.5" r="9.6" fill="#fff" stroke="#d63c44" stroke-width="2.75"/>
<path d="M1025.94 1195.9V1204.25M1021.64 1204.25H1030.24M1025.94 1215.1V1206.76M1021.64 1206.76H1030.24" stroke="#d63c44" stroke-width="1.8" fill="none"/>
<rect x="1024.64" y="1204.5" width="2.6" height="2" fill="#d63c44"/>
<circle cx="1040.41" cy="1204.96" r="9.6" fill="#fff" stroke="#d63c44" stroke-width="2.75"/>
<path d="M1040.41 1195.36V1203.32M1036.11 1203.32H1044.71M1040.41 1214.56V1206.6M1036.11 1206.6H1044.71" stroke="#d63c44" stroke-width="1.8" fill="none"/>
<rect x="1039.11" y="1203.96" width="2.6" height="2" fill="#d63c44"/>
<circle cx="1054.88" cy="1204.96" r="9.6" fill="#fff" stroke="#d63c44" stroke-width="2.75"/>
<path d="M1054.88 1195.36V1202.87M1050.58 1202.87H1059.18M1054.88 1214.56V1207.05M1050.58 1207.05H1059.18" stroke="#d63c44" stroke-width="1.8" fill="none"/>
<rect x="1053.58" y="1203.96" width="2.6" height="2" fill="#d63c44"/>
<circle cx="1069.35" cy="1204.96" r="9.6" fill="#fff" stroke="#d63c44" stroke-width="2.75"/>
<path d="M1069.35 1195.36V1203.49M1065.05 1203.49H1073.65M1069.35 1214.56V1206.43M1065.05 1206.43H1073.65" stroke="#d63c44" stroke-width="1.8" fill="none"/>
<rect x="1068.05" y="1203.96" width="2.6" height="2" fill="#d63c44"/>
<circle cx="1083.82" cy="1204.69" r="9.6" fill="#fff" stroke="#d63c44" stroke-width="2.75"/>

<rect x="1082.52" y="1203.69" width="2.6" height="2" fill="#d63c44"/>
<circle cx="1098.29" cy="1204.69" r="9.6" fill="#fff" stroke="#d63c44" stroke-width="2.75"/>
<path d="M1098.29 1195.09V1202.73M1093.99 1202.73H1102.59M1098.29 1214.29V1206.64M1093.99 1206.64H1102.59" stroke="#d63c44" stroke-width="1.8" fill="none"/>
<rect x="1096.99" y="1203.69" width="2.6" height="2" fill="#d63c44"/>
<circle cx="1112.76" cy="1204.41" r="9.6" fill="#fff" stroke="#d63c44" stroke-width="2.75"/>
<path d="M1112.76 1194.81V1203.17M1108.46 1203.17H1117.06M1112.76 1214.01V1205.66M1108.46 1205.66H1117.06" stroke="#d63c44" stroke-width="1.8" fill="none"/>
<rect x="1111.46" y="1203.41" width="2.6" height="2" fill="#d63c44"/>
<circle cx="1127.23" cy="1204.41" r="9.6" fill="#fff" stroke="#d63c44" stroke-width="2.75"/>

<rect x="1125.93" y="1203.41" width="2.6" height="2" fill="#d63c44"/>
<circle cx="1141.7" cy="1204.41" r="9.6" fill="#fff" stroke="#d63c44" stroke-width="2.75"/>
<path d="M1141.7 1194.81V1202.46M1137.4 1202.46H1146M1141.7 1214.01V1206.36M1137.4 1206.36H1146" stroke="#d63c44" stroke-width="1.8" fill="none"/>
<rect x="1140.4" y="1203.41" width="2.6" height="2" fill="#d63c44"/>
<path d="M707.6 1213.68L722.07 1209.32L736.54 1205.5L751.01 1198.42L765.48 1195.69L779.95 1192.42L794.42 1190.78L808.89 1188.6L823.36 1186.96L837.83 1182.6L852.3 1180.97L866.77 1147.16L881.24 1137.34L895.71 1128.07L910.18 1120.44L924.65 1114.44L939.12 1112.26L953.59 1111.17L968.06 1110.62L982.53 1110.08L997 1108.44L1011.47 1100.26L1025.94 1099.99L1040.41 1099.71L1054.88 1099.44L1069.35 1099.17L1083.82 1099.17L1098.29 1098.9L1112.76 1098.9L1127.23 1098.62L1141.7 1098.62" fill="none" stroke="#1e66cc" stroke-width="2.5" stroke-linejoin="round"/>
<polygon points="707.6,1201.21 718.4,1219.92 696.8,1219.92" fill="#fff" stroke="#1e66cc" stroke-width="2.75" stroke-linejoin="miter"/>
<path d="M707.6 1201.21V1211.74M703.3 1211.74H711.9M707.6 1219.92V1215.63M703.3 1215.63H711.9" stroke="#1e66cc" stroke-width="1.8" fill="none"/>
<rect x="706.3" y="1212.68" width="2.6" height="2" fill="#1e66cc"/>
<polygon points="722.07,1196.85 732.87,1215.56 711.27,1215.56" fill="#fff" stroke="#1e66cc" stroke-width="2.75" stroke-linejoin="miter"/>

<rect x="720.77" y="1208.32" width="2.6" height="2" fill="#1e66cc"/>
<polygon points="736.54,1193.03 747.34,1211.74 725.74,1211.74" fill="#fff" stroke="#1e66cc" stroke-width="2.75" stroke-linejoin="miter"/>
<path d="M736.54 1193.03V1203.65M732.24 1203.65H740.84M736.54 1211.74V1207.36M732.24 1207.36H740.84" stroke="#1e66cc" stroke-width="1.8" fill="none"/>
<rect x="735.24" y="1204.5" width="2.6" height="2" fill="#1e66cc"/>
<polygon points="751.01,1185.94 761.81,1204.65 740.21,1204.65" fill="#fff" stroke="#1e66cc" stroke-width="2.75" stroke-linejoin="miter"/>
<path d="M751.01 1185.94V1197.22M746.71 1197.22H755.31M751.01 1204.65V1199.61M746.71 1199.61H755.31" stroke="#1e66cc" stroke-width="1.8" fill="none"/>
<rect x="749.71" y="1197.42" width="2.6" height="2" fill="#1e66cc"/>
<polygon points="765.48,1183.22 776.28,1201.92 754.68,1201.92" fill="#fff" stroke="#1e66cc" stroke-width="2.75" stroke-linejoin="miter"/>

<rect x="764.18" y="1194.69" width="2.6" height="2" fill="#1e66cc"/>
<polygon points="779.95,1179.95 790.75,1198.65 769.15,1198.65" fill="#fff" stroke="#1e66cc" stroke-width="2.75" stroke-linejoin="miter"/>
<path d="M779.95 1179.95V1190.28M775.65 1190.28H784.25M779.95 1198.65V1194.56M775.65 1194.56H784.25" stroke="#1e66cc" stroke-width="1.8" fill="none"/>
<rect x="778.65" y="1191.42" width="2.6" height="2" fill="#1e66cc"/>
<polygon points="794.42,1178.31 805.22,1197.02 783.62,1197.02" fill="#fff" stroke="#1e66cc" stroke-width="2.75" stroke-linejoin="miter"/>

<rect x="793.12" y="1189.78" width="2.6" height="2" fill="#1e66cc"/>
<polygon points="808.89,1176.13 819.69,1194.84 798.09,1194.84" fill="#fff" stroke="#1e66cc" stroke-width="2.75" stroke-linejoin="miter"/>

<rect x="807.59" y="1187.6" width="2.6" height="2" fill="#1e66cc"/>
<polygon points="823.36,1174.49 834.16,1193.2 812.56,1193.2" fill="#fff" stroke="#1e66cc" stroke-width="2.75" stroke-linejoin="miter"/>

<rect x="822.06" y="1185.96" width="2.6" height="2" fill="#1e66cc"/>
<polygon points="837.83,1170.13 848.63,1188.84 827.03,1188.84" fill="#fff" stroke="#1e66cc" stroke-width="2.75" stroke-linejoin="miter"/>
<path d="M837.83 1170.13V1181.11M833.53 1181.11H842.13M837.83 1188.84V1184.09M833.53 1184.09H842.13" stroke="#1e66cc" stroke-width="1.8" fill="none"/>
<rect x="836.53" y="1181.6" width="2.6" height="2" fill="#1e66cc"/>
<polygon points="852.3,1168.49 863.1,1187.2 841.5,1187.2" fill="#fff" stroke="#1e66cc" stroke-width="2.75" stroke-linejoin="miter"/>
<path d="M852.3 1168.49V1178.68M848 1178.68H856.6M852.3 1187.2V1183.25M848 1183.25H856.6" stroke="#1e66cc" stroke-width="1.8" fill="none"/>
<rect x="851" y="1179.97" width="2.6" height="2" fill="#1e66cc"/>
<polygon points="866.77,1134.69 877.57,1153.39 855.97,1153.39" fill="#fff" stroke="#1e66cc" stroke-width="2.75" stroke-linejoin="miter"/>
<path d="M866.77 1134.69V1145.83M862.47 1145.83H871.07M866.77 1153.39V1148.48M862.47 1148.48H871.07" stroke="#1e66cc" stroke-width="1.8" fill="none"/>
<rect x="865.47" y="1146.16" width="2.6" height="2" fill="#1e66cc"/>
<polygon points="881.24,1124.87 892.04,1143.58 870.44,1143.58" fill="#fff" stroke="#1e66cc" stroke-width="2.75" stroke-linejoin="miter"/>
<path d="M881.24 1124.87V1136.36M876.94 1136.36H885.54M881.24 1143.58V1138.32M876.94 1138.32H885.54" stroke="#1e66cc" stroke-width="1.8" fill="none"/>
<rect x="879.94" y="1136.34" width="2.6" height="2" fill="#1e66cc"/>
<polygon points="895.71,1115.6 906.51,1134.31 884.91,1134.31" fill="#fff" stroke="#1e66cc" stroke-width="2.75" stroke-linejoin="miter"/>

<rect x="894.41" y="1127.07" width="2.6" height="2" fill="#1e66cc"/>
<polygon points="910.18,1107.97 920.98,1126.67 899.38,1126.67" fill="#fff" stroke="#1e66cc" stroke-width="2.75" stroke-linejoin="miter"/>
<path d="M910.18 1107.97V1119.23M905.88 1119.23H914.48M910.18 1126.67V1121.64M905.88 1121.64H914.48" stroke="#1e66cc" stroke-width="1.8" fill="none"/>
<rect x="908.88" y="1119.44" width="2.6" height="2" fill="#1e66cc"/>
<polygon points="924.65,1101.97 935.45,1120.67 913.85,1120.67" fill="#fff" stroke="#1e66cc" stroke-width="2.75" stroke-linejoin="miter"/>

<rect x="923.35" y="1113.44" width="2.6" height="2" fill="#1e66cc"/>
<polygon points="939.12,1099.79 949.92,1118.49 928.32,1118.49" fill="#fff" stroke="#1e66cc" stroke-width="2.75" stroke-linejoin="miter"/>
<path d="M939.12 1099.79V1110.85M934.82 1110.85H943.42M939.12 1118.49V1113.67M934.82 1113.67H943.42" stroke="#1e66cc" stroke-width="1.8" fill="none"/>
<rect x="937.82" y="1111.26" width="2.6" height="2" fill="#1e66cc"/>
<polygon points="953.59,1098.69 964.39,1117.4 942.79,1117.4" fill="#fff" stroke="#1e66cc" stroke-width="2.75" stroke-linejoin="miter"/>
<path d="M953.59 1098.69V1110.05M949.29 1110.05H957.89M953.59 1117.4V1112.28M949.29 1112.28H957.89" stroke="#1e66cc" stroke-width="1.8" fill="none"/>
<rect x="952.29" y="1110.17" width="2.6" height="2" fill="#1e66cc"/>
<polygon points="968.06,1098.15 978.86,1116.86 957.26,1116.86" fill="#fff" stroke="#1e66cc" stroke-width="2.75" stroke-linejoin="miter"/>
<path d="M968.06 1098.15V1109.13M963.76 1109.13H972.36M968.06 1116.86V1112.11M963.76 1112.11H972.36" stroke="#1e66cc" stroke-width="1.8" fill="none"/>
<rect x="966.76" y="1109.62" width="2.6" height="2" fill="#1e66cc"/>
<polygon points="982.53,1097.6 993.33,1116.31 971.73,1116.31" fill="#fff" stroke="#1e66cc" stroke-width="2.75" stroke-linejoin="miter"/>
<path d="M982.53 1097.6V1108.51M978.23 1108.51H986.83M982.53 1116.31V1111.64M978.23 1111.64H986.83" stroke="#1e66cc" stroke-width="1.8" fill="none"/>
<rect x="981.23" y="1109.08" width="2.6" height="2" fill="#1e66cc"/>
<polygon points="997,1095.97 1007.8,1114.67 986.2,1114.67" fill="#fff" stroke="#1e66cc" stroke-width="2.75" stroke-linejoin="miter"/>
<path d="M997 1095.97V1107.03M992.7 1107.03H1001.3M997 1114.67V1109.85M992.7 1109.85H1001.3" stroke="#1e66cc" stroke-width="1.8" fill="none"/>
<rect x="995.7" y="1107.44" width="2.6" height="2" fill="#1e66cc"/>
<polygon points="1011.47,1087.79 1022.27,1106.49 1000.67,1106.49" fill="#fff" stroke="#1e66cc" stroke-width="2.75" stroke-linejoin="miter"/>

<rect x="1010.17" y="1099.26" width="2.6" height="2" fill="#1e66cc"/>
<polygon points="1025.94,1087.52 1036.74,1106.22 1015.14,1106.22" fill="#fff" stroke="#1e66cc" stroke-width="2.75" stroke-linejoin="miter"/>
<path d="M1025.94 1087.52V1097.96M1021.64 1097.96H1030.24M1025.94 1106.22V1102.02M1021.64 1102.02H1030.24" stroke="#1e66cc" stroke-width="1.8" fill="none"/>
<rect x="1024.64" y="1098.99" width="2.6" height="2" fill="#1e66cc"/>
<polygon points="1040.41,1087.24 1051.21,1105.95 1029.61,1105.95" fill="#fff" stroke="#1e66cc" stroke-width="2.75" stroke-linejoin="miter"/>
<path d="M1040.41 1087.24V1098.43M1036.11 1098.43H1044.71M1040.41 1105.95V1101M1036.11 1101H1044.71" stroke="#1e66cc" stroke-width="1.8" fill="none"/>
<rect x="1039.11" y="1098.71" width="2.6" height="2" fill="#1e66cc"/>
<polygon points="1054.88,1086.97 1065.68,1105.68 1044.08,1105.68" fill="#fff" stroke="#1e66cc" stroke-width="2.75" stroke-linejoin="miter"/>
<path d="M1054.88 1086.97V1098.33M1050.58 1098.33H1059.18M1054.88 1105.68V1100.55M1050.58 1100.55H1059.18" stroke="#1e66cc" stroke-width="1.8" fill="none"/>
<rect x="1053.58" y="1098.44" width="2.6" height="2" fill="#1e66cc"/>
<polygon points="1069.35,1086.7 1080.15,1105.4 1058.55,1105.4" fill="#fff" stroke="#1e66cc" stroke-width="2.75" stroke-linejoin="miter"/>
<path d="M1069.35 1086.7V1097.44M1065.05 1097.44H1073.65M1069.35 1105.4V1100.9M1065.05 1100.9H1073.65" stroke="#1e66cc" stroke-width="1.8" fill="none"/>
<rect x="1068.05" y="1098.17" width="2.6" height="2" fill="#1e66cc"/>
<polygon points="1083.82,1086.7 1094.62,1105.4 1073.02,1105.4" fill="#fff" stroke="#1e66cc" stroke-width="2.75" stroke-linejoin="miter"/>
<path d="M1083.82 1086.7V1097.41M1079.52 1097.41H1088.12M1083.82 1105.4V1100.93M1079.52 1100.93H1088.12" stroke="#1e66cc" stroke-width="1.8" fill="none"/>
<rect x="1082.52" y="1098.17" width="2.6" height="2" fill="#1e66cc"/>
<polygon points="1098.29,1086.43 1109.09,1105.13 1087.49,1105.13" fill="#fff" stroke="#1e66cc" stroke-width="2.75" stroke-linejoin="miter"/>

<rect x="1096.99" y="1097.9" width="2.6" height="2" fill="#1e66cc"/>
<polygon points="1112.76,1086.43 1123.56,1105.13 1101.96,1105.13" fill="#fff" stroke="#1e66cc" stroke-width="2.75" stroke-linejoin="miter"/>

<rect x="1111.46" y="1097.9" width="2.6" height="2" fill="#1e66cc"/>
<polygon points="1127.23,1086.15 1138.03,1104.86 1116.43,1104.86" fill="#fff" stroke="#1e66cc" stroke-width="2.75" stroke-linejoin="miter"/>

<rect x="1125.93" y="1097.62" width="2.6" height="2" fill="#1e66cc"/>
<polygon points="1141.7,1086.15 1152.5,1104.86 1130.9,1104.86" fill="#fff" stroke="#1e66cc" stroke-width="2.75" stroke-linejoin="miter"/>
<path d="M1141.7 1086.15V1097.38M1137.4 1097.38H1146M1141.7 1104.86V1099.86M1137.4 1099.86H1146" stroke="#1e66cc" stroke-width="1.8" fill="none"/>
<rect x="1140.4" y="1097.62" width="2.6" height="2" fill="#1e66cc"/>
<path d="M707.6 1070.27L722.07 1072.45L736.54 1068.09L751.01 1053.36L765.48 1048.45L779.95 1041.37L794.42 1038.64L808.89 1033.73L823.36 1029.37L837.83 1026.64L852.3 1023.92L866.77 1021.19L881.24 1019.01L895.71 1016.83L910.18 1014.65L924.65 1012.46L939.12 1011.92L953.59 1011.65L968.06 1010.83L982.53 1008.65L997 1005.92L1011.47 1003.74L1025.94 1003.19L1040.41 1002.65L1054.88 1002.38L1069.35 1002.1L1083.82 1002.1L1098.29 1001.83L1112.76 1001.83L1127.23 1001.56L1141.7 1001.56" fill="none" stroke="#3ea66c" stroke-width="2.5" stroke-linejoin="round"/>
<polygon points="707.6,1082.74 718.4,1064.03 696.8,1064.03" fill="#fff" stroke="#3ea66c" stroke-width="2.75" stroke-linejoin="miter"/>
<path d="M707.6 1064.03V1068.94M703.3 1068.94H711.9M707.6 1082.74V1071.6M703.3 1071.6H711.9" stroke="#3ea66c" stroke-width="1.8" fill="none"/>
<rect x="706.3" y="1069.27" width="2.6" height="2" fill="#3ea66c"/>
<polygon points="722.07,1084.92 732.87,1066.21 711.27,1066.21" fill="#fff" stroke="#3ea66c" stroke-width="2.75" stroke-linejoin="miter"/>
<path d="M722.07 1066.21V1070.68M717.77 1070.68H726.37M722.07 1084.92V1074.22M717.77 1074.22H726.37" stroke="#3ea66c" stroke-width="1.8" fill="none"/>
<rect x="720.77" y="1071.45" width="2.6" height="2" fill="#3ea66c"/>
<polygon points="736.54,1080.56 747.34,1061.85 725.74,1061.85" fill="#fff" stroke="#3ea66c" stroke-width="2.75" stroke-linejoin="miter"/>
<path d="M736.54 1061.85V1066.14M732.24 1066.14H740.84M736.54 1080.56V1070.03M732.24 1070.03H740.84" stroke="#3ea66c" stroke-width="1.8" fill="none"/>
<rect x="735.24" y="1067.09" width="2.6" height="2" fill="#3ea66c"/>
<polygon points="751.01,1065.83 761.81,1047.13 740.21,1047.13" fill="#fff" stroke="#3ea66c" stroke-width="2.75" stroke-linejoin="miter"/>
<path d="M751.01 1047.13V1051.82M746.71 1051.82H755.31M751.01 1065.83V1054.9M746.71 1054.9H755.31" stroke="#3ea66c" stroke-width="1.8" fill="none"/>
<rect x="749.71" y="1052.36" width="2.6" height="2" fill="#3ea66c"/>
<polygon points="765.48,1060.93 776.28,1042.22 754.68,1042.22" fill="#fff" stroke="#3ea66c" stroke-width="2.75" stroke-linejoin="miter"/>
<path d="M765.48 1042.22V1047.39M761.18 1047.39H769.78M765.48 1060.93V1049.52M761.18 1049.52H769.78" stroke="#3ea66c" stroke-width="1.8" fill="none"/>
<rect x="764.18" y="1047.45" width="2.6" height="2" fill="#3ea66c"/>
<polygon points="779.95,1053.84 790.75,1035.13 769.15,1035.13" fill="#fff" stroke="#3ea66c" stroke-width="2.75" stroke-linejoin="miter"/>
<path d="M779.95 1035.13V1039.73M775.65 1039.73H784.25M779.95 1053.84V1043M775.65 1043H784.25" stroke="#3ea66c" stroke-width="1.8" fill="none"/>
<rect x="778.65" y="1040.37" width="2.6" height="2" fill="#3ea66c"/>
<polygon points="794.42,1051.11 805.22,1032.4 783.62,1032.4" fill="#fff" stroke="#3ea66c" stroke-width="2.75" stroke-linejoin="miter"/>

<rect x="793.12" y="1037.64" width="2.6" height="2" fill="#3ea66c"/>
<polygon points="808.89,1046.2 819.69,1027.5 798.09,1027.5" fill="#fff" stroke="#3ea66c" stroke-width="2.75" stroke-linejoin="miter"/>
<path d="M808.89 1027.5V1031.99M804.59 1031.99H813.19M808.89 1046.2V1035.47M804.59 1035.47H813.19" stroke="#3ea66c" stroke-width="1.8" fill="none"/>
<rect x="807.59" y="1032.73" width="2.6" height="2" fill="#3ea66c"/>
<polygon points="823.36,1041.84 834.16,1023.13 812.56,1023.13" fill="#fff" stroke="#3ea66c" stroke-width="2.75" stroke-linejoin="miter"/>
<path d="M823.36 1023.13V1027.81M819.06 1027.81H827.66M823.36 1041.84V1030.92M819.06 1030.92H827.66" stroke="#3ea66c" stroke-width="1.8" fill="none"/>
<rect x="822.06" y="1028.37" width="2.6" height="2" fill="#3ea66c"/>
<polygon points="837.83,1039.11 848.63,1020.41 827.03,1020.41" fill="#fff" stroke="#3ea66c" stroke-width="2.75" stroke-linejoin="miter"/>

<rect x="836.53" y="1025.64" width="2.6" height="2" fill="#3ea66c"/>
<polygon points="852.3,1036.39 863.1,1017.68 841.5,1017.68" fill="#fff" stroke="#3ea66c" stroke-width="2.75" stroke-linejoin="miter"/>
<path d="M852.3 1017.68V1022.71M848 1022.71H856.6M852.3 1036.39V1025.12M848 1025.12H856.6" stroke="#3ea66c" stroke-width="1.8" fill="none"/>
<rect x="851" y="1022.92" width="2.6" height="2" fill="#3ea66c"/>
<polygon points="866.77,1033.66 877.57,1014.95 855.97,1014.95" fill="#fff" stroke="#3ea66c" stroke-width="2.75" stroke-linejoin="miter"/>
<path d="M866.77 1014.95V1018.9M862.47 1018.9H871.07M866.77 1033.66V1023.48M862.47 1023.48H871.07" stroke="#3ea66c" stroke-width="1.8" fill="none"/>
<rect x="865.47" y="1020.19" width="2.6" height="2" fill="#3ea66c"/>
<polygon points="881.24,1031.48 892.04,1012.77 870.44,1012.77" fill="#fff" stroke="#3ea66c" stroke-width="2.75" stroke-linejoin="miter"/>

<rect x="879.94" y="1018.01" width="2.6" height="2" fill="#3ea66c"/>
<polygon points="895.71,1029.3 906.51,1010.59 884.91,1010.59" fill="#fff" stroke="#3ea66c" stroke-width="2.75" stroke-linejoin="miter"/>
<path d="M895.71 1010.59V1015.22M891.41 1015.22H900.01M895.71 1029.3V1018.44M891.41 1018.44H900.01" stroke="#3ea66c" stroke-width="1.8" fill="none"/>
<rect x="894.41" y="1015.83" width="2.6" height="2" fill="#3ea66c"/>
<polygon points="910.18,1027.12 920.98,1008.41 899.38,1008.41" fill="#fff" stroke="#3ea66c" stroke-width="2.75" stroke-linejoin="miter"/>

<rect x="908.88" y="1013.65" width="2.6" height="2" fill="#3ea66c"/>
<polygon points="924.65,1024.93 935.45,1006.23 913.85,1006.23" fill="#fff" stroke="#3ea66c" stroke-width="2.75" stroke-linejoin="miter"/>
<path d="M924.65 1006.23V1010.94M920.35 1010.94H928.95M924.65 1024.93V1013.99M920.35 1013.99H928.95" stroke="#3ea66c" stroke-width="1.8" fill="none"/>
<rect x="923.35" y="1011.46" width="2.6" height="2" fill="#3ea66c"/>
<polygon points="939.12,1024.39 949.92,1005.68 928.32,1005.68" fill="#fff" stroke="#3ea66c" stroke-width="2.75" stroke-linejoin="miter"/>

<rect x="937.82" y="1010.92" width="2.6" height="2" fill="#3ea66c"/>
<polygon points="953.59,1024.12 964.39,1005.41 942.79,1005.41" fill="#fff" stroke="#3ea66c" stroke-width="2.75" stroke-linejoin="miter"/>
<path d="M953.59 1005.41V1010.66M949.29 1010.66H957.89M953.59 1024.12V1012.63M949.29 1012.63H957.89" stroke="#3ea66c" stroke-width="1.8" fill="none"/>
<rect x="952.29" y="1010.65" width="2.6" height="2" fill="#3ea66c"/>
<polygon points="968.06,1023.3 978.86,1004.59 957.26,1004.59" fill="#fff" stroke="#3ea66c" stroke-width="2.75" stroke-linejoin="miter"/>
<path d="M968.06 1004.59V1008.71M963.76 1008.71H972.36M968.06 1023.3V1012.95M963.76 1012.95H972.36" stroke="#3ea66c" stroke-width="1.8" fill="none"/>
<rect x="966.76" y="1009.83" width="2.6" height="2" fill="#3ea66c"/>
<polygon points="982.53,1021.12 993.33,1002.41 971.73,1002.41" fill="#fff" stroke="#3ea66c" stroke-width="2.75" stroke-linejoin="miter"/>
<path d="M982.53 1002.41V1007.6M978.23 1007.6H986.83M982.53 1021.12V1009.69M978.23 1009.69H986.83" stroke="#3ea66c" stroke-width="1.8" fill="none"/>
<rect x="981.23" y="1007.65" width="2.6" height="2" fill="#3ea66c"/>
<polygon points="997,1018.39 1007.8,999.68 986.2,999.68" fill="#fff" stroke="#3ea66c" stroke-width="2.75" stroke-linejoin="miter"/>
<path d="M997 999.68V1004.54M992.7 1004.54H1001.3M997 1018.39V1007.3M992.7 1007.3H1001.3" stroke="#3ea66c" stroke-width="1.8" fill="none"/>
<rect x="995.7" y="1004.92" width="2.6" height="2" fill="#3ea66c"/>
<polygon points="1011.47,1016.21 1022.27,997.5 1000.67,997.5" fill="#fff" stroke="#3ea66c" stroke-width="2.75" stroke-linejoin="miter"/>
<path d="M1011.47 997.5V1002.36M1007.17 1002.36H1015.77M1011.47 1016.21V1005.11M1007.17 1005.11H1015.77" stroke="#3ea66c" stroke-width="1.8" fill="none"/>
<rect x="1010.17" y="1002.74" width="2.6" height="2" fill="#3ea66c"/>
<polygon points="1025.94,1015.66 1036.74,996.96 1015.14,996.96" fill="#fff" stroke="#3ea66c" stroke-width="2.75" stroke-linejoin="miter"/>
<path d="M1025.94 996.96V1002.04M1021.64 1002.04H1030.24M1025.94 1015.66V1004.35M1021.64 1004.35H1030.24" stroke="#3ea66c" stroke-width="1.8" fill="none"/>
<rect x="1024.64" y="1002.19" width="2.6" height="2" fill="#3ea66c"/>
<polygon points="1040.41,1015.12 1051.21,996.41 1029.61,996.41" fill="#fff" stroke="#3ea66c" stroke-width="2.75" stroke-linejoin="miter"/>
<path d="M1040.41 996.41V1001.55M1036.11 1001.55H1044.71M1040.41 1015.12V1003.75M1036.11 1003.75H1044.71" stroke="#3ea66c" stroke-width="1.8" fill="none"/>
<rect x="1039.11" y="1001.65" width="2.6" height="2" fill="#3ea66c"/>
<polygon points="1054.88,1014.85 1065.68,996.14 1044.08,996.14" fill="#fff" stroke="#3ea66c" stroke-width="2.75" stroke-linejoin="miter"/>
<path d="M1054.88 996.14V1001.34M1050.58 1001.34H1059.18M1054.88 1014.85V1003.41M1050.58 1003.41H1059.18" stroke="#3ea66c" stroke-width="1.8" fill="none"/>
<rect x="1053.58" y="1001.38" width="2.6" height="2" fill="#3ea66c"/>
<polygon points="1069.35,1014.57 1080.15,995.87 1058.55,995.87" fill="#fff" stroke="#3ea66c" stroke-width="2.75" stroke-linejoin="miter"/>
<path d="M1069.35 995.87V1000.87M1065.05 1000.87H1073.65M1069.35 1014.57V1003.34M1065.05 1003.34H1073.65" stroke="#3ea66c" stroke-width="1.8" fill="none"/>
<rect x="1068.05" y="1001.1" width="2.6" height="2" fill="#3ea66c"/>
<polygon points="1083.82,1014.57 1094.62,995.87 1073.02,995.87" fill="#fff" stroke="#3ea66c" stroke-width="2.75" stroke-linejoin="miter"/>

<rect x="1082.52" y="1001.1" width="2.6" height="2" fill="#3ea66c"/>
<polygon points="1098.29,1014.3 1109.09,995.6 1087.49,995.6" fill="#fff" stroke="#3ea66c" stroke-width="2.75" stroke-linejoin="miter"/>
<path d="M1098.29 995.6V1000.15M1093.99 1000.15H1102.59M1098.29 1014.3V1003.51M1093.99 1003.51H1102.59" stroke="#3ea66c" stroke-width="1.8" fill="none"/>
<rect x="1096.99" y="1000.83" width="2.6" height="2" fill="#3ea66c"/>
<polygon points="1112.76,1014.3 1123.56,995.6 1101.96,995.6" fill="#fff" stroke="#3ea66c" stroke-width="2.75" stroke-linejoin="miter"/>
<path d="M1112.76 995.6V1000.18M1108.46 1000.18H1117.06M1112.76 1014.3V1003.48M1108.46 1003.48H1117.06" stroke="#3ea66c" stroke-width="1.8" fill="none"/>
<rect x="1111.46" y="1000.83" width="2.6" height="2" fill="#3ea66c"/>
<polygon points="1127.23,1014.03 1138.03,995.32 1116.43,995.32" fill="#fff" stroke="#3ea66c" stroke-width="2.75" stroke-linejoin="miter"/>
<path d="M1127.23 995.32V1000.47M1122.93 1000.47H1131.53M1127.23 1014.03V1002.65M1122.93 1002.65H1131.53" stroke="#3ea66c" stroke-width="1.8" fill="none"/>
<rect x="1125.93" y="1000.56" width="2.6" height="2" fill="#3ea66c"/>
<polygon points="1141.7,1014.03 1152.5,995.32 1130.9,995.32" fill="#fff" stroke="#3ea66c" stroke-width="2.75" stroke-linejoin="miter"/>
<path d="M1141.7 995.32V999.91M1137.4 999.91H1146M1141.7 1014.03V1003.21M1137.4 1003.21H1146" stroke="#3ea66c" stroke-width="1.8" fill="none"/>
<rect x="1140.4" y="1000.56" width="2.6" height="2" fill="#3ea66c"/>
</g>
<rect x="707.6" y="979.2" width="441.9" height="349" fill="none" stroke="#000" stroke-width="3.0"/>
<path d="M708.1 977.7V1329.7M1149.05 977.7V1329.7" stroke="#000" stroke-width="3.9"/>
<path d="M706.1 1328.2h-5.9M706.1 1262.76h-5.9M706.1 1197.33h-5.9M706.1 1131.89h-5.9M706.1 1066.45h-5.9M706.1 1001.01h-5.9M707.6 1329.7v4.9M779.95 1329.7v4.9M852.3 1329.7v4.9M924.65 1329.7v4.9M997 1329.7v4.9M1069.35 1329.7v4.9M1141.7 1329.7v4.9" stroke="#000" stroke-width="3" fill="none"/>
<path d="M706.1 1295.48h-2.3M706.1 1230.04h-2.3M706.1 1164.61h-2.3M706.1 1099.17h-2.3M706.1 1033.73h-2.3M743.77 1329.7v2.1M816.12 1329.7v2.1M888.48 1329.7v2.1M960.83 1329.7v2.1M1033.17 1329.7v2.1M1105.53 1329.7v2.1" stroke="#000" stroke-width="2.6" fill="none"/>
<text x="696" y="1334.1" text-anchor="end" font-size="19">0</text>
<text x="696" y="1268.66" text-anchor="end" font-size="19">120</text>
<text x="696" y="1203.23" text-anchor="end" font-size="19">240</text>
<text x="696" y="1137.79" text-anchor="end" font-size="19">360</text>
<text x="696" y="1072.35" text-anchor="end" font-size="19">480</text>
<text x="696" y="1006.91" text-anchor="end" font-size="19">600</text>
<text x="714.1" y="1003.5" font-size="19" font-weight="bold">(f)</text>
<text transform="translate(642.1,1154.2) rotate(-90)" text-anchor="middle" font-size="20.2" font-weight="bold">Accumulative N<tspan font-size="13.4" dy="5.6">2</tspan><tspan dy="-5.6">&#8203;</tspan>O Emission (&#956;g / kg DM)</text>
<clipPath id="clipg"><rect x="146.2" y="1427" width="441.2" height="349.7"/></clipPath>
<g clip-path="url(#clipg)">
<path d="M146.2 1772.59L160.65 1679.2L175.1 1658.21L189.55 1445.51L204 1593.62L218.45 1630.65L232.9 1710.87L247.35 1721.16L261.8 1714.99L276.25 1737.62L290.7 1745.84L305.15 1741.73L319.6 1758.19L334.05 1764.36L348.5 1768.47L362.95 1766.41L377.4 1750.58L391.85 1760.24L406.3 1762.3L420.75 1768.47L435.2 1770.53L449.65 1770.53L464.1 1770.53L478.55 1770.53L493 1768.47L507.45 1768.47L521.9 1766.41L536.35 1763.53L550.8 1768.47L565.25 1768.47L579.7 1768.47" fill="none" stroke="#4a4a4a" stroke-width="2.5" stroke-linejoin="round"/>
<path d="M204 1593.62L218.45 1630.65" stroke="#111" stroke-width="2.8"/>
<rect x="138.05" y="1764.44" width="16.3" height="16.3" fill="#fff" stroke="#4a4a4a" stroke-width="2.75"/>
<path d="M146.2 1764.44V1770.59M141.9 1770.59H150.5M146.2 1780.74V1774.58M141.9 1774.58H150.5" stroke="#4a4a4a" stroke-width="1.8" fill="none"/>
<rect x="144.9" y="1771.59" width="2.6" height="2" fill="#4a4a4a"/>
<rect x="152.5" y="1671.05" width="16.3" height="16.3" fill="#fff" stroke="#4a4a4a" stroke-width="2.75"/>
<path d="M160.65 1671.05V1674.05M156.35 1674.05H164.95M160.65 1687.35V1684.34M156.35 1684.34H164.95" stroke="#4a4a4a" stroke-width="1.8" fill="none"/>
<rect x="159.35" y="1678.2" width="2.6" height="2" fill="#4a4a4a"/>
<rect x="166.95" y="1650.06" width="16.3" height="16.3" fill="#fff" stroke="#4a4a4a" stroke-width="2.75"/>
<path d="M175.1 1650.06V1655.13M170.8 1655.13H179.4M175.1 1666.36V1661.3M170.8 1661.3H179.4" stroke="#4a4a4a" stroke-width="1.8" fill="none"/>
<rect x="173.8" y="1657.21" width="2.6" height="2" fill="#4a4a4a"/>
<rect x="181.4" y="1437.36" width="16.3" height="16.3" fill="#fff" stroke="#4a4a4a" stroke-width="2.75"/>
<path d="M189.55 1437.36V1434.82M185.25 1434.82H193.85M189.55 1453.66V1456.21M185.25 1456.21H193.85" stroke="#4a4a4a" stroke-width="1.8" fill="none"/>
<rect x="188.25" y="1444.51" width="2.6" height="2" fill="#4a4a4a"/>
<rect x="195.85" y="1585.47" width="16.3" height="16.3" fill="#fff" stroke="#111" stroke-width="2.75"/>
<path d="M204 1585.47V1579.22M199.7 1579.22H208.3M204 1601.77V1608.02M199.7 1608.02H208.3" stroke="#111" stroke-width="1.8" fill="none"/>
<rect x="202.7" y="1592.62" width="2.6" height="2" fill="#111"/>
<rect x="210.3" y="1622.5" width="16.3" height="16.3" fill="#fff" stroke="#4a4a4a" stroke-width="2.75"/>
<path d="M218.45 1622.5V1620.36M214.15 1620.36H222.75M218.45 1638.8V1640.93M214.15 1640.93H222.75" stroke="#4a4a4a" stroke-width="1.8" fill="none"/>
<rect x="217.15" y="1629.65" width="2.6" height="2" fill="#4a4a4a"/>
<rect x="224.75" y="1702.72" width="16.3" height="16.3" fill="#fff" stroke="#4a4a4a" stroke-width="2.75"/>
<path d="M232.9 1702.72V1706.96M228.6 1706.96H237.2M232.9 1719.02V1714.79M228.6 1714.79H237.2" stroke="#4a4a4a" stroke-width="1.8" fill="none"/>
<rect x="231.6" y="1709.87" width="2.6" height="2" fill="#4a4a4a"/>
<rect x="239.2" y="1713.01" width="16.3" height="16.3" fill="#fff" stroke="#4a4a4a" stroke-width="2.75"/>
<path d="M247.35 1713.01V1717.94M243.05 1717.94H251.65M247.35 1729.31V1724.38M243.05 1724.38H251.65" stroke="#4a4a4a" stroke-width="1.8" fill="none"/>
<rect x="246.05" y="1720.16" width="2.6" height="2" fill="#4a4a4a"/>
<rect x="253.65" y="1706.84" width="16.3" height="16.3" fill="#fff" stroke="#4a4a4a" stroke-width="2.75"/>
<path d="M261.8 1706.84V1712.07M257.5 1712.07H266.1M261.8 1723.14V1717.9M257.5 1717.9H266.1" stroke="#4a4a4a" stroke-width="1.8" fill="none"/>
<rect x="260.5" y="1713.99" width="2.6" height="2" fill="#4a4a4a"/>
<rect x="268.1" y="1729.47" width="16.3" height="16.3" fill="#fff" stroke="#4a4a4a" stroke-width="2.75"/>
<path d="M276.25 1729.47V1733.68M271.95 1733.68H280.55M276.25 1745.77V1741.55M271.95 1741.55H280.55" stroke="#4a4a4a" stroke-width="1.8" fill="none"/>
<rect x="274.95" y="1736.62" width="2.6" height="2" fill="#4a4a4a"/>
<rect x="282.55" y="1737.69" width="16.3" height="16.3" fill="#fff" stroke="#4a4a4a" stroke-width="2.75"/>
<path d="M290.7 1737.69V1742.61M286.4 1742.61H295M290.7 1753.99V1749.07M286.4 1749.07H295" stroke="#4a4a4a" stroke-width="1.8" fill="none"/>
<rect x="289.4" y="1744.84" width="2.6" height="2" fill="#4a4a4a"/>
<rect x="297" y="1733.58" width="16.3" height="16.3" fill="#fff" stroke="#4a4a4a" stroke-width="2.75"/>
<path d="M305.15 1733.58V1738.87M300.85 1738.87H309.45M305.15 1749.88V1744.59M300.85 1744.59H309.45" stroke="#4a4a4a" stroke-width="1.8" fill="none"/>
<rect x="303.85" y="1740.73" width="2.6" height="2" fill="#4a4a4a"/>
<rect x="311.45" y="1750.04" width="16.3" height="16.3" fill="#fff" stroke="#4a4a4a" stroke-width="2.75"/>
<path d="M319.6 1750.04V1755.58M315.3 1755.58H323.9M319.6 1766.34V1760.79M315.3 1760.79H323.9" stroke="#4a4a4a" stroke-width="1.8" fill="none"/>
<rect x="318.3" y="1757.19" width="2.6" height="2" fill="#4a4a4a"/>
<rect x="325.9" y="1756.21" width="16.3" height="16.3" fill="#fff" stroke="#4a4a4a" stroke-width="2.75"/>
<path d="M334.05 1756.21V1760.77M329.75 1760.77H338.35M334.05 1772.51V1767.94M329.75 1767.94H338.35" stroke="#4a4a4a" stroke-width="1.8" fill="none"/>
<rect x="332.75" y="1763.36" width="2.6" height="2" fill="#4a4a4a"/>
<rect x="340.35" y="1760.32" width="16.3" height="16.3" fill="#fff" stroke="#4a4a4a" stroke-width="2.75"/>
<path d="M348.5 1760.32V1766.02M344.2 1766.02H352.8M348.5 1776.62V1770.92M344.2 1770.92H352.8" stroke="#4a4a4a" stroke-width="1.8" fill="none"/>
<rect x="347.2" y="1767.47" width="2.6" height="2" fill="#4a4a4a"/>
<rect x="354.8" y="1758.26" width="16.3" height="16.3" fill="#fff" stroke="#4a4a4a" stroke-width="2.75"/>
<path d="M362.95 1758.26V1763.97M358.65 1763.97H367.25M362.95 1774.56V1768.86M358.65 1768.86H367.25" stroke="#4a4a4a" stroke-width="1.8" fill="none"/>
<rect x="361.65" y="1765.41" width="2.6" height="2" fill="#4a4a4a"/>
<rect x="369.25" y="1742.43" width="16.3" height="16.3" fill="#fff" stroke="#4a4a4a" stroke-width="2.75"/>
<path d="M377.4 1742.43V1747.93M373.1 1747.93H381.7M377.4 1758.73V1753.22M373.1 1753.22H381.7" stroke="#4a4a4a" stroke-width="1.8" fill="none"/>
<rect x="376.1" y="1749.58" width="2.6" height="2" fill="#4a4a4a"/>
<rect x="383.7" y="1752.09" width="16.3" height="16.3" fill="#fff" stroke="#4a4a4a" stroke-width="2.75"/>
<path d="M391.85 1752.09V1756.78M387.55 1756.78H396.15M391.85 1768.39V1763.71M387.55 1763.71H396.15" stroke="#4a4a4a" stroke-width="1.8" fill="none"/>
<rect x="390.55" y="1759.24" width="2.6" height="2" fill="#4a4a4a"/>
<rect x="398.15" y="1754.15" width="16.3" height="16.3" fill="#fff" stroke="#4a4a4a" stroke-width="2.75"/>
<path d="M406.3 1754.15V1759.19M402 1759.19H410.6M406.3 1770.45V1765.41M402 1765.41H410.6" stroke="#4a4a4a" stroke-width="1.8" fill="none"/>
<rect x="405" y="1761.3" width="2.6" height="2" fill="#4a4a4a"/>
<rect x="412.6" y="1760.32" width="16.3" height="16.3" fill="#fff" stroke="#4a4a4a" stroke-width="2.75"/>
<path d="M420.75 1760.32V1764.57M416.45 1764.57H425.05M420.75 1776.62V1772.38M416.45 1772.38H425.05" stroke="#4a4a4a" stroke-width="1.8" fill="none"/>
<rect x="419.45" y="1767.47" width="2.6" height="2" fill="#4a4a4a"/>
<rect x="427.05" y="1762.38" width="16.3" height="16.3" fill="#fff" stroke="#4a4a4a" stroke-width="2.75"/>
<path d="M435.2 1762.38V1767.6M430.9 1767.6H439.5M435.2 1778.68V1773.46M430.9 1773.46H439.5" stroke="#4a4a4a" stroke-width="1.8" fill="none"/>
<rect x="433.9" y="1769.53" width="2.6" height="2" fill="#4a4a4a"/>
<rect x="441.5" y="1762.38" width="16.3" height="16.3" fill="#fff" stroke="#4a4a4a" stroke-width="2.75"/>
<path d="M449.65 1762.38V1767.84M445.35 1767.84H453.95M449.65 1778.68V1773.22M445.35 1773.22H453.95" stroke="#4a4a4a" stroke-width="1.8" fill="none"/>
<rect x="448.35" y="1769.53" width="2.6" height="2" fill="#4a4a4a"/>
<rect x="455.95" y="1762.38" width="16.3" height="16.3" fill="#fff" stroke="#4a4a4a" stroke-width="2.75"/>
<path d="M464.1 1762.38V1767.95M459.8 1767.95H468.4M464.1 1778.68V1773.1M459.8 1773.1H468.4" stroke="#4a4a4a" stroke-width="1.8" fill="none"/>
<rect x="462.8" y="1769.53" width="2.6" height="2" fill="#4a4a4a"/>
<rect x="470.4" y="1762.38" width="16.3" height="16.3" fill="#fff" stroke="#4a4a4a" stroke-width="2.75"/>
<path d="M478.55 1762.38V1766.96M474.25 1766.96H482.85M478.55 1778.68V1774.1M474.25 1774.1H482.85" stroke="#4a4a4a" stroke-width="1.8" fill="none"/>
<rect x="477.25" y="1769.53" width="2.6" height="2" fill="#4a4a4a"/>
<rect x="484.85" y="1760.32" width="16.3" height="16.3" fill="#fff" stroke="#4a4a4a" stroke-width="2.75"/>
<path d="M493 1760.32V1764.58M488.7 1764.58H497.3M493 1776.62V1772.36M488.7 1772.36H497.3" stroke="#4a4a4a" stroke-width="1.8" fill="none"/>
<rect x="491.7" y="1767.47" width="2.6" height="2" fill="#4a4a4a"/>
<rect x="499.3" y="1760.32" width="16.3" height="16.3" fill="#fff" stroke="#4a4a4a" stroke-width="2.75"/>
<path d="M507.45 1760.32V1764.48M503.15 1764.48H511.75M507.45 1776.62V1772.46M503.15 1772.46H511.75" stroke="#4a4a4a" stroke-width="1.8" fill="none"/>
<rect x="506.15" y="1767.47" width="2.6" height="2" fill="#4a4a4a"/>
<rect x="513.75" y="1758.26" width="16.3" height="16.3" fill="#fff" stroke="#4a4a4a" stroke-width="2.75"/>
<path d="M521.9 1758.26V1763.44M517.6 1763.44H526.2M521.9 1774.56V1769.39M517.6 1769.39H526.2" stroke="#4a4a4a" stroke-width="1.8" fill="none"/>
<rect x="520.6" y="1765.41" width="2.6" height="2" fill="#4a4a4a"/>
<rect x="528.2" y="1755.38" width="16.3" height="16.3" fill="#fff" stroke="#4a4a4a" stroke-width="2.75"/>
<path d="M536.35 1755.38V1760.42M532.05 1760.42H540.65M536.35 1771.68V1766.65M532.05 1766.65H540.65" stroke="#4a4a4a" stroke-width="1.8" fill="none"/>
<rect x="535.05" y="1762.53" width="2.6" height="2" fill="#4a4a4a"/>
<rect x="542.65" y="1760.32" width="16.3" height="16.3" fill="#fff" stroke="#4a4a4a" stroke-width="2.75"/>
<path d="M550.8 1760.32V1765.46M546.5 1765.46H555.1M550.8 1776.62V1771.49M546.5 1771.49H555.1" stroke="#4a4a4a" stroke-width="1.8" fill="none"/>
<rect x="549.5" y="1767.47" width="2.6" height="2" fill="#4a4a4a"/>
<rect x="557.1" y="1760.32" width="16.3" height="16.3" fill="#fff" stroke="#4a4a4a" stroke-width="2.75"/>
<path d="M565.25 1760.32V1764.61M560.95 1764.61H569.55M565.25 1776.62V1772.33M560.95 1772.33H569.55" stroke="#4a4a4a" stroke-width="1.8" fill="none"/>
<rect x="563.95" y="1767.47" width="2.6" height="2" fill="#4a4a4a"/>
<rect x="571.55" y="1760.32" width="16.3" height="16.3" fill="#fff" stroke="#4a4a4a" stroke-width="2.75"/>
<path d="M579.7 1760.32V1765.99M575.4 1765.99H584M579.7 1776.62V1770.96M575.4 1770.96H584" stroke="#4a4a4a" stroke-width="1.8" fill="none"/>
<rect x="578.4" y="1767.47" width="2.6" height="2" fill="#4a4a4a"/>
<path d="M146.2 1766.41L160.65 1730L175.1 1770.53L189.55 1632.71L204 1729.39L218.45 1702.65L232.9 1704.7L247.35 1714.99L261.8 1706.76L276.25 1727.33L290.7 1733.5L305.15 1749.96L319.6 1758.19L334.05 1756.13L348.5 1758.19L362.95 1747.9L377.4 1764.36L391.85 1748.52L406.3 1752.43L420.75 1756.34L435.2 1759.42L449.65 1760.24L464.1 1760.24L478.55 1764.36L493 1766.41L507.45 1769.5L521.9 1770.53L536.35 1770.53L550.8 1770.53L565.25 1770.53L579.7 1770.53" fill="none" stroke="#d63c44" stroke-width="2.5" stroke-linejoin="round"/>
<circle cx="146.2" cy="1766.41" r="9.6" fill="#fff" stroke="#d63c44" stroke-width="2.75"/>
<path d="M146.2 1756.81V1762.33M141.9 1762.33H150.5M146.2 1776.01V1770.5M141.9 1770.5H150.5" stroke="#d63c44" stroke-width="1.8" fill="none"/>
<rect x="144.9" y="1765.41" width="2.6" height="2" fill="#d63c44"/>
<circle cx="160.65" cy="1730" r="9.6" fill="#fff" stroke="#d63c44" stroke-width="2.75"/>
<path d="M160.65 1720.4V1725.45M156.35 1725.45H164.95M160.65 1739.6V1734.56M156.35 1734.56H164.95" stroke="#d63c44" stroke-width="1.8" fill="none"/>
<rect x="159.35" y="1729" width="2.6" height="2" fill="#d63c44"/>
<circle cx="175.1" cy="1770.53" r="9.6" fill="#fff" stroke="#d63c44" stroke-width="2.75"/>
<path d="M175.1 1760.93V1766.51M170.8 1766.51H179.4M175.1 1780.13V1774.55M170.8 1774.55H179.4" stroke="#d63c44" stroke-width="1.8" fill="none"/>
<rect x="173.8" y="1769.53" width="2.6" height="2" fill="#d63c44"/>
<circle cx="189.55" cy="1632.71" r="9.6" fill="#fff" stroke="#d63c44" stroke-width="2.75"/>
<path d="M189.55 1623.11V1622.42M185.25 1622.42H193.85M189.55 1642.31V1642.99M185.25 1642.99H193.85" stroke="#d63c44" stroke-width="1.8" fill="none"/>
<rect x="188.25" y="1631.71" width="2.6" height="2" fill="#d63c44"/>
<circle cx="204" cy="1729.39" r="9.6" fill="#fff" stroke="#d63c44" stroke-width="2.75"/>
<path d="M204 1719.79V1712.93M199.7 1712.93H208.3M204 1738.99V1745.84M199.7 1745.84H208.3" stroke="#d63c44" stroke-width="1.8" fill="none"/>
<rect x="202.7" y="1728.39" width="2.6" height="2" fill="#d63c44"/>
<circle cx="218.45" cy="1702.65" r="9.6" fill="#fff" stroke="#d63c44" stroke-width="2.75"/>
<path d="M218.45 1693.05V1692.36M214.15 1692.36H222.75M218.45 1712.25V1712.93M214.15 1712.93H222.75" stroke="#d63c44" stroke-width="1.8" fill="none"/>
<rect x="217.15" y="1701.65" width="2.6" height="2" fill="#d63c44"/>
<circle cx="232.9" cy="1704.7" r="9.6" fill="#fff" stroke="#d63c44" stroke-width="2.75"/>
<path d="M232.9 1695.1V1701.58M228.6 1701.58H237.2M232.9 1714.3V1707.82M228.6 1707.82H237.2" stroke="#d63c44" stroke-width="1.8" fill="none"/>
<rect x="231.6" y="1703.7" width="2.6" height="2" fill="#d63c44"/>
<circle cx="247.35" cy="1714.99" r="9.6" fill="#fff" stroke="#d63c44" stroke-width="2.75"/>
<path d="M247.35 1705.39V1712.45M243.05 1712.45H251.65M247.35 1724.59V1717.53M243.05 1717.53H251.65" stroke="#d63c44" stroke-width="1.8" fill="none"/>
<rect x="246.05" y="1713.99" width="2.6" height="2" fill="#d63c44"/>
<circle cx="261.8" cy="1706.76" r="9.6" fill="#fff" stroke="#d63c44" stroke-width="2.75"/>
<path d="M261.8 1697.16V1703.67M257.5 1703.67H266.1M261.8 1716.36V1709.85M257.5 1709.85H266.1" stroke="#d63c44" stroke-width="1.8" fill="none"/>
<rect x="260.5" y="1705.76" width="2.6" height="2" fill="#d63c44"/>
<circle cx="276.25" cy="1727.33" r="9.6" fill="#fff" stroke="#d63c44" stroke-width="2.75"/>
<path d="M276.25 1717.73V1724.19M271.95 1724.19H280.55M276.25 1736.93V1730.47M271.95 1730.47H280.55" stroke="#d63c44" stroke-width="1.8" fill="none"/>
<rect x="274.95" y="1726.33" width="2.6" height="2" fill="#d63c44"/>
<circle cx="290.7" cy="1733.5" r="9.6" fill="#fff" stroke="#d63c44" stroke-width="2.75"/>
<path d="M290.7 1723.9V1730.86M286.4 1730.86H295M290.7 1743.1V1736.15M286.4 1736.15H295" stroke="#d63c44" stroke-width="1.8" fill="none"/>
<rect x="289.4" y="1732.5" width="2.6" height="2" fill="#d63c44"/>
<circle cx="305.15" cy="1749.96" r="9.6" fill="#fff" stroke="#d63c44" stroke-width="2.75"/>
<path d="M305.15 1740.36V1745.48M300.85 1745.48H309.45M305.15 1759.56V1754.43M300.85 1754.43H309.45" stroke="#d63c44" stroke-width="1.8" fill="none"/>
<rect x="303.85" y="1748.96" width="2.6" height="2" fill="#d63c44"/>
<circle cx="319.6" cy="1758.19" r="9.6" fill="#fff" stroke="#d63c44" stroke-width="2.75"/>
<path d="M319.6 1748.59V1755.2M315.3 1755.2H323.9M319.6 1767.79V1761.18M315.3 1761.18H323.9" stroke="#d63c44" stroke-width="1.8" fill="none"/>
<rect x="318.3" y="1757.19" width="2.6" height="2" fill="#d63c44"/>
<circle cx="334.05" cy="1756.13" r="9.6" fill="#fff" stroke="#d63c44" stroke-width="2.75"/>
<path d="M334.05 1746.53V1753.41M329.75 1753.41H338.35M334.05 1765.73V1758.85M329.75 1758.85H338.35" stroke="#d63c44" stroke-width="1.8" fill="none"/>
<rect x="332.75" y="1755.13" width="2.6" height="2" fill="#d63c44"/>
<circle cx="348.5" cy="1758.19" r="9.6" fill="#fff" stroke="#d63c44" stroke-width="2.75"/>
<path d="M348.5 1748.59V1753.87M344.2 1753.87H352.8M348.5 1767.79V1762.5M344.2 1762.5H352.8" stroke="#d63c44" stroke-width="1.8" fill="none"/>
<rect x="347.2" y="1757.19" width="2.6" height="2" fill="#d63c44"/>
<circle cx="362.95" cy="1747.9" r="9.6" fill="#fff" stroke="#d63c44" stroke-width="2.75"/>
<path d="M362.95 1738.3V1745.34M358.65 1745.34H367.25M362.95 1757.5V1750.46M358.65 1750.46H367.25" stroke="#d63c44" stroke-width="1.8" fill="none"/>
<rect x="361.65" y="1746.9" width="2.6" height="2" fill="#d63c44"/>
<circle cx="377.4" cy="1764.36" r="9.6" fill="#fff" stroke="#d63c44" stroke-width="2.75"/>
<path d="M377.4 1754.76V1761.78M373.1 1761.78H381.7M377.4 1773.96V1766.94M373.1 1766.94H381.7" stroke="#d63c44" stroke-width="1.8" fill="none"/>
<rect x="376.1" y="1763.36" width="2.6" height="2" fill="#d63c44"/>
<circle cx="391.85" cy="1748.52" r="9.6" fill="#fff" stroke="#d63c44" stroke-width="2.75"/>
<path d="M391.85 1738.92V1745.67M387.55 1745.67H396.15M391.85 1758.12V1751.37M387.55 1751.37H396.15" stroke="#d63c44" stroke-width="1.8" fill="none"/>
<rect x="390.55" y="1747.52" width="2.6" height="2" fill="#d63c44"/>
<circle cx="406.3" cy="1752.43" r="9.6" fill="#fff" stroke="#d63c44" stroke-width="2.75"/>
<path d="M406.3 1742.83V1749.88M402 1749.88H410.6M406.3 1762.03V1754.97M402 1754.97H410.6" stroke="#d63c44" stroke-width="1.8" fill="none"/>
<rect x="405" y="1751.43" width="2.6" height="2" fill="#d63c44"/>
<circle cx="420.75" cy="1756.34" r="9.6" fill="#fff" stroke="#d63c44" stroke-width="2.75"/>
<path d="M420.75 1746.74V1752.89M416.45 1752.89H425.05M420.75 1765.94V1759.78M416.45 1759.78H425.05" stroke="#d63c44" stroke-width="1.8" fill="none"/>
<rect x="419.45" y="1755.34" width="2.6" height="2" fill="#d63c44"/>
<circle cx="435.2" cy="1759.42" r="9.6" fill="#fff" stroke="#d63c44" stroke-width="2.75"/>
<path d="M435.2 1749.82V1756.11M430.9 1756.11H439.5M435.2 1769.02V1762.73M430.9 1762.73H439.5" stroke="#d63c44" stroke-width="1.8" fill="none"/>
<rect x="433.9" y="1758.42" width="2.6" height="2" fill="#d63c44"/>
<circle cx="449.65" cy="1760.24" r="9.6" fill="#fff" stroke="#d63c44" stroke-width="2.75"/>
<path d="M449.65 1750.64V1756.06M445.35 1756.06H453.95M449.65 1769.84V1764.42M445.35 1764.42H453.95" stroke="#d63c44" stroke-width="1.8" fill="none"/>
<rect x="448.35" y="1759.24" width="2.6" height="2" fill="#d63c44"/>
<circle cx="464.1" cy="1760.24" r="9.6" fill="#fff" stroke="#d63c44" stroke-width="2.75"/>
<path d="M464.1 1750.64V1756.29M459.8 1756.29H468.4M464.1 1769.84V1764.2M459.8 1764.2H468.4" stroke="#d63c44" stroke-width="1.8" fill="none"/>
<rect x="462.8" y="1759.24" width="2.6" height="2" fill="#d63c44"/>
<circle cx="478.55" cy="1764.36" r="9.6" fill="#fff" stroke="#d63c44" stroke-width="2.75"/>
<path d="M478.55 1754.76V1762.2M474.25 1762.2H482.85M478.55 1773.96V1766.52M474.25 1766.52H482.85" stroke="#d63c44" stroke-width="1.8" fill="none"/>
<rect x="477.25" y="1763.36" width="2.6" height="2" fill="#d63c44"/>
<circle cx="493" cy="1766.41" r="9.6" fill="#fff" stroke="#d63c44" stroke-width="2.75"/>
<path d="M493 1756.81V1763.9M488.7 1763.9H497.3M493 1776.01V1768.93M488.7 1768.93H497.3" stroke="#d63c44" stroke-width="1.8" fill="none"/>
<rect x="491.7" y="1765.41" width="2.6" height="2" fill="#d63c44"/>
<circle cx="507.45" cy="1769.5" r="9.6" fill="#fff" stroke="#d63c44" stroke-width="2.75"/>
<path d="M507.45 1759.9V1764.98M503.15 1764.98H511.75M507.45 1779.1V1774.03M503.15 1774.03H511.75" stroke="#d63c44" stroke-width="1.8" fill="none"/>
<rect x="506.15" y="1768.5" width="2.6" height="2" fill="#d63c44"/>
<circle cx="521.9" cy="1770.53" r="9.6" fill="#fff" stroke="#d63c44" stroke-width="2.75"/>
<path d="M521.9 1760.93V1766.15M517.6 1766.15H526.2M521.9 1780.13V1774.91M517.6 1774.91H526.2" stroke="#d63c44" stroke-width="1.8" fill="none"/>
<rect x="520.6" y="1769.53" width="2.6" height="2" fill="#d63c44"/>
<circle cx="536.35" cy="1770.53" r="9.6" fill="#fff" stroke="#d63c44" stroke-width="2.75"/>
<path d="M536.35 1760.93V1768.25M532.05 1768.25H540.65M536.35 1780.13V1772.81M532.05 1772.81H540.65" stroke="#d63c44" stroke-width="1.8" fill="none"/>
<rect x="535.05" y="1769.53" width="2.6" height="2" fill="#d63c44"/>
<circle cx="550.8" cy="1770.53" r="9.6" fill="#fff" stroke="#d63c44" stroke-width="2.75"/>
<path d="M550.8 1760.93V1768.41M546.5 1768.41H555.1M550.8 1780.13V1772.65M546.5 1772.65H555.1" stroke="#d63c44" stroke-width="1.8" fill="none"/>
<rect x="549.5" y="1769.53" width="2.6" height="2" fill="#d63c44"/>
<circle cx="565.25" cy="1770.53" r="9.6" fill="#fff" stroke="#d63c44" stroke-width="2.75"/>
<path d="M565.25 1760.93V1767.85M560.95 1767.85H569.55M565.25 1780.13V1773.2M560.95 1773.2H569.55" stroke="#d63c44" stroke-width="1.8" fill="none"/>
<rect x="563.95" y="1769.53" width="2.6" height="2" fill="#d63c44"/>
<circle cx="579.7" cy="1770.53" r="9.6" fill="#fff" stroke="#d63c44" stroke-width="2.75"/>
<path d="M579.7 1760.93V1766.06M575.4 1766.06H584M579.7 1780.13V1774.99M575.4 1774.99H584" stroke="#d63c44" stroke-width="1.8" fill="none"/>
<rect x="578.4" y="1769.53" width="2.6" height="2" fill="#d63c44"/>
<path d="M146.2 1770.53L160.65 1731.44L175.1 1771.76L189.55 1622.42L204 1680.02L218.45 1671.79L232.9 1714.99L247.35 1725.27L261.8 1710.87L276.25 1729.39L290.7 1743.79L305.15 1752.02L319.6 1756.13L334.05 1760.24L348.5 1758.19L362.95 1759.42L377.4 1764.36L391.85 1764.36L406.3 1764.36L420.75 1766.41L435.2 1766.41L449.65 1766.41L464.1 1755.31L478.55 1768.47L493 1768.47L507.45 1769.29L521.9 1770.53L536.35 1770.53L550.8 1770.53L565.25 1770.53L579.7 1770.53" fill="none" stroke="#1e66cc" stroke-width="2.5" stroke-linejoin="round"/>
<polygon points="146.2,1758.06 157,1776.76 135.4,1776.76" fill="#fff" stroke="#1e66cc" stroke-width="2.75" stroke-linejoin="miter"/>
<path d="M146.2 1758.06V1766.12M141.9 1766.12H150.5M146.2 1776.76V1774.93M141.9 1774.93H150.5" stroke="#1e66cc" stroke-width="1.8" fill="none"/>
<rect x="144.9" y="1769.53" width="2.6" height="2" fill="#1e66cc"/>
<polygon points="160.65,1718.97 171.45,1737.68 149.85,1737.68" fill="#fff" stroke="#1e66cc" stroke-width="2.75" stroke-linejoin="miter"/>
<path d="M160.65 1718.97V1727.72M156.35 1727.72H164.95M160.65 1737.68V1735.17M156.35 1735.17H164.95" stroke="#1e66cc" stroke-width="1.8" fill="none"/>
<rect x="159.35" y="1730.44" width="2.6" height="2" fill="#1e66cc"/>
<polygon points="175.1,1759.29 185.9,1778 164.3,1778" fill="#fff" stroke="#1e66cc" stroke-width="2.75" stroke-linejoin="miter"/>
<path d="M175.1 1759.29V1767.42M170.8 1767.42H179.4M175.1 1778V1776.1M170.8 1776.1H179.4" stroke="#1e66cc" stroke-width="1.8" fill="none"/>
<rect x="173.8" y="1770.76" width="2.6" height="2" fill="#1e66cc"/>
<polygon points="189.55,1609.95 200.35,1628.66 178.75,1628.66" fill="#fff" stroke="#1e66cc" stroke-width="2.75" stroke-linejoin="miter"/>
<path d="M189.55 1609.95V1610.08M185.25 1610.08H193.85M189.55 1628.66V1634.76M185.25 1634.76H193.85" stroke="#1e66cc" stroke-width="1.8" fill="none"/>
<rect x="188.25" y="1621.42" width="2.6" height="2" fill="#1e66cc"/>
<polygon points="204,1667.55 214.8,1686.25 193.2,1686.25" fill="#fff" stroke="#1e66cc" stroke-width="2.75" stroke-linejoin="miter"/>
<path d="M204 1667.55V1676.48M199.7 1676.48H208.3M204 1686.25V1683.56M199.7 1683.56H208.3" stroke="#1e66cc" stroke-width="1.8" fill="none"/>
<rect x="202.7" y="1679.02" width="2.6" height="2" fill="#1e66cc"/>
<polygon points="218.45,1659.32 229.25,1678.03 207.65,1678.03" fill="#fff" stroke="#1e66cc" stroke-width="2.75" stroke-linejoin="miter"/>
<path d="M218.45 1659.32V1665.62M214.15 1665.62H222.75M218.45 1678.03V1677.96M214.15 1677.96H222.75" stroke="#1e66cc" stroke-width="1.8" fill="none"/>
<rect x="217.15" y="1670.79" width="2.6" height="2" fill="#1e66cc"/>
<polygon points="232.9,1702.52 243.7,1721.22 222.1,1721.22" fill="#fff" stroke="#1e66cc" stroke-width="2.75" stroke-linejoin="miter"/>
<path d="M232.9 1702.52V1712.95M228.6 1712.95H237.2M232.9 1721.22V1717.03M228.6 1717.03H237.2" stroke="#1e66cc" stroke-width="1.8" fill="none"/>
<rect x="231.6" y="1713.99" width="2.6" height="2" fill="#1e66cc"/>
<polygon points="247.35,1712.8 258.15,1731.51 236.55,1731.51" fill="#fff" stroke="#1e66cc" stroke-width="2.75" stroke-linejoin="miter"/>
<path d="M247.35 1712.8V1722.39M243.05 1722.39H251.65M247.35 1731.51V1728.15M243.05 1728.15H251.65" stroke="#1e66cc" stroke-width="1.8" fill="none"/>
<rect x="246.05" y="1724.27" width="2.6" height="2" fill="#1e66cc"/>
<polygon points="261.8,1698.4 272.6,1717.11 251,1717.11" fill="#fff" stroke="#1e66cc" stroke-width="2.75" stroke-linejoin="miter"/>
<path d="M261.8 1698.4V1708.04M257.5 1708.04H266.1M261.8 1717.11V1713.71M257.5 1713.71H266.1" stroke="#1e66cc" stroke-width="1.8" fill="none"/>
<rect x="260.5" y="1709.87" width="2.6" height="2" fill="#1e66cc"/>
<polygon points="276.25,1716.92 287.05,1735.62 265.45,1735.62" fill="#fff" stroke="#1e66cc" stroke-width="2.75" stroke-linejoin="miter"/>
<path d="M276.25 1716.92V1726.58M271.95 1726.58H280.55M276.25 1735.62V1732.2M271.95 1732.2H280.55" stroke="#1e66cc" stroke-width="1.8" fill="none"/>
<rect x="274.95" y="1728.39" width="2.6" height="2" fill="#1e66cc"/>
<polygon points="290.7,1731.32 301.5,1750.02 279.9,1750.02" fill="#fff" stroke="#1e66cc" stroke-width="2.75" stroke-linejoin="miter"/>
<path d="M290.7 1731.32V1740.74M286.4 1740.74H295M290.7 1750.02V1746.83M286.4 1746.83H295" stroke="#1e66cc" stroke-width="1.8" fill="none"/>
<rect x="289.4" y="1742.79" width="2.6" height="2" fill="#1e66cc"/>
<polygon points="305.15,1739.54 315.95,1758.25 294.35,1758.25" fill="#fff" stroke="#1e66cc" stroke-width="2.75" stroke-linejoin="miter"/>
<path d="M305.15 1739.54V1749.27M300.85 1749.27H309.45M305.15 1758.25V1754.76M300.85 1754.76H309.45" stroke="#1e66cc" stroke-width="1.8" fill="none"/>
<rect x="303.85" y="1751.02" width="2.6" height="2" fill="#1e66cc"/>
<polygon points="319.6,1743.66 330.4,1762.36 308.8,1762.36" fill="#fff" stroke="#1e66cc" stroke-width="2.75" stroke-linejoin="miter"/>
<path d="M319.6 1743.66V1752.1M315.3 1752.1H323.9M319.6 1762.36V1760.15M315.3 1760.15H323.9" stroke="#1e66cc" stroke-width="1.8" fill="none"/>
<rect x="318.3" y="1755.13" width="2.6" height="2" fill="#1e66cc"/>
<polygon points="334.05,1747.77 344.85,1766.48 323.25,1766.48" fill="#fff" stroke="#1e66cc" stroke-width="2.75" stroke-linejoin="miter"/>
<path d="M334.05 1747.77V1756.25M329.75 1756.25H338.35M334.05 1766.48V1764.24M329.75 1764.24H338.35" stroke="#1e66cc" stroke-width="1.8" fill="none"/>
<rect x="332.75" y="1759.24" width="2.6" height="2" fill="#1e66cc"/>
<polygon points="348.5,1745.72 359.3,1764.42 337.7,1764.42" fill="#fff" stroke="#1e66cc" stroke-width="2.75" stroke-linejoin="miter"/>
<path d="M348.5 1745.72V1755.89M344.2 1755.89H352.8M348.5 1764.42V1760.48M344.2 1760.48H352.8" stroke="#1e66cc" stroke-width="1.8" fill="none"/>
<rect x="347.2" y="1757.19" width="2.6" height="2" fill="#1e66cc"/>
<polygon points="362.95,1746.95 373.75,1765.66 352.15,1765.66" fill="#fff" stroke="#1e66cc" stroke-width="2.75" stroke-linejoin="miter"/>
<path d="M362.95 1746.95V1755.21M358.65 1755.21H367.25M362.95 1765.66V1763.63M358.65 1763.63H367.25" stroke="#1e66cc" stroke-width="1.8" fill="none"/>
<rect x="361.65" y="1758.42" width="2.6" height="2" fill="#1e66cc"/>
<polygon points="377.4,1751.89 388.2,1770.59 366.6,1770.59" fill="#fff" stroke="#1e66cc" stroke-width="2.75" stroke-linejoin="miter"/>
<path d="M377.4 1751.89V1761.38M373.1 1761.38H381.7M377.4 1770.59V1767.34M373.1 1767.34H381.7" stroke="#1e66cc" stroke-width="1.8" fill="none"/>
<rect x="376.1" y="1763.36" width="2.6" height="2" fill="#1e66cc"/>
<polygon points="391.85,1751.89 402.65,1770.59 381.05,1770.59" fill="#fff" stroke="#1e66cc" stroke-width="2.75" stroke-linejoin="miter"/>
<path d="M391.85 1751.89V1760.15M387.55 1760.15H396.15M391.85 1770.59V1768.56M387.55 1768.56H396.15" stroke="#1e66cc" stroke-width="1.8" fill="none"/>
<rect x="390.55" y="1763.36" width="2.6" height="2" fill="#1e66cc"/>
<polygon points="406.3,1751.89 417.1,1770.59 395.5,1770.59" fill="#fff" stroke="#1e66cc" stroke-width="2.75" stroke-linejoin="miter"/>
<path d="M406.3 1751.89V1761.43M402 1761.43H410.6M406.3 1770.59V1767.28M402 1767.28H410.6" stroke="#1e66cc" stroke-width="1.8" fill="none"/>
<rect x="405" y="1763.36" width="2.6" height="2" fill="#1e66cc"/>
<polygon points="420.75,1753.94 431.55,1772.65 409.95,1772.65" fill="#fff" stroke="#1e66cc" stroke-width="2.75" stroke-linejoin="miter"/>
<path d="M420.75 1753.94V1764.41M416.45 1764.41H425.05M420.75 1772.65V1768.42M416.45 1768.42H425.05" stroke="#1e66cc" stroke-width="1.8" fill="none"/>
<rect x="419.45" y="1765.41" width="2.6" height="2" fill="#1e66cc"/>
<polygon points="435.2,1753.94 446,1772.65 424.4,1772.65" fill="#fff" stroke="#1e66cc" stroke-width="2.75" stroke-linejoin="miter"/>
<path d="M435.2 1753.94V1763.18M430.9 1763.18H439.5M435.2 1772.65V1769.65M430.9 1769.65H439.5" stroke="#1e66cc" stroke-width="1.8" fill="none"/>
<rect x="433.9" y="1765.41" width="2.6" height="2" fill="#1e66cc"/>
<polygon points="449.65,1753.94 460.45,1772.65 438.85,1772.65" fill="#fff" stroke="#1e66cc" stroke-width="2.75" stroke-linejoin="miter"/>
<path d="M449.65 1753.94V1763.25M445.35 1763.25H453.95M449.65 1772.65V1769.58M445.35 1769.58H453.95" stroke="#1e66cc" stroke-width="1.8" fill="none"/>
<rect x="448.35" y="1765.41" width="2.6" height="2" fill="#1e66cc"/>
<polygon points="464.1,1742.84 474.9,1761.54 453.3,1761.54" fill="#fff" stroke="#1e66cc" stroke-width="2.75" stroke-linejoin="miter"/>
<path d="M464.1 1742.84V1751.45M459.8 1751.45H468.4M464.1 1761.54V1759.17M459.8 1759.17H468.4" stroke="#1e66cc" stroke-width="1.8" fill="none"/>
<rect x="462.8" y="1754.31" width="2.6" height="2" fill="#1e66cc"/>
<polygon points="478.55,1756 489.35,1774.71 467.75,1774.71" fill="#fff" stroke="#1e66cc" stroke-width="2.75" stroke-linejoin="miter"/>
<path d="M478.55 1756V1763.91M474.25 1763.91H482.85M478.55 1774.71V1773.03M474.25 1773.03H482.85" stroke="#1e66cc" stroke-width="1.8" fill="none"/>
<rect x="477.25" y="1767.47" width="2.6" height="2" fill="#1e66cc"/>
<polygon points="493,1756 503.8,1774.71 482.2,1774.71" fill="#fff" stroke="#1e66cc" stroke-width="2.75" stroke-linejoin="miter"/>
<path d="M493 1756V1764.22M488.7 1764.22H497.3M493 1774.71V1772.73M488.7 1772.73H497.3" stroke="#1e66cc" stroke-width="1.8" fill="none"/>
<rect x="491.7" y="1767.47" width="2.6" height="2" fill="#1e66cc"/>
<polygon points="507.45,1756.82 518.25,1775.53 496.65,1775.53" fill="#fff" stroke="#1e66cc" stroke-width="2.75" stroke-linejoin="miter"/>
<path d="M507.45 1756.82V1765.23M503.15 1765.23H511.75M507.45 1775.53V1773.36M503.15 1773.36H511.75" stroke="#1e66cc" stroke-width="1.8" fill="none"/>
<rect x="506.15" y="1768.29" width="2.6" height="2" fill="#1e66cc"/>
<polygon points="521.9,1758.06 532.7,1776.76 511.1,1776.76" fill="#fff" stroke="#1e66cc" stroke-width="2.75" stroke-linejoin="miter"/>
<path d="M521.9 1758.06V1768.35M517.6 1768.35H526.2M521.9 1776.76V1772.71M517.6 1772.71H526.2" stroke="#1e66cc" stroke-width="1.8" fill="none"/>
<rect x="520.6" y="1769.53" width="2.6" height="2" fill="#1e66cc"/>
<polygon points="536.35,1758.06 547.15,1776.76 525.55,1776.76" fill="#fff" stroke="#1e66cc" stroke-width="2.75" stroke-linejoin="miter"/>
<path d="M536.35 1758.06V1766.34M532.05 1766.34H540.65M536.35 1776.76V1774.71M532.05 1774.71H540.65" stroke="#1e66cc" stroke-width="1.8" fill="none"/>
<rect x="535.05" y="1769.53" width="2.6" height="2" fill="#1e66cc"/>
<polygon points="550.8,1758.06 561.6,1776.76 540,1776.76" fill="#fff" stroke="#1e66cc" stroke-width="2.75" stroke-linejoin="miter"/>
<path d="M550.8 1758.06V1766.24M546.5 1766.24H555.1M550.8 1776.76V1774.81M546.5 1774.81H555.1" stroke="#1e66cc" stroke-width="1.8" fill="none"/>
<rect x="549.5" y="1769.53" width="2.6" height="2" fill="#1e66cc"/>
<polygon points="565.25,1758.06 576.05,1776.76 554.45,1776.76" fill="#fff" stroke="#1e66cc" stroke-width="2.75" stroke-linejoin="miter"/>
<path d="M565.25 1758.06V1768.41M560.95 1768.41H569.55M565.25 1776.76V1772.64M560.95 1772.64H569.55" stroke="#1e66cc" stroke-width="1.8" fill="none"/>
<rect x="563.95" y="1769.53" width="2.6" height="2" fill="#1e66cc"/>
<polygon points="579.7,1758.06 590.5,1776.76 568.9,1776.76" fill="#fff" stroke="#1e66cc" stroke-width="2.75" stroke-linejoin="miter"/>
<path d="M579.7 1758.06V1768.27M575.4 1768.27H584M579.7 1776.76V1772.79M575.4 1772.79H584" stroke="#1e66cc" stroke-width="1.8" fill="none"/>
<rect x="578.4" y="1769.53" width="2.6" height="2" fill="#1e66cc"/>
<path d="M146.2 1774.64L160.65 1745.84L175.1 1768.47L189.55 1708.82L204 1704.7L218.45 1719.93L232.9 1684.13L247.35 1758.19L261.8 1758.19L276.25 1758.19L290.7 1759.22L305.15 1760.24L319.6 1766.41L334.05 1767.44L348.5 1768.47L362.95 1768.47L377.4 1767.44L391.85 1767.44L406.3 1767.44L420.75 1767.44L435.2 1767.44L449.65 1767.44L464.1 1756.13L478.55 1767.44L493 1768.06L507.45 1768.06L521.9 1768.27L536.35 1768.27L550.8 1768.27L565.25 1768.27L579.7 1768.27" fill="none" stroke="#3ea66c" stroke-width="2.5" stroke-linejoin="round"/>
<polygon points="146.2,1787.11 157,1768.41 135.4,1768.41" fill="#fff" stroke="#3ea66c" stroke-width="2.75" stroke-linejoin="miter"/>
<path d="M146.2 1768.41V1771.48M141.9 1771.48H150.5M146.2 1787.11V1777.81M141.9 1777.81H150.5" stroke="#3ea66c" stroke-width="1.8" fill="none"/>
<rect x="144.9" y="1773.64" width="2.6" height="2" fill="#3ea66c"/>
<polygon points="160.65,1758.31 171.45,1739.61 149.85,1739.61" fill="#fff" stroke="#3ea66c" stroke-width="2.75" stroke-linejoin="miter"/>
<path d="M160.65 1739.61V1741.77M156.35 1741.77H164.95M160.65 1758.31V1749.91M156.35 1749.91H164.95" stroke="#3ea66c" stroke-width="1.8" fill="none"/>
<rect x="159.35" y="1744.84" width="2.6" height="2" fill="#3ea66c"/>
<polygon points="175.1,1780.94 185.9,1762.24 164.3,1762.24" fill="#fff" stroke="#3ea66c" stroke-width="2.75" stroke-linejoin="miter"/>
<path d="M175.1 1762.24V1764.71M170.8 1764.71H179.4M175.1 1780.94V1772.23M170.8 1772.23H179.4" stroke="#3ea66c" stroke-width="1.8" fill="none"/>
<rect x="173.8" y="1767.47" width="2.6" height="2" fill="#3ea66c"/>
<polygon points="189.55,1721.29 200.35,1702.58 178.75,1702.58" fill="#fff" stroke="#3ea66c" stroke-width="2.75" stroke-linejoin="miter"/>
<path d="M189.55 1702.58V1705.4M185.25 1705.4H193.85M189.55 1721.29V1712.24M185.25 1712.24H193.85" stroke="#3ea66c" stroke-width="1.8" fill="none"/>
<rect x="188.25" y="1707.82" width="2.6" height="2" fill="#3ea66c"/>
<polygon points="204,1717.17 214.8,1698.47 193.2,1698.47" fill="#fff" stroke="#3ea66c" stroke-width="2.75" stroke-linejoin="miter"/>
<path d="M204 1698.47V1700.38M199.7 1700.38H208.3M204 1717.17V1709.02M199.7 1709.02H208.3" stroke="#3ea66c" stroke-width="1.8" fill="none"/>
<rect x="202.7" y="1703.7" width="2.6" height="2" fill="#3ea66c"/>
<polygon points="218.45,1732.4 229.25,1713.69 207.65,1713.69" fill="#fff" stroke="#3ea66c" stroke-width="2.75" stroke-linejoin="miter"/>
<path d="M218.45 1713.69V1717.72M214.15 1717.72H222.75M218.45 1732.4V1722.13M214.15 1722.13H222.75" stroke="#3ea66c" stroke-width="1.8" fill="none"/>
<rect x="217.15" y="1718.93" width="2.6" height="2" fill="#3ea66c"/>
<polygon points="232.9,1696.6 243.7,1677.9 222.1,1677.9" fill="#fff" stroke="#3ea66c" stroke-width="2.75" stroke-linejoin="miter"/>
<path d="M232.9 1677.9V1681.42M228.6 1681.42H237.2M232.9 1696.6V1686.85M228.6 1686.85H237.2" stroke="#3ea66c" stroke-width="1.8" fill="none"/>
<rect x="231.6" y="1683.13" width="2.6" height="2" fill="#3ea66c"/>
<polygon points="247.35,1770.66 258.15,1751.95 236.55,1751.95" fill="#fff" stroke="#3ea66c" stroke-width="2.75" stroke-linejoin="miter"/>
<path d="M247.35 1751.95V1756.14M243.05 1756.14H251.65M247.35 1770.66V1760.24M243.05 1760.24H251.65" stroke="#3ea66c" stroke-width="1.8" fill="none"/>
<rect x="246.05" y="1757.19" width="2.6" height="2" fill="#3ea66c"/>
<polygon points="261.8,1770.66 272.6,1751.95 251,1751.95" fill="#fff" stroke="#3ea66c" stroke-width="2.75" stroke-linejoin="miter"/>
<path d="M261.8 1751.95V1754.33M257.5 1754.33H266.1M261.8 1770.66V1762.05M257.5 1762.05H266.1" stroke="#3ea66c" stroke-width="1.8" fill="none"/>
<rect x="260.5" y="1757.19" width="2.6" height="2" fill="#3ea66c"/>
<polygon points="276.25,1770.66 287.05,1751.95 265.45,1751.95" fill="#fff" stroke="#3ea66c" stroke-width="2.75" stroke-linejoin="miter"/>
<path d="M276.25 1751.95V1754.87M271.95 1754.87H280.55M276.25 1770.66V1761.51M271.95 1761.51H280.55" stroke="#3ea66c" stroke-width="1.8" fill="none"/>
<rect x="274.95" y="1757.19" width="2.6" height="2" fill="#3ea66c"/>
<polygon points="290.7,1771.69 301.5,1752.98 279.9,1752.98" fill="#fff" stroke="#3ea66c" stroke-width="2.75" stroke-linejoin="miter"/>
<path d="M290.7 1752.98V1756.68M286.4 1756.68H295M290.7 1771.69V1761.75M286.4 1761.75H295" stroke="#3ea66c" stroke-width="1.8" fill="none"/>
<rect x="289.4" y="1758.22" width="2.6" height="2" fill="#3ea66c"/>
<polygon points="305.15,1772.71 315.95,1754.01 294.35,1754.01" fill="#fff" stroke="#3ea66c" stroke-width="2.75" stroke-linejoin="miter"/>
<path d="M305.15 1754.01V1756.31M300.85 1756.31H309.45M305.15 1772.71V1764.18M300.85 1764.18H309.45" stroke="#3ea66c" stroke-width="1.8" fill="none"/>
<rect x="303.85" y="1759.24" width="2.6" height="2" fill="#3ea66c"/>
<polygon points="319.6,1778.89 330.4,1760.18 308.8,1760.18" fill="#fff" stroke="#3ea66c" stroke-width="2.75" stroke-linejoin="miter"/>
<path d="M319.6 1760.18V1762.42M315.3 1762.42H323.9M319.6 1778.89V1770.41M315.3 1770.41H323.9" stroke="#3ea66c" stroke-width="1.8" fill="none"/>
<rect x="318.3" y="1765.41" width="2.6" height="2" fill="#3ea66c"/>
<polygon points="334.05,1779.91 344.85,1761.21 323.25,1761.21" fill="#fff" stroke="#3ea66c" stroke-width="2.75" stroke-linejoin="miter"/>
<path d="M334.05 1761.21V1765.43M329.75 1765.43H338.35M334.05 1779.91V1769.46M329.75 1769.46H338.35" stroke="#3ea66c" stroke-width="1.8" fill="none"/>
<rect x="332.75" y="1766.44" width="2.6" height="2" fill="#3ea66c"/>
<polygon points="348.5,1780.94 359.3,1762.24 337.7,1762.24" fill="#fff" stroke="#3ea66c" stroke-width="2.75" stroke-linejoin="miter"/>
<path d="M348.5 1762.24V1765.08M344.2 1765.08H352.8M348.5 1780.94V1771.86M344.2 1771.86H352.8" stroke="#3ea66c" stroke-width="1.8" fill="none"/>
<rect x="347.2" y="1767.47" width="2.6" height="2" fill="#3ea66c"/>
<polygon points="362.95,1780.94 373.75,1762.24 352.15,1762.24" fill="#fff" stroke="#3ea66c" stroke-width="2.75" stroke-linejoin="miter"/>
<path d="M362.95 1762.24V1765.93M358.65 1765.93H367.25M362.95 1780.94V1771.02M358.65 1771.02H367.25" stroke="#3ea66c" stroke-width="1.8" fill="none"/>
<rect x="361.65" y="1767.47" width="2.6" height="2" fill="#3ea66c"/>
<polygon points="377.4,1779.91 388.2,1761.21 366.6,1761.21" fill="#fff" stroke="#3ea66c" stroke-width="2.75" stroke-linejoin="miter"/>
<path d="M377.4 1761.21V1765.13M373.1 1765.13H381.7M377.4 1779.91V1769.76M373.1 1769.76H381.7" stroke="#3ea66c" stroke-width="1.8" fill="none"/>
<rect x="376.1" y="1766.44" width="2.6" height="2" fill="#3ea66c"/>
<polygon points="391.85,1779.91 402.65,1761.21 381.05,1761.21" fill="#fff" stroke="#3ea66c" stroke-width="2.75" stroke-linejoin="miter"/>
<path d="M391.85 1761.21V1764.3M387.55 1764.3H396.15M391.85 1779.91V1770.59M387.55 1770.59H396.15" stroke="#3ea66c" stroke-width="1.8" fill="none"/>
<rect x="390.55" y="1766.44" width="2.6" height="2" fill="#3ea66c"/>
<polygon points="406.3,1779.91 417.1,1761.21 395.5,1761.21" fill="#fff" stroke="#3ea66c" stroke-width="2.75" stroke-linejoin="miter"/>
<path d="M406.3 1761.21V1763.71M402 1763.71H410.6M406.3 1779.91V1771.18M402 1771.18H410.6" stroke="#3ea66c" stroke-width="1.8" fill="none"/>
<rect x="405" y="1766.44" width="2.6" height="2" fill="#3ea66c"/>
<polygon points="420.75,1779.91 431.55,1761.21 409.95,1761.21" fill="#fff" stroke="#3ea66c" stroke-width="2.75" stroke-linejoin="miter"/>
<path d="M420.75 1761.21V1763.55M416.45 1763.55H425.05M420.75 1779.91V1771.34M416.45 1771.34H425.05" stroke="#3ea66c" stroke-width="1.8" fill="none"/>
<rect x="419.45" y="1766.44" width="2.6" height="2" fill="#3ea66c"/>
<polygon points="435.2,1779.91 446,1761.21 424.4,1761.21" fill="#fff" stroke="#3ea66c" stroke-width="2.75" stroke-linejoin="miter"/>
<path d="M435.2 1761.21V1763.21M430.9 1763.21H439.5M435.2 1779.91V1771.68M430.9 1771.68H439.5" stroke="#3ea66c" stroke-width="1.8" fill="none"/>
<rect x="433.9" y="1766.44" width="2.6" height="2" fill="#3ea66c"/>
<polygon points="449.65,1779.91 460.45,1761.21 438.85,1761.21" fill="#fff" stroke="#3ea66c" stroke-width="2.75" stroke-linejoin="miter"/>
<path d="M449.65 1761.21V1764.85M445.35 1764.85H453.95M449.65 1779.91V1770.03M445.35 1770.03H453.95" stroke="#3ea66c" stroke-width="1.8" fill="none"/>
<rect x="448.35" y="1766.44" width="2.6" height="2" fill="#3ea66c"/>
<polygon points="464.1,1768.6 474.9,1749.89 453.3,1749.89" fill="#fff" stroke="#3ea66c" stroke-width="2.75" stroke-linejoin="miter"/>
<path d="M464.1 1749.89V1751.79M459.8 1751.79H468.4M464.1 1768.6V1760.47M459.8 1760.47H468.4" stroke="#3ea66c" stroke-width="1.8" fill="none"/>
<rect x="462.8" y="1755.13" width="2.6" height="2" fill="#3ea66c"/>
<polygon points="478.55,1779.91 489.35,1761.21 467.75,1761.21" fill="#fff" stroke="#3ea66c" stroke-width="2.75" stroke-linejoin="miter"/>
<path d="M478.55 1761.21V1764.44M474.25 1764.44H482.85M478.55 1779.91V1770.44M474.25 1770.44H482.85" stroke="#3ea66c" stroke-width="1.8" fill="none"/>
<rect x="477.25" y="1766.44" width="2.6" height="2" fill="#3ea66c"/>
<polygon points="493,1780.53 503.8,1761.82 482.2,1761.82" fill="#fff" stroke="#3ea66c" stroke-width="2.75" stroke-linejoin="miter"/>
<path d="M493 1761.82V1764.25M488.7 1764.25H497.3M493 1780.53V1771.87M488.7 1771.87H497.3" stroke="#3ea66c" stroke-width="1.8" fill="none"/>
<rect x="491.7" y="1767.06" width="2.6" height="2" fill="#3ea66c"/>
<polygon points="507.45,1780.53 518.25,1761.82 496.65,1761.82" fill="#fff" stroke="#3ea66c" stroke-width="2.75" stroke-linejoin="miter"/>
<path d="M507.45 1761.82V1765.2M503.15 1765.2H511.75M507.45 1780.53V1770.92M503.15 1770.92H511.75" stroke="#3ea66c" stroke-width="1.8" fill="none"/>
<rect x="506.15" y="1767.06" width="2.6" height="2" fill="#3ea66c"/>
<polygon points="521.9,1780.74 532.7,1762.03 511.1,1762.03" fill="#fff" stroke="#3ea66c" stroke-width="2.75" stroke-linejoin="miter"/>
<path d="M521.9 1762.03V1764.25M517.6 1764.25H526.2M521.9 1780.74V1772.29M517.6 1772.29H526.2" stroke="#3ea66c" stroke-width="1.8" fill="none"/>
<rect x="520.6" y="1767.27" width="2.6" height="2" fill="#3ea66c"/>
<polygon points="536.35,1780.74 547.15,1762.03 525.55,1762.03" fill="#fff" stroke="#3ea66c" stroke-width="2.75" stroke-linejoin="miter"/>
<path d="M536.35 1762.03V1766.1M532.05 1766.1H540.65M536.35 1780.74V1770.43M532.05 1770.43H540.65" stroke="#3ea66c" stroke-width="1.8" fill="none"/>
<rect x="535.05" y="1767.27" width="2.6" height="2" fill="#3ea66c"/>
<polygon points="550.8,1780.74 561.6,1762.03 540,1762.03" fill="#fff" stroke="#3ea66c" stroke-width="2.75" stroke-linejoin="miter"/>
<path d="M550.8 1762.03V1764.37M546.5 1764.37H555.1M550.8 1780.74V1772.16M546.5 1772.16H555.1" stroke="#3ea66c" stroke-width="1.8" fill="none"/>
<rect x="549.5" y="1767.27" width="2.6" height="2" fill="#3ea66c"/>
<polygon points="565.25,1780.74 576.05,1762.03 554.45,1762.03" fill="#fff" stroke="#3ea66c" stroke-width="2.75" stroke-linejoin="miter"/>
<path d="M565.25 1762.03V1765.23M560.95 1765.23H569.55M565.25 1780.74V1771.31M560.95 1771.31H569.55" stroke="#3ea66c" stroke-width="1.8" fill="none"/>
<rect x="563.95" y="1767.27" width="2.6" height="2" fill="#3ea66c"/>
<polygon points="579.7,1780.74 590.5,1762.03 568.9,1762.03" fill="#fff" stroke="#3ea66c" stroke-width="2.75" stroke-linejoin="miter"/>
<path d="M579.7 1762.03V1765.16M575.4 1765.16H584M579.7 1780.74V1771.37M575.4 1771.37H584" stroke="#3ea66c" stroke-width="1.8" fill="none"/>
<rect x="578.4" y="1767.27" width="2.6" height="2" fill="#3ea66c"/>
</g>
<rect x="146.2" y="1427" width="441.2" height="349.7" fill="none" stroke="#000" stroke-width="3.0"/>
<path d="M144.7 1776.7h-5.9M144.7 1714.99h-5.9M144.7 1653.28h-5.9M144.7 1591.56h-5.9M144.7 1529.85h-5.9M144.7 1468.14h-5.9M146.2 1778.2v4.9M218.45 1778.2v4.9M290.7 1778.2v4.9M362.95 1778.2v4.9M435.2 1778.2v4.9M507.45 1778.2v4.9M579.7 1778.2v4.9" stroke="#000" stroke-width="3" fill="none"/>
<path d="M144.7 1745.84h-2.3M144.7 1684.13h-2.3M144.7 1622.42h-2.3M144.7 1560.71h-2.3M144.7 1499h-2.3M144.7 1437.29h-2.3M182.32 1778.2v2.1M254.57 1778.2v2.1M326.82 1778.2v2.1M399.07 1778.2v2.1M471.32 1778.2v2.1M543.58 1778.2v2.1" stroke="#000" stroke-width="2.6" fill="none"/>
<text x="134.6" y="1782.6" text-anchor="end" font-size="19">0</text>
<text x="134.6" y="1720.89" text-anchor="end" font-size="19">30</text>
<text x="134.6" y="1659.18" text-anchor="end" font-size="19">60</text>
<text x="134.6" y="1597.46" text-anchor="end" font-size="19">90</text>
<text x="134.6" y="1535.75" text-anchor="end" font-size="19">120</text>
<text x="134.6" y="1474.04" text-anchor="end" font-size="19">150</text>
<text x="146.2" y="1804.4" text-anchor="middle" font-size="20.5">0</text>
<text x="218.45" y="1804.4" text-anchor="middle" font-size="20.5">5</text>
<text x="290.7" y="1804.4" text-anchor="middle" font-size="20.5">10</text>
<text x="362.95" y="1804.4" text-anchor="middle" font-size="20.5">15</text>
<text x="435.2" y="1804.4" text-anchor="middle" font-size="20.5">20</text>
<text x="507.45" y="1804.4" text-anchor="middle" font-size="20.5">25</text>
<text x="579.7" y="1804.4" text-anchor="middle" font-size="20.5">30</text>
<text x="357.2" y="1839.1" text-anchor="middle" font-size="19.7" font-weight="bold">Day (d)</text>
<text x="149.7" y="1452.6" font-size="19" font-weight="bold">(g)</text>
<text transform="translate(81,1601.2) rotate(-90)" text-anchor="middle" font-size="20.2" font-weight="bold">NH<tspan font-size="13.4" dy="5.6">3</tspan><tspan dy="-5.6">&#8203;</tspan> Emission (mg / kg DM / d)</text>
<clipPath id="cliph"><rect x="707.6" y="1427" width="441.9" height="349.7"/></clipPath>
<g clip-path="url(#cliph)">
<path d="M707.6 1774.27L722.07 1753.87L736.54 1725.22L751.01 1647.99L765.48 1604.28L779.95 1570.28L794.42 1554.74L808.89 1541.62L823.36 1527.05L837.83 1515.88L852.3 1509.08L866.77 1503.25L881.24 1498.88L895.71 1495.97L910.18 1494.03L924.65 1491.6L939.12 1484.31L953.59 1480.43L968.06 1477.03L982.53 1475.08L997 1473.63L1011.47 1472.17L1025.94 1470.71L1040.41 1469.26L1054.88 1467.31L1069.35 1465.37L1083.82 1462.94L1098.29 1460.51L1112.76 1458.08L1127.23 1455.66L1141.7 1452.26" fill="none" stroke="#4a4a4a" stroke-width="2.5" stroke-linejoin="round"/>
<rect x="699.45" y="1766.12" width="16.3" height="16.3" fill="#fff" stroke="#4a4a4a" stroke-width="2.75"/>
<path d="M707.6 1766.12V1772.62M703.3 1772.62H711.9M707.6 1782.42V1775.92M703.3 1775.92H711.9" stroke="#4a4a4a" stroke-width="1.8" fill="none"/>
<rect x="706.3" y="1773.27" width="2.6" height="2" fill="#4a4a4a"/>
<rect x="713.92" y="1745.72" width="16.3" height="16.3" fill="#fff" stroke="#4a4a4a" stroke-width="2.75"/>
<path d="M722.07 1745.72V1751.25M717.77 1751.25H726.37M722.07 1762.02V1756.5M717.77 1756.5H726.37" stroke="#4a4a4a" stroke-width="1.8" fill="none"/>
<rect x="720.77" y="1752.87" width="2.6" height="2" fill="#4a4a4a"/>
<rect x="728.39" y="1717.07" width="16.3" height="16.3" fill="#fff" stroke="#4a4a4a" stroke-width="2.75"/>
<path d="M736.54 1717.07V1721.92M732.24 1721.92H740.84M736.54 1733.37V1728.51M732.24 1728.51H740.84" stroke="#4a4a4a" stroke-width="1.8" fill="none"/>
<rect x="735.24" y="1724.22" width="2.6" height="2" fill="#4a4a4a"/>
<rect x="742.86" y="1639.84" width="16.3" height="16.3" fill="#fff" stroke="#4a4a4a" stroke-width="2.75"/>
<path d="M751.01 1639.84V1645.64M746.71 1645.64H755.31M751.01 1656.14V1650.34M746.71 1650.34H755.31" stroke="#4a4a4a" stroke-width="1.8" fill="none"/>
<rect x="749.71" y="1646.99" width="2.6" height="2" fill="#4a4a4a"/>
<rect x="757.33" y="1596.13" width="16.3" height="16.3" fill="#fff" stroke="#4a4a4a" stroke-width="2.75"/>
<path d="M765.48 1596.13V1601.65M761.18 1601.65H769.78M765.48 1612.43V1606.9M761.18 1606.9H769.78" stroke="#4a4a4a" stroke-width="1.8" fill="none"/>
<rect x="764.18" y="1603.28" width="2.6" height="2" fill="#4a4a4a"/>
<rect x="771.8" y="1562.13" width="16.3" height="16.3" fill="#fff" stroke="#4a4a4a" stroke-width="2.75"/>
<path d="M779.95 1562.13V1567.86M775.65 1567.86H784.25M779.95 1578.43V1572.7M775.65 1572.7H784.25" stroke="#4a4a4a" stroke-width="1.8" fill="none"/>
<rect x="778.65" y="1569.28" width="2.6" height="2" fill="#4a4a4a"/>
<rect x="786.27" y="1546.59" width="16.3" height="16.3" fill="#fff" stroke="#4a4a4a" stroke-width="2.75"/>
<path d="M794.42 1546.59V1552.33M790.12 1552.33H798.72M794.42 1562.89V1557.15M790.12 1557.15H798.72" stroke="#4a4a4a" stroke-width="1.8" fill="none"/>
<rect x="793.12" y="1553.74" width="2.6" height="2" fill="#4a4a4a"/>
<rect x="800.74" y="1533.47" width="16.3" height="16.3" fill="#fff" stroke="#4a4a4a" stroke-width="2.75"/>
<path d="M808.89 1533.47V1539.79M804.59 1539.79H813.19M808.89 1549.77V1543.45M804.59 1543.45H813.19" stroke="#4a4a4a" stroke-width="1.8" fill="none"/>
<rect x="807.59" y="1540.62" width="2.6" height="2" fill="#4a4a4a"/>
<rect x="815.21" y="1518.9" width="16.3" height="16.3" fill="#fff" stroke="#4a4a4a" stroke-width="2.75"/>
<path d="M823.36 1518.9V1525.02M819.06 1525.02H827.66M823.36 1535.2V1529.09M819.06 1529.09H827.66" stroke="#4a4a4a" stroke-width="1.8" fill="none"/>
<rect x="822.06" y="1526.05" width="2.6" height="2" fill="#4a4a4a"/>
<rect x="829.68" y="1507.73" width="16.3" height="16.3" fill="#fff" stroke="#4a4a4a" stroke-width="2.75"/>
<path d="M837.83 1507.73V1514.28M833.53 1514.28H842.13M837.83 1524.03V1517.48M833.53 1517.48H842.13" stroke="#4a4a4a" stroke-width="1.8" fill="none"/>
<rect x="836.53" y="1514.88" width="2.6" height="2" fill="#4a4a4a"/>
<rect x="844.15" y="1500.93" width="16.3" height="16.3" fill="#fff" stroke="#4a4a4a" stroke-width="2.75"/>
<path d="M852.3 1500.93V1506.76M848 1506.76H856.6M852.3 1517.23V1511.4M848 1511.4H856.6" stroke="#4a4a4a" stroke-width="1.8" fill="none"/>
<rect x="851" y="1508.08" width="2.6" height="2" fill="#4a4a4a"/>
<rect x="858.62" y="1495.1" width="16.3" height="16.3" fill="#fff" stroke="#4a4a4a" stroke-width="2.75"/>
<path d="M866.77 1495.1V1501.4M862.47 1501.4H871.07M866.77 1511.4V1505.1M862.47 1505.1H871.07" stroke="#4a4a4a" stroke-width="1.8" fill="none"/>
<rect x="865.47" y="1502.25" width="2.6" height="2" fill="#4a4a4a"/>
<rect x="873.09" y="1490.73" width="16.3" height="16.3" fill="#fff" stroke="#4a4a4a" stroke-width="2.75"/>
<path d="M881.24 1490.73V1497.17M876.94 1497.17H885.54M881.24 1507.03V1500.6M876.94 1500.6H885.54" stroke="#4a4a4a" stroke-width="1.8" fill="none"/>
<rect x="879.94" y="1497.88" width="2.6" height="2" fill="#4a4a4a"/>
<rect x="887.56" y="1487.82" width="16.3" height="16.3" fill="#fff" stroke="#4a4a4a" stroke-width="2.75"/>
<path d="M895.71 1487.82V1493.39M891.41 1493.39H900.01M895.71 1504.12V1498.55M891.41 1498.55H900.01" stroke="#4a4a4a" stroke-width="1.8" fill="none"/>
<rect x="894.41" y="1494.97" width="2.6" height="2" fill="#4a4a4a"/>
<rect x="902.03" y="1485.88" width="16.3" height="16.3" fill="#fff" stroke="#4a4a4a" stroke-width="2.75"/>

<rect x="908.88" y="1493.03" width="2.6" height="2" fill="#4a4a4a"/>
<rect x="916.5" y="1483.45" width="16.3" height="16.3" fill="#fff" stroke="#4a4a4a" stroke-width="2.75"/>
<path d="M924.65 1483.45V1489.75M920.35 1489.75H928.95M924.65 1499.75V1493.44M920.35 1493.44H928.95" stroke="#4a4a4a" stroke-width="1.8" fill="none"/>
<rect x="923.35" y="1490.6" width="2.6" height="2" fill="#4a4a4a"/>
<rect x="930.97" y="1476.16" width="16.3" height="16.3" fill="#fff" stroke="#4a4a4a" stroke-width="2.75"/>
<path d="M939.12 1476.16V1481.97M934.82 1481.97H943.42M939.12 1492.46V1486.65M934.82 1486.65H943.42" stroke="#4a4a4a" stroke-width="1.8" fill="none"/>
<rect x="937.82" y="1483.31" width="2.6" height="2" fill="#4a4a4a"/>
<rect x="945.44" y="1472.28" width="16.3" height="16.3" fill="#fff" stroke="#4a4a4a" stroke-width="2.75"/>
<path d="M953.59 1472.28V1478.41M949.29 1478.41H957.89M953.59 1488.58V1482.45M949.29 1482.45H957.89" stroke="#4a4a4a" stroke-width="1.8" fill="none"/>
<rect x="952.29" y="1479.43" width="2.6" height="2" fill="#4a4a4a"/>
<rect x="959.91" y="1468.88" width="16.3" height="16.3" fill="#fff" stroke="#4a4a4a" stroke-width="2.75"/>
<path d="M968.06 1468.88V1473.99M963.76 1473.99H972.36M968.06 1485.18V1480.06M963.76 1480.06H972.36" stroke="#4a4a4a" stroke-width="1.8" fill="none"/>
<rect x="966.76" y="1476.03" width="2.6" height="2" fill="#4a4a4a"/>
<rect x="974.38" y="1466.93" width="16.3" height="16.3" fill="#fff" stroke="#4a4a4a" stroke-width="2.75"/>
<path d="M982.53 1466.93V1473.62M978.23 1473.62H986.83M982.53 1483.23V1476.54M978.23 1476.54H986.83" stroke="#4a4a4a" stroke-width="1.8" fill="none"/>
<rect x="981.23" y="1474.08" width="2.6" height="2" fill="#4a4a4a"/>
<rect x="988.85" y="1465.48" width="16.3" height="16.3" fill="#fff" stroke="#4a4a4a" stroke-width="2.75"/>
<path d="M997 1465.48V1471.22M992.7 1471.22H1001.3M997 1481.78V1476.03M992.7 1476.03H1001.3" stroke="#4a4a4a" stroke-width="1.8" fill="none"/>
<rect x="995.7" y="1472.63" width="2.6" height="2" fill="#4a4a4a"/>
<rect x="1003.32" y="1464.02" width="16.3" height="16.3" fill="#fff" stroke="#4a4a4a" stroke-width="2.75"/>

<rect x="1010.17" y="1471.17" width="2.6" height="2" fill="#4a4a4a"/>
<rect x="1017.79" y="1462.56" width="16.3" height="16.3" fill="#fff" stroke="#4a4a4a" stroke-width="2.75"/>
<path d="M1025.94 1462.56V1468.64M1021.64 1468.64H1030.24M1025.94 1478.86V1472.79M1021.64 1472.79H1030.24" stroke="#4a4a4a" stroke-width="1.8" fill="none"/>
<rect x="1024.64" y="1469.71" width="2.6" height="2" fill="#4a4a4a"/>
<rect x="1032.26" y="1461.11" width="16.3" height="16.3" fill="#fff" stroke="#4a4a4a" stroke-width="2.75"/>
<path d="M1040.41 1461.11V1466.58M1036.11 1466.58H1044.71M1040.41 1477.41V1471.93M1036.11 1471.93H1044.71" stroke="#4a4a4a" stroke-width="1.8" fill="none"/>
<rect x="1039.11" y="1468.26" width="2.6" height="2" fill="#4a4a4a"/>
<rect x="1046.73" y="1459.16" width="16.3" height="16.3" fill="#fff" stroke="#4a4a4a" stroke-width="2.75"/>
<path d="M1054.88 1459.16V1464.89M1050.58 1464.89H1059.18M1054.88 1475.46V1469.73M1050.58 1469.73H1059.18" stroke="#4a4a4a" stroke-width="1.8" fill="none"/>
<rect x="1053.58" y="1466.31" width="2.6" height="2" fill="#4a4a4a"/>
<rect x="1061.2" y="1457.22" width="16.3" height="16.3" fill="#fff" stroke="#4a4a4a" stroke-width="2.75"/>
<path d="M1069.35 1457.22V1462.9M1065.05 1462.9H1073.65M1069.35 1473.52V1467.83M1065.05 1467.83H1073.65" stroke="#4a4a4a" stroke-width="1.8" fill="none"/>
<rect x="1068.05" y="1464.37" width="2.6" height="2" fill="#4a4a4a"/>
<rect x="1075.67" y="1454.79" width="16.3" height="16.3" fill="#fff" stroke="#4a4a4a" stroke-width="2.75"/>
<path d="M1083.82 1454.79V1461.36M1079.52 1461.36H1088.12M1083.82 1471.09V1464.52M1079.52 1464.52H1088.12" stroke="#4a4a4a" stroke-width="1.8" fill="none"/>
<rect x="1082.52" y="1461.94" width="2.6" height="2" fill="#4a4a4a"/>
<rect x="1090.14" y="1452.36" width="16.3" height="16.3" fill="#fff" stroke="#4a4a4a" stroke-width="2.75"/>
<path d="M1098.29 1452.36V1458.35M1093.99 1458.35H1102.59M1098.29 1468.66V1462.68M1093.99 1462.68H1102.59" stroke="#4a4a4a" stroke-width="1.8" fill="none"/>
<rect x="1096.99" y="1459.51" width="2.6" height="2" fill="#4a4a4a"/>
<rect x="1104.61" y="1449.93" width="16.3" height="16.3" fill="#fff" stroke="#4a4a4a" stroke-width="2.75"/>
<path d="M1112.76 1449.93V1455.95M1108.46 1455.95H1117.06M1112.76 1466.23V1460.22M1108.46 1460.22H1117.06" stroke="#4a4a4a" stroke-width="1.8" fill="none"/>
<rect x="1111.46" y="1457.08" width="2.6" height="2" fill="#4a4a4a"/>
<rect x="1119.08" y="1447.51" width="16.3" height="16.3" fill="#fff" stroke="#4a4a4a" stroke-width="2.75"/>

<rect x="1125.93" y="1454.66" width="2.6" height="2" fill="#4a4a4a"/>
<rect x="1133.55" y="1444.11" width="16.3" height="16.3" fill="#fff" stroke="#4a4a4a" stroke-width="2.75"/>

<rect x="1140.4" y="1451.26" width="2.6" height="2" fill="#4a4a4a"/>
<path d="M707.6 1774.27L722.07 1763.1L736.54 1761.64L751.01 1733.96L765.48 1719.39L779.95 1701.42L794.42 1680.53L808.89 1670.82L823.36 1652.85L837.83 1642.65L852.3 1633.91L866.77 1629.05L881.24 1624.19L895.71 1618.85L910.18 1614.96L924.65 1609.14L939.12 1603.31L953.59 1596.99L968.06 1591.16L982.53 1585.34L997 1580.48L1011.47 1576.59L1025.94 1572.22L1040.41 1568.34L1054.88 1564.94L1069.35 1562.51L1083.82 1560.08L1098.29 1557.65L1112.76 1555.71L1127.23 1553.77L1141.7 1551.82" fill="none" stroke="#d63c44" stroke-width="2.5" stroke-linejoin="round"/>
<circle cx="707.6" cy="1774.27" r="9.6" fill="#fff" stroke="#d63c44" stroke-width="2.75"/>
<path d="M707.6 1764.67V1772.63M703.3 1772.63H711.9M707.6 1783.87V1775.91M703.3 1775.91H711.9" stroke="#d63c44" stroke-width="1.8" fill="none"/>
<rect x="706.3" y="1773.27" width="2.6" height="2" fill="#d63c44"/>
<circle cx="722.07" cy="1763.1" r="9.6" fill="#fff" stroke="#d63c44" stroke-width="2.75"/>
<path d="M722.07 1753.5V1760.52M717.77 1760.52H726.37M722.07 1772.7V1765.69M717.77 1765.69H726.37" stroke="#d63c44" stroke-width="1.8" fill="none"/>
<rect x="720.77" y="1762.1" width="2.6" height="2" fill="#d63c44"/>
<circle cx="736.54" cy="1761.64" r="9.6" fill="#fff" stroke="#d63c44" stroke-width="2.75"/>
<path d="M736.54 1752.04V1758.81M732.24 1758.81H740.84M736.54 1771.24V1764.48M732.24 1764.48H740.84" stroke="#d63c44" stroke-width="1.8" fill="none"/>
<rect x="735.24" y="1760.64" width="2.6" height="2" fill="#d63c44"/>
<circle cx="751.01" cy="1733.96" r="9.6" fill="#fff" stroke="#d63c44" stroke-width="2.75"/>
<path d="M751.01 1724.36V1732.38M746.71 1732.38H755.31M751.01 1743.56V1735.54M746.71 1735.54H755.31" stroke="#d63c44" stroke-width="1.8" fill="none"/>
<rect x="749.71" y="1732.96" width="2.6" height="2" fill="#d63c44"/>
<rect x="762.28" y="1716.19" width="6.4" height="6.4" fill="#fff" stroke="#d63c44" stroke-width="1.6"/>
<rect x="764.18" y="1718.39" width="2.6" height="2" fill="#d63c44"/>
<rect x="776.75" y="1698.22" width="6.4" height="6.4" fill="#fff" stroke="#d63c44" stroke-width="1.6"/>
<rect x="778.65" y="1700.42" width="2.6" height="2" fill="#d63c44"/>
<circle cx="794.42" cy="1680.53" r="9.6" fill="#fff" stroke="#d63c44" stroke-width="2.75"/>
<path d="M794.42 1670.93V1678.59M790.12 1678.59H798.72M794.42 1690.13V1682.47M790.12 1682.47H798.72" stroke="#d63c44" stroke-width="1.8" fill="none"/>
<rect x="793.12" y="1679.53" width="2.6" height="2" fill="#d63c44"/>
<circle cx="808.89" cy="1670.82" r="9.6" fill="#fff" stroke="#d63c44" stroke-width="2.75"/>
<path d="M808.89 1661.22V1667.77M804.59 1667.77H813.19M808.89 1680.42V1673.87M804.59 1673.87H813.19" stroke="#d63c44" stroke-width="1.8" fill="none"/>
<rect x="807.59" y="1669.82" width="2.6" height="2" fill="#d63c44"/>
<circle cx="823.36" cy="1652.85" r="9.6" fill="#fff" stroke="#d63c44" stroke-width="2.75"/>
<path d="M823.36 1643.25V1651.1M819.06 1651.1H827.66M823.36 1662.45V1654.59M819.06 1654.59H827.66" stroke="#d63c44" stroke-width="1.8" fill="none"/>
<rect x="822.06" y="1651.85" width="2.6" height="2" fill="#d63c44"/>
<circle cx="837.83" cy="1642.65" r="9.6" fill="#fff" stroke="#d63c44" stroke-width="2.75"/>
<path d="M837.83 1633.05V1639.83M833.53 1639.83H842.13M837.83 1652.25V1645.47M833.53 1645.47H842.13" stroke="#d63c44" stroke-width="1.8" fill="none"/>
<rect x="836.53" y="1641.65" width="2.6" height="2" fill="#d63c44"/>
<circle cx="852.3" cy="1633.91" r="9.6" fill="#fff" stroke="#d63c44" stroke-width="2.75"/>
<path d="M852.3 1624.31V1630.66M848 1630.66H856.6M852.3 1643.51V1637.15M848 1637.15H856.6" stroke="#d63c44" stroke-width="1.8" fill="none"/>
<rect x="851" y="1632.91" width="2.6" height="2" fill="#d63c44"/>
<circle cx="866.77" cy="1629.05" r="9.6" fill="#fff" stroke="#d63c44" stroke-width="2.75"/>
<path d="M866.77 1619.45V1625.78M862.47 1625.78H871.07M866.77 1638.65V1632.32M862.47 1632.32H871.07" stroke="#d63c44" stroke-width="1.8" fill="none"/>
<rect x="865.47" y="1628.05" width="2.6" height="2" fill="#d63c44"/>
<circle cx="881.24" cy="1624.19" r="9.6" fill="#fff" stroke="#d63c44" stroke-width="2.75"/>
<path d="M881.24 1614.59V1621.53M876.94 1621.53H885.54M881.24 1633.79V1626.85M876.94 1626.85H885.54" stroke="#d63c44" stroke-width="1.8" fill="none"/>
<rect x="879.94" y="1623.19" width="2.6" height="2" fill="#d63c44"/>
<circle cx="895.71" cy="1618.85" r="9.6" fill="#fff" stroke="#d63c44" stroke-width="2.75"/>
<path d="M895.71 1609.25V1616.87M891.41 1616.87H900.01M895.71 1628.45V1620.82M891.41 1620.82H900.01" stroke="#d63c44" stroke-width="1.8" fill="none"/>
<rect x="894.41" y="1617.85" width="2.6" height="2" fill="#d63c44"/>
<circle cx="910.18" cy="1614.96" r="9.6" fill="#fff" stroke="#d63c44" stroke-width="2.75"/>
<path d="M910.18 1605.36V1613.27M905.88 1613.27H914.48M910.18 1624.56V1616.66M905.88 1616.66H914.48" stroke="#d63c44" stroke-width="1.8" fill="none"/>
<rect x="908.88" y="1613.96" width="2.6" height="2" fill="#d63c44"/>
<circle cx="924.65" cy="1609.14" r="9.6" fill="#fff" stroke="#d63c44" stroke-width="2.75"/>
<path d="M924.65 1599.54V1606.13M920.35 1606.13H928.95M924.65 1618.74V1612.14M920.35 1612.14H928.95" stroke="#d63c44" stroke-width="1.8" fill="none"/>
<rect x="923.35" y="1608.14" width="2.6" height="2" fill="#d63c44"/>
<circle cx="939.12" cy="1603.31" r="9.6" fill="#fff" stroke="#d63c44" stroke-width="2.75"/>
<path d="M939.12 1593.71V1600.4M934.82 1600.4H943.42M939.12 1612.91V1606.21M934.82 1606.21H943.42" stroke="#d63c44" stroke-width="1.8" fill="none"/>
<rect x="937.82" y="1602.31" width="2.6" height="2" fill="#d63c44"/>
<circle cx="953.59" cy="1596.99" r="9.6" fill="#fff" stroke="#d63c44" stroke-width="2.75"/>
<path d="M953.59 1587.39V1593.83M949.29 1593.83H957.89M953.59 1606.59V1600.16M949.29 1600.16H957.89" stroke="#d63c44" stroke-width="1.8" fill="none"/>
<rect x="952.29" y="1595.99" width="2.6" height="2" fill="#d63c44"/>
<circle cx="968.06" cy="1591.16" r="9.6" fill="#fff" stroke="#d63c44" stroke-width="2.75"/>
<path d="M968.06 1581.56V1588.37M963.76 1588.37H972.36M968.06 1600.76V1593.96M963.76 1593.96H972.36" stroke="#d63c44" stroke-width="1.8" fill="none"/>
<rect x="966.76" y="1590.16" width="2.6" height="2" fill="#d63c44"/>
<circle cx="982.53" cy="1585.34" r="9.6" fill="#fff" stroke="#d63c44" stroke-width="2.75"/>
<path d="M982.53 1575.74V1583.8M978.23 1583.8H986.83M982.53 1594.94V1586.88M978.23 1586.88H986.83" stroke="#d63c44" stroke-width="1.8" fill="none"/>
<rect x="981.23" y="1584.34" width="2.6" height="2" fill="#d63c44"/>
<circle cx="997" cy="1580.48" r="9.6" fill="#fff" stroke="#d63c44" stroke-width="2.75"/>
<path d="M997 1570.88V1578.31M992.7 1578.31H1001.3M997 1590.08V1582.65M992.7 1582.65H1001.3" stroke="#d63c44" stroke-width="1.8" fill="none"/>
<rect x="995.7" y="1579.48" width="2.6" height="2" fill="#d63c44"/>
<circle cx="1011.47" cy="1576.59" r="9.6" fill="#fff" stroke="#d63c44" stroke-width="2.75"/>
<path d="M1011.47 1566.99V1573.83M1007.17 1573.83H1015.77M1011.47 1586.19V1579.35M1007.17 1579.35H1015.77" stroke="#d63c44" stroke-width="1.8" fill="none"/>
<rect x="1010.17" y="1575.59" width="2.6" height="2" fill="#d63c44"/>
<circle cx="1025.94" cy="1572.22" r="9.6" fill="#fff" stroke="#d63c44" stroke-width="2.75"/>
<path d="M1025.94 1562.62V1569.33M1021.64 1569.33H1030.24M1025.94 1581.82V1575.12M1021.64 1575.12H1030.24" stroke="#d63c44" stroke-width="1.8" fill="none"/>
<rect x="1024.64" y="1571.22" width="2.6" height="2" fill="#d63c44"/>
<circle cx="1040.41" cy="1568.34" r="9.6" fill="#fff" stroke="#d63c44" stroke-width="2.75"/>
<path d="M1040.41 1558.74V1565.53M1036.11 1565.53H1044.71M1040.41 1577.94V1571.15M1036.11 1571.15H1044.71" stroke="#d63c44" stroke-width="1.8" fill="none"/>
<rect x="1039.11" y="1567.34" width="2.6" height="2" fill="#d63c44"/>
<circle cx="1054.88" cy="1564.94" r="9.6" fill="#fff" stroke="#d63c44" stroke-width="2.75"/>
<path d="M1054.88 1555.34V1562.49M1050.58 1562.49H1059.18M1054.88 1574.54V1567.38M1050.58 1567.38H1059.18" stroke="#d63c44" stroke-width="1.8" fill="none"/>
<rect x="1053.58" y="1563.94" width="2.6" height="2" fill="#d63c44"/>
<circle cx="1069.35" cy="1562.51" r="9.6" fill="#fff" stroke="#d63c44" stroke-width="2.75"/>
<path d="M1069.35 1552.91V1559.47M1065.05 1559.47H1073.65M1069.35 1572.11V1565.55M1065.05 1565.55H1073.65" stroke="#d63c44" stroke-width="1.8" fill="none"/>
<rect x="1068.05" y="1561.51" width="2.6" height="2" fill="#d63c44"/>
<circle cx="1083.82" cy="1560.08" r="9.6" fill="#fff" stroke="#d63c44" stroke-width="2.75"/>
<path d="M1083.82 1550.48V1557.93M1079.52 1557.93H1088.12M1083.82 1569.68V1562.23M1079.52 1562.23H1088.12" stroke="#d63c44" stroke-width="1.8" fill="none"/>
<rect x="1082.52" y="1559.08" width="2.6" height="2" fill="#d63c44"/>
<circle cx="1098.29" cy="1557.65" r="9.6" fill="#fff" stroke="#d63c44" stroke-width="2.75"/>
<path d="M1098.29 1548.05V1555.75M1093.99 1555.75H1102.59M1098.29 1567.25V1559.55M1093.99 1559.55H1102.59" stroke="#d63c44" stroke-width="1.8" fill="none"/>
<rect x="1096.99" y="1556.65" width="2.6" height="2" fill="#d63c44"/>
<circle cx="1112.76" cy="1555.71" r="9.6" fill="#fff" stroke="#d63c44" stroke-width="2.75"/>
<path d="M1112.76 1546.11V1554.25M1108.46 1554.25H1117.06M1112.76 1565.31V1557.17M1108.46 1557.17H1117.06" stroke="#d63c44" stroke-width="1.8" fill="none"/>
<rect x="1111.46" y="1554.71" width="2.6" height="2" fill="#d63c44"/>
<circle cx="1127.23" cy="1553.77" r="9.6" fill="#fff" stroke="#d63c44" stroke-width="2.75"/>
<path d="M1127.23 1544.17V1551.37M1122.93 1551.37H1131.53M1127.23 1563.37V1556.17M1122.93 1556.17H1131.53" stroke="#d63c44" stroke-width="1.8" fill="none"/>
<rect x="1125.93" y="1552.77" width="2.6" height="2" fill="#d63c44"/>
<circle cx="1141.7" cy="1551.82" r="9.6" fill="#fff" stroke="#d63c44" stroke-width="2.75"/>
<path d="M1141.7 1542.22V1549.26M1137.4 1549.26H1146M1141.7 1561.42V1554.39M1137.4 1554.39H1146" stroke="#d63c44" stroke-width="1.8" fill="none"/>
<rect x="1140.4" y="1550.82" width="2.6" height="2" fill="#d63c44"/>
<path d="M707.6 1775.24L722.07 1765.04L736.54 1764.07L751.01 1729.1L765.48 1706.27L779.95 1680.53L794.42 1665.48L808.89 1653.82L823.36 1637.79L837.83 1627.11L852.3 1617.88L866.77 1613.02L881.24 1609.14L895.71 1606.22L910.18 1603.31L924.65 1598.45L939.12 1595.05L953.59 1592.14L968.06 1589.22L982.53 1586.31L997 1583.39L1011.47 1580.48L1025.94 1576.59L1040.41 1573.19L1054.88 1571.25L1069.35 1569.31L1083.82 1567.37L1098.29 1565.42L1112.76 1563.97L1127.23 1562.02L1141.7 1560.57" fill="none" stroke="#1e66cc" stroke-width="2.5" stroke-linejoin="round"/>
<polygon points="707.6,1762.77 718.4,1781.48 696.8,1781.48" fill="#fff" stroke="#1e66cc" stroke-width="2.75" stroke-linejoin="miter"/>
<path d="M707.6 1762.77V1771.92M703.3 1771.92H711.9M707.6 1781.48V1778.57M703.3 1778.57H711.9" stroke="#1e66cc" stroke-width="1.8" fill="none"/>
<rect x="706.3" y="1774.24" width="2.6" height="2" fill="#1e66cc"/>
<polygon points="722.07,1752.57 732.87,1771.28 711.27,1771.28" fill="#fff" stroke="#1e66cc" stroke-width="2.75" stroke-linejoin="miter"/>
<path d="M722.07 1752.57V1762.45M717.77 1762.45H726.37M722.07 1771.28V1767.64M717.77 1767.64H726.37" stroke="#1e66cc" stroke-width="1.8" fill="none"/>
<rect x="720.77" y="1764.04" width="2.6" height="2" fill="#1e66cc"/>
<polygon points="736.54,1751.6 747.34,1770.31 725.74,1770.31" fill="#fff" stroke="#1e66cc" stroke-width="2.75" stroke-linejoin="miter"/>
<path d="M736.54 1751.6V1760.9M732.24 1760.9H740.84M736.54 1770.31V1767.25M732.24 1767.25H740.84" stroke="#1e66cc" stroke-width="1.8" fill="none"/>
<rect x="735.24" y="1763.07" width="2.6" height="2" fill="#1e66cc"/>
<polygon points="751.01,1716.63 761.81,1735.34 740.21,1735.34" fill="#fff" stroke="#1e66cc" stroke-width="2.75" stroke-linejoin="miter"/>
<path d="M751.01 1716.63V1726.04M746.71 1726.04H755.31M751.01 1735.34V1732.17M746.71 1732.17H755.31" stroke="#1e66cc" stroke-width="1.8" fill="none"/>
<rect x="749.71" y="1728.1" width="2.6" height="2" fill="#1e66cc"/>
<polygon points="765.48,1693.8 776.28,1712.51 754.68,1712.51" fill="#fff" stroke="#1e66cc" stroke-width="2.75" stroke-linejoin="miter"/>
<path d="M765.48 1693.8V1702.89M761.18 1702.89H769.78M765.48 1712.51V1709.66M761.18 1709.66H769.78" stroke="#1e66cc" stroke-width="1.8" fill="none"/>
<rect x="764.18" y="1705.27" width="2.6" height="2" fill="#1e66cc"/>
<polygon points="779.95,1668.06 790.75,1686.77 769.15,1686.77" fill="#fff" stroke="#1e66cc" stroke-width="2.75" stroke-linejoin="miter"/>
<path d="M779.95 1668.06V1678.31M775.65 1678.31H784.25M779.95 1686.77V1682.75M775.65 1682.75H784.25" stroke="#1e66cc" stroke-width="1.8" fill="none"/>
<rect x="778.65" y="1679.53" width="2.6" height="2" fill="#1e66cc"/>
<polygon points="794.42,1653.01 805.22,1671.71 783.62,1671.71" fill="#fff" stroke="#1e66cc" stroke-width="2.75" stroke-linejoin="miter"/>
<path d="M794.42 1653.01V1662.75M790.12 1662.75H798.72M794.42 1671.71V1668.2M790.12 1668.2H798.72" stroke="#1e66cc" stroke-width="1.8" fill="none"/>
<rect x="793.12" y="1664.48" width="2.6" height="2" fill="#1e66cc"/>
<polygon points="808.89,1641.35 819.69,1660.05 798.09,1660.05" fill="#fff" stroke="#1e66cc" stroke-width="2.75" stroke-linejoin="miter"/>
<path d="M808.89 1641.35V1650.89M804.59 1650.89H813.19M808.89 1660.05V1656.75M804.59 1656.75H813.19" stroke="#1e66cc" stroke-width="1.8" fill="none"/>
<rect x="807.59" y="1652.82" width="2.6" height="2" fill="#1e66cc"/>
<polygon points="823.36,1625.32 834.16,1644.03 812.56,1644.03" fill="#fff" stroke="#1e66cc" stroke-width="2.75" stroke-linejoin="miter"/>
<path d="M823.36 1625.32V1634.73M819.06 1634.73H827.66M823.36 1644.03V1640.85M819.06 1640.85H827.66" stroke="#1e66cc" stroke-width="1.8" fill="none"/>
<rect x="822.06" y="1636.79" width="2.6" height="2" fill="#1e66cc"/>
<polygon points="837.83,1614.64 848.63,1633.34 827.03,1633.34" fill="#fff" stroke="#1e66cc" stroke-width="2.75" stroke-linejoin="miter"/>
<path d="M837.83 1614.64V1625.06M833.53 1625.06H842.13M837.83 1633.34V1629.15M833.53 1629.15H842.13" stroke="#1e66cc" stroke-width="1.8" fill="none"/>
<rect x="836.53" y="1626.11" width="2.6" height="2" fill="#1e66cc"/>
<polygon points="852.3,1605.41 863.1,1624.11 841.5,1624.11" fill="#fff" stroke="#1e66cc" stroke-width="2.75" stroke-linejoin="miter"/>
<path d="M852.3 1605.41V1615.13M848 1615.13H856.6M852.3 1624.11V1620.62M848 1620.62H856.6" stroke="#1e66cc" stroke-width="1.8" fill="none"/>
<rect x="851" y="1616.88" width="2.6" height="2" fill="#1e66cc"/>
<polygon points="866.77,1600.55 877.57,1619.26 855.97,1619.26" fill="#fff" stroke="#1e66cc" stroke-width="2.75" stroke-linejoin="miter"/>
<path d="M866.77 1600.55V1610.47M862.47 1610.47H871.07M866.77 1619.26V1615.57M862.47 1615.57H871.07" stroke="#1e66cc" stroke-width="1.8" fill="none"/>
<rect x="865.47" y="1612.02" width="2.6" height="2" fill="#1e66cc"/>
<polygon points="881.24,1596.66 892.04,1615.37 870.44,1615.37" fill="#fff" stroke="#1e66cc" stroke-width="2.75" stroke-linejoin="miter"/>
<path d="M881.24 1596.66V1606.43M876.94 1606.43H885.54M881.24 1615.37V1611.84M876.94 1611.84H885.54" stroke="#1e66cc" stroke-width="1.8" fill="none"/>
<rect x="879.94" y="1608.14" width="2.6" height="2" fill="#1e66cc"/>
<polygon points="895.71,1593.75 906.51,1612.46 884.91,1612.46" fill="#fff" stroke="#1e66cc" stroke-width="2.75" stroke-linejoin="miter"/>
<path d="M895.71 1593.75V1604.21M891.41 1604.21H900.01M895.71 1612.46V1608.23M891.41 1608.23H900.01" stroke="#1e66cc" stroke-width="1.8" fill="none"/>
<rect x="894.41" y="1605.22" width="2.6" height="2" fill="#1e66cc"/>
<polygon points="910.18,1590.84 920.98,1609.54 899.38,1609.54" fill="#fff" stroke="#1e66cc" stroke-width="2.75" stroke-linejoin="miter"/>
<path d="M910.18 1590.84V1600.13M905.88 1600.13H914.48M910.18 1609.54V1606.48M905.88 1606.48H914.48" stroke="#1e66cc" stroke-width="1.8" fill="none"/>
<rect x="908.88" y="1602.31" width="2.6" height="2" fill="#1e66cc"/>
<polygon points="924.65,1585.98 935.45,1604.69 913.85,1604.69" fill="#fff" stroke="#1e66cc" stroke-width="2.75" stroke-linejoin="miter"/>
<path d="M924.65 1585.98V1596.45M920.35 1596.45H928.95M924.65 1604.69V1600.45M920.35 1600.45H928.95" stroke="#1e66cc" stroke-width="1.8" fill="none"/>
<rect x="923.35" y="1597.45" width="2.6" height="2" fill="#1e66cc"/>
<polygon points="939.12,1582.58 949.92,1601.29 928.32,1601.29" fill="#fff" stroke="#1e66cc" stroke-width="2.75" stroke-linejoin="miter"/>
<path d="M939.12 1582.58V1592.17M934.82 1592.17H943.42M939.12 1601.29V1597.93M934.82 1597.93H943.42" stroke="#1e66cc" stroke-width="1.8" fill="none"/>
<rect x="937.82" y="1594.05" width="2.6" height="2" fill="#1e66cc"/>
<polygon points="953.59,1579.67 964.39,1598.37 942.79,1598.37" fill="#fff" stroke="#1e66cc" stroke-width="2.75" stroke-linejoin="miter"/>
<path d="M953.59 1579.67V1589.41M949.29 1589.41H957.89M953.59 1598.37V1594.86M949.29 1594.86H957.89" stroke="#1e66cc" stroke-width="1.8" fill="none"/>
<rect x="952.29" y="1591.14" width="2.6" height="2" fill="#1e66cc"/>
<polygon points="968.06,1576.75 978.86,1595.46 957.26,1595.46" fill="#fff" stroke="#1e66cc" stroke-width="2.75" stroke-linejoin="miter"/>
<path d="M968.06 1576.75V1586.37M963.76 1586.37H972.36M968.06 1595.46V1592.08M963.76 1592.08H972.36" stroke="#1e66cc" stroke-width="1.8" fill="none"/>
<rect x="966.76" y="1588.22" width="2.6" height="2" fill="#1e66cc"/>
<polygon points="982.53,1573.84 993.33,1592.54 971.73,1592.54" fill="#fff" stroke="#1e66cc" stroke-width="2.75" stroke-linejoin="miter"/>
<path d="M982.53 1573.84V1572.71M978.23 1572.71H986.83M982.53 1592.54V1599.91M978.23 1599.91H986.83" stroke="#1e66cc" stroke-width="1.8" fill="none"/>
<rect x="981.23" y="1585.31" width="2.6" height="2" fill="#1e66cc"/>
<polygon points="997,1570.92 1007.8,1589.63 986.2,1589.63" fill="#fff" stroke="#1e66cc" stroke-width="2.75" stroke-linejoin="miter"/>
<path d="M997 1570.92V1581.06M992.7 1581.06H1001.3M997 1589.63V1585.72M992.7 1585.72H1001.3" stroke="#1e66cc" stroke-width="1.8" fill="none"/>
<rect x="995.7" y="1582.39" width="2.6" height="2" fill="#1e66cc"/>
<polygon points="1011.47,1568.01 1022.27,1586.71 1000.67,1586.71" fill="#fff" stroke="#1e66cc" stroke-width="2.75" stroke-linejoin="miter"/>
<path d="M1011.47 1568.01V1577.56M1007.17 1577.56H1015.77M1011.47 1586.71V1583.4M1007.17 1583.4H1015.77" stroke="#1e66cc" stroke-width="1.8" fill="none"/>
<rect x="1010.17" y="1579.48" width="2.6" height="2" fill="#1e66cc"/>
<polygon points="1025.94,1564.12 1036.74,1582.83 1015.14,1582.83" fill="#fff" stroke="#1e66cc" stroke-width="2.75" stroke-linejoin="miter"/>
<path d="M1025.94 1564.12V1574.92M1021.64 1574.92H1030.24M1025.94 1582.83V1578.27M1021.64 1578.27H1030.24" stroke="#1e66cc" stroke-width="1.8" fill="none"/>
<rect x="1024.64" y="1575.59" width="2.6" height="2" fill="#1e66cc"/>
<polygon points="1040.41,1560.72 1051.21,1579.43 1029.61,1579.43" fill="#fff" stroke="#1e66cc" stroke-width="2.75" stroke-linejoin="miter"/>
<path d="M1040.41 1560.72V1558.62M1036.11 1558.62H1044.71M1040.41 1579.43V1587.76M1036.11 1587.76H1044.71" stroke="#1e66cc" stroke-width="1.8" fill="none"/>
<rect x="1039.11" y="1572.19" width="2.6" height="2" fill="#1e66cc"/>
<polygon points="1054.88,1558.78 1065.68,1577.49 1044.08,1577.49" fill="#fff" stroke="#1e66cc" stroke-width="2.75" stroke-linejoin="miter"/>
<path d="M1054.88 1558.78V1557.65M1050.58 1557.65H1059.18M1054.88 1577.49V1584.85M1050.58 1584.85H1059.18" stroke="#1e66cc" stroke-width="1.8" fill="none"/>
<rect x="1053.58" y="1570.25" width="2.6" height="2" fill="#1e66cc"/>
<polygon points="1069.35,1556.84 1080.15,1575.54 1058.55,1575.54" fill="#fff" stroke="#1e66cc" stroke-width="2.75" stroke-linejoin="miter"/>
<path d="M1069.35 1556.84V1567.79M1065.05 1567.79H1073.65M1069.35 1575.54V1570.83M1065.05 1570.83H1073.65" stroke="#1e66cc" stroke-width="1.8" fill="none"/>
<rect x="1068.05" y="1568.31" width="2.6" height="2" fill="#1e66cc"/>
<polygon points="1083.82,1554.89 1094.62,1573.6 1073.02,1573.6" fill="#fff" stroke="#1e66cc" stroke-width="2.75" stroke-linejoin="miter"/>
<path d="M1083.82 1554.89V1564.7M1079.52 1564.7H1088.12M1083.82 1573.6V1570.03M1079.52 1570.03H1088.12" stroke="#1e66cc" stroke-width="1.8" fill="none"/>
<rect x="1082.52" y="1566.37" width="2.6" height="2" fill="#1e66cc"/>
<polygon points="1098.29,1552.95 1109.09,1571.66 1087.49,1571.66" fill="#fff" stroke="#1e66cc" stroke-width="2.75" stroke-linejoin="miter"/>
<path d="M1098.29 1552.95V1563.36M1093.99 1563.36H1102.59M1098.29 1571.66V1567.48M1093.99 1567.48H1102.59" stroke="#1e66cc" stroke-width="1.8" fill="none"/>
<rect x="1096.99" y="1564.42" width="2.6" height="2" fill="#1e66cc"/>
<polygon points="1112.76,1551.5 1123.56,1570.2 1101.96,1570.2" fill="#fff" stroke="#1e66cc" stroke-width="2.75" stroke-linejoin="miter"/>
<path d="M1112.76 1551.5V1562.27M1108.46 1562.27H1117.06M1112.76 1570.2V1565.67M1108.46 1565.67H1117.06" stroke="#1e66cc" stroke-width="1.8" fill="none"/>
<rect x="1111.46" y="1562.97" width="2.6" height="2" fill="#1e66cc"/>
<polygon points="1127.23,1549.55 1138.03,1568.26 1116.43,1568.26" fill="#fff" stroke="#1e66cc" stroke-width="2.75" stroke-linejoin="miter"/>
<path d="M1127.23 1549.55V1560.07M1122.93 1560.07H1131.53M1127.23 1568.26V1563.98M1122.93 1563.98H1131.53" stroke="#1e66cc" stroke-width="1.8" fill="none"/>
<rect x="1125.93" y="1561.02" width="2.6" height="2" fill="#1e66cc"/>
<polygon points="1141.7,1548.1 1152.5,1566.8 1130.9,1566.8" fill="#fff" stroke="#1e66cc" stroke-width="2.75" stroke-linejoin="miter"/>
<path d="M1141.7 1548.1V1557.55M1137.4 1557.55H1146M1141.7 1566.8V1563.59M1137.4 1563.59H1146" stroke="#1e66cc" stroke-width="1.8" fill="none"/>
<rect x="1140.4" y="1559.57" width="2.6" height="2" fill="#1e66cc"/>
<path d="M707.6 1776.21L722.07 1769.41L736.54 1767.47L751.01 1752.42L765.48 1734.44L779.95 1721.82L794.42 1700.93L808.89 1696.07L823.36 1692.19L837.83 1687.82L852.3 1683.93L866.77 1681.02L881.24 1678.1L895.71 1675.19L910.18 1673.25L924.65 1671.3L939.12 1668.39L953.59 1665.48L968.06 1662.08L982.53 1660.13L997 1658.19L1011.47 1655.28L1025.94 1650.42L1040.41 1648.48L1054.88 1646.53L1069.35 1644.59L1083.82 1642.65L1098.29 1640.71L1112.76 1638.76L1127.23 1637.31L1141.7 1635.85" fill="none" stroke="#3ea66c" stroke-width="2.5" stroke-linejoin="round"/>
<polygon points="707.6,1788.69 718.4,1769.98 696.8,1769.98" fill="#fff" stroke="#3ea66c" stroke-width="2.75" stroke-linejoin="miter"/>
<path d="M707.6 1769.98V1773.29M703.3 1773.29H711.9M707.6 1788.69V1779.14M703.3 1779.14H711.9" stroke="#3ea66c" stroke-width="1.8" fill="none"/>
<rect x="706.3" y="1775.21" width="2.6" height="2" fill="#3ea66c"/>
<polygon points="722.07,1781.89 732.87,1763.18 711.27,1763.18" fill="#fff" stroke="#3ea66c" stroke-width="2.75" stroke-linejoin="miter"/>
<path d="M722.07 1763.18V1766.94M717.77 1766.94H726.37M722.07 1781.89V1771.89M717.77 1771.89H726.37" stroke="#3ea66c" stroke-width="1.8" fill="none"/>
<rect x="720.77" y="1768.41" width="2.6" height="2" fill="#3ea66c"/>
<polygon points="736.54,1779.94 747.34,1761.24 725.74,1761.24" fill="#fff" stroke="#3ea66c" stroke-width="2.75" stroke-linejoin="miter"/>
<path d="M736.54 1761.24V1764.35M732.24 1764.35H740.84M736.54 1779.94V1770.6M732.24 1770.6H740.84" stroke="#3ea66c" stroke-width="1.8" fill="none"/>
<rect x="735.24" y="1766.47" width="2.6" height="2" fill="#3ea66c"/>
<polygon points="751.01,1764.89 761.81,1746.18 740.21,1746.18" fill="#fff" stroke="#3ea66c" stroke-width="2.75" stroke-linejoin="miter"/>
<path d="M751.01 1746.18V1749.48M746.71 1749.48H755.31M751.01 1764.89V1755.35M746.71 1755.35H755.31" stroke="#3ea66c" stroke-width="1.8" fill="none"/>
<rect x="749.71" y="1751.42" width="2.6" height="2" fill="#3ea66c"/>
<polygon points="765.48,1746.92 776.28,1728.21 754.68,1728.21" fill="#fff" stroke="#3ea66c" stroke-width="2.75" stroke-linejoin="miter"/>
<path d="M765.48 1728.21V1731.4M761.18 1731.4H769.78M765.48 1746.92V1737.49M761.18 1737.49H769.78" stroke="#3ea66c" stroke-width="1.8" fill="none"/>
<rect x="764.18" y="1733.44" width="2.6" height="2" fill="#3ea66c"/>
<polygon points="779.95,1734.29 790.75,1715.58 769.15,1715.58" fill="#fff" stroke="#3ea66c" stroke-width="2.75" stroke-linejoin="miter"/>

<rect x="778.65" y="1720.82" width="2.6" height="2" fill="#3ea66c"/>
<polygon points="794.42,1713.4 805.22,1694.7 783.62,1694.7" fill="#fff" stroke="#3ea66c" stroke-width="2.75" stroke-linejoin="miter"/>
<path d="M794.42 1694.7V1698.53M790.12 1698.53H798.72M794.42 1713.4V1703.34M790.12 1703.34H798.72" stroke="#3ea66c" stroke-width="1.8" fill="none"/>
<rect x="793.12" y="1699.93" width="2.6" height="2" fill="#3ea66c"/>
<polygon points="808.89,1708.55 819.69,1689.84 798.09,1689.84" fill="#fff" stroke="#3ea66c" stroke-width="2.75" stroke-linejoin="miter"/>
<path d="M808.89 1689.84V1693.8M804.59 1693.8H813.19M808.89 1708.55V1698.35M804.59 1698.35H813.19" stroke="#3ea66c" stroke-width="1.8" fill="none"/>
<rect x="807.59" y="1695.07" width="2.6" height="2" fill="#3ea66c"/>
<polygon points="823.36,1704.66 834.16,1685.95 812.56,1685.95" fill="#fff" stroke="#3ea66c" stroke-width="2.75" stroke-linejoin="miter"/>
<path d="M823.36 1685.95V1689.52M819.06 1689.52H827.66M823.36 1704.66V1694.86M819.06 1694.86H827.66" stroke="#3ea66c" stroke-width="1.8" fill="none"/>
<rect x="822.06" y="1691.19" width="2.6" height="2" fill="#3ea66c"/>
<polygon points="837.83,1700.29 848.63,1681.58 827.03,1681.58" fill="#fff" stroke="#3ea66c" stroke-width="2.75" stroke-linejoin="miter"/>
<path d="M837.83 1681.58V1684.78M833.53 1684.78H842.13M837.83 1700.29V1690.86M833.53 1690.86H842.13" stroke="#3ea66c" stroke-width="1.8" fill="none"/>
<rect x="836.53" y="1686.82" width="2.6" height="2" fill="#3ea66c"/>
<polygon points="852.3,1696.4 863.1,1677.7 841.5,1677.7" fill="#fff" stroke="#3ea66c" stroke-width="2.75" stroke-linejoin="miter"/>
<path d="M852.3 1677.7V1680.73M848 1680.73H856.6M852.3 1696.4V1687.13M848 1687.13H856.6" stroke="#3ea66c" stroke-width="1.8" fill="none"/>
<rect x="851" y="1682.93" width="2.6" height="2" fill="#3ea66c"/>
<polygon points="866.77,1693.49 877.57,1674.78 855.97,1674.78" fill="#fff" stroke="#3ea66c" stroke-width="2.75" stroke-linejoin="miter"/>
<path d="M866.77 1674.78V1679.41M862.47 1679.41H871.07M866.77 1693.49V1682.63M862.47 1682.63H871.07" stroke="#3ea66c" stroke-width="1.8" fill="none"/>
<rect x="865.47" y="1680.02" width="2.6" height="2" fill="#3ea66c"/>
<polygon points="881.24,1690.57 892.04,1671.87 870.44,1671.87" fill="#fff" stroke="#3ea66c" stroke-width="2.75" stroke-linejoin="miter"/>
<path d="M881.24 1671.87V1676.51M876.94 1676.51H885.54M881.24 1690.57V1679.7M876.94 1679.7H885.54" stroke="#3ea66c" stroke-width="1.8" fill="none"/>
<rect x="879.94" y="1677.1" width="2.6" height="2" fill="#3ea66c"/>
<polygon points="895.71,1687.66 906.51,1668.95 884.91,1668.95" fill="#fff" stroke="#3ea66c" stroke-width="2.75" stroke-linejoin="miter"/>
<path d="M895.71 1668.95V1672.23M891.41 1672.23H900.01M895.71 1687.66V1678.14M891.41 1678.14H900.01" stroke="#3ea66c" stroke-width="1.8" fill="none"/>
<rect x="894.41" y="1674.19" width="2.6" height="2" fill="#3ea66c"/>
<polygon points="910.18,1685.72 920.98,1667.01 899.38,1667.01" fill="#fff" stroke="#3ea66c" stroke-width="2.75" stroke-linejoin="miter"/>
<path d="M910.18 1667.01V1670.73M905.88 1670.73H914.48M910.18 1685.72V1675.76M905.88 1675.76H914.48" stroke="#3ea66c" stroke-width="1.8" fill="none"/>
<rect x="908.88" y="1672.25" width="2.6" height="2" fill="#3ea66c"/>
<polygon points="924.65,1683.78 935.45,1665.07 913.85,1665.07" fill="#fff" stroke="#3ea66c" stroke-width="2.75" stroke-linejoin="miter"/>
<path d="M924.65 1665.07V1668.7M920.35 1668.7H928.95M924.65 1683.78V1673.91M920.35 1673.91H928.95" stroke="#3ea66c" stroke-width="1.8" fill="none"/>
<rect x="923.35" y="1670.3" width="2.6" height="2" fill="#3ea66c"/>
<polygon points="939.12,1680.86 949.92,1662.15 928.32,1662.15" fill="#fff" stroke="#3ea66c" stroke-width="2.75" stroke-linejoin="miter"/>
<path d="M939.12 1662.15V1665.46M934.82 1665.46H943.42M939.12 1680.86V1671.32M934.82 1671.32H943.42" stroke="#3ea66c" stroke-width="1.8" fill="none"/>
<rect x="937.82" y="1667.39" width="2.6" height="2" fill="#3ea66c"/>
<polygon points="953.59,1677.95 964.39,1659.24 942.79,1659.24" fill="#fff" stroke="#3ea66c" stroke-width="2.75" stroke-linejoin="miter"/>
<path d="M953.59 1659.24V1662.89M949.29 1662.89H957.89M953.59 1677.95V1668.06M949.29 1668.06H957.89" stroke="#3ea66c" stroke-width="1.8" fill="none"/>
<rect x="952.29" y="1664.48" width="2.6" height="2" fill="#3ea66c"/>
<polygon points="968.06,1674.55 978.86,1655.84 957.26,1655.84" fill="#fff" stroke="#3ea66c" stroke-width="2.75" stroke-linejoin="miter"/>
<path d="M968.06 1655.84V1659.99M963.76 1659.99H972.36M968.06 1674.55V1664.16M963.76 1664.16H972.36" stroke="#3ea66c" stroke-width="1.8" fill="none"/>
<rect x="966.76" y="1661.08" width="2.6" height="2" fill="#3ea66c"/>
<polygon points="982.53,1672.6 993.33,1653.9 971.73,1653.9" fill="#fff" stroke="#3ea66c" stroke-width="2.75" stroke-linejoin="miter"/>
<path d="M982.53 1653.9V1656.75M978.23 1656.75H986.83M982.53 1672.6V1663.52M978.23 1663.52H986.83" stroke="#3ea66c" stroke-width="1.8" fill="none"/>
<rect x="981.23" y="1659.13" width="2.6" height="2" fill="#3ea66c"/>
<polygon points="997,1670.66 1007.8,1651.96 986.2,1651.96" fill="#fff" stroke="#3ea66c" stroke-width="2.75" stroke-linejoin="miter"/>
<path d="M997 1651.96V1656.73M992.7 1656.73H1001.3M997 1670.66V1659.65M992.7 1659.65H1001.3" stroke="#3ea66c" stroke-width="1.8" fill="none"/>
<rect x="995.7" y="1657.19" width="2.6" height="2" fill="#3ea66c"/>
<polygon points="1011.47,1667.75 1022.27,1649.04 1000.67,1649.04" fill="#fff" stroke="#3ea66c" stroke-width="2.75" stroke-linejoin="miter"/>
<path d="M1011.47 1649.04V1653.38M1007.17 1653.38H1015.77M1011.47 1667.75V1657.17M1007.17 1657.17H1015.77" stroke="#3ea66c" stroke-width="1.8" fill="none"/>
<rect x="1010.17" y="1654.28" width="2.6" height="2" fill="#3ea66c"/>
<polygon points="1025.94,1662.89 1036.74,1644.18 1015.14,1644.18" fill="#fff" stroke="#3ea66c" stroke-width="2.75" stroke-linejoin="miter"/>
<path d="M1025.94 1644.18V1648.57M1021.64 1648.57H1030.24M1025.94 1662.89V1652.27M1021.64 1652.27H1030.24" stroke="#3ea66c" stroke-width="1.8" fill="none"/>
<rect x="1024.64" y="1649.42" width="2.6" height="2" fill="#3ea66c"/>
<polygon points="1040.41,1660.95 1051.21,1642.24 1029.61,1642.24" fill="#fff" stroke="#3ea66c" stroke-width="2.75" stroke-linejoin="miter"/>
<path d="M1040.41 1642.24V1645.53M1036.11 1645.53H1044.71M1040.41 1660.95V1651.42M1036.11 1651.42H1044.71" stroke="#3ea66c" stroke-width="1.8" fill="none"/>
<rect x="1039.11" y="1647.48" width="2.6" height="2" fill="#3ea66c"/>
<polygon points="1054.88,1659 1065.68,1640.3 1044.08,1640.3" fill="#fff" stroke="#3ea66c" stroke-width="2.75" stroke-linejoin="miter"/>
<path d="M1054.88 1640.3V1643.18M1050.58 1643.18H1059.18M1054.88 1659V1649.89M1050.58 1649.89H1059.18" stroke="#3ea66c" stroke-width="1.8" fill="none"/>
<rect x="1053.58" y="1645.53" width="2.6" height="2" fill="#3ea66c"/>
<polygon points="1069.35,1657.06 1080.15,1638.36 1058.55,1638.36" fill="#fff" stroke="#3ea66c" stroke-width="2.75" stroke-linejoin="miter"/>
<path d="M1069.35 1638.36V1641.39M1065.05 1641.39H1073.65M1069.35 1657.06V1647.79M1065.05 1647.79H1073.65" stroke="#3ea66c" stroke-width="1.8" fill="none"/>
<rect x="1068.05" y="1643.59" width="2.6" height="2" fill="#3ea66c"/>
<polygon points="1083.82,1655.12 1094.62,1636.41 1073.02,1636.41" fill="#fff" stroke="#3ea66c" stroke-width="2.75" stroke-linejoin="miter"/>
<path d="M1083.82 1636.41V1640.79M1079.52 1640.79H1088.12M1083.82 1655.12V1644.51M1079.52 1644.51H1088.12" stroke="#3ea66c" stroke-width="1.8" fill="none"/>
<rect x="1082.52" y="1641.65" width="2.6" height="2" fill="#3ea66c"/>
<polygon points="1098.29,1653.18 1109.09,1634.47 1087.49,1634.47" fill="#fff" stroke="#3ea66c" stroke-width="2.75" stroke-linejoin="miter"/>
<path d="M1098.29 1634.47V1638.44M1093.99 1638.44H1102.59M1098.29 1653.18V1642.97M1093.99 1642.97H1102.59" stroke="#3ea66c" stroke-width="1.8" fill="none"/>
<rect x="1096.99" y="1639.71" width="2.6" height="2" fill="#3ea66c"/>
<polygon points="1112.76,1651.23 1123.56,1632.53 1101.96,1632.53" fill="#fff" stroke="#3ea66c" stroke-width="2.75" stroke-linejoin="miter"/>
<path d="M1112.76 1632.53V1637.22M1108.46 1637.22H1117.06M1112.76 1651.23V1640.31M1108.46 1640.31H1117.06" stroke="#3ea66c" stroke-width="1.8" fill="none"/>
<rect x="1111.46" y="1637.76" width="2.6" height="2" fill="#3ea66c"/>
<polygon points="1127.23,1649.78 1138.03,1631.07 1116.43,1631.07" fill="#fff" stroke="#3ea66c" stroke-width="2.75" stroke-linejoin="miter"/>
<path d="M1127.23 1631.07V1634.76M1122.93 1634.76H1131.53M1127.23 1649.78V1639.85M1122.93 1639.85H1131.53" stroke="#3ea66c" stroke-width="1.8" fill="none"/>
<rect x="1125.93" y="1636.31" width="2.6" height="2" fill="#3ea66c"/>
<polygon points="1141.7,1648.32 1152.5,1629.61 1130.9,1629.61" fill="#fff" stroke="#3ea66c" stroke-width="2.75" stroke-linejoin="miter"/>
<path d="M1141.7 1629.61V1632.77M1137.4 1632.77H1146M1141.7 1648.32V1638.92M1137.4 1638.92H1146" stroke="#3ea66c" stroke-width="1.8" fill="none"/>
<rect x="1140.4" y="1634.85" width="2.6" height="2" fill="#3ea66c"/>
</g>
<rect x="707.6" y="1427" width="441.9" height="349.7" fill="none" stroke="#000" stroke-width="3.0"/>
<path d="M708.1 1425.5V1778.2M1149.05 1425.5V1778.2" stroke="#000" stroke-width="3.9"/>
<path d="M706.1 1776.7h-5.9M706.1 1708.7h-5.9M706.1 1640.71h-5.9M706.1 1572.71h-5.9M706.1 1504.71h-5.9M706.1 1436.71h-5.9M707.6 1778.2v4.9M779.95 1778.2v4.9M852.3 1778.2v4.9M924.65 1778.2v4.9M997 1778.2v4.9M1069.35 1778.2v4.9M1141.7 1778.2v4.9" stroke="#000" stroke-width="3" fill="none"/>
<path d="M706.1 1742.7h-2.3M706.1 1674.7h-2.3M706.1 1606.71h-2.3M706.1 1538.71h-2.3M706.1 1470.71h-2.3M743.77 1778.2v2.1M816.12 1778.2v2.1M888.48 1778.2v2.1M960.83 1778.2v2.1M1033.17 1778.2v2.1M1105.53 1778.2v2.1" stroke="#000" stroke-width="2.6" fill="none"/>
<text x="696" y="1782.6" text-anchor="end" font-size="19">0</text>
<text x="696" y="1714.6" text-anchor="end" font-size="19">140</text>
<text x="696" y="1646.61" text-anchor="end" font-size="19">280</text>
<text x="696" y="1578.61" text-anchor="end" font-size="19">420</text>
<text x="696" y="1510.61" text-anchor="end" font-size="19">560</text>
<text x="696" y="1442.61" text-anchor="end" font-size="19">700</text>
<text x="707.6" y="1804.4" text-anchor="middle" font-size="20.5">0</text>
<text x="779.95" y="1804.4" text-anchor="middle" font-size="20.5">5</text>
<text x="852.3" y="1804.4" text-anchor="middle" font-size="20.5">10</text>
<text x="924.65" y="1804.4" text-anchor="middle" font-size="20.5">15</text>
<text x="997" y="1804.4" text-anchor="middle" font-size="20.5">20</text>
<text x="1069.35" y="1804.4" text-anchor="middle" font-size="20.5">25</text>
<text x="1141.7" y="1804.4" text-anchor="middle" font-size="20.5">30</text>
<text x="930.8" y="1838.3" text-anchor="middle" font-size="19.7" font-weight="bold">Day (d)</text>
<text x="716.5" y="1451.6" font-size="19" font-weight="bold">(h)</text>
<text transform="translate(637.2,1601.7) rotate(-90)" text-anchor="middle" font-size="20.2" font-weight="bold">Accumulative NH<tspan font-size="13.4" dy="5.6">3</tspan><tspan dy="-5.6">&#8203;</tspan> Emission (mg / kg DM)</text>
</svg></body></html>
